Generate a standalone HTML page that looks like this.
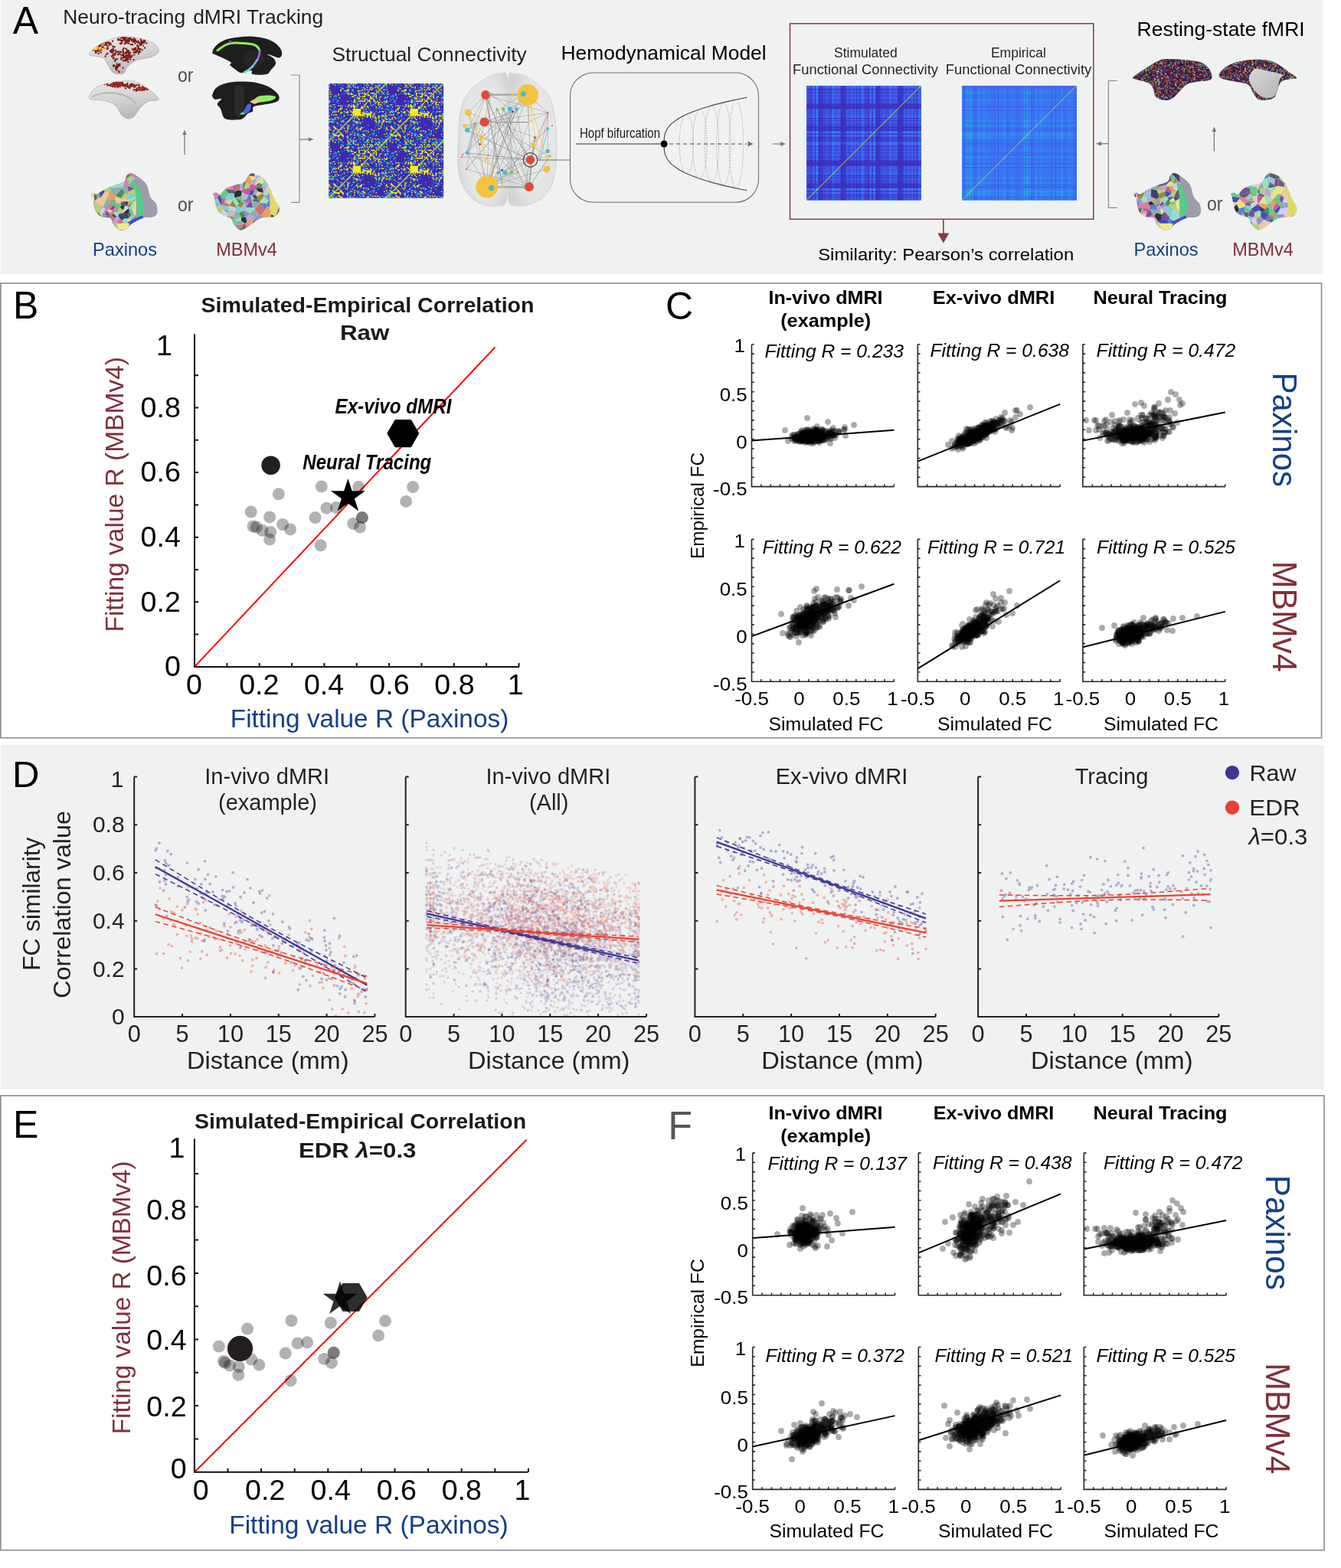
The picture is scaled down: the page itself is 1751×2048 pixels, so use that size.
<!DOCTYPE html><html><head><meta charset="utf-8"><title>Figure</title><style>html,body{margin:0;padding:0;background:#fff;width:1751px;height:2048px;overflow:hidden}svg{display:block}text{font-family:"Liberation Sans",Arial,Helvetica,sans-serif}</style></head><body>
<svg width="1751" height="2048" viewBox="0 0 1751 2048">
<rect x="0" y="0" width="1751" height="2048" fill="#ffffff"/>
<rect x="1" y="0" width="1726" height="358" fill="#f0f2f1"/>
<rect x="1" y="973" width="1728" height="450" fill="#f0f2f1"/>
<rect x="0.85" y="369.9" width="1724.7" height="593.8" fill="none" stroke="#919297" stroke-width="1.7"/>
<rect x="0.85" y="1431.1" width="1728.2" height="593.6" fill="none" stroke="#919297" stroke-width="1.7"/>
<defs><linearGradient id="gNT" x1="0" y1="0" x2="0.3" y2="1"><stop offset="0" stop-color="#e9e9e9"/><stop offset="0.6" stop-color="#d2d2d2"/><stop offset="1" stop-color="#b8b8b8"/></linearGradient><radialGradient id="gGlass" cx="0.55" cy="0.5" r="0.6"><stop offset="0" stop-color="#eceded"/><stop offset="0.75" stop-color="#e3e4e4"/><stop offset="1" stop-color="#d3d4d4"/></radialGradient><linearGradient id="gWall" x1="0" y1="0" x2="1" y2="1"><stop offset="0" stop-color="#d6d6d6"/><stop offset="1" stop-color="#b4b4b4"/></linearGradient></defs>
<text x="16.75" y="43.7" font-size="50" fill="#000">A</text>
<text x="82.2" y="31.3" font-size="25.8" fill="#231f20" textLength="160" lengthAdjust="spacingAndGlyphs">Neuro-tracing</text>
<text x="252.2" y="31.3" font-size="25.8" fill="#231f20" textLength="170" lengthAdjust="spacingAndGlyphs">dMRI Tracking</text>
<text x="232" y="106.7" font-size="25.4" fill="#4d4d4f" textLength="20.5" lengthAdjust="spacingAndGlyphs">or</text>
<text x="232" y="276" font-size="25.4" fill="#4d4d4f" textLength="20.5" lengthAdjust="spacingAndGlyphs">or</text>
<text x="1576" y="275" font-size="25.4" fill="#4d4d4f" textLength="20.5" lengthAdjust="spacingAndGlyphs">or</text>
<text x="121" y="333.5" font-size="24" fill="#153f87" textLength="84" lengthAdjust="spacingAndGlyphs">Paxinos</text>
<text x="282.3" y="333.5" font-size="24" fill="#80303a" textLength="79.5" lengthAdjust="spacingAndGlyphs">MBMv4</text>
<text x="1480.6" y="333.6" font-size="24" fill="#153f87" textLength="84" lengthAdjust="spacingAndGlyphs">Paxinos</text>
<text x="1609.3" y="333.6" font-size="24" fill="#80303a" textLength="79.5" lengthAdjust="spacingAndGlyphs">MBMv4</text>
<text x="433.4" y="79.5" font-size="26" fill="#231f20" textLength="254.3" lengthAdjust="spacingAndGlyphs">Structual Connectivity</text>
<text x="732.6" y="77.5" font-size="26" fill="#000" textLength="268" lengthAdjust="spacingAndGlyphs">Hemodynamical Model</text>
<text x="1130.3" y="74.7" font-size="17.5" fill="#231f20" text-anchor="middle">Stimulated</text>
<text x="1035" y="97.2" font-size="17.5" fill="#231f20" textLength="190" lengthAdjust="spacingAndGlyphs">Functional Connectivity</text>
<text x="1329.9" y="74.7" font-size="17.5" fill="#231f20" text-anchor="middle">Empirical</text>
<text x="1234.8" y="97.2" font-size="17.5" fill="#231f20" textLength="190.5" lengthAdjust="spacingAndGlyphs">Functional Connectivity</text>
<text x="1068.2" y="340.2" font-size="22.5" fill="#000" textLength="334" lengthAdjust="spacingAndGlyphs">Similarity: Pearson’s correlation</text>
<text x="1484.6" y="47.3" font-size="25.5" fill="#000" textLength="219" lengthAdjust="spacingAndGlyphs">Resting-state fMRI</text>
<text x="757" y="179.8" font-size="17.5" fill="#1a1a1a" textLength="105" lengthAdjust="spacingAndGlyphs">Hopf bifurcation</text>
<clipPath id="cNT1"><path d="M116.9 70.1C118.2 67.6 123.7 62.1 130 58.5C136.3 54.9 145.7 49.9 154.7 48.5C163.7 47.1 176 48.7 184 50.3C192 51.9 198.7 55.1 202.5 58C206.3 60.9 208.1 65 207.1 67.8C206.1 70.6 201.3 72.9 196.4 74.7C191.5 76.5 182.9 76.4 177.8 78.6C172.7 80.8 168.8 85 166 88C163.2 91 163.9 95.1 160.9 96.3C157.9 97.5 151.3 96.9 148 95C144.7 93.1 143 88 140.8 84.7C138.6 81.5 137.8 77.4 134.7 75.5C131.6 73.6 125.3 74.1 122.3 73.2C119.3 72.3 115.6 72.5 116.9 70.1Z"/></clipPath>
<path d="M116.9 70.1C118.2 67.6 123.7 62.1 130 58.5C136.3 54.9 145.7 49.9 154.7 48.5C163.7 47.1 176 48.7 184 50.3C192 51.9 198.7 55.1 202.5 58C206.3 60.9 208.1 65 207.1 67.8C206.1 70.6 201.3 72.9 196.4 74.7C191.5 76.5 182.9 76.4 177.8 78.6C172.7 80.8 168.8 85 166 88C163.2 91 163.9 95.1 160.9 96.3C157.9 97.5 151.3 96.9 148 95C144.7 93.1 143 88 140.8 84.7C138.6 81.5 137.8 77.4 134.7 75.5C131.6 73.6 125.3 74.1 122.3 73.2C119.3 72.3 115.6 72.5 116.9 70.1Z" fill="url(#gNT)" stroke="#9a9a9a" stroke-width="0.5"/>
<g clip-path="url(#cNT1)">
<path d="M183.9 57.8h0M167.5 54h0M187.1 59.6h0M148.3 86.6h0M177.1 68.7h0M168.3 74.1h0M124.9 60.9h0M161.7 73.9h0M161.8 50.1h0M170.7 72.3h0M166.3 77.3h0M154.1 51h0M156 94.1h0M162.8 50.6h0M188.3 52.6h0M171.1 52.1h0M165.8 78.8h0M162.5 74.9h0M177.7 67.3h0M159.8 49.8h0M124 60.4h0M150.4 71.2h0M168.9 72.3h0M168.5 52.1h0M122.5 62.3h0M155.3 52.4h0M144.8 58.2h0M162.7 50.5h0M165.8 73.7h0M151 86.4h0M163 69.7h0M155.6 84.4h0M166.9 52h0M126.6 63.2h0M138.6 58.9h0M179.3 59.8h0M159.9 53h0M170.5 74.7h0M155.7 85.8h0M145.7 68.4h0M167.5 55.2h0M128.3 66.7h0M144.5 57.4h0M168 50.5h0M126.9 67.3h0M127.4 58.1h0M157.4 57.3h0M153 76.9h0M125.9 61.7h0M165.8 65.3h0M157.6 49.4h0M180.6 55.5h0M166.2 52.4h0M167.9 70.1h0M176.6 53.8h0M175.3 71.6h0M127.1 59.8h0M165.5 71.9h0M165.8 77.1h0M175.1 49.2h0M167.8 68.5h0M168.9 72.8h0M183.1 59.2h0M165.8 68.1h0M172.7 64.7h0M124.4 64.3h0M146 73.5h0M179.8 55.4h0M174.4 54.2h0M134 60.2h0M167.3 54.3h0M172.7 72.9h0M160.7 88.7h0M166.6 56h0M163.9 56.7h0M183.1 57.2h0M166.4 53.1h0M131.1 57.3h0M128 63h0M131 58.3h0M150.8 66.5h0M164.9 48.5h0M168.4 52.4h0M154.8 47.7h0M176.7 56.8h0M155 93.3h0M138.9 70.9h0M127.2 61.3h0M181.9 56.2h0M187.1 54.5h0M131.9 68.6h0M166.6 50.1h0M136.1 58.3h0M157.5 71.4h0M175.7 55.3h0M188.5 55.9h0M173.2 63.7h0M149 72.1h0M143.8 56.5h0M168 56.8h0M127.8 60.5h0M162.8 53.4h0" stroke="#a8281a" stroke-width="2.4" stroke-linecap="round" stroke-opacity="1.0" fill="none"/>
<path d="M118.8 60.9h0M158.8 55.8h0M165.9 76.4h0M164.2 79.3h0M148.6 85.2h0M160.6 64.9h0M176.7 51.8h0M178.3 65.9h0M183.3 58.1h0M164 72.9h0M124.6 66.9h0M140.6 61.5h0M184.8 58h0M122.2 63.2h0M161.3 71.9h0M133.7 56.9h0M161.7 62.9h0M154.6 84.5h0M166.4 78h0M139.4 59h0M180.8 70.1h0M163.8 75.5h0M148.5 75h0M179 65.7h0M170.1 68.7h0M132.1 60.4h0M180.4 61.8h0M175.1 51.1h0M180.1 55.4h0M150.3 79.9h0M122.6 62.3h0M153.9 71.2h0M187.4 54.3h0M126 66.1h0M137.6 73.5h0M142.9 56.9h0M169.7 50h0M128.7 69.9h0M144 66.4h0M145.6 65.2h0M155.7 70.5h0M161.1 49.2h0M179.8 59.1h0M175.9 63.2h0M169.9 77.7h0M168.6 68.2h0M186.2 56.1h0M147.1 53.6h0M154.5 67.7h0M144.6 67.4h0M139.9 64h0M125.2 63.7h0M167.6 53.1h0M166.8 72.3h0M131.4 59h0M165.4 75.4h0M183.3 63.9h0M158.3 67.7h0M174.9 64.6h0M168.7 50.3h0M148 85.9h0M130.8 60.9h0M162.8 78.7h0M166.3 67h0M130.4 64.7h0M154.4 86.5h0M157.8 52.7h0M179.6 67.2h0M185.6 65.3h0M150 71.1h0M167.4 80.9h0M171.1 48.1h0M175.1 52.8h0M147.5 66.6h0M156.2 83.8h0M161.2 72.2h0M162.9 57h0M171.4 74.8h0M149.5 61.2h0M158.4 77.7h0M151.2 77.3h0M184.9 53.8h0M167.2 73.6h0M121.1 60.3h0M151 65.7h0M189 62.5h0M164.8 77.9h0M125.6 61.8h0M178.8 54.5h0M164.1 68.6h0M167.9 69.4h0M174.9 65.4h0M164.9 52.3h0M170.7 58.1h0M147.9 76.3h0M151.3 90.2h0M164 69.1h0M161.1 67.5h0M160.2 48.9h0M151.2 88.6h0M166.5 53.5h0M159.6 53.8h0M148.5 70h0M168.9 69.6h0M125.2 62.7h0M127.9 65.1h0M168.5 70.9h0M156.4 85.7h0M127.3 65.4h0M131.1 60.9h0M164.5 63.7h0M181.5 67.4h0M185.3 56.5h0M144.2 57h0M184 55.2h0M137.9 56h0M174.5 68.6h0M176.9 68.2h0M165.5 68h0M182.8 67.9h0M152.1 86.4h0M177.4 62.8h0M140.1 55.9h0M128.2 58.3h0M127.9 64.3h0M173.1 58.6h0M131.3 61.9h0M159.4 72.3h0M142.6 56.8h0M140.4 69.7h0M166.6 77.5h0M128.1 66.1h0M154.9 67.4h0M119.4 57.5h0M167.5 76.5h0M181.5 63.7h0M118.4 65h0M167.9 66.3h0M182.2 66.1h0M169.6 51h0M127.2 64.4h0M161.1 79.2h0M125 58.3h0M180.8 53.9h0M158.4 75.4h0M132.7 62h0M184.1 57h0M121.8 59.2h0M172.4 52.9h0M184.1 52.4h0M167.3 53.2h0M134.5 61.8h0M148.8 85.6h0M163.2 73.4h0M147.6 63.1h0M151 69.2h0M161.2 51.7h0M160.6 71.7h0M137.4 57.7h0M151.7 87.1h0M172.7 53.1h0M125.1 69h0M165.6 52.9h0M147.1 72.1h0M191.3 56.4h0M142.3 59.1h0M162.5 48.1h0M125.2 57.5h0M146.4 73.5h0M168.4 50.1h0M164 51.9h0M128.9 60.4h0M180.7 61.2h0M161.4 74.5h0M138.3 57.8h0M164.3 54.9h0M166.4 53.5h0M128 60.7h0M154.6 86.1h0M160.8 75.7h0M162.5 51.7h0M163.3 49.6h0M132.3 65.4h0M160.6 69.7h0M146.7 68.4h0M146.4 67h0M172.4 53.5h0M131 67h0M128.7 61.3h0M156.4 51.8h0M152.4 91.4h0M150.2 78.5h0M177.7 67.9h0M126.9 57.6h0M182.3 68.1h0M119 58h0M185 55.9h0M121 65h0M130.3 58.4h0M177.2 52.9h0M122.8 56.1h0M184.9 54.4h0M153.1 67.9h0M140.8 63.3h0M122.4 65h0M132 66h0M152.7 83.6h0M139 56.7h0M146.5 65.3h0M167.9 72h0M187.2 55.2h0M163.7 50.9h0M169.2 74.9h0M188 53.3h0M172.8 51.5h0M125.6 61.8h0M154.3 52.1h0M167.2 73h0M174.8 54.8h0M152.9 86.5h0M148.3 66.4h0M165.2 72.8h0M172.1 51.3h0M157 56.8h0M171 74.1h0M153.1 88.8h0M129.7 60h0M124.6 63.6h0M165.3 69.6h0M157 68.3h0M168.9 53.5h0M124.4 65.7h0M176.6 64.3h0M122.7 60h0M127.5 62.4h0M159.1 56.2h0M189.4 53.8h0M160.9 67h0M167.3 72.2h0M127.1 58.1h0M180.3 63.8h0M175.5 68.3h0M124.1 65.4h0M164.9 55.5h0M128.5 58.7h0M177 53.4h0M172.4 57.9h0M177.5 65.9h0M136.7 58.6h0M128.4 59.9h0M127.3 58.6h0M165.7 76.3h0M141.5 55.2h0M148.4 65.7h0M128.6 56.6h0M183.9 51.5h0M174.5 78.1h0M147.4 60.4h0" stroke="#7a1c14" stroke-width="2.4" stroke-linecap="round" stroke-opacity="1.0" fill="none"/>
<path d="M127.2 58.9h0M125.3 55.4h0M136.1 57.6h0M124.4 61.7h0M127.9 58.3h0M124.9 62.9h0M136.5 63.2h0M125.9 62.2h0M125 54.6h0M122.7 60.4h0M127.6 62.2h0M127.7 63.5h0M124.7 62.9h0M124.3 57.1h0M132 66.4h0M132.5 54.4h0M128.9 62.7h0M124.6 63.7h0M134 56.5h0M123.6 65h0M123 57h0M126 63.3h0M128 63.6h0M121.4 64.3h0M127.6 53.2h0M132.4 61.9h0M130.3 64.7h0M127.9 56.8h0M127.1 60.3h0M128.2 61.9h0M126.8 63.3h0M122.2 58h0M122.4 57.2h0M126.2 60h0M133 60h0M129 55.7h0M131.4 62.6h0M128.5 62.2h0M121.3 63.6h0M122.3 56.1h0" stroke="#e07818" stroke-width="2.4" stroke-linecap="round" stroke-opacity="1.0" fill="none"/>
<path d="M122.7 64.3h0M124.3 61.5h0M123.3 64.2h0M127.3 59.7h0M126.2 62h0M126.6 61.6h0M125.2 64.2h0M124.4 62.6h0M129.8 62.9h0M124 58.5h0M125.3 62.8h0M125.7 58.9h0M122.9 59.2h0M126.3 64.6h0M125.1 57.2h0M131.2 62.1h0M123.9 62.6h0M125 57.9h0" stroke="#f5e040" stroke-width="2.2" stroke-linecap="round" stroke-opacity="1.0" fill="none"/>
</g>
<clipPath id="cNT2"><path d="M116.9 124.8C118.4 121.8 121.2 115.7 128.5 112.5C135.8 109.3 151.9 106.4 160.9 105.8C169.9 105.2 174.8 105.1 182.5 108.9C190.2 112.7 205.3 124.8 207.1 128.7C208.9 132.6 197.2 130.6 193.3 132.5C189.5 134.4 187.1 136.9 184 140.2C180.9 143.4 177.7 149.5 175 152C172.3 154.5 170.6 155.2 168 155C165.4 154.8 162.3 154 159.3 151C156.3 148 154.5 140.4 150.1 137.1C145.7 133.8 138.2 132.2 133.1 131C128 129.8 122 131.2 119.3 130.2C116.6 129.2 115.4 127.8 116.9 124.8Z"/></clipPath>
<path d="M116.9 124.8C118.4 121.8 121.2 115.7 128.5 112.5C135.8 109.3 151.9 106.4 160.9 105.8C169.9 105.2 174.8 105.1 182.5 108.9C190.2 112.7 205.3 124.8 207.1 128.7C208.9 132.6 197.2 130.6 193.3 132.5C189.5 134.4 187.1 136.9 184 140.2C180.9 143.4 177.7 149.5 175 152C172.3 154.5 170.6 155.2 168 155C165.4 154.8 162.3 154 159.3 151C156.3 148 154.5 140.4 150.1 137.1C145.7 133.8 138.2 132.2 133.1 131C128 129.8 122 131.2 119.3 130.2C116.6 129.2 115.4 127.8 116.9 124.8Z" fill="url(#gNT)" stroke="#9a9a9a" stroke-width="0.5"/>
<g clip-path="url(#cNT2)">
<path d="M119.9 126.8C136.9 116.8 166.9 120.8 176.9 134.8" stroke="#a0a0a0" stroke-width="2" fill="none" opacity="0.6"/>
<path d="M153.3 109.1h0M169.1 115.1h0M166.5 108.8h0M191.6 116.5h0M179.4 115.5h0M166.3 113.2h0M158 110.4h0M171 109.9h0M165.5 110.3h0M151.5 144.9h0M160.2 108.1h0M148.5 147.3h0M184.4 117.7h0M171.9 112.5h0M159.3 111.8h0M156.7 108.9h0M149.4 112.1h0M156.6 108.6h0M149.5 110.8h0M164 115.4h0M139.9 109.7h0M147.7 112.4h0M150.8 146.1h0M157.2 109.3h0M140.5 111.5h0M149.9 143.7h0M172.7 109.8h0M184.9 117.5h0M188.8 117.3h0M174.8 117.1h0M149.8 138.3h0M153.3 108.1h0M172 111h0M164.9 112.1h0M185.8 117.5h0M155.4 111.2h0M154.8 111.8h0M174.9 110.7h0M162.5 110.6h0M162.5 112.7h0M188.2 117.5h0M163.4 112.1h0M186 116.6h0M166.3 110.5h0M165.7 111.3h0M159.7 109.9h0M178.4 110.9h0M189.5 115.3h0M171.4 110.5h0M143.6 111h0M151.3 107.1h0M185.4 114.6h0M144.6 112.2h0M170 111h0M149.1 108.7h0M176.7 112.4h0M153.6 114.1h0M155.9 111.1h0M163.3 111.3h0M153.7 111h0M177.7 116.6h0M150 110.1h0M167.6 113.8h0M148 109.7h0M159.4 108.3h0M154.8 111h0M147.9 110.2h0M161.7 110.7h0M179.7 117h0M148.2 111.1h0M185.9 114.2h0M182.8 114.4h0M156 108.7h0M152.3 110.3h0M150.6 139h0M162.9 110.4h0M154 112.2h0M149.7 108.4h0M148 109.4h0M193 116.5h0M174.6 111.4h0M162.7 110.7h0M145.6 110.1h0M150.9 141.2h0M160.3 111.4h0M175.5 111.9h0M181.4 113.9h0M173.3 110.7h0M174.3 112.2h0M155.8 108.8h0M148.6 139.4h0M157.2 109.5h0M162.5 112.2h0M179.1 116.9h0M166.6 112.6h0M150.8 112.3h0M153.3 110.5h0M164.6 111.8h0M149.7 111.9h0M146.6 110h0M146.8 109.8h0M149 138.5h0M181.1 111.4h0M175.4 111.3h0M150.4 113.5h0M188.1 116.2h0M177.9 118.8h0M170 113.5h0M147 113h0M156.6 110.4h0M157.5 108.6h0M162 112h0M163.5 112.2h0M181.4 117.2h0M155.9 112.5h0" stroke="#7a1c14" stroke-width="2.4" stroke-linecap="round" stroke-opacity="1.0" fill="none"/>
<path d="M151.4 109.8h0M190.9 115.8h0M175 113.7h0M147.4 109.3h0M169.4 113.6h0M182.8 113.9h0M157.9 110.5h0M152.1 108.7h0M186.9 114.2h0M182.4 115.6h0M155.9 108.4h0M157.6 108.8h0M172.8 110.6h0M165.7 111.1h0M158.2 110.8h0M151.9 111.9h0M150.2 139.6h0M175.4 117.5h0M188.8 115.1h0M156.6 108.9h0M169 112.1h0M184.7 116h0M182.2 117.5h0M182.5 114.9h0M185.2 117.7h0M181.5 110.8h0M185 116.3h0M177.1 113.3h0M162.4 112.4h0M156.7 108.1h0M155.8 109h0M150.1 113.3h0M143.3 111.2h0M141.4 111.1h0M156.9 113h0M157.9 108.6h0M156.2 108.8h0M151 140.4h0M155.4 107.7h0M152.3 107.8h0M156.9 108.9h0M180.2 117.4h0M157.3 110.8h0M148.3 138.6h0M157.9 108h0M174.8 111.2h0M186.3 112.9h0M149.8 110.2h0M136.7 110h0M153.8 111.9h0M147.7 107.5h0M188.5 114.9h0" stroke="#a8281a" stroke-width="2.4" stroke-linecap="round" stroke-opacity="1.0" fill="none"/>
</g>
<path d="M277.2 68.8C277.2 66.8 279.2 62.6 282 59.8C284.8 57 289 53.9 294 52C299 50.1 306 49.1 312 48.4C318 47.7 324 47.4 330 47.8C336 48.2 343 49.3 348 50.8C353 52.3 356.8 54.4 360 56.8C363.2 59.2 365.8 62.6 367.1 65.2C368.4 67.8 368.3 70.7 367.7 72.4C367.1 74.1 365.6 75.4 363.5 75.4C361.4 75.4 357.4 73.2 355 72.5C352.6 71.8 348.7 70.4 349 71C349.3 71.6 355.2 74 357 76C358.8 78 360.5 80.7 360 83.2C359.5 85.7 356 88.7 354 91C352 93.3 352 96 348 97C344 98 333.3 97.8 330 97C326.7 96.2 330.5 92.3 328 92C325.5 91.7 318.7 95.6 315 95.2C311.3 94.8 308.5 91.6 306 89.8C303.5 88 300.7 85.7 300 84.4C299.3 83.1 303 83.2 302 82C301 80.8 297.3 78.9 294 77.2C290.7 75.5 284.8 73.2 282 71.8C279.2 70.4 277.2 70.8 277.2 68.8Z" fill="#1e1e1e"/>
<path d="M327 67C333 64 340 66 345 72C347 80 340 88 330 89C320 88 316 80 318 74C320 70 323 68 327 67Z" fill="#262626"/>
<path d="M284 65.8C285.7 64.7 290.8 60.6 294 59C297.2 57.4 299 56.6 303 56.2C307 55.8 313.5 56.2 318 56.5C322.5 56.8 327 57.2 330 58C333 58.8 334.5 59.7 336 61C337.5 62.3 338.5 65.2 339 66" stroke="#8af05a" stroke-width="3.0" fill="none" stroke-linecap="round"/>
<path d="M339 66C338.9 67 339 70 338.5 72C338 74 336.4 77 336 78" stroke="#b060f0" stroke-width="2.6" fill="none" stroke-linecap="round"/>
<path d="M336 78C335.2 79.2 332.8 82.8 331 85C329.2 87.2 327 89.4 325 91C323 92.6 320 93.9 319 94.5" stroke="#60c0f0" stroke-width="2.6" fill="none" stroke-linecap="round"/>
<path d="M331 86C327 90 322 93 318 95" stroke="#70e0c0" stroke-width="2" fill="none"/>
<circle cx="300.5" cy="54.5" r="1.8" fill="#8a50b0"/>
<path d="M277.2 124C277.9 122 279.2 117.5 282 115C284.8 112.5 289 110.4 294 109C299 107.6 306 106.9 312 106.6C318 106.3 324 106.3 330 107.2C336 108.1 343 109.9 348 112C353 114.1 357.2 117.2 360 119.8C362.8 122.4 364.7 125.3 364.7 127.6C364.7 129.9 363.8 131.9 360 133.5C356.2 135.1 346.8 136.1 342 137.1C337.2 138.1 333 138.1 331 139.5C329 140.9 331.2 144.1 330 145.5C328.8 146.9 326 146.6 324 148C322 149.4 320 152.6 318 154C316 155.4 316 156.1 312 156.3C308 156.5 298 157.5 294 155.1C290 152.7 289.7 145.2 288 142C286.3 138.8 283.6 138.2 283.8 136C284 133.8 289.5 130 289 129C288.5 128 282.9 130.3 281 130C279.1 129.7 278.4 128 277.8 127C277.2 126 276.5 126 277.2 124Z" fill="#1e1e1e"/>
<path d="M309 112C313 110 318 112 319 120C320 135 318 150 312 154C306 152 305 135 306 122C306 116 307 113 309 112Z" fill="#2a2a2a"/>
<path d="M335 127C341 124 352 124 360 126C361 129 355 132 345 133C338 134 332 134 330 132Z" fill="#90f060"/>
<path d="M326 133C330 129 336 129 340 130C341 132 336 135 332 136Z" fill="#f0c090"/>
<path d="M322 138C324 135 327 134 328 137C328 142 326 146 322 148C318 149 315 149 314 148C317 146 320 143 322 138Z" fill="#4a60f0"/>
<path d="M316 147C319 147 321 148 320 149C317 150 314 150 313 149Z" fill="#70e070"/>
<clipPath id="cPX1"><path d="M118.5 253.2C119 252.4 121.1 251.5 122.3 251.6C123.5 251.7 123.1 254.5 125.4 253.9C127.7 253.3 132.1 249.9 136.2 247.8C140.3 245.8 145.7 243.4 150.1 241.6C154.5 239.8 159.8 239.1 162.4 237C165 234.9 163.9 231.1 165.5 229.3C167.1 227.5 168.9 225.7 171.7 226.2C174.5 226.7 179.2 229.7 182.5 232.3C185.8 234.9 189.4 237.5 191.7 241.6C194 245.7 194.3 252.9 196.4 257C198.5 261.1 202.6 262.9 204.1 266.3C205.6 269.7 206.1 274.3 205.6 277.1C205.1 279.9 204.1 281.9 201 283.2C197.9 284.5 192 283.2 187.1 284.8C182.2 286.4 175.3 290.2 171.7 292.5C168.1 294.8 168.1 297.2 165.5 298.6C162.9 300 159.1 301.4 156.3 300.6C153.5 299.8 150.6 296.6 148.5 294C146.4 291.4 146.5 286.6 143.9 284.8C141.3 283 136.2 284.5 133.1 283.2C130 281.9 127.2 279.9 125.4 277.1C123.6 274.3 122.9 269.1 122.3 266.3C121.7 263.5 122.1 261.8 121.6 260.1C121.1 258.4 119.8 257.4 119.3 256.2C118.8 255 118 254 118.5 253.2Z"/></clipPath>
<g clip-path="url(#cPX1)">
<path d="M118.5 253.2C119 252.4 121.1 251.5 122.3 251.6C123.5 251.7 123.1 254.5 125.4 253.9C127.7 253.3 132.1 249.9 136.2 247.8C140.3 245.8 145.7 243.4 150.1 241.6C154.5 239.8 159.8 239.1 162.4 237C165 234.9 163.9 231.1 165.5 229.3C167.1 227.5 168.9 225.7 171.7 226.2C174.5 226.7 179.2 229.7 182.5 232.3C185.8 234.9 189.4 237.5 191.7 241.6C194 245.7 194.3 252.9 196.4 257C198.5 261.1 202.6 262.9 204.1 266.3C205.6 269.7 206.1 274.3 205.6 277.1C205.1 279.9 204.1 281.9 201 283.2C197.9 284.5 192 283.2 187.1 284.8C182.2 286.4 175.3 290.2 171.7 292.5C168.1 294.8 168.1 297.2 165.5 298.6C162.9 300 159.1 301.4 156.3 300.6C153.5 299.8 150.6 296.6 148.5 294C146.4 291.4 146.5 286.6 143.9 284.8C141.3 283 136.2 284.5 133.1 283.2C130 281.9 127.2 279.9 125.4 277.1C123.6 274.3 122.9 269.1 122.3 266.3C121.7 263.5 122.1 261.8 121.6 260.1C121.1 258.4 119.8 257.4 119.3 256.2C118.8 255 118 254 118.5 253.2Z" fill="#9c9cab"/>
<path d="M163 251.5L157.7 259.1L158.9 260.3L165.6 258.9L166.3 254.7L165.4 253.1Z" fill="#b8d078"/>
<path d="M139.2 274.4L143.5 273.4L146.9 268.9L144 266.5L137.1 272.1L137.7 272.9Z" fill="#e07aa8"/>
<path d="M129.1 244.2L121.1 242.5L113.5 234.2L118.7 234.7L129.4 241.4L129.3 243.9Z" fill="#d0d0e8"/>
<path d="M144.7 277.7L142.5 278.5L139.4 274.9L139.2 274.4L143.5 273.4L147.3 274.4L147.4 274.8Z" fill="#f0c8a0"/>
<path d="M168.7 283.4L165.9 279.7L168.7 276.3L171.5 280.8Z" fill="#606060"/>
<path d="M145.6 280.7L150.1 284.4L152.2 282.6L148 279Z" fill="#3f3f6f"/>
<path d="M158.9 263L158.9 260.3L157.7 259.1L151.7 256.1L149.5 260L152 265.7L157.6 265.9Z" fill="#f0c8a0"/>
<path d="M144.6 294.2L137.2 302.6L136.8 299.1L141.4 294Z" fill="#5ad08a"/>
<path d="M126.9 287.2L122.7 290.6L122.3 292L124.4 293.6L132 291.4L132.9 287.2L132.6 287.1Z" fill="#c75a9e"/>
<path d="M157 271.1L154.1 273.3L150.3 270.2L150.1 269.7L152 265.7L157.6 265.9L158.6 268.4Z" fill="#5ad08a"/>
<path d="M148 277.9L144.7 277.7L147.4 274.8L148.6 276.6Z" fill="#d96b6b"/>
<path d="M145.1 246.3L144.8 249.9L143 250.9L136.7 250.6L135.1 248.1L134.8 247.2L135.9 246.1Z" fill="#b8d078"/>
<path d="M135 294.5L135.5 297.8L130 297.9L132.1 291.8Z" fill="#c0a0d8"/>
<path d="M155.5 279.2L154.3 276.6L154.1 273.3L157 271.1L160.7 274.2L161.8 277.3L161.6 277.9L160.9 278.4Z" fill="#b8d078"/>
<path d="M135.9 287.8L133.3 287L132.9 287.2L132 291.4L132.1 291.8L135 294.5L141 293.8Z" fill="#d96b6b"/>
<path d="M159.3 245.4L158.6 245L145.2 245.4L145.1 246.3L144.8 249.9L151.6 255.1L159.3 246.8Z" fill="#88b0b0"/>
<path d="M130 297.9L127.2 301L113.5 305.6L137.4 305.6L137.6 305.6L137.2 302.6L136.8 299.1L135.5 297.8Z" fill="#9a8fd0"/>
<path d="M166.3 235.3L166.3 234.7L160.7 232.8L158.3 233.6L158.2 233.9L162.9 238.4L165.7 236.2Z" fill="#9a8fd0"/>
<path d="M137.1 272.1L134.6 270.8L134.6 270.7L139.2 260.1L139.7 260L144 262.2L144 266.5Z" fill="#88b0b0"/>
<path d="M149.6 234.6L150.7 236.8L150.8 237.2L144.3 241.5L141 239.3L140 238.1L142.4 232.7Z" fill="#b8d078"/>
<path d="M171.5 236.9L172.6 236.7L176.5 246.7L175 246.5L169.4 243.8L169.4 242.3Z" fill="#6fbf73"/>
<path d="M155.5 279.2L160.9 278.4L163.1 285.3L159.9 287.4L156.9 285.9L154.3 281.8Z" fill="#3f3f6f"/>
<path d="M160.7 232.8L162.3 231L155.7 222L156 227.3L158.3 233.6Z" fill="#9a8fd0"/>
<path d="M139.7 260L139.2 260.1L131.9 257.2L136.7 250.6L143 250.9Z" fill="#f0c8a0"/>
<path d="M160.7 244.4L162.9 238.4L165.7 236.2L169.4 242.3L169.4 243.8L166.4 244.4Z" fill="#e07aa8"/>
<path d="M147 289.2L143.4 286.1L135.9 287.8L141 293.8L141.4 294L144.6 294.2L145.3 294.2L147.6 292.2Z" fill="#e07aa8"/>
<path d="M173.7 235.7L177.7 233L172 229.4Z" fill="#7ad0d8"/>
<path d="M165.4 253.1L166.3 254.7L177.7 253.5L176.5 246.7L175 246.5L168.1 250.1Z" fill="#b8d078"/>
<path d="M156.9 285.9L151 293.3L153.1 294.9L160.4 292.1L159.9 287.4Z" fill="#d96b6b"/>
<path d="M165.9 279.7L161.6 277.9L161.8 277.3L168 271.9L168.5 272.5L168.7 276.3Z" fill="#2f2f2f"/>
<path d="M148 277.9L148 279L152.2 282.6L154.3 281.8L155.5 279.2L154.3 276.6L148.6 276.6Z" fill="#98e0c0"/>
<path d="M164.6 295.8L166.9 300.4L177.7 305.6L137.4 305.6L137.6 305.6L138.2 305.6L155 300.5Z" fill="#4a4ab8"/>
<path d="M118.7 234.7L123.1 233.4L129.4 229.8L113.5 221.2L113.5 221.2L113.5 221.2L113.5 221.2L113.5 234.2Z" fill="#e07aa8"/>
<path d="M172.7 274.4L174.5 280L177.7 281.8L177.7 286.1L177.7 260.8L177.7 257.6Z" fill="#e8e57a"/>
<path d="M160.9 278.4L161.6 277.9L165.9 279.7L168.7 283.4L168.3 284.8L166.5 285.6L163.1 285.3Z" fill="#3f3f6f"/>
<path d="M124.1 283.3L120.5 280.8L124.2 277.3L127.5 277.7L128.4 282.5Z" fill="#a0c0e0"/>
<path d="M133.8 284L129 277.3L129.6 276.8L134 279.4Z" fill="#e8e57a"/>
<path d="M149.6 234.6L150.7 236.8L156 227.3L155.7 222L153.6 221.2L149.2 233.2Z" fill="#d0d0e8"/>
<path d="M166.7 232L166.3 234.7L160.7 232.8L162.3 231L166.4 231.8Z" fill="#d96b6b"/>
<path d="M124.1 283.3L128.4 282.5L132.6 287.1L126.9 287.2Z" fill="#98e0c0"/>
<path d="M168 271.9L168.5 272.5L172.7 274.4L177.7 257.6L177.7 257.3L168 271.5Z" fill="#98e0c0"/>
<path d="M144.3 241.5L145.2 245.4L145.1 246.3L135.9 246.1L141 239.3Z" fill="#5ad08a"/>
<path d="M152.8 221.2L151.2 221.2L177.7 221.2L177.7 221.2L177.7 234.1L177.7 233L172 229.4L171.7 229.2Z" fill="#e07aa8"/>
<path d="M158.6 268.4L157.6 265.9L158.9 263L160.2 263.5L166.7 267.7L166.7 268.9L162.6 269.3Z" fill="#606060"/>
<path d="M149.6 234.6L142.4 232.7L143.2 229.6L149.2 233.2Z" fill="#c75a9e"/>
<path d="M135.8 283.3L142.7 282.9L142.8 282.2L137.3 280.8Z" fill="#9a8fd0"/>
<path d="M126.6 259.9L125.4 247.7L124.8 247.7L122.5 248.7L123.3 262.8Z" fill="#7b4fa0"/>
<path d="M124.1 283.3L120.5 280.8L118.6 281.4L122.7 290.6L126.9 287.2Z" fill="#9a8fd0"/>
<path d="M150.8 237.2L153.6 238.2L158.2 233.9L158.3 233.6L156 227.3L150.7 236.8Z" fill="#c0a0d8"/>
<path d="M167.1 263.3L166.2 259.8L165.6 258.9L158.9 260.3L158.9 263L160.2 263.5Z" fill="#f0c8a0"/>
<path d="M166.3 235.3L166.3 234.7L166.7 232L171.7 229.2L172 229.4L173.7 235.7L172.6 236.7L171.5 236.9Z" fill="#b8d078"/>
<path d="M134.1 284.7L133.3 287L135.9 287.8L143.4 286.1L142.7 282.9L135.8 283.3Z" fill="#3f3f6f"/>
<path d="M168 271.5L166.8 269.1L177.7 260.2L177.7 256.5L177.7 257.3Z" fill="#4b8f5a"/>
<path d="M141 239.3L135.9 246.1L134.8 247.2L133.2 245.8L138.6 237.8L138.8 237.8L140 238.1Z" fill="#3f3f6f"/>
<path d="M175.3 293.2L177.7 305.6L177.7 305.6L177.7 305.6L166.9 300.4Z" fill="#e8e57a"/>
<path d="M171.5 280.8L174.5 280L172.7 274.4L168.5 272.5L168.7 276.3Z" fill="#88b0b0"/>
<path d="M126.6 259.9L130.7 257.4L129.9 250.6L127.4 246.8L125.4 247.7Z" fill="#6fbf73"/>
<path d="M165.2 294.2L172.3 291.2L171.2 287.6L168.3 284.8L166.5 285.6Z" fill="#e8e57a"/>
<path d="M159.3 246.8L151.6 255.1L151.7 256.1L157.7 259.1L163 251.5Z" fill="#4b8f5a"/>
<path d="M164.5 294.9L164.6 295.8L155 300.5L153.1 294.9L160.4 292.1Z" fill="#c0a0d8"/>
<path d="M160.7 244.4L159.3 245.4L159.3 246.8L163 251.5L165.4 253.1L168.1 250.1L166.4 244.4Z" fill="#88b0b0"/>
<path d="M147.6 292.2L151 293.3L153.1 294.9L155 300.5L138.2 305.6L145.3 294.2Z" fill="#b8d078"/>
<path d="M149.2 233.2L153.6 221.2L152.7 221.2L150.7 221.2L142.8 221.2L143.2 229.6Z" fill="#f0c8a0"/>
<path d="M142.5 278.5L139.4 274.9L137.3 280.8L142.8 282.2L143.2 280.7Z" fill="#7b4fa0"/>
<path d="M166.4 244.4L169.4 243.8L175 246.5L168.1 250.1Z" fill="#7b4fa0"/>
<path d="M177.7 253.5L177.7 256.4L166.2 259.8L165.6 258.9L166.3 254.7Z" fill="#7ad0d8"/>
<path d="M129.6 276.8L134.6 270.8L134.6 270.7L123.1 263L122.3 263.3L124.2 277.3L127.5 277.7L129 277.3Z" fill="#b8d078"/>
<path d="M152.7 221.2L153.6 221.2L155.7 222L162.3 231L166.4 231.8Z" fill="#3f3f6f"/>
<path d="M133.2 245.8L138.6 237.8L133.8 237.3L129.4 241.4L129.3 243.9Z" fill="#9a8fd0"/>
<path d="M131.6 231L129.4 229.8L123.1 233.4L133.3 236.6Z" fill="#88b0b0"/>
<path d="M134.1 284.7L133.3 287L132.9 287.2L132.6 287.1L128.4 282.5L127.5 277.7L129 277.3L133.8 284Z" fill="#8f8f3a"/>
<path d="M150.8 237.2L153.6 238.2L158.6 245L145.2 245.4L144.3 241.5Z" fill="#98e0c0"/>
<path d="M126.6 259.9L130.7 257.4L131.9 257.2L139.2 260.1L134.6 270.7L123.1 263L123.3 262.8Z" fill="#f0c8a0"/>
<path d="M135.1 248.1L136.7 250.6L131.9 257.2L130.7 257.4L129.9 250.6Z" fill="#4a4ab8"/>
<path d="M125.4 247.7L127.4 246.8L129.1 244.2L121.1 242.5L124.8 247.7Z" fill="#98e0c0"/>
<path d="M141 293.8L135 294.5L135.5 297.8L136.8 299.1L141.4 294Z" fill="#d96b6b"/>
<path d="M167.5 264.1L166.7 267.7L160.2 263.5L167.1 263.3Z" fill="#3f3f6f"/>
<path d="M124.2 277.3L122.3 263.3L113.5 249.1L113.5 237.8L113.5 258.9L118.6 281.4L120.5 280.8Z" fill="#9a8fd0"/>
<path d="M148 277.9L148 279L145.6 280.7L143.2 280.7L142.5 278.5L144.7 277.7Z" fill="#e07aa8"/>
<path d="M154.3 281.8L152.2 282.6L150.1 284.4L147 289.2L147.6 292.2L151 293.3L156.9 285.9Z" fill="#c0a0d8"/>
<path d="M122.5 248.7L113.5 249.1L113.5 237.8L113.5 221.2L113.5 234.2L121.1 242.5L124.8 247.7Z" fill="#606060"/>
<path d="M138.8 237.8L136.2 228.5L131.6 231L133.3 236.6L133.8 237.3L138.6 237.8Z" fill="#e8e57a"/>
<path d="M167.5 264.1L177.7 260.2L177.7 256.5L177.7 256.4L166.2 259.8L167.1 263.3Z" fill="#98e0c0"/>
<path d="M173.7 235.7L172.6 236.7L176.5 246.7L177.7 253.5L177.7 256.4L177.7 256.5L177.7 257.3L177.7 257.6L177.7 260.8L177.7 234.1L177.7 233Z" fill="#9a8fd0"/>
<path d="M152.7 221.2L166.4 231.8L166.7 232L171.7 229.2L152.8 221.2L150.7 221.2Z" fill="#4b8f5a"/>
<path d="M132 291.4L124.4 293.6L127.2 301L130 297.9L132.1 291.8Z" fill="#98e0c0"/>
<path d="M160.7 274.2L161.8 277.3L168 271.9L168 271.5L166.8 269.1L166.7 268.9L162.6 269.3Z" fill="#d0d0e8"/>
<path d="M151.7 256.1L149.5 260L144 262.2L139.7 260L143 250.9L144.8 249.9L151.6 255.1Z" fill="#e6a060"/>
<path d="M133.8 237.3L129.4 241.4L118.7 234.7L123.1 233.4L133.3 236.6Z" fill="#c0a0d8"/>
<path d="M143.2 280.7L142.8 282.2L142.7 282.9L143.4 286.1L147 289.2L150.1 284.4L145.6 280.7Z" fill="#d96b6b"/>
<path d="M167.5 264.1L177.7 260.2L166.8 269.1L166.7 268.9L166.7 267.7Z" fill="#e6a060"/>
<path d="M166.3 235.3L171.5 236.9L169.4 242.3L165.7 236.2Z" fill="#7ad0d8"/>
<path d="M145.3 294.2L138.2 305.6L137.6 305.6L137.2 302.6L144.6 294.2Z" fill="#e6a060"/>
<path d="M122.3 292L113.5 305.6L113.5 305.6L113.5 305.6L127.2 301L124.4 293.6Z" fill="#a0c0e0"/>
<path d="M164.5 294.9L164.6 295.8L166.9 300.4L175.3 293.2L172.3 291.2L165.2 294.2Z" fill="#d96b6b"/>
<path d="M171.2 287.6L172.3 291.2L175.3 293.2L177.7 305.6L177.7 305.6L177.7 286.1L177.7 281.8Z" fill="#8f8f3a"/>
<path d="M146.9 268.9L150.1 269.7L152 265.7L149.5 260L144 262.2L144 266.5Z" fill="#6fbf73"/>
<path d="M134.8 247.2L133.2 245.8L129.3 243.9L129.1 244.2L127.4 246.8L129.9 250.6L135.1 248.1Z" fill="#f0c8a0"/>
<path d="M148.6 276.6L154.3 276.6L154.1 273.3L150.3 270.2L147.3 274.4L147.4 274.8Z" fill="#e07aa8"/>
<path d="M160.7 244.4L162.9 238.4L158.2 233.9L153.6 238.2L158.6 245L159.3 245.4Z" fill="#98e0c0"/>
<path d="M147.3 274.4L143.5 273.4L146.9 268.9L150.1 269.7L150.3 270.2Z" fill="#7b4fa0"/>
<path d="M142.4 232.7L140 238.1L138.8 237.8L136.2 228.5L142.8 221.2L143.2 229.6Z" fill="#98e0c0"/>
<path d="M150.7 221.2L142.8 221.2L136.2 228.5L131.6 231L129.4 229.8L113.5 221.2L151.2 221.2L152.8 221.2Z" fill="#88b0b0"/>
<path d="M134.1 284.7L135.8 283.3L137.3 280.8L139.4 274.9L139.2 274.4L137.7 272.9L134 279.4L133.8 284Z" fill="#9a8fd0"/>
<path d="M123.3 262.8L123.1 263L122.3 263.3L113.5 249.1L122.5 248.7Z" fill="#e8e57a"/>
<path d="M134 279.4L129.6 276.8L134.6 270.8L137.1 272.1L137.7 272.9Z" fill="#d0d0e8"/>
<path d="M168.7 283.4L168.3 284.8L171.2 287.6L177.7 281.8L174.5 280L171.5 280.8Z" fill="#7ad0d8"/>
<path d="M122.7 290.6L118.6 281.4L113.5 258.9L113.5 305.6L113.5 305.6L122.3 292Z" fill="#b8d078"/>
<path d="M157 271.1L160.7 274.2L162.6 269.3L158.6 268.4Z" fill="#2f2f2f"/>
<path d="M163.1 285.3L166.5 285.6L165.2 294.2L164.5 294.9L160.4 292.1L159.9 287.4Z" fill="#98e0c0"/>
<path d="M172.5 233.6L183 248.5L188.2 270.8L184.7 285.7L179.5 282L177.7 256Z" fill="#4fcf85"/>
<path d="M166.4 290.2L185.6 281.3L188.2 287.2L170.8 296.9Z" fill="#4a4acb"/>
<path d="M151.6 291.7L169 291.7L167.3 300.6L155.1 300.6Z" fill="#eeeb8a"/>
</g>
<clipPath id="cMB1"><path d="M278.1 253.2C278.6 252.3 281.2 251.5 282.7 251.6C284.2 251.7 285.2 254.8 287.3 253.9C289.4 253 291.6 248.2 295 246.2C298.4 244.1 303.5 242.9 307.4 241.6C311.3 240.3 315.4 240.6 318.2 238.5C321 236.4 322.2 231.4 324.3 229.3C326.4 227.2 327.7 225.9 330.5 226.2C333.3 226.4 337.9 228.2 341.3 230.8C344.7 233.4 348 237.2 350.6 241.6C353.2 246 354.4 252.1 356.7 257C359 261.9 363.4 267.3 364.4 270.9C365.4 274.5 364.2 276.6 362.9 278.6C361.6 280.7 360.3 282.2 356.7 283.2C353.1 284.2 345.9 283.2 341.3 284.8C336.7 286.4 332.6 290.2 329 292.5C325.4 294.8 322.3 297.2 319.7 298.6C317.1 300 315.8 301.4 313.5 300.6C311.2 299.8 307.9 296.6 305.8 294C303.8 291.4 303.5 286.9 301.2 284.8C298.9 282.8 294.8 283.2 292 281.7C289.2 280.1 286 278.3 284.2 275.5C282.4 272.7 282 267.8 281.2 264.7C280.4 261.6 280.1 258.9 279.6 257C279.1 255.1 277.6 254.1 278.1 253.2Z"/></clipPath>
<g clip-path="url(#cMB1)">
<path d="M315 329.9L322.4 301.4L319.6 292L319.5 292L318.2 292.8L316.8 296.6Z" fill="#606060"/>
<path d="M291.4 291L297.5 296L299.8 293.8L298.5 288.7L295.2 286.8Z" fill="#e8e57a"/>
<path d="M329.4 255.2L327.2 255L329 263.4L329.9 263L331.9 259.1Z" fill="#b8d078"/>
<path d="M357.5 237.7L355.5 234.1L359.6 225.1L364.9 216.8L564.3 -66.1L766.4 133.3L764.2 200.6L386.4 245.7L379.4 245.2Z" fill="#6fbf73"/>
<path d="M353.4 295.6L353.7 298.4L348.7 310.6L347.7 306.4L348.5 294.5Z" fill="#c75a9e"/>
<path d="M357.8 242.1L355 246.5L353.8 246.5L351.5 242.4L357.1 241.2Z" fill="#7ad0d8"/>
<path d="M307.4 271.1L308.5 269L309.7 268.4L315 271.5L317.7 275.7L312.2 277.8L307 276.5L307 276.4Z" fill="#7ad0d8"/>
<path d="M303.3 242.8L304.9 247.2L292.8 245.8L290.7 244L292.1 242.6L293.4 242.2Z" fill="#e07aa8"/>
<path d="M358.2 287.9L353.1 282.6L345.8 284.6L348.1 289.1Z" fill="#b8d078"/>
<path d="M342.2 242.1L342.3 242.3L348.7 243.3L350.7 241.8L350.1 237.5L344.3 236.9L342.3 240.4Z" fill="#7ad0d8"/>
<path d="M344.9 255.2L350.6 253.9L355.4 254.4L356.2 254.8L358 257.1L356.8 262.3L350.8 262.4L344.9 256Z" fill="#9a8fd0"/>
<path d="M313.3 239.4L309.3 241.9L310.8 248.6L313.8 248.9Z" fill="#8f8f3a"/>
<path d="M299.8 293.8L307.5 295.2L308.1 294.2L308.1 288.8L307.6 287.5L305.5 285.1L298.5 288.7Z" fill="#5ad08a"/>
<path d="M299.1 269.7L296.4 273.5L298.1 274.4L300.7 274.1L299.2 269.6Z" fill="#b8d078"/>
<path d="M355.7 273.8L352.1 274.7L352.6 271.9Z" fill="#d96b6b"/>
<path d="M360.4 247.2L356.6 253.6L356.9 247Z" fill="#7b4fa0"/>
<path d="M315.3 235.8L306 233.2L305.4 234.8L305.5 239.7L309.3 241.9L313.3 239.4Z" fill="#3f3f6f"/>
<path d="M353.5 292L358.6 289.4L359.1 288.4L358.2 287.9L348.1 289.1L348.7 292.3Z" fill="#c75a9e"/>
<path d="M305.3 283.2L306.6 277.3L307 276.5L312.2 277.8L314.4 283.4L307.6 287.5L305.5 285.1Z" fill="#88b0b0"/>
<path d="M318.6 275.6L321 283.9L314.7 283.5L314.4 283.4L312.2 277.8L317.7 275.7Z" fill="#4b8f5a"/>
<path d="M315 329.9L322.4 301.4L328.1 296.1L328.6 296.2L330.6 297L333 304.9L331.5 700.5L295.8 700.3L300.3 464.3L308.9 361.9Z" fill="#d0d0e8"/>
<path d="M299.1 269.7L289.2 268L289.5 267.6L293.5 265.2L295.5 264.6L299.9 267.4L300.1 268.7L299.2 269.6Z" fill="#d96b6b"/>
<path d="M305.4 234.8L296.8 238.9L293.4 242.2L303.3 242.8L305.5 239.7Z" fill="#3f3f6f"/>
<path d="M299.2 269.6L300.1 268.7L307.4 271.1L307 276.4L300.7 274.1Z" fill="#d0d0e8"/>
<path d="M304.9 247.2L292.8 245.8L294.8 248.1L305.4 248.1Z" fill="#d96b6b"/>
<path d="M326.1 263.7L322.3 259.5L317.4 261.8L317.2 262.3L324.5 265.4Z" fill="#c75a9e"/>
<path d="M284 258.7L284.4 257.2L286.8 254.1L289.9 260.1L289.5 267.6L289.2 268L289 268.2L288.6 268.2Z" fill="#4a4ab8"/>
<path d="M340 265L345.7 274.2L348.9 269.9L348.4 265.7Z" fill="#5b7bd5"/>
<path d="M288.5 292.2L288.7 292.1L291.4 291L297.5 296L291.3 310.5L286.7 297.7Z" fill="#d0d0e8"/>
<path d="M322.7 289.6L321.3 284.2L321 283.9L314.7 283.5L314.8 288.2L319.5 292L319.6 292L322.6 289.9Z" fill="#2f2f2f"/>
<path d="M333.7 254.2L335.7 256.5L335.9 259.7L331.9 259.1L329.4 255.2L329.8 255Z" fill="#3f3f6f"/>
<path d="M289.2 280.9L294.4 284L295.2 286.8L291.4 291L288.7 292.1Z" fill="#9a8fd0"/>
<path d="M319.5 292L314.8 288.2L308.1 288.8L308.1 294.2L318.2 292.8Z" fill="#88b0b0"/>
<path d="M331.2 286.7L332.6 284.2L325.6 280.8L321.3 284.2L322.7 289.6Z" fill="#c0a0d8"/>
<path d="M330.4 271.2L321.8 271.2L321.3 269.6L324.5 265.4L326.1 263.7L328.3 264.1Z" fill="#7b4fa0"/>
<path d="M355.4 295.1L358.2 293L358.6 289.4L353.5 292Z" fill="#88b0b0"/>
<path d="M339.2 263.3L339.1 264.3L339.2 264.5L340 265L348.4 265.7L350.8 262.4L344.9 256Z" fill="#98e0c0"/>
<path d="M290.7 244L288 244.7L-21.6 35.3L37.4 -23.9L292.5 234.6L292.1 242.6Z" fill="#4a4ab8"/>
<path d="M346.6 248.3L351.4 248.4L353.5 247.3L353.8 246.5L351.5 242.4L350.7 241.8L348.7 243.3Z" fill="#d0d0e8"/>
<path d="M330.4 271.2L321.8 271.2L320.2 274.4L325.9 278.2L333 273.5L332.9 272.9Z" fill="#98e0c0"/>
<path d="M343.2 251.9L343.2 252.2L335.7 256.5L333.7 254.2L336.6 249.8Z" fill="#f0c8a0"/>
<path d="M295.8 257.1L287 253L286.8 254.1L289.9 260.1L294.2 258.6Z" fill="#6fbf73"/>
<path d="M315.7 250.7L314.7 256.3L317.4 261.8L322.3 259.5L324.4 255.2Z" fill="#a0c0e0"/>
<path d="M335.1 243.6L342.2 242.1L342.3 240.4L337.7 238.4L333.9 242.1Z" fill="#4b8f5a"/>
<path d="M342 230.3L342.1 231.4L343.1 234.9L344.3 236.9L350.1 237.5L350.4 237.2L348.6 232.7L344.6 230.9Z" fill="#b8d078"/>
<path d="M343.3 228.9L348.4 229.8L348.9 230.4L344.6 230.9L342 230.3L341.5 229.4L341.5 229Z" fill="#e8e57a"/>
<path d="M290.9 273.7L296.4 273.5L298.1 274.4L298.1 278.8L297.9 279Z" fill="#88b0b0"/>
<path d="M343.7 250.6L346.6 248.3L351.4 248.4L350.6 253.9L344.9 255.2L343.2 252.2L343.2 251.9Z" fill="#98e0c0"/>
<path d="M329 263.4L327.2 255L325.8 254.5L324.4 255.2L322.3 259.5L326.1 263.7L328.3 264.1Z" fill="#5b7bd5"/>
<path d="M339.8 295.8L339.7 296.5L338.5 297.4L331.8 296L334.2 292.4L338.3 292.5Z" fill="#e07aa8"/>
<path d="M345.7 274.2L345.5 275.2L350.8 275.8L352.1 274.7L352.6 271.9L351.9 270.1L348.9 269.9Z" fill="#e6a060"/>
<path d="M307.6 287.5L314.4 283.4L314.7 283.5L314.8 288.2L308.1 288.8Z" fill="#98e0c0"/>
<path d="M358.2 287.9L353.1 282.6L355.1 279.5L357.4 278.3L379.4 281.8L359.1 288.4Z" fill="#2f2f2f"/>
<path d="M355.2 295.4L355.7 296.6L353.7 298.4L353.4 295.6Z" fill="#606060"/>
<path d="M344.6 230.9L348.6 232.7L349.2 230.5L348.9 230.4Z" fill="#c75a9e"/>
<path d="M315.1 249.3L315.7 250.7L314.7 256.3L307.7 258.1L306.9 258L306.2 257.8L305.3 252.4L306.8 249.9L310.8 248.6L313.8 248.9Z" fill="#2f2f2f"/>
<path d="M322.6 289.9L319.6 292L322.4 301.4L328.1 296.1Z" fill="#e07aa8"/>
<path d="M293.5 265.2L289.5 267.6L289.9 260.1L294.2 258.6Z" fill="#c75a9e"/>
<path d="M348.5 294.5L347.7 306.4L339.7 296.5L339.8 295.8L344.3 294.3L348.4 294.1Z" fill="#b8d078"/>
<path d="M357.1 241.2L351.5 242.4L350.7 241.8L350.1 237.5L350.4 237.2L355.5 234.1L357.5 237.7Z" fill="#88b0b0"/>
<path d="M296.1 230.3L66.4 -53.5L37.4 -23.9L292.5 234.6Z" fill="#606060"/>
<path d="M344.3 294.3L340.3 289.1L338.3 292.5L339.8 295.8Z" fill="#a0c0e0"/>
<path d="M335.7 256.5L343.2 252.2L344.9 255.2L344.9 256L339.2 263.3L335.9 259.7Z" fill="#8f8f3a"/>
<path d="M281.1 261.4L279.4 261.6L281.7 269.9L287.2 268.3Z" fill="#88b0b0"/>
<path d="M355.2 295.4L355.7 296.6L364.2 304.6L358.2 293L355.4 295.1Z" fill="#e6a060"/>
<path d="M317.4 235.6L317.1 247.5L318.8 246.9L321.1 238.2Z" fill="#4b8f5a"/>
<path d="M297.5 296L291.3 310.5L300.3 464.3L308.9 361.9L308 299.4L307.5 295.2L299.8 293.8Z" fill="#f0c8a0"/>
<path d="M284.4 257.2L266.7 257.7L266 257.5L286.5 249.8L287 253L286.8 254.1Z" fill="#e07aa8"/>
<path d="M342.6 246L342.3 242.3L348.7 243.3L346.6 248.3L343.7 250.6Z" fill="#c0a0d8"/>
<path d="M309.3 241.9L310.8 248.6L306.8 249.9L305.4 248.1L304.9 247.2L303.3 242.8L305.5 239.7Z" fill="#c75a9e"/>
<path d="M321.3 269.6L318.2 266.4L316.4 263.8L317.2 262.3L324.5 265.4Z" fill="#88b0b0"/>
<path d="M293.5 265.2L294.2 258.6L295.8 257.1L296.5 257L299.2 260.5L295.5 264.6Z" fill="#7ad0d8"/>
<path d="M331.4 287.3L334.2 292.4L331.8 296L330.6 297L328.6 296.2Z" fill="#3f3f6f"/>
<path d="M321.4 225.9L316.9 177.5L304.5 229.4L306 233.2L315.3 235.8L317.3 235.4Z" fill="#c75a9e"/>
<path d="M343.3 228.9L346.9 228.5L348.1 229.2L348.4 229.8Z" fill="#8f8f3a"/>
<path d="M333.9 242.1L332.2 241.2L335.1 234.7L337.1 236.3L337.7 237.1L337.7 238.4Z" fill="#f0c8a0"/>
<path d="M340 265L339.2 264.5L332.9 272.9L333 273.5L337.9 280.1L341.4 281L345.5 275.2L345.7 274.2Z" fill="#d96b6b"/>
<path d="M296.6 282.1L305.3 283.2L305.5 285.1L298.5 288.7L295.2 286.8L294.4 284Z" fill="#c75a9e"/>
<path d="M281.1 261.4L287.2 268.3L288.6 268.2L284 258.7Z" fill="#7ad0d8"/>
<path d="M355.7 273.8L352.6 271.9L351.9 270.1L354.1 269L356.7 272.3L356 273.8Z" fill="#9a8fd0"/>
<path d="M356 273.8L357.4 278.3L379.4 281.8L397.6 279.7L365.1 268.5L356.7 272.3Z" fill="#3f3f6f"/>
<path d="M317.6 165.5L329.3 -173.1L334.7 -173.2L340.6 226.4L333 230.5Z" fill="#e8e57a"/>
<path d="M357.8 242.1L355 246.5L356.9 247L360.4 247.2L365.5 245.5Z" fill="#e8e57a"/>
<path d="M347.7 306.4L339.7 296.5L338.5 297.4L333 304.9L331.5 700.5L404.2 702.2L348.7 310.6Z" fill="#d96b6b"/>
<path d="M329.8 255L329.4 255.2L327.2 255L325.8 254.5L326.4 247.7L332.4 248.7Z" fill="#4a4ab8"/>
<path d="M316.8 296.6L318.2 292.8L308.1 294.2L307.5 295.2L308 299.4Z" fill="#d96b6b"/>
<path d="M306.9 258L312.2 266.1L309.7 268.4L308.5 269L303.5 261.7L303.4 261.3L306.2 257.8Z" fill="#98e0c0"/>
<path d="M321.1 238.2L318.8 246.9L325.4 245.5L326.7 241.4Z" fill="#b8d078"/>
<path d="M298.7 230.6L296.1 230.3L66.4 -53.5L185.8 -177.4L329.3 -173.1L317.6 165.5L316.9 177.5L304.5 229.4Z" fill="#5b7bd5"/>
<path d="M317.3 235.4L315.3 235.8L313.3 239.4L313.8 248.9L315.1 249.3L317.1 247.5L317.4 235.6Z" fill="#c0a0d8"/>
<path d="M317.1 247.5L318.8 246.9L325.4 245.5L326.4 247.7L325.8 254.5L324.4 255.2L315.7 250.7L315.1 249.3Z" fill="#c75a9e"/>
<path d="M281.1 261.4L279.4 261.6L266.7 257.7L284.4 257.2L284 258.7Z" fill="#9a8fd0"/>
<path d="M307.7 258.1L316.1 263.9L316.4 263.8L317.2 262.3L317.4 261.8L314.7 256.3Z" fill="#6fbf73"/>
<path d="M307.4 271.1L308.5 269L303.5 261.7L299.9 267.4L300.1 268.7Z" fill="#8f8f3a"/>
<path d="M335.9 259.7L331.9 259.1L329.9 263L339.1 264.3L339.2 263.3Z" fill="#606060"/>
<path d="M348.1 229.2L350.3 226.7L346.9 228.5Z" fill="#98e0c0"/>
<path d="M335.2 245L335.1 243.6L333.9 242.1L332.2 241.2L328.1 240.6L326.7 241.4L325.4 245.5L326.4 247.7L332.4 248.7L335.3 248.1Z" fill="#c75a9e"/>
<path d="M333 304.9L338.5 297.4L331.8 296L330.6 297Z" fill="#4b8f5a"/>
<path d="M325.7 229.8L332.8 230.7L333 230.5L317.6 165.5L316.9 177.5L321.4 225.9Z" fill="#7b4fa0"/>
<path d="M297.9 279L298.1 278.8L306.6 277.3L305.3 283.2L296.6 282.1Z" fill="#b8d078"/>
<path d="M306.9 258L312.2 266.1L316.1 263.9L307.7 258.1Z" fill="#4b8f5a"/>
<path d="M341.4 281L342.8 282.9L345.8 284.6L353.1 282.6L355.1 279.5L350.8 275.8L345.5 275.2Z" fill="#e6a060"/>
<path d="M365.5 245.5L360.4 247.2L356.6 253.6L356.2 254.8L358 257.1L386.4 245.7L379.4 245.2Z" fill="#9a8fd0"/>
<path d="M295.8 257.1L287 253L286.5 249.8L288 244.7L290.7 244L292.8 245.8L294.8 248.1L298.2 252.6L296.5 257Z" fill="#5ad08a"/>
<path d="M260 281.4L281.7 269.9L279.4 261.6L266.7 257.7L266 257.5L-121.5 275.9L-121.5 292L251.1 282.8Z" fill="#7ad0d8"/>
<path d="M359.1 288.4L379.4 281.8L397.6 279.7L763.8 306.7L767.1 393.9L568.2 591.5L364.2 304.6L358.2 293L358.6 289.4Z" fill="#9a8fd0"/>
<path d="M351.4 248.4L353.5 247.3L355.4 254.4L350.6 253.9Z" fill="#7b4fa0"/>
<path d="M325.7 229.8L332.8 230.7L333.4 233.4L328.6 236.1Z" fill="#e8e57a"/>
<path d="M348.4 229.8L348.1 229.2L350.3 226.7L364.9 216.8L359.6 225.1L349.2 230.5L348.9 230.4Z" fill="#6fbf73"/>
<path d="M331.2 286.7L322.7 289.6L322.6 289.9L328.1 296.1L328.6 296.2L331.4 287.3Z" fill="#e6a060"/>
<path d="M355 246.5L356.9 247L356.6 253.6L356.2 254.8L355.4 254.4L353.5 247.3L353.8 246.5Z" fill="#88b0b0"/>
<path d="M305.4 234.8L296.8 238.9L298.7 230.6L304.5 229.4L306 233.2Z" fill="#8f8f3a"/>
<path d="M321.8 271.2L320.2 274.4L318.6 275.6L317.7 275.7L315 271.5L318.2 266.4L321.3 269.6Z" fill="#a0c0e0"/>
<path d="M337.9 280.1L332.6 284.2L331.2 286.7L331.4 287.3L334.2 292.4L338.3 292.5L340.3 289.1L342.8 282.9L341.4 281Z" fill="#9a8fd0"/>
<path d="M290.9 273.7L296.4 273.5L299.1 269.7L289.2 268L289 268.2L290.9 273.6Z" fill="#7ad0d8"/>
<path d="M337.7 238.4L337.7 237.1L343.1 234.9L344.3 236.9L342.3 240.4Z" fill="#e8e57a"/>
<path d="M299.2 260.5L303.4 261.3L306.2 257.8L305.3 252.4L298.2 252.6L296.5 257Z" fill="#7ad0d8"/>
<path d="M342.6 246L335.2 245L335.3 248.1L336.6 249.8L343.2 251.9L343.7 250.6Z" fill="#2f2f2f"/>
<path d="M343.3 228.9L346.9 228.5L350.3 226.7L364.9 216.8L564.3 -66.1L456.6 -177.2L334.7 -173.2L340.6 226.4L341.5 229Z" fill="#d0d0e8"/>
<path d="M315 329.9L316.8 296.6L308 299.4L308.9 361.9Z" fill="#4b8f5a"/>
<path d="M358 257.1L386.4 245.7L764.2 200.6L763.8 306.7L397.6 279.7L365.1 268.5L357 262.7L356.8 262.3Z" fill="#d0d0e8"/>
<path d="M328.1 240.6L332.2 241.2L335.1 234.7L335 234.4L333.4 233.4L328.6 236.1Z" fill="#c0a0d8"/>
<path d="M348.7 292.3L348.1 289.1L345.8 284.6L342.8 282.9L340.3 289.1L344.3 294.3L348.4 294.1Z" fill="#4b8f5a"/>
<path d="M251.1 282.8L-121.5 292L-126.1 394.7L184.8 706L295.8 700.3L300.3 464.3L291.3 310.5L286.7 297.7Z" fill="#e8e57a"/>
<path d="M279.2 282.9L288.6 280.3L289.2 280.9L288.7 292.1L288.5 292.2Z" fill="#8f8f3a"/>
<path d="M342.6 246L342.3 242.3L342.2 242.1L335.1 243.6L335.2 245Z" fill="#4b8f5a"/>
<path d="M357.8 242.1L365.5 245.5L379.4 245.2L357.5 237.7L357.1 241.2Z" fill="#e6a060"/>
<path d="M329.9 263L339.1 264.3L339.2 264.5L332.9 272.9L330.4 271.2L328.3 264.1L329 263.4Z" fill="#88b0b0"/>
<path d="M356.7 272.3L365.1 268.5L357 262.7L354.1 269Z" fill="#f0c8a0"/>
<path d="M260 281.4L279.2 282.9L288.5 292.2L286.7 297.7L251.1 282.8Z" fill="#7ad0d8"/>
<path d="M353.7 298.4L348.7 310.6L404.2 702.2L456.8 704.4L568.2 591.5L364.2 304.6L355.7 296.6Z" fill="#5ad08a"/>
<path d="M355.2 295.4L353.4 295.6L348.5 294.5L348.4 294.1L348.7 292.3L353.5 292L355.4 295.1Z" fill="#5b7bd5"/>
<path d="M336.6 249.8L333.7 254.2L329.8 255L332.4 248.7L335.3 248.1Z" fill="#88b0b0"/>
<path d="M309.7 268.4L315 271.5L318.2 266.4L316.4 263.8L316.1 263.9L312.2 266.1Z" fill="#8f8f3a"/>
<path d="M337.7 237.1L343.1 234.9L342.1 231.4L337.1 236.3Z" fill="#d0d0e8"/>
<path d="M295.5 264.6L299.9 267.4L303.5 261.7L303.4 261.3L299.2 260.5Z" fill="#f0c8a0"/>
<path d="M341.5 229L340.6 226.4L333 230.5L332.8 230.7L333.4 233.4L335 234.4L341.5 229.4Z" fill="#a0c0e0"/>
<path d="M341.5 229.4L335 234.4L335.1 234.7L337.1 236.3L342.1 231.4L342 230.3Z" fill="#f0c8a0"/>
<path d="M325.7 229.8L328.6 236.1L328.1 240.6L326.7 241.4L321.1 238.2L317.4 235.6L317.3 235.4L321.4 225.9Z" fill="#e6a060"/>
<path d="M305.3 252.4L298.2 252.6L294.8 248.1L305.4 248.1L306.8 249.9Z" fill="#606060"/>
<path d="M266 257.5L-121.5 275.9L-124 133.2L-21.6 35.3L288 244.7L286.5 249.8Z" fill="#7b4fa0"/>
<path d="M289.2 280.9L294.4 284L296.6 282.1L297.9 279L290.9 273.7L290.9 273.6L288.6 280.3Z" fill="#d0d0e8"/>
<path d="M348.6 232.7L350.4 237.2L355.5 234.1L359.6 225.1L349.2 230.5Z" fill="#e6a060"/>
<path d="M298.7 230.6L296.1 230.3L292.5 234.6L292.1 242.6L293.4 242.2L296.8 238.9Z" fill="#98e0c0"/>
<path d="M260 281.4L281.7 269.9L287.2 268.3L288.6 268.2L289 268.2L290.9 273.6L288.6 280.3L279.2 282.9Z" fill="#b8d078"/>
<path d="M300.7 274.1L307 276.4L307 276.5L306.6 277.3L298.1 278.8L298.1 274.4Z" fill="#a0c0e0"/>
<path d="M325.9 278.2L325.6 280.8L321.3 284.2L321 283.9L318.6 275.6L320.2 274.4Z" fill="#9a8fd0"/>
<path d="M337.9 280.1L332.6 284.2L325.6 280.8L325.9 278.2L333 273.5Z" fill="#88b0b0"/>
<path d="M355.7 273.8L352.1 274.7L350.8 275.8L355.1 279.5L357.4 278.3L356 273.8Z" fill="#4b8f5a"/>
<path d="M348.4 265.7L350.8 262.4L356.8 262.3L357 262.7L354.1 269L351.9 270.1L348.9 269.9Z" fill="#5b7bd5"/>
<path d="M347.1 237.4L357.5 256L364.4 270.8L360.1 284.2L352.3 278.3L352.3 256Z" fill="#e2d86a"/>
</g>
<clipPath id="cPX2"><path d="M1481 253.2C1481.5 252.4 1483.6 251.5 1484.8 251.6C1486 251.7 1485.6 254.5 1487.9 253.9C1490.2 253.3 1494.6 249.9 1498.7 247.8C1502.8 245.8 1508.2 243.4 1512.6 241.6C1517 239.8 1522.3 239.1 1524.9 237C1527.5 234.9 1526.5 231.1 1528 229.3C1529.5 227.5 1531.4 225.7 1534.2 226.2C1537 226.7 1541.7 229.7 1545 232.3C1548.3 234.9 1551.9 237.5 1554.2 241.6C1556.5 245.7 1556.8 252.9 1558.9 257C1561 261.1 1565.1 262.9 1566.6 266.3C1568.1 269.7 1568.6 274.3 1568.1 277.1C1567.6 279.9 1566.6 281.9 1563.5 283.2C1560.4 284.5 1554.5 283.2 1549.6 284.8C1544.7 286.4 1537.8 290.2 1534.2 292.5C1530.6 294.8 1530.6 297.2 1528 298.6C1525.4 300 1521.6 301.4 1518.8 300.6C1516 299.8 1513.1 296.6 1511 294C1508.9 291.4 1509 286.6 1506.4 284.8C1503.8 283 1498.7 284.5 1495.6 283.2C1492.5 281.9 1489.7 279.9 1487.9 277.1C1486.1 274.3 1485.4 269.1 1484.8 266.3C1484.2 263.5 1484.6 261.8 1484.1 260.1C1483.6 258.4 1482.3 257.4 1481.8 256.2C1481.3 255 1480.5 254 1481 253.2Z"/></clipPath>
<g clip-path="url(#cPX2)">
<path d="M1481 253.2C1481.5 252.4 1483.6 251.5 1484.8 251.6C1486 251.7 1485.6 254.5 1487.9 253.9C1490.2 253.3 1494.6 249.9 1498.7 247.8C1502.8 245.8 1508.2 243.4 1512.6 241.6C1517 239.8 1522.3 239.1 1524.9 237C1527.5 234.9 1526.5 231.1 1528 229.3C1529.5 227.5 1531.4 225.7 1534.2 226.2C1537 226.7 1541.7 229.7 1545 232.3C1548.3 234.9 1551.9 237.5 1554.2 241.6C1556.5 245.7 1556.8 252.9 1558.9 257C1561 261.1 1565.1 262.9 1566.6 266.3C1568.1 269.7 1568.6 274.3 1568.1 277.1C1567.6 279.9 1566.6 281.9 1563.5 283.2C1560.4 284.5 1554.5 283.2 1549.6 284.8C1544.7 286.4 1537.8 290.2 1534.2 292.5C1530.6 294.8 1530.6 297.2 1528 298.6C1525.4 300 1521.6 301.4 1518.8 300.6C1516 299.8 1513.1 296.6 1511 294C1508.9 291.4 1509 286.6 1506.4 284.8C1503.8 283 1498.7 284.5 1495.6 283.2C1492.5 281.9 1489.7 279.9 1487.9 277.1C1486.1 274.3 1485.4 269.1 1484.8 266.3C1484.2 263.5 1484.6 261.8 1484.1 260.1C1483.6 258.4 1482.3 257.4 1481.8 256.2C1481.3 255 1480.5 254 1481 253.2Z" fill="#9c9cab"/>
<path d="M1501.6 290.5L1503.1 290.5L1510.8 291.4L1510.4 295.8L1503.1 296.8L1500.1 296.3Z" fill="#88b0b0"/>
<path d="M1525.9 243.8L1530.5 242.7L1534.7 249.2L1530 251.1Z" fill="#e6a060"/>
<path d="M1526.8 285.4L1538.8 292.2L1540.2 284.3L1540.2 278.1L1528 283.1L1527.1 284.2Z" fill="#98e0c0"/>
<path d="M1516.3 231.2L1510.3 234.6L1511.3 231.5L1516 229.5L1517.1 230Z" fill="#2f2f2f"/>
<path d="M1486 258.6L1482.4 263.4L1487.4 265.1L1491.1 265L1490.1 259.4L1488.4 258.3Z" fill="#9a8fd0"/>
<path d="M1521.9 265.8L1523 262.5L1525.4 260.5L1527.1 261.7L1527.9 263.9L1527.1 266.3L1525.5 269.5L1523.8 268.8Z" fill="#4b8f5a"/>
<path d="M1512.3 289.1L1516.7 286.8L1524.8 287.3L1525.1 299.4L1512.1 289.4Z" fill="#4a4ab8"/>
<path d="M1496.2 289.8L1499 284.4L1500.3 285.8L1501.5 290.5L1496.7 290.7Z" fill="#e8e57a"/>
<path d="M1536 271.9L1534.7 266.4L1527.1 266.3L1525.5 269.5L1526.5 270.9L1530.8 273.3Z" fill="#b8d078"/>
<path d="M1511.3 231.5L1509.8 223.8L1507.3 230.7L1506.7 233.4L1506.4 236.2L1509.9 235.7L1510.3 234.6Z" fill="#c0a0d8"/>
<path d="M1486 258.6L1482.4 263.4L1481 263.3L1483.3 256L1484.5 256.1Z" fill="#f0c8a0"/>
<path d="M1486.4 255.1L1485 251.9L1481.3 253.6L1483.3 256L1484.5 256.1Z" fill="#c0a0d8"/>
<path d="M1485.5 296.9L1476 305.6L1476 305.6L1476 305.6L1476 305.6L1515.2 305.6L1515.5 305.6L1515.4 305.6L1498.3 298.5L1492.8 296.3Z" fill="#606060"/>
<path d="M1516.6 280.2L1516.1 279.9L1514.2 273.3L1516.5 272.3L1520.2 277Z" fill="#e8e57a"/>
<path d="M1523.7 256.9L1528.8 253.6L1531.2 257L1524.5 258Z" fill="#7ad0d8"/>
<path d="M1487.6 255.2L1491.6 251.2L1489.4 247.3L1488.8 247.3L1485 251.9L1486.4 255.1Z" fill="#3f3f6f"/>
<path d="M1487.7 281.9L1476 305.6L1476 305.6L1476 305.6L1476 287.1L1476 271.8L1478.9 275.5L1486.9 280.2Z" fill="#606060"/>
<path d="M1516.3 231.2L1514.7 236.4L1519.1 236.9L1519.4 230L1517.1 230Z" fill="#f0c8a0"/>
<path d="M1512.3 289.1L1508.4 283.4L1504.8 284.9L1503.1 290.5L1510.8 291.4L1512.1 289.4Z" fill="#c0a0d8"/>
<path d="M1505 279.9L1508 281.2L1510.2 278.1L1510.8 274L1510.6 273.7L1501.3 273.3L1501 273.7L1501 274.4Z" fill="#88b0b0"/>
<path d="M1524.5 258L1525.4 260.5L1527.1 261.7L1532.1 258.1L1532.1 257.7L1531.2 257Z" fill="#7b4fa0"/>
<path d="M1540.2 278.1L1528 283.1L1530.8 273.3L1536 271.9Z" fill="#98e0c0"/>
<path d="M1536.3 249.9L1540.2 244.2L1540.2 259.1L1533.3 256.7Z" fill="#606060"/>
<path d="M1521.8 241.2L1522.3 241.7L1527.4 236.8L1524.4 234.4L1521 238.6Z" fill="#4a4ab8"/>
<path d="M1483.3 256L1481.3 253.6L1476 240.1L1476 221.2L1476 221.2L1476 287.1L1476 271.8L1481 263.3Z" fill="#2f2f2f"/>
<path d="M1495.1 230.3L1491.7 221.2L1486.6 229.1L1487.3 232.6L1488.9 235.7L1494.5 237Z" fill="#8f8f3a"/>
<path d="M1516.3 231.2L1514.7 236.4L1512.3 236.9L1509.9 235.7L1510.3 234.6Z" fill="#a0c0e0"/>
<path d="M1532.1 257.7L1532.1 258.1L1534.6 263L1540.2 259.1L1533.3 256.7Z" fill="#4a4ab8"/>
<path d="M1489.8 289.5L1489.8 289.6L1485.5 296.9L1476 305.6L1489.5 283.8L1489.8 284Z" fill="#c75a9e"/>
<path d="M1512.3 236.9L1509.9 235.7L1506.4 236.2L1506.3 236.3L1512.7 245.6L1514.1 243.2Z" fill="#8f8f3a"/>
<path d="M1506.8 266.1L1506.6 266.7L1501.9 268.4L1498.8 264.9L1503.2 262.7Z" fill="#2f2f2f"/>
<path d="M1503.1 296.8L1517.2 305.6L1518.6 305.6L1510.4 295.8Z" fill="#e07aa8"/>
<path d="M1495.1 289L1496.2 289.8L1499 284.4L1498.7 283.9L1496.6 282.7L1495.5 283.2Z" fill="#7ad0d8"/>
<path d="M1495.3 292L1496.5 291L1497.5 293.9L1494.7 293.6Z" fill="#d96b6b"/>
<path d="M1493.9 278L1496.8 280L1498.6 276.9L1493.8 275.2L1493.3 277.4Z" fill="#c0a0d8"/>
<path d="M1491.9 270.9L1491.7 265.4L1491.1 265L1487.4 265.1L1483.9 272.7L1490.7 272Z" fill="#e07aa8"/>
<path d="M1510.6 273.7L1510.8 274L1514.2 273.3L1516.5 272.3L1516.9 271.2L1516.2 269.1L1514.8 267.7L1513.6 267.6L1509.7 270.2Z" fill="#c0a0d8"/>
<path d="M1510.6 273.7L1501.3 273.3L1501.9 268.4L1506.6 266.7L1508.4 268.3L1509.7 270.2Z" fill="#5b7bd5"/>
<path d="M1516.3 258.8L1523 262.5L1525.4 260.5L1524.5 258L1523.7 256.9L1521.8 255.9Z" fill="#98e0c0"/>
<path d="M1512.3 253.2L1512.8 258.3L1513.6 258.6L1515.9 259L1516.3 258.8L1521.8 255.9L1522 250Z" fill="#8f8f3a"/>
<path d="M1530.5 242.7L1532.5 239.8L1532.8 239.6L1540.2 238.1L1540.2 242.2L1540.2 244.2L1536.3 249.9L1534.7 249.2Z" fill="#d0d0e8"/>
<path d="M1502.4 228.3L1495.1 230.3L1494.5 237L1496 239.1L1500.4 240.3L1504.8 236.8Z" fill="#c0a0d8"/>
<path d="M1528.9 252L1528.8 253.6L1531.2 257L1532.1 257.7L1533.3 256.7L1536.3 249.9L1534.7 249.2L1530 251.1Z" fill="#b8d078"/>
<path d="M1499 284.4L1498.7 283.9L1505 279.9L1508 281.2L1508.4 283.4L1504.8 284.9L1500.3 285.8Z" fill="#e07aa8"/>
<path d="M1516.9 271.2L1523.8 268.8L1521.9 265.8L1519.1 264.6L1516.2 269.1Z" fill="#9a8fd0"/>
<path d="M1523.8 243.8L1522.3 241.7L1527.4 236.8L1529.6 236.7L1532.5 239.8L1530.5 242.7L1525.9 243.8Z" fill="#e8e57a"/>
<path d="M1500.3 285.8L1504.8 284.9L1503.1 290.5L1501.6 290.5L1501.5 290.5Z" fill="#4b8f5a"/>
<path d="M1505.5 227.8L1504.4 223.9L1508 221.2L1509.7 221.2L1509.8 223.8L1507.3 230.7Z" fill="#5b7bd5"/>
<path d="M1512.1 289.4L1525.1 299.4L1525.2 300L1518.6 305.6L1510.4 295.8L1510.8 291.4Z" fill="#f0c8a0"/>
<path d="M1486.9 280.2L1478.9 275.5L1483.9 272.7L1490.7 272L1489.5 277Z" fill="#606060"/>
<path d="M1509.7 270.2L1513.6 267.6L1512.1 266.4L1508.4 268.3Z" fill="#5b7bd5"/>
<path d="M1486 258.6L1484.5 256.1L1486.4 255.1L1487.6 255.2L1488.4 258.3Z" fill="#d96b6b"/>
<path d="M1495.1 289L1495.5 283.2L1489.8 284L1489.8 289.5Z" fill="#606060"/>
<path d="M1517.1 230L1519.4 230L1526.9 224.6L1540.2 221.2L1505.6 221.2L1508 221.2L1509.7 221.2L1516 229.5Z" fill="#2f2f2f"/>
<path d="M1527.3 225.5L1527.8 226.1L1534 230.8L1540.2 238.1L1540.2 242.2L1540.2 229.5L1540.2 221.2L1540.2 221.2L1540.2 221.2L1526.9 224.6Z" fill="#3f3f6f"/>
<path d="M1540.2 278.1L1540.2 284.3L1540.2 295.5L1540.2 229.5L1540.2 242.2L1540.2 244.2L1540.2 259.1L1534.6 263L1534.3 263.6L1534.7 266.4L1536 271.9Z" fill="#e8e57a"/>
<path d="M1493.5 252.9L1503.1 248.1L1503.6 247.1L1500.4 240.3L1496 239.1L1489.4 247.3L1491.6 251.2Z" fill="#c0a0d8"/>
<path d="M1488.4 258.3L1490.1 259.4L1493.9 254.2L1493.5 252.9L1491.6 251.2L1487.6 255.2Z" fill="#8f8f3a"/>
<path d="M1506.8 266.1L1506.6 266.7L1508.4 268.3L1512.1 266.4L1510.6 259.5L1509.4 259.9Z" fill="#5ad08a"/>
<path d="M1505.5 227.8L1506.7 233.4L1507.3 230.7Z" fill="#d0d0e8"/>
<path d="M1500 296.3L1498.3 298.5L1515.4 305.6L1517.2 305.6L1503.1 296.8L1500.1 296.3Z" fill="#3f3f6f"/>
<path d="M1527.1 284.2L1528 283.1L1530.8 273.3L1526.5 270.9L1521.1 277.1Z" fill="#7ad0d8"/>
<path d="M1519.1 236.9L1519.4 230L1526.9 224.6L1527.3 225.5L1524.4 234.4L1521 238.6Z" fill="#e6a060"/>
<path d="M1512.3 289.1L1516.7 286.8L1516.6 280.2L1516.1 279.9L1510.2 278.1L1508 281.2L1508.4 283.4Z" fill="#2f2f2f"/>
<path d="M1514.8 267.7L1514.8 267.5L1518.1 263.2L1519.1 264.6L1516.2 269.1Z" fill="#3f3f6f"/>
<path d="M1514.2 273.3L1516.1 279.9L1510.2 278.1L1510.8 274Z" fill="#88b0b0"/>
<path d="M1526.8 285.4L1524.8 287.3L1516.7 286.8L1516.6 280.2L1520.2 277L1521.1 277.1L1527.1 284.2Z" fill="#7b4fa0"/>
<path d="M1515.4 305.6L1517.2 305.6L1518.6 305.6L1525.2 300L1536.5 294.2L1515.5 305.6Z" fill="#f0c8a0"/>
<path d="M1532.8 239.6L1540.2 238.1L1534 230.8Z" fill="#d96b6b"/>
<path d="M1515.5 305.6L1515.2 305.6L1540.2 305.6L1540.2 305.6L1540.2 295.5L1540.2 284.3L1538.8 292.2L1536.5 294.2Z" fill="#e6a060"/>
<path d="M1532.1 258.1L1534.6 263L1534.3 263.6L1527.9 263.9L1527.1 261.7Z" fill="#e8e57a"/>
<path d="M1494.5 237L1488.9 235.7L1476 241.3L1488.8 247.3L1489.4 247.3L1496 239.1Z" fill="#606060"/>
<path d="M1510.5 248.6L1503.6 247.1L1503.1 248.1L1502.7 256.7L1507.8 259.3L1509.4 259.9L1510.6 259.5L1512.8 258.3L1512.3 253.2Z" fill="#3f3f6f"/>
<path d="M1522 250L1521.8 255.9L1523.7 256.9L1528.8 253.6L1528.9 252L1522.2 249.3Z" fill="#4a4ab8"/>
<path d="M1496.5 291L1496.7 290.7L1501.5 290.5L1501.6 290.5L1500.1 296.3L1500 296.3L1497.5 293.9Z" fill="#5b7bd5"/>
<path d="M1515.9 259L1518.1 263.2L1514.8 267.5L1513.6 258.6Z" fill="#b8d078"/>
<path d="M1487.3 232.6L1476 228.5L1486.6 229.1Z" fill="#3f3f6f"/>
<path d="M1495.5 283.2L1496.6 282.7L1496.8 280L1493.9 278L1487.9 282.1L1489.5 283.8L1489.8 284Z" fill="#f0c8a0"/>
<path d="M1506.8 266.1L1503.2 262.7L1507.8 259.3L1509.4 259.9Z" fill="#e6a060"/>
<path d="M1487.9 282.1L1489.5 283.8L1476 305.6L1476 305.6L1487.7 281.9Z" fill="#e8e57a"/>
<path d="M1505.5 227.8L1504.4 223.9L1502.4 228.3L1504.8 236.8L1506.3 236.3L1506.4 236.2L1506.7 233.4Z" fill="#e07aa8"/>
<path d="M1495.1 289L1496.2 289.8L1496.7 290.7L1496.5 291L1495.3 292L1489.8 289.6L1489.8 289.5Z" fill="#7b4fa0"/>
<path d="M1526.8 285.4L1538.8 292.2L1536.5 294.2L1525.2 300L1525.1 299.4L1524.8 287.3Z" fill="#5b7bd5"/>
<path d="M1504.4 223.9L1502.4 228.3L1495.1 230.3L1491.7 221.2L1487.8 221.2L1505.6 221.2L1508 221.2Z" fill="#e8e57a"/>
<path d="M1503.2 262.7L1498.8 264.9L1497.2 263.7L1498.6 258.8L1502.7 256.7L1507.8 259.3Z" fill="#c0a0d8"/>
<path d="M1527.4 236.8L1529.6 236.7L1527.8 226.1L1527.3 225.5L1524.4 234.4Z" fill="#7b4fa0"/>
<path d="M1513.6 258.6L1514.8 267.5L1514.8 267.7L1513.6 267.6L1512.1 266.4L1510.6 259.5L1512.8 258.3Z" fill="#e07aa8"/>
<path d="M1476 221.2L1476 228.5L1487.3 232.6L1488.9 235.7L1476 241.3L1476 240.1Z" fill="#6fbf73"/>
<path d="M1495.3 292L1489.8 289.6L1485.5 296.9L1492.8 296.3L1494.7 293.6Z" fill="#8f8f3a"/>
<path d="M1512.3 236.9L1514.1 243.2L1521.8 241.2L1521 238.6L1519.1 236.9L1514.7 236.4Z" fill="#606060"/>
<path d="M1489.5 277L1490.7 272L1491.9 270.9L1492.2 271.2L1493.8 275.2L1493.3 277.4Z" fill="#88b0b0"/>
<path d="M1501 274.4L1501 273.7L1492.2 271.2L1493.8 275.2L1498.6 276.9Z" fill="#c75a9e"/>
<path d="M1512.2 247L1522.1 248.2L1522.2 249.3L1522 250L1512.3 253.2L1510.5 248.6Z" fill="#b8d078"/>
<path d="M1512.2 247L1512.7 245.6L1506.3 236.3L1504.8 236.8L1500.4 240.3L1503.6 247.1L1510.5 248.6Z" fill="#88b0b0"/>
<path d="M1494.7 293.6L1497.5 293.9L1500 296.3L1498.3 298.5L1492.8 296.3Z" fill="#c75a9e"/>
<path d="M1516 229.5L1509.7 221.2L1509.8 223.8L1511.3 231.5Z" fill="#c0a0d8"/>
<path d="M1512.2 247L1512.7 245.6L1514.1 243.2L1521.8 241.2L1522.3 241.7L1523.8 243.8L1522.1 248.2Z" fill="#c0a0d8"/>
<path d="M1481.3 253.6L1476 240.1L1476 241.3L1488.8 247.3L1485 251.9Z" fill="#e07aa8"/>
<path d="M1501.9 268.4L1498.8 264.9L1497.2 263.7L1491.7 265.4L1491.9 270.9L1492.2 271.2L1501 273.7L1501.3 273.3Z" fill="#e07aa8"/>
<path d="M1493.9 254.2L1498.6 258.8L1502.7 256.7L1503.1 248.1L1493.5 252.9Z" fill="#a0c0e0"/>
<path d="M1529.6 236.7L1527.8 226.1L1534 230.8L1532.8 239.6L1532.5 239.8Z" fill="#5ad08a"/>
<path d="M1482.4 263.4L1487.4 265.1L1483.9 272.7L1478.9 275.5L1476 271.8L1481 263.3Z" fill="#5b7bd5"/>
<path d="M1496.6 282.7L1498.7 283.9L1505 279.9L1501 274.4L1498.6 276.9L1496.8 280Z" fill="#7b4fa0"/>
<path d="M1487.9 282.1L1493.9 278L1493.3 277.4L1489.5 277L1486.9 280.2L1487.7 281.9Z" fill="#e6a060"/>
<path d="M1515.9 259L1518.1 263.2L1519.1 264.6L1521.9 265.8L1523 262.5L1516.3 258.8Z" fill="#98e0c0"/>
<path d="M1522.1 248.2L1523.8 243.8L1525.9 243.8L1530 251.1L1528.9 252L1522.2 249.3Z" fill="#c75a9e"/>
<path d="M1476 221.2L1476 228.5L1486.6 229.1L1491.7 221.2L1487.8 221.2L1476 221.2L1476 221.2L1476 221.2Z" fill="#7b4fa0"/>
<path d="M1527.1 266.3L1534.7 266.4L1534.3 263.6L1527.9 263.9Z" fill="#5ad08a"/>
<path d="M1520.2 277L1516.5 272.3L1516.9 271.2L1523.8 268.8L1525.5 269.5L1526.5 270.9L1521.1 277.1Z" fill="#a0c0e0"/>
<path d="M1491.1 265L1491.7 265.4L1497.2 263.7L1498.6 258.8L1493.9 254.2L1490.1 259.4Z" fill="#98e0c0"/>
<path d="M1535 233.6L1545.5 248.5L1550.7 270.8L1547.2 285.7L1542 282L1540.2 256Z" fill="#4fcf85"/>
<path d="M1528.9 290.2L1548.1 281.3L1550.7 287.2L1533.3 296.9Z" fill="#4a4acb"/>
<path d="M1514.1 291.7L1531.5 291.7L1529.8 300.6L1517.6 300.6Z" fill="#eeeb8a"/>
</g>
<clipPath id="cMB2"><path d="M1607.1 253.2C1607.6 252.3 1610.2 251.5 1611.7 251.6C1613.2 251.7 1614.2 254.8 1616.3 253.9C1618.3 253 1620.7 248.2 1624 246.2C1627.3 244.1 1632.5 242.9 1636.4 241.6C1640.3 240.3 1644.4 240.6 1647.2 238.5C1650 236.4 1651.2 231.4 1653.3 229.3C1655.3 227.2 1656.7 225.9 1659.5 226.2C1662.3 226.4 1667 228.2 1670.3 230.8C1673.6 233.4 1677 237.2 1679.6 241.6C1682.2 246 1683.4 252.1 1685.7 257C1688 261.9 1692.4 267.3 1693.4 270.9C1694.4 274.5 1693.2 276.6 1691.9 278.6C1690.6 280.7 1689.3 282.2 1685.7 283.2C1682.1 284.2 1674.9 283.2 1670.3 284.8C1665.7 286.4 1661.6 290.2 1658 292.5C1654.4 294.8 1651.3 297.2 1648.7 298.6C1646.1 300 1644.8 301.4 1642.5 300.6C1640.2 299.8 1636.8 296.6 1634.8 294C1632.8 291.4 1632.5 286.9 1630.2 284.8C1627.9 282.8 1623.8 283.2 1621 281.7C1618.2 280.1 1615 278.3 1613.2 275.5C1611.4 272.7 1611 267.8 1610.2 264.7C1609.4 261.6 1609.1 258.9 1608.6 257C1608.1 255.1 1606.6 254.1 1607.1 253.2Z"/></clipPath>
<g clip-path="url(#cMB2)">
<path d="M1642.9 247.5L1644.7 247.7L1650.7 245.1L1648.3 240.4L1646.4 240.2L1642.1 246.9L1642.2 247Z" fill="#88b0b0"/>
<path d="M1611.1 244.3L1606.5 237.7L1601 234.7L1579.7 234L1610.9 245.3Z" fill="#88b0b0"/>
<path d="M1632.4 295.7L1630.3 293L1628.3 292.8L1627.2 294.2L1628.1 296.3L1631.8 296.1Z" fill="#9a8fd0"/>
<path d="M1655 289.1L1654 289.1L1651.8 287L1656.2 280.5L1656.6 280.4L1660.6 285.6Z" fill="#5b7bd5"/>
<path d="M1686.2 291.1L1690.5 288.4L2094.7 374.3L2095.4 393.5L1784.7 702.4L1737.2 700.1L1696.2 428.3L1683.1 297.6Z" fill="#4a4ab8"/>
<path d="M1662.1 289.1L1659.6 290.2L1655 289.1L1660.6 285.6L1662 286.2Z" fill="#606060"/>
<path d="M1627.4 284.7L1627.2 285.2L1628.4 287.9L1629.2 288.8L1633.6 289.3L1635.4 284.1L1630.5 282Z" fill="#7ad0d8"/>
<path d="M1692.2 267.6L1738.6 271.3L1688.3 256.7Z" fill="#7ad0d8"/>
<path d="M1638.3 280.8L1646.2 282.1L1646.3 282.4L1640.2 286.3L1637.1 283.5Z" fill="#b8d078"/>
<path d="M1625.9 243.9L1626.8 237L1628.7 238L1627 244Z" fill="#d0d0e8"/>
<path d="M1657.1 280L1656.6 280.4L1656.2 280.5L1650.6 276L1651.8 273.3L1654.5 269.8L1656.9 272.2L1657.1 279.9Z" fill="#4b8f5a"/>
<path d="M1631.3 228.8L1626.2 217.7L1624.2 211.9L1628.3 170.5L1642.1 224.7L1637.4 232.1Z" fill="#2f2f2f"/>
<path d="M1621 298.8L1620.8 298.5L1612.4 295.9L1543.9 703.1L1608.7 700.4L1623.1 369.3L1623.6 312.2Z" fill="#d0d0e8"/>
<path d="M1672.4 288.1L1669.5 286.8L1665 290.9L1665.2 293.5L1670.5 298.7L1673.7 289.6Z" fill="#5b7bd5"/>
<path d="M1669.6 233.5L1664.5 233.8L1664 241.7L1665.1 244.3L1669.3 242.7Z" fill="#7b4fa0"/>
<path d="M1686.6 279.7L2076.8 302.3L2093 303.6L2094.7 374.3L1690.5 288.4L1686.2 283Z" fill="#2f2f2f"/>
<path d="M1616.4 286.4L1618.8 291.6L1621.3 290.6L1622.4 286.1L1620.5 284.6L1618.8 284.5Z" fill="#f0c8a0"/>
<path d="M1684 234.5L1689.6 234.5L1686.5 207.8L1680.6 229L1683.4 234.4Z" fill="#9a8fd0"/>
<path d="M1674.7 272.7L1678.4 271.2L1676.8 264.4L1675.1 263.2L1672.6 264.5L1669.6 266.8L1670.1 268.4L1672.2 271.4Z" fill="#88b0b0"/>
<path d="M1631.5 259.2L1630 260.9L1625.1 258.2L1628.3 256.5Z" fill="#b8d078"/>
<path d="M1646.6 277L1644.3 275L1643.8 268.4L1651.8 273.3L1650.6 276Z" fill="#3f3f6f"/>
<path d="M1662.1 289.1L1659.6 290.2L1660.3 295.4L1665.2 293.5L1665 290.9Z" fill="#6fbf73"/>
<path d="M1630.3 277.7L1630.5 282L1635.4 284.1L1637.1 283.5L1638.3 280.8L1638.1 277.2L1633.8 273.9L1633.2 274.1Z" fill="#7b4fa0"/>
<path d="M1622.6 243.7L1620.3 246.7L1613.6 242L1614.1 239.1L1618.6 235.6L1620.5 237.6Z" fill="#98e0c0"/>
<path d="M1682.6 271.6L1680.4 265L1676.8 264.4L1678.4 271.2Z" fill="#9a8fd0"/>
<path d="M1617.6 272.5L1614.8 267.1L1614.4 264.3L1618.2 260.1L1625.9 266.6L1625.9 267.9L1625.7 269.8L1625.3 270.2Z" fill="#e8e57a"/>
<path d="M1645.5 230.7L1651 233.5L1654.5 232.2L1657 231.1L1657.6 230.4L1658.1 225.5L1658.1 220.6L1644.9 229.6Z" fill="#5b7bd5"/>
<path d="M1646.4 240.2L1648.3 240.4L1651 233.5L1645.5 230.7L1640.9 235.5L1643.4 239.8Z" fill="#7ad0d8"/>
<path d="M1685.8 250.8L1681.7 249.8L1681.8 257L1683.7 257.2L1688.3 256.6L1689.4 254.7Z" fill="#b8d078"/>
<path d="M1655.3 245.7L1655.5 245.6L1658.4 238.3L1657 231.1L1654.5 232.2L1654.7 245.8Z" fill="#7ad0d8"/>
<path d="M1642.1 246.9L1646.4 240.2L1643.4 239.8L1639.2 243.7Z" fill="#f0c8a0"/>
<path d="M1684.9 276.8L1685.3 273L1691.2 267.9L1692.2 267.6L1738.6 271.3L2076.8 302.3L1686.6 279.7Z" fill="#f0c8a0"/>
<path d="M1636.2 292.9L1641.9 292.7L1643.6 293.6L1651.1 318.9L1651.2 323L1635.3 296.1L1635.2 294.4Z" fill="#b8d078"/>
<path d="M1661.7 261.3L1661.7 260.4L1664.9 257.6L1670.5 259.8L1672.6 264.5L1669.6 266.8L1666.1 265.3Z" fill="#6fbf73"/>
<path d="M1625.2 277.1L1630.3 277.7L1633.2 274.1L1625.7 269.8L1625.3 270.2Z" fill="#5ad08a"/>
<path d="M1672.4 288.1L1669.5 286.8L1667.3 282.8L1667.9 279.9L1675.9 279.3L1676.7 279.9Z" fill="#9a8fd0"/>
<path d="M1667.9 279.9L1675.9 279.3L1674.7 272.7L1672.2 271.4L1667.5 279Z" fill="#d0d0e8"/>
<path d="M1677 280L1684.9 276.8L1685.3 273L1682.6 271.6L1678.4 271.2L1674.7 272.7L1675.9 279.3L1676.7 279.9Z" fill="#d0d0e8"/>
<path d="M1644.9 229.6L1658.1 220.6L1664.1 89.1L1667.3 -173.7L1625.4 -173.8L1628.3 170.5L1642.1 224.7Z" fill="#b8d078"/>
<path d="M1628.3 292.8L1629.2 288.8L1628.4 287.9L1623.2 291.7L1624.6 293.5L1627.2 294.2Z" fill="#7b4fa0"/>
<path d="M1658.4 238.3L1664 241.7L1664.5 233.8L1657.6 230.4L1657 231.1Z" fill="#a0c0e0"/>
<path d="M1684.8 241.4L1687.3 243.5L1690.3 234.9L1689.6 234.5L1684 234.5Z" fill="#4a4ab8"/>
<path d="M1629.7 264.3L1630.1 263.1L1638 262.4L1639.1 263.2L1632.8 266.8Z" fill="#8f8f3a"/>
<path d="M1614.4 264.3L1571.5 259.8L1373.2 272.5L1589.2 282.3L1601.2 280L1614.8 267.1Z" fill="#f0c8a0"/>
<path d="M1622 278.3L1623 278.3L1623.7 279.5L1623 286L1622.4 286.1L1620.5 284.6L1621.4 280.4Z" fill="#88b0b0"/>
<path d="M1687.2 249.2L1685.5 245.1L1687.3 243.7L1695.5 248.1Z" fill="#c75a9e"/>
<path d="M1612.4 293.6L1610.9 292.1L1589.2 282.3L1373.2 272.5L1207.6 273.6L1202.6 394.9L1514.5 704.6L1543.9 703.1L1612.4 295.9Z" fill="#8f8f3a"/>
<path d="M1614.4 277.9L1606.4 279.9L1601.2 280L1614.8 267.1L1617.6 272.5L1617.2 275.5Z" fill="#2f2f2f"/>
<path d="M1616.4 286.4L1618.8 291.6L1618.1 292.4L1612.4 293.6L1610.9 292.1L1614.8 286.3L1615 286.3Z" fill="#f0c8a0"/>
<path d="M1681.8 259.7L1681.4 257.3L1681.8 257L1683.7 257.2L1686.2 264.8L1684.8 264.4Z" fill="#98e0c0"/>
<path d="M1637.4 232.1L1642.1 224.7L1644.9 229.6L1645.5 230.7L1640.9 235.5L1638.3 235.2Z" fill="#4a4ab8"/>
<path d="M1658.1 225.5L1671.6 229.5L1664.1 89.1L1658.1 220.6Z" fill="#5b7bd5"/>
<path d="M1667.5 279L1663.8 276.2L1663.8 276L1670.1 268.4L1672.2 271.4Z" fill="#4a4ab8"/>
<path d="M1643.3 265.7L1643.7 265.6L1649.7 257.1L1642.4 256.1L1641.6 256.6L1641.6 264.1Z" fill="#c75a9e"/>
<path d="M1664.9 257.6L1668.8 253.3L1672.4 253.2L1673.4 254.7L1670.5 259.8Z" fill="#88b0b0"/>
<path d="M1645.5 252.5L1651 254.9L1652.4 246.2L1650.7 245.1L1644.7 247.7Z" fill="#b8d078"/>
<path d="M1650.7 245.1L1652.4 246.2L1654.7 245.8L1654.5 232.2L1651 233.5L1648.3 240.4Z" fill="#98e0c0"/>
<path d="M1634 256.7L1634.2 256.8L1638 262.4L1630.1 263.1L1630 260.9L1631.5 259.2Z" fill="#88b0b0"/>
<path d="M1611.2 249.9L1610.9 245.3L1579.7 234L1206.2 209.1L1207.6 273.6L1373.2 272.5L1571.5 259.8L1592.8 255Z" fill="#98e0c0"/>
<path d="M1659.6 290.2L1660.3 295.4L1655.8 300.7L1654 289.1L1655 289.1Z" fill="#d0d0e8"/>
<path d="M1627 244L1632.2 246.2L1634.8 243.5L1634.6 237.9L1632.1 236.1L1628.7 238Z" fill="#5ad08a"/>
<path d="M1631.8 296.1L1632.6 302.9L1623.1 369.3L1623.6 312.2L1628.1 296.3Z" fill="#7ad0d8"/>
<path d="M1684.2 288.9L1686.2 291.1L1683.1 297.6L1678.1 289.8L1679.3 288.3Z" fill="#c0a0d8"/>
<path d="M1634 256.7L1634.2 256.8L1640.9 256.1L1639.5 252.5L1637 251.3L1632.8 251L1632.9 252.2Z" fill="#6fbf73"/>
<path d="M1617.2 282.2L1618.8 284.5L1616.4 286.4L1615 286.3L1615.3 279.8Z" fill="#b8d078"/>
<path d="M1661.7 261.3L1666.1 265.3L1662 272.8L1661.8 272.8L1658.4 264.3Z" fill="#e6a060"/>
<path d="M1661.7 261.3L1661.7 260.4L1659.3 257.7L1651.1 255.2L1650 256.8L1654.5 266.9L1658.4 264.3Z" fill="#98e0c0"/>
<path d="M1614.8 286.3L1606.4 279.9L1601.2 280L1589.2 282.3L1610.9 292.1Z" fill="#98e0c0"/>
<path d="M1635.2 291.8L1636.2 292.9L1641.9 292.7L1640.2 286.3L1637.1 283.5L1635.4 284.1L1633.6 289.3Z" fill="#d0d0e8"/>
<path d="M1655.5 245.6L1664.8 244.6L1665.1 244.3L1664 241.7L1658.4 238.3Z" fill="#606060"/>
<path d="M1632.4 295.7L1635.2 294.4L1636.2 292.9L1635.2 291.8L1630.3 293Z" fill="#6fbf73"/>
<path d="M1689.6 234.5L1686.5 207.8L1733.5 -175.9L1786.4 -178.6L2097.8 132L2093.5 230.1L1758.2 240.9L1690.3 234.9Z" fill="#3f3f6f"/>
<path d="M1674.9 230.6L1680.6 229L1686.5 207.8L1733.5 -175.9L1667.3 -173.7L1664.1 89.1L1671.6 229.5L1671.8 230.4Z" fill="#6fbf73"/>
<path d="M1654.5 266.9L1650 256.8L1649.7 257.1L1643.7 265.6L1654.3 267.1Z" fill="#e8e57a"/>
<path d="M1687.2 249.2L1685.5 245.1L1680.4 247.6L1681.7 249.8L1685.8 250.8Z" fill="#e6a060"/>
<path d="M1618.2 260.1L1618.8 257.7L1592.8 255L1571.5 259.8L1614.4 264.3Z" fill="#4a4ab8"/>
<path d="M1625.9 266.6L1618.2 260.1L1618.8 257.7L1619.1 256.8L1625.1 258.2L1630 260.9L1630.1 263.1L1629.7 264.3Z" fill="#e07aa8"/>
<path d="M1692.2 267.6L1691.2 267.9L1686.2 264.8L1683.7 257.2L1688.3 256.6L1688.3 256.7Z" fill="#b8d078"/>
<path d="M1654 289.1L1651.8 287L1650.3 287.1L1643.6 293.6L1651.1 318.9L1655.8 300.7Z" fill="#f0c8a0"/>
<path d="M1621.3 290.6L1618.8 291.6L1618.1 292.4L1620.8 298.5L1621 298.8L1624.6 293.5L1623.2 291.7Z" fill="#98e0c0"/>
<path d="M1655.3 245.7L1659.7 252.2L1659.3 257.7L1651.1 255.2L1651 254.9L1652.4 246.2L1654.7 245.8Z" fill="#c0a0d8"/>
<path d="M1669.3 242.7L1665.1 244.3L1664.8 244.6L1665.4 248.3L1668.8 253.3L1672.4 253.2L1677.1 246.1L1676.4 244.3Z" fill="#e8e57a"/>
<path d="M1663.8 276.2L1663.8 276L1662 272.8L1661.8 272.8L1656.9 272.2L1657.1 279.9Z" fill="#5ad08a"/>
<path d="M1611.1 244.3L1606.5 237.7L1614.1 239.1L1613.6 242Z" fill="#606060"/>
<path d="M1619.1 256.8L1618.8 257.7L1592.8 255L1611.2 249.9L1617.9 252.4L1619.1 255Z" fill="#5ad08a"/>
<path d="M1638.3 280.8L1638.1 277.2L1644.3 275L1646.6 277L1646.2 282.1Z" fill="#98e0c0"/>
<path d="M1624.2 211.9L1617.1 229L1601 234.7L1579.7 234L1206.2 209.1L1202.6 131.9L1513.5 -179.6L1625.4 -173.8L1628.3 170.5Z" fill="#5b7bd5"/>
<path d="M1615.3 279.8L1615 286.3L1614.8 286.3L1606.4 279.9L1614.4 277.9Z" fill="#e6a060"/>
<path d="M1667.3 282.8L1667.9 279.9L1667.5 279L1663.8 276.2L1657.1 279.9L1657.1 280L1665 283.6Z" fill="#6fbf73"/>
<path d="M1644 253.1L1642.4 256.1L1649.7 257.1L1650 256.8L1651.1 255.2L1651 254.9L1645.5 252.5Z" fill="#7b4fa0"/>
<path d="M1611.2 249.9L1610.9 245.3L1611.1 244.3L1613.6 242L1620.3 246.7L1617.9 252.4Z" fill="#5ad08a"/>
<path d="M1682.6 271.6L1680.4 265L1681.1 264.6L1684.8 264.4L1686.2 264.8L1691.2 267.9L1685.3 273Z" fill="#d96b6b"/>
<path d="M1642.2 247L1642.1 246.9L1639.2 243.7L1634.8 243.5L1632.2 246.2L1632.5 250.5L1632.8 251L1637 251.3Z" fill="#5ad08a"/>
<path d="M1685.2 283.8L1680.2 285.7L1679.3 288.3L1684.2 288.9Z" fill="#d0d0e8"/>
<path d="M1658.4 264.3L1654.5 266.9L1654.3 267.1L1654.5 269.8L1656.9 272.2L1661.8 272.8Z" fill="#88b0b0"/>
<path d="M1655.3 245.7L1659.7 252.2L1665.4 248.3L1664.8 244.6L1655.5 245.6Z" fill="#98e0c0"/>
<path d="M1646.3 282.4L1650.3 287.1L1643.6 293.6L1641.9 292.7L1640.2 286.3Z" fill="#9a8fd0"/>
<path d="M1666.1 265.3L1669.6 266.8L1670.1 268.4L1663.8 276L1662 272.8Z" fill="#c75a9e"/>
<path d="M1626.8 237L1625.4 236.1L1626.5 234.7L1631.5 234.7L1632.1 236.1L1628.7 238Z" fill="#88b0b0"/>
<path d="M1634 256.7L1632.9 252.2L1628.3 256.5L1631.5 259.2Z" fill="#a0c0e0"/>
<path d="M1681.1 264.6L1684.8 264.4L1681.8 259.7Z" fill="#d96b6b"/>
<path d="M1628.1 296.3L1623.6 312.2L1621 298.8L1624.6 293.5L1627.2 294.2Z" fill="#d0d0e8"/>
<path d="M1642.9 247.5L1641.6 251.5L1639.5 252.5L1637 251.3L1642.2 247Z" fill="#5ad08a"/>
<path d="M1670.5 259.8L1673.4 254.7L1676.6 258.2L1675.1 263.2L1672.6 264.5Z" fill="#7b4fa0"/>
<path d="M1635.3 296.1L1632.6 302.9L1623.1 369.3L1608.7 700.4L1677.2 699.1L1651.2 323Z" fill="#7b4fa0"/>
<path d="M1641.6 264.1L1641.6 256.6L1640.9 256.1L1634.2 256.8L1638 262.4L1639.1 263.2Z" fill="#f0c8a0"/>
<path d="M1685.2 283.8L1686.2 283L1690.5 288.4L1686.2 291.1L1684.2 288.9Z" fill="#e8e57a"/>
<path d="M1625.4 236.1L1626.5 234.7L1626.2 217.7L1624.2 211.9L1617.1 229L1618.6 235.6L1620.5 237.6Z" fill="#88b0b0"/>
<path d="M1632.9 252.2L1632.8 251L1632.5 250.5L1619.1 255L1619.1 256.8L1625.1 258.2L1628.3 256.5Z" fill="#606060"/>
<path d="M1677.7 240.1L1677.7 240.3L1684.8 241.4L1684 234.5L1683.4 234.4L1679.1 238.1Z" fill="#3f3f6f"/>
<path d="M1630.3 293L1635.2 291.8L1633.6 289.3L1629.2 288.8L1628.3 292.8Z" fill="#606060"/>
<path d="M1633.3 269.2L1634.3 272.6L1643.3 265.8L1643.3 265.7L1641.6 264.1L1639.1 263.2L1632.8 266.8Z" fill="#d0d0e8"/>
<path d="M1677.7 240.3L1676.4 244.3L1677.1 246.1L1680.4 247.6L1685.5 245.1L1687.3 243.7L1687.3 243.5L1684.8 241.4Z" fill="#98e0c0"/>
<path d="M1631.5 234.7L1632.1 236.1L1634.6 237.9L1638.3 235.2L1637.4 232.1L1631.3 228.8Z" fill="#5ad08a"/>
<path d="M1697.6 248.8L1758.2 240.9L2093.5 230.1L2093 303.6L2076.8 302.3L1738.6 271.3L1688.3 256.7L1688.3 256.6L1689.4 254.7Z" fill="#6fbf73"/>
<path d="M1674.9 230.6L1680.6 229L1683.4 234.4L1679.1 238.1Z" fill="#9a8fd0"/>
<path d="M1676.8 264.4L1675.1 263.2L1676.6 258.2L1681.4 257.3L1681.8 259.7L1681.1 264.6L1680.4 265Z" fill="#d0d0e8"/>
<path d="M1625.2 277.1L1630.3 277.7L1630.5 282L1627.4 284.7L1623.7 279.5L1623 278.3Z" fill="#606060"/>
<path d="M1625.9 243.9L1622.6 243.7L1620.3 246.7L1617.9 252.4L1619.1 255L1632.5 250.5L1632.2 246.2L1627 244Z" fill="#7b4fa0"/>
<path d="M1670 233.2L1669.6 233.5L1669.3 242.7L1676.4 244.3L1677.7 240.3L1677.7 240.1Z" fill="#7b4fa0"/>
<path d="M1681.7 249.8L1681.8 257L1681.4 257.3L1676.6 258.2L1673.4 254.7L1672.4 253.2L1677.1 246.1L1680.4 247.6Z" fill="#f0c8a0"/>
<path d="M1625.9 243.9L1622.6 243.7L1620.5 237.6L1625.4 236.1L1626.8 237Z" fill="#4b8f5a"/>
<path d="M1623 286L1627.2 285.2L1628.4 287.9L1623.2 291.7L1621.3 290.6L1622.4 286.1Z" fill="#9a8fd0"/>
<path d="M1631.5 234.7L1626.5 234.7L1626.2 217.7L1631.3 228.8Z" fill="#f0c8a0"/>
<path d="M1617.2 282.2L1621.4 280.4L1622 278.3L1617.2 275.5L1614.4 277.9L1615.3 279.8Z" fill="#5b7bd5"/>
<path d="M1642.9 247.5L1644.7 247.7L1645.5 252.5L1644 253.1L1641.6 251.5Z" fill="#4b8f5a"/>
<path d="M1646.2 282.1L1646.6 277L1650.6 276L1656.2 280.5L1651.8 287L1650.3 287.1L1646.3 282.4Z" fill="#4a4ab8"/>
<path d="M1665 283.6L1657.1 280L1656.6 280.4L1660.6 285.6L1662 286.2Z" fill="#d96b6b"/>
<path d="M1617.1 229L1601 234.7L1606.5 237.7L1614.1 239.1L1618.6 235.6Z" fill="#d96b6b"/>
<path d="M1623.7 279.5L1623 286L1627.2 285.2L1627.4 284.7Z" fill="#f0c8a0"/>
<path d="M1620.8 298.5L1612.4 295.9L1612.4 293.6L1618.1 292.4Z" fill="#c75a9e"/>
<path d="M1625.9 267.9L1633.3 269.2L1632.8 266.8L1629.7 264.3L1625.9 266.6Z" fill="#7b4fa0"/>
<path d="M1622 278.3L1623 278.3L1625.2 277.1L1625.3 270.2L1617.6 272.5L1617.2 275.5Z" fill="#5b7bd5"/>
<path d="M1687.2 249.2L1695.5 248.1L1697.6 248.8L1689.4 254.7L1685.8 250.8Z" fill="#5b7bd5"/>
<path d="M1634.6 237.9L1634.8 243.5L1639.2 243.7L1643.4 239.8L1640.9 235.5L1638.3 235.2Z" fill="#d0d0e8"/>
<path d="M1617.2 282.2L1618.8 284.5L1620.5 284.6L1621.4 280.4Z" fill="#a0c0e0"/>
<path d="M1662.1 289.1L1662 286.2L1665 283.6L1667.3 282.8L1669.5 286.8L1665 290.9Z" fill="#5ad08a"/>
<path d="M1695.5 248.1L1687.3 243.7L1687.3 243.5L1690.3 234.9L1758.2 240.9L1697.6 248.8Z" fill="#d96b6b"/>
<path d="M1674.9 230.6L1679.1 238.1L1677.7 240.1L1670 233.2L1671.8 230.4Z" fill="#b8d078"/>
<path d="M1661.7 260.4L1659.3 257.7L1659.7 252.2L1665.4 248.3L1668.8 253.3L1664.9 257.6Z" fill="#e8e57a"/>
<path d="M1643.3 265.8L1643.8 268.4L1644.3 275L1638.1 277.2L1633.8 273.9L1634.3 272.6Z" fill="#4a4ab8"/>
<path d="M1641.6 251.5L1644 253.1L1642.4 256.1L1641.6 256.6L1640.9 256.1L1639.5 252.5Z" fill="#a0c0e0"/>
<path d="M1632.4 295.7L1635.2 294.4L1635.3 296.1L1632.6 302.9L1631.8 296.1Z" fill="#6fbf73"/>
<path d="M1680.2 285.7L1677 280L1676.7 279.9L1672.4 288.1L1673.7 289.6L1678.1 289.8L1679.3 288.3Z" fill="#e6a060"/>
<path d="M1673.7 289.6L1670.5 298.7L1696.2 428.3L1683.1 297.6L1678.1 289.8Z" fill="#606060"/>
<path d="M1643.3 265.8L1643.8 268.4L1651.8 273.3L1654.5 269.8L1654.3 267.1L1643.7 265.6L1643.3 265.7Z" fill="#e6a060"/>
<path d="M1685.2 283.8L1686.2 283L1686.6 279.7L1684.9 276.8L1677 280L1680.2 285.7Z" fill="#f0c8a0"/>
<path d="M1660.3 295.4L1665.2 293.5L1670.5 298.7L1696.2 428.3L1737.2 700.1L1677.2 699.1L1651.2 323L1651.1 318.9L1655.8 300.7Z" fill="#6fbf73"/>
<path d="M1671.8 230.4L1671.6 229.5L1658.1 225.5L1657.6 230.4L1664.5 233.8L1669.6 233.5L1670 233.2Z" fill="#606060"/>
<path d="M1633.2 274.1L1633.8 273.9L1634.3 272.6L1633.3 269.2L1625.9 267.9L1625.7 269.8Z" fill="#7ad0d8"/>
<path d="M1676.1 237.4L1686.5 256L1693.4 270.8L1689.1 284.2L1681.3 278.3L1681.3 256Z" fill="#e2d86a"/>
</g>
<line x1="241" y1="202" x2="241" y2="175" stroke="#77787b" stroke-width="1.2" />
<path d="M241 169.6L238.2 176.1L243.8 176.1Z" fill="#77787b"/>
<path d="M380 98H391V264.3H380" stroke="#8a8b8e" stroke-width="1.2" fill="none"/>
<line x1="391" y1="182" x2="404" y2="182" stroke="#77787b" stroke-width="1.2" />
<path d="M409.7 182L402.7 179.2L402.7 184.8Z" fill="#77787b"/>
<defs><g id="sctile"><rect x="0" y="0" width="75.05" height="75.05" fill="#3d2ab0"/><path d="M11.96 0h1.55v1.55h-1.55zM64.29 0h1.55v1.55h-1.55zM26.91 1.5h1.55v1.55h-1.55zM40.37 1.5h1.55v1.55h-1.55zM70.27 1.5h1.55v1.55h-1.55zM23.92 2.99h1.55v1.55h-1.55zM26.91 2.99h1.55v1.55h-1.55zM32.89 2.99h1.55v1.55h-1.55zM49.34 2.99h1.55v1.55h-1.55zM14.95 4.49h3.04v1.55h-3.04zM22.43 4.49h3.04v1.55h-3.04zM32.89 4.49h1.55v1.55h-1.55zM41.86 4.49h1.55v1.55h-1.55zM44.85 5.98h1.55v1.55h-1.55zM40.37 7.48h1.55v1.55h-1.55zM56.81 7.48h1.55v1.55h-1.55zM61.3 7.48h1.55v1.55h-1.55zM44.85 8.97h1.55v1.55h-1.55zM23.92 10.46h1.55v1.55h-1.55zM26.91 11.96h1.55v1.55h-1.55zM65.78 11.96h1.55v1.55h-1.55zM16.45 13.46h1.55v1.55h-1.55zM23.92 13.46h1.55v1.55h-1.55zM35.88 13.46h1.55v1.55h-1.55zM56.81 13.46h1.55v1.55h-1.55zM5.98 16.45h3.04v1.55h-3.04zM37.38 16.45h1.55v1.55h-1.55zM59.8 16.45h1.55v1.55h-1.55zM65.78 16.45h1.55v1.55h-1.55zM26.91 17.94h1.55v1.55h-1.55zM32.89 17.94h1.55v1.55h-1.55zM44.85 17.94h1.55v1.55h-1.55zM8.97 19.44h1.55v1.55h-1.55zM41.86 19.44h1.55v1.55h-1.55zM49.34 19.44h1.55v1.55h-1.55zM61.3 19.44h1.55v1.55h-1.55zM64.29 19.44h1.55v1.55h-1.55zM71.76 19.44h1.55v1.55h-1.55zM5.98 20.93h1.55v1.55h-1.55zM11.96 20.93h1.55v1.55h-1.55zM37.38 22.43h1.55v1.55h-1.55zM8.97 23.92h1.55v1.55h-1.55zM37.38 23.92h1.55v1.55h-1.55zM70.27 23.92h1.55v1.55h-1.55zM11.96 25.42h1.55v1.55h-1.55zM28.41 25.42h1.55v1.55h-1.55zM35.88 25.42h1.55v1.55h-1.55zM44.85 25.42h1.55v1.55h-1.55zM53.82 25.42h1.55v1.55h-1.55zM4.49 26.91h1.55v1.55h-1.55zM7.48 26.91h1.55v1.55h-1.55zM28.41 26.91h1.55v1.55h-1.55zM53.82 26.91h1.55v1.55h-1.55zM13.46 28.41h1.55v1.55h-1.55zM17.94 28.41h1.55v1.55h-1.55zM59.8 28.41h1.55v1.55h-1.55zM64.29 28.41h1.55v1.55h-1.55zM67.28 28.41h1.55v1.55h-1.55zM4.49 29.9h1.55v1.55h-1.55zM16.45 29.9h1.55v1.55h-1.55zM34.39 29.9h1.55v1.55h-1.55zM20.93 32.89h1.55v1.55h-1.55zM65.78 32.89h1.55v1.55h-1.55zM68.77 32.89h1.55v1.55h-1.55zM71.76 32.89h1.55v1.55h-1.55zM46.35 35.88h3.04v1.55h-3.04zM56.81 35.88h1.55v1.55h-1.55zM73.26 35.88h1.55v1.55h-1.55zM47.84 37.38h1.55v1.55h-1.55zM59.8 37.38h1.55v1.55h-1.55zM8.97 38.87h1.55v1.55h-1.55zM43.36 38.87h1.55v1.55h-1.55zM7.48 40.37h1.55v1.55h-1.55zM13.46 40.37h1.55v1.55h-1.55zM55.32 40.37h1.55v1.55h-1.55zM70.27 40.37h1.55v1.55h-1.55zM32.89 41.86h1.55v1.55h-1.55zM7.48 46.35h3.04v1.55h-3.04zM55.32 46.35h1.55v1.55h-1.55zM61.3 46.35h1.55v1.55h-1.55zM70.27 46.35h3.04v1.55h-3.04zM8.97 49.34h1.55v1.55h-1.55zM64.29 49.34h1.55v1.55h-1.55zM68.77 49.34h1.55v1.55h-1.55zM73.26 49.34h1.55v1.55h-1.55zM40.37 52.33h1.55v1.55h-1.55zM16.45 53.82h1.55v1.55h-1.55zM68.77 53.82h1.55v1.55h-1.55zM2.99 55.32h1.55v1.55h-1.55zM10.46 55.32h1.55v1.55h-1.55zM64.29 55.32h1.55v1.55h-1.55zM19.44 56.81h1.55v1.55h-1.55zM43.36 56.81h1.55v1.55h-1.55zM59.8 56.81h1.55v1.55h-1.55zM68.77 56.81h1.55v1.55h-1.55zM5.98 59.8h1.55v1.55h-1.55zM32.89 59.8h1.55v1.55h-1.55zM41.86 61.3h1.55v1.55h-1.55zM49.34 61.3h1.55v1.55h-1.55zM17.94 62.79h1.55v1.55h-1.55zM44.85 62.79h1.55v1.55h-1.55zM23.92 64.29h1.55v1.55h-1.55zM26.91 64.29h1.55v1.55h-1.55zM34.39 64.29h1.55v1.55h-1.55zM49.34 64.29h1.55v1.55h-1.55zM0 65.78h1.55v1.55h-1.55zM26.91 65.78h1.55v1.55h-1.55zM32.89 65.78h1.55v1.55h-1.55zM46.35 65.78h1.55v1.55h-1.55zM56.81 65.78h1.55v1.55h-1.55zM1.5 67.28h1.55v1.55h-1.55zM52.33 67.28h1.55v1.55h-1.55zM56.81 67.28h1.55v1.55h-1.55zM1.5 68.77h1.55v1.55h-1.55zM10.46 68.77h1.55v1.55h-1.55zM38.87 68.77h1.55v1.55h-1.55zM43.36 68.77h3.04v1.55h-3.04zM17.94 70.27h1.55v1.55h-1.55zM0 71.76h1.55v1.55h-1.55zM5.98 71.76h1.55v1.55h-1.55zM7.48 73.26h1.55v1.55h-1.55z" fill="#2d7ff5"/><path d="M14.95 0h1.55v1.55h-1.55zM32.89 0h1.55v1.55h-1.55zM44.85 0h1.55v1.55h-1.55zM56.81 0h1.55v1.55h-1.55zM68.77 0h1.55v1.55h-1.55zM0 1.5h1.55v1.55h-1.55zM11.96 1.5h1.55v1.55h-1.55zM17.94 1.5h1.55v1.55h-1.55zM29.9 1.5h3.04v1.55h-3.04zM46.35 1.5h3.04v1.55h-3.04zM55.32 1.5h1.55v1.55h-1.55zM59.8 1.5h1.55v1.55h-1.55zM62.79 1.5h3.04v1.55h-3.04zM73.26 1.5h1.55v1.55h-1.55zM0 2.99h1.55v1.55h-1.55zM37.38 2.99h1.55v1.55h-1.55zM64.29 2.99h3.04v1.55h-3.04zM71.76 2.99h1.55v1.55h-1.55zM0 4.49h1.55v1.55h-1.55zM25.42 4.49h4.54v1.55h-4.54zM52.33 4.49h3.04v1.55h-3.04zM64.29 4.49h1.55v1.55h-1.55zM67.28 4.49h1.55v1.55h-1.55zM70.27 4.49h1.55v1.55h-1.55zM16.45 5.98h1.55v1.55h-1.55zM37.38 5.98h1.55v1.55h-1.55zM68.77 5.98h1.55v1.55h-1.55zM29.9 7.48h3.04v1.55h-3.04zM46.35 7.48h1.55v1.55h-1.55zM70.27 7.48h1.55v1.55h-1.55zM19.44 8.97h1.55v1.55h-1.55zM25.42 8.97h1.55v1.55h-1.55zM29.9 8.97h3.04v1.55h-3.04zM46.35 8.97h1.55v1.55h-1.55zM50.83 8.97h1.55v1.55h-1.55zM37.38 10.46h1.55v1.55h-1.55zM64.29 10.46h1.55v1.55h-1.55zM71.76 10.46h1.55v1.55h-1.55zM0 11.96h1.55v1.55h-1.55zM19.44 11.96h1.55v1.55h-1.55zM22.43 11.96h1.55v1.55h-1.55zM25.42 11.96h1.55v1.55h-1.55zM40.37 11.96h3.04v1.55h-3.04zM44.85 11.96h1.55v1.55h-1.55zM53.82 11.96h1.55v1.55h-1.55zM64.29 11.96h1.55v1.55h-1.55zM2.99 13.46h1.55v1.55h-1.55zM31.4 13.46h1.55v1.55h-1.55zM61.3 13.46h1.55v1.55h-1.55zM68.77 13.46h1.55v1.55h-1.55zM71.76 13.46h1.55v1.55h-1.55zM7.48 14.95h3.04v1.55h-3.04zM11.96 14.95h1.55v1.55h-1.55zM49.34 14.95h1.55v1.55h-1.55zM8.97 16.45h1.55v1.55h-1.55zM58.31 16.45h1.55v1.55h-1.55zM73.26 16.45h1.55v1.55h-1.55zM0 17.94h1.55v1.55h-1.55zM37.38 17.94h1.55v1.55h-1.55zM71.76 17.94h1.55v1.55h-1.55zM4.49 19.44h1.55v1.55h-1.55zM7.48 19.44h1.55v1.55h-1.55zM32.89 19.44h1.55v1.55h-1.55zM47.84 19.44h1.55v1.55h-1.55zM55.32 19.44h1.55v1.55h-1.55zM58.31 19.44h1.55v1.55h-1.55zM0 20.93h1.55v1.55h-1.55zM34.39 20.93h1.55v1.55h-1.55zM40.37 20.93h1.55v1.55h-1.55zM1.5 22.43h1.55v1.55h-1.55zM4.49 22.43h1.55v1.55h-1.55zM28.41 22.43h1.55v1.55h-1.55zM31.4 22.43h1.55v1.55h-1.55zM35.88 22.43h1.55v1.55h-1.55zM53.82 22.43h1.55v1.55h-1.55zM31.4 23.92h1.55v1.55h-1.55zM34.39 23.92h1.55v1.55h-1.55zM58.31 23.92h1.55v1.55h-1.55zM37.38 25.42h1.55v1.55h-1.55zM71.76 25.42h1.55v1.55h-1.55zM35.88 26.91h1.55v1.55h-1.55zM47.84 26.91h1.55v1.55h-1.55zM56.81 26.91h3.04v1.55h-3.04zM65.78 26.91h1.55v1.55h-1.55zM71.76 26.91h1.55v1.55h-1.55zM0 28.41h1.55v1.55h-1.55zM2.99 28.41h1.55v1.55h-1.55zM16.45 28.41h1.55v1.55h-1.55zM20.93 28.41h1.55v1.55h-1.55zM29.9 28.41h1.55v1.55h-1.55zM34.39 28.41h1.55v1.55h-1.55zM37.38 28.41h1.55v1.55h-1.55zM46.35 28.41h1.55v1.55h-1.55zM49.34 28.41h1.55v1.55h-1.55zM68.77 28.41h1.55v1.55h-1.55zM1.5 29.9h1.55v1.55h-1.55zM44.85 31.4h1.55v1.55h-1.55zM50.83 31.4h1.55v1.55h-1.55zM61.3 31.4h1.55v1.55h-1.55zM64.29 31.4h1.55v1.55h-1.55zM0 32.89h3.04v1.55h-3.04zM5.98 32.89h1.55v1.55h-1.55zM41.86 32.89h1.55v1.55h-1.55zM44.85 32.89h1.55v1.55h-1.55zM52.33 32.89h1.55v1.55h-1.55zM61.3 32.89h1.55v1.55h-1.55zM2.99 34.39h1.55v1.55h-1.55zM7.48 34.39h1.55v1.55h-1.55zM14.95 34.39h1.55v1.55h-1.55zM44.85 34.39h1.55v1.55h-1.55zM4.49 35.88h1.55v1.55h-1.55zM7.48 35.88h1.55v1.55h-1.55zM22.43 35.88h1.55v1.55h-1.55zM29.9 35.88h1.55v1.55h-1.55zM44.85 35.88h1.55v1.55h-1.55zM61.3 35.88h1.55v1.55h-1.55zM0 37.38h1.55v1.55h-1.55zM7.48 37.38h1.55v1.55h-1.55zM20.93 37.38h1.55v1.55h-1.55zM46.35 37.38h1.55v1.55h-1.55zM50.83 37.38h1.55v1.55h-1.55zM64.29 37.38h1.55v1.55h-1.55zM14.95 38.87h1.55v1.55h-1.55zM19.44 40.37h1.55v1.55h-1.55zM23.92 40.37h3.04v1.55h-3.04zM29.9 40.37h1.55v1.55h-1.55zM68.77 40.37h1.55v1.55h-1.55zM73.26 40.37h1.55v1.55h-1.55zM50.83 41.86h1.55v1.55h-1.55zM59.8 41.86h1.55v1.55h-1.55zM65.78 41.86h1.55v1.55h-1.55zM71.76 41.86h1.55v1.55h-1.55zM7.48 43.36h1.55v1.55h-1.55zM16.45 43.36h1.55v1.55h-1.55zM32.89 43.36h1.55v1.55h-1.55zM65.78 43.36h1.55v1.55h-1.55zM71.76 43.36h1.55v1.55h-1.55zM0 44.85h1.55v1.55h-1.55zM2.99 44.85h1.55v1.55h-1.55zM14.95 44.85h1.55v1.55h-1.55zM22.43 44.85h1.55v1.55h-1.55zM29.9 44.85h1.55v1.55h-1.55zM68.77 44.85h1.55v1.55h-1.55zM1.5 46.35h1.55v1.55h-1.55zM5.98 46.35h1.55v1.55h-1.55zM19.44 46.35h1.55v1.55h-1.55zM68.77 46.35h1.55v1.55h-1.55zM4.49 47.84h1.55v1.55h-1.55zM14.95 47.84h1.55v1.55h-1.55zM26.91 47.84h1.55v1.55h-1.55zM32.89 47.84h1.55v1.55h-1.55zM61.3 47.84h1.55v1.55h-1.55zM64.29 47.84h1.55v1.55h-1.55zM1.5 49.34h1.55v1.55h-1.55zM4.49 49.34h3.04v1.55h-3.04zM17.94 49.34h3.04v1.55h-3.04zM25.42 49.34h1.55v1.55h-1.55zM32.89 49.34h1.55v1.55h-1.55zM37.38 49.34h3.04v1.55h-3.04zM43.36 49.34h1.55v1.55h-1.55zM4.49 50.83h1.55v1.55h-1.55zM31.4 50.83h1.55v1.55h-1.55zM37.38 50.83h1.55v1.55h-1.55zM61.3 50.83h1.55v1.55h-1.55zM11.96 52.33h1.55v1.55h-1.55zM35.88 52.33h1.55v1.55h-1.55zM26.91 53.82h1.55v1.55h-1.55zM32.89 53.82h1.55v1.55h-1.55zM50.83 53.82h1.55v1.55h-1.55zM61.3 53.82h1.55v1.55h-1.55zM64.29 53.82h1.55v1.55h-1.55zM16.45 55.32h1.55v1.55h-1.55zM23.92 55.32h1.55v1.55h-1.55zM37.38 55.32h1.55v1.55h-1.55zM71.76 55.32h1.55v1.55h-1.55zM14.95 56.81h1.55v1.55h-1.55zM17.94 56.81h1.55v1.55h-1.55zM29.9 56.81h1.55v1.55h-1.55zM44.85 56.81h1.55v1.55h-1.55zM67.28 56.81h1.55v1.55h-1.55zM16.45 58.31h1.55v1.55h-1.55zM25.42 58.31h1.55v1.55h-1.55zM28.41 58.31h1.55v1.55h-1.55zM34.39 58.31h1.55v1.55h-1.55zM38.87 58.31h1.55v1.55h-1.55zM73.26 58.31h1.55v1.55h-1.55zM0 59.8h1.55v1.55h-1.55zM7.48 59.8h1.55v1.55h-1.55zM11.96 59.8h1.55v1.55h-1.55zM14.95 59.8h1.55v1.55h-1.55zM23.92 59.8h1.55v1.55h-1.55zM61.3 59.8h1.55v1.55h-1.55zM4.49 61.3h1.55v1.55h-1.55zM31.4 61.3h1.55v1.55h-1.55zM37.38 61.3h1.55v1.55h-1.55zM50.83 61.3h1.55v1.55h-1.55zM73.26 61.3h1.55v1.55h-1.55zM11.96 62.79h1.55v1.55h-1.55zM64.29 62.79h1.55v1.55h-1.55zM5.98 64.29h1.55v1.55h-1.55zM10.46 64.29h1.55v1.55h-1.55zM37.38 64.29h1.55v1.55h-1.55zM56.81 64.29h3.04v1.55h-3.04zM4.49 65.78h1.55v1.55h-1.55zM13.46 65.78h1.55v1.55h-1.55zM29.9 65.78h1.55v1.55h-1.55zM35.88 65.78h4.54v1.55h-4.54zM53.82 65.78h1.55v1.55h-1.55zM58.31 65.78h1.55v1.55h-1.55zM2.99 67.28h1.55v1.55h-1.55zM23.92 67.28h1.55v1.55h-1.55zM26.91 67.28h1.55v1.55h-1.55zM40.37 67.28h1.55v1.55h-1.55zM0 68.77h1.55v1.55h-1.55zM7.48 68.77h1.55v1.55h-1.55zM22.43 68.77h1.55v1.55h-1.55zM47.84 68.77h1.55v1.55h-1.55zM50.83 68.77h1.55v1.55h-1.55zM73.26 68.77h1.55v1.55h-1.55zM4.49 70.27h3.04v1.55h-3.04zM28.41 70.27h1.55v1.55h-1.55zM38.87 70.27h1.55v1.55h-1.55zM44.85 70.27h1.55v1.55h-1.55zM2.99 71.76h1.55v1.55h-1.55zM23.92 71.76h1.55v1.55h-1.55zM26.91 71.76h1.55v1.55h-1.55zM40.37 71.76h1.55v1.55h-1.55zM43.36 71.76h1.55v1.55h-1.55zM50.83 71.76h1.55v1.55h-1.55zM64.29 71.76h1.55v1.55h-1.55zM68.77 71.76h1.55v1.55h-1.55zM1.5 73.26h1.55v1.55h-1.55zM13.46 73.26h1.55v1.55h-1.55zM23.92 73.26h1.55v1.55h-1.55zM28.41 73.26h1.55v1.55h-1.55zM35.88 73.26h1.55v1.55h-1.55zM40.37 73.26h1.55v1.55h-1.55zM52.33 73.26h1.55v1.55h-1.55zM55.32 73.26h1.55v1.55h-1.55zM61.3 73.26h1.55v1.55h-1.55zM70.27 73.26h3.04v1.55h-3.04z" fill="#14b4d8"/><path d="M0 0h1.55v1.55h-1.55zM4.49 0h1.55v1.55h-1.55zM23.92 0h1.55v1.55h-1.55zM28.41 0h1.55v1.55h-1.55zM31.4 0h1.55v1.55h-1.55zM34.39 0h1.55v1.55h-1.55zM49.34 0h1.55v1.55h-1.55zM55.32 0h1.55v1.55h-1.55zM73.26 0h1.55v1.55h-1.55zM7.48 1.5h1.55v1.55h-1.55zM25.42 1.5h1.55v1.55h-1.55zM50.83 1.5h1.55v1.55h-1.55zM65.78 1.5h1.55v1.55h-1.55zM71.76 1.5h1.55v1.55h-1.55zM25.42 2.99h1.55v1.55h-1.55zM31.4 2.99h1.55v1.55h-1.55zM61.3 2.99h1.55v1.55h-1.55zM70.27 2.99h1.55v1.55h-1.55zM34.39 4.49h1.55v1.55h-1.55zM37.38 4.49h1.55v1.55h-1.55zM44.85 4.49h1.55v1.55h-1.55zM49.34 4.49h1.55v1.55h-1.55zM55.32 4.49h1.55v1.55h-1.55zM59.8 4.49h1.55v1.55h-1.55zM62.79 4.49h1.55v1.55h-1.55zM68.77 4.49h1.55v1.55h-1.55zM17.94 5.98h1.55v1.55h-1.55zM46.35 5.98h1.55v1.55h-1.55zM53.82 5.98h1.55v1.55h-1.55zM56.81 5.98h1.55v1.55h-1.55zM64.29 5.98h1.55v1.55h-1.55zM67.28 5.98h1.55v1.55h-1.55zM0 7.48h1.55v1.55h-1.55zM14.95 7.48h1.55v1.55h-1.55zM23.92 7.48h3.04v1.55h-3.04zM43.36 7.48h1.55v1.55h-1.55zM49.34 7.48h1.55v1.55h-1.55zM52.33 7.48h1.55v1.55h-1.55zM55.32 7.48h1.55v1.55h-1.55zM65.78 7.48h1.55v1.55h-1.55zM71.76 7.48h1.55v1.55h-1.55zM14.95 8.97h1.55v1.55h-1.55zM20.93 8.97h4.54v1.55h-4.54zM37.38 8.97h3.04v1.55h-3.04zM41.86 8.97h1.55v1.55h-1.55zM61.3 8.97h1.55v1.55h-1.55zM64.29 8.97h1.55v1.55h-1.55zM67.28 8.97h1.55v1.55h-1.55zM1.5 10.46h1.55v1.55h-1.55zM50.83 10.46h1.55v1.55h-1.55zM62.79 10.46h1.55v1.55h-1.55zM68.77 10.46h1.55v1.55h-1.55zM23.92 11.96h1.55v1.55h-1.55zM28.41 11.96h1.55v1.55h-1.55zM38.87 11.96h1.55v1.55h-1.55zM43.36 11.96h1.55v1.55h-1.55zM46.35 11.96h1.55v1.55h-1.55zM49.34 11.96h1.55v1.55h-1.55zM55.32 11.96h4.54v1.55h-4.54zM61.3 11.96h1.55v1.55h-1.55zM70.27 11.96h1.55v1.55h-1.55zM1.5 13.46h1.55v1.55h-1.55zM11.96 13.46h1.55v1.55h-1.55zM25.42 13.46h1.55v1.55h-1.55zM28.41 13.46h3.04v1.55h-3.04zM38.87 13.46h1.55v1.55h-1.55zM46.35 13.46h3.04v1.55h-3.04zM50.83 13.46h1.55v1.55h-1.55zM59.8 13.46h1.55v1.55h-1.55zM32.89 14.95h3.04v1.55h-3.04zM38.87 14.95h1.55v1.55h-1.55zM46.35 14.95h1.55v1.55h-1.55zM50.83 14.95h3.04v1.55h-3.04zM58.31 14.95h1.55v1.55h-1.55zM61.3 14.95h1.55v1.55h-1.55zM1.5 16.45h1.55v1.55h-1.55zM29.9 16.45h3.04v1.55h-3.04zM40.37 16.45h1.55v1.55h-1.55zM43.36 16.45h4.54v1.55h-4.54zM53.82 16.45h1.55v1.55h-1.55zM56.81 16.45h1.55v1.55h-1.55zM61.3 16.45h1.55v1.55h-1.55zM67.28 16.45h1.55v1.55h-1.55zM13.46 17.94h1.55v1.55h-1.55zM35.88 17.94h1.55v1.55h-1.55zM38.87 17.94h1.55v1.55h-1.55zM53.82 17.94h3.04v1.55h-3.04zM61.3 17.94h1.55v1.55h-1.55zM65.78 17.94h1.55v1.55h-1.55zM73.26 17.94h1.55v1.55h-1.55zM37.38 19.44h3.04v1.55h-3.04zM43.36 19.44h1.55v1.55h-1.55zM46.35 19.44h1.55v1.55h-1.55zM53.82 19.44h1.55v1.55h-1.55zM56.81 19.44h1.55v1.55h-1.55zM32.89 20.93h1.55v1.55h-1.55zM46.35 20.93h1.55v1.55h-1.55zM49.34 20.93h1.55v1.55h-1.55zM52.33 20.93h1.55v1.55h-1.55zM58.31 20.93h1.55v1.55h-1.55zM65.78 20.93h1.55v1.55h-1.55zM0 22.43h1.55v1.55h-1.55zM10.46 22.43h1.55v1.55h-1.55zM23.92 22.43h1.55v1.55h-1.55zM32.89 22.43h1.55v1.55h-1.55zM38.87 22.43h9.02v1.55h-9.02zM50.83 22.43h3.04v1.55h-3.04zM58.31 22.43h3.04v1.55h-3.04zM62.79 22.43h1.55v1.55h-1.55zM71.76 22.43h1.55v1.55h-1.55zM0 23.92h1.55v1.55h-1.55zM32.89 23.92h1.55v1.55h-1.55zM49.34 23.92h1.55v1.55h-1.55zM53.82 23.92h1.55v1.55h-1.55zM61.3 23.92h1.55v1.55h-1.55zM64.29 23.92h3.04v1.55h-3.04zM68.77 23.92h1.55v1.55h-1.55zM73.26 23.92h1.55v1.55h-1.55zM40.37 25.42h1.55v1.55h-1.55zM47.84 25.42h1.55v1.55h-1.55zM59.8 25.42h1.55v1.55h-1.55zM64.29 25.42h1.55v1.55h-1.55zM5.98 26.91h1.55v1.55h-1.55zM25.42 26.91h1.55v1.55h-1.55zM31.4 26.91h1.55v1.55h-1.55zM37.38 26.91h1.55v1.55h-1.55zM46.35 26.91h1.55v1.55h-1.55zM64.29 26.91h1.55v1.55h-1.55zM67.28 26.91h1.55v1.55h-1.55zM1.5 28.41h1.55v1.55h-1.55zM11.96 28.41h1.55v1.55h-1.55zM14.95 28.41h1.55v1.55h-1.55zM25.42 28.41h1.55v1.55h-1.55zM28.41 28.41h1.55v1.55h-1.55zM31.4 28.41h3.04v1.55h-3.04zM44.85 28.41h1.55v1.55h-1.55zM55.32 28.41h1.55v1.55h-1.55zM7.48 29.9h1.55v1.55h-1.55zM23.92 29.9h1.55v1.55h-1.55zM28.41 29.9h1.55v1.55h-1.55zM31.4 29.9h3.04v1.55h-3.04zM35.88 29.9h1.55v1.55h-1.55zM41.86 29.9h3.04v1.55h-3.04zM46.35 29.9h1.55v1.55h-1.55zM49.34 29.9h3.04v1.55h-3.04zM61.3 29.9h1.55v1.55h-1.55zM65.78 29.9h1.55v1.55h-1.55zM14.95 31.4h3.04v1.55h-3.04zM32.89 31.4h1.55v1.55h-1.55zM41.86 31.4h3.04v1.55h-3.04zM68.77 31.4h1.55v1.55h-1.55zM13.46 32.89h3.04v1.55h-3.04zM22.43 32.89h1.55v1.55h-1.55zM31.4 32.89h10.52v1.55h-10.52zM47.84 32.89h1.55v1.55h-1.55zM11.96 34.39h1.55v1.55h-1.55zM26.91 34.39h1.55v1.55h-1.55zM31.4 34.39h10.52v1.55h-10.52zM5.98 35.88h1.55v1.55h-1.55zM8.97 35.88h1.55v1.55h-1.55zM11.96 35.88h1.55v1.55h-1.55zM19.44 35.88h1.55v1.55h-1.55zM23.92 35.88h1.55v1.55h-1.55zM28.41 35.88h1.55v1.55h-1.55zM31.4 35.88h10.52v1.55h-10.52zM49.34 35.88h1.55v1.55h-1.55zM53.82 35.88h1.55v1.55h-1.55zM65.78 35.88h1.55v1.55h-1.55zM68.77 35.88h3.04v1.55h-3.04zM4.49 37.38h1.55v1.55h-1.55zM14.95 37.38h3.04v1.55h-3.04zM22.43 37.38h3.04v1.55h-3.04zM29.9 37.38h12.01v1.55h-12.01zM43.36 37.38h3.04v1.55h-3.04zM53.82 37.38h3.04v1.55h-3.04zM31.4 38.87h10.52v1.55h-10.52zM44.85 38.87h10.52v1.55h-10.52zM58.31 38.87h1.55v1.55h-1.55zM73.26 38.87h1.55v1.55h-1.55zM2.99 40.37h1.55v1.55h-1.55zM5.98 40.37h1.55v1.55h-1.55zM8.97 40.37h1.55v1.55h-1.55zM28.41 40.37h1.55v1.55h-1.55zM31.4 40.37h15v1.55h-15zM49.34 40.37h6.03v1.55h-6.03zM58.31 40.37h1.55v1.55h-1.55zM0 41.86h1.55v1.55h-1.55zM19.44 41.86h1.55v1.55h-1.55zM31.4 41.86h1.55v1.55h-1.55zM34.39 41.86h1.55v1.55h-1.55zM37.38 41.86h1.55v1.55h-1.55zM40.37 41.86h1.55v1.55h-1.55zM43.36 41.86h1.55v1.55h-1.55zM46.35 41.86h1.55v1.55h-1.55zM49.34 41.86h1.55v1.55h-1.55zM53.82 41.86h1.55v1.55h-1.55zM56.81 41.86h1.55v1.55h-1.55zM64.29 41.86h1.55v1.55h-1.55zM68.77 41.86h3.04v1.55h-3.04zM73.26 41.86h1.55v1.55h-1.55zM10.46 43.36h1.55v1.55h-1.55zM29.9 43.36h1.55v1.55h-1.55zM35.88 43.36h1.55v1.55h-1.55zM49.34 43.36h1.55v1.55h-1.55zM53.82 43.36h1.55v1.55h-1.55zM56.81 43.36h1.55v1.55h-1.55zM59.8 43.36h1.55v1.55h-1.55zM64.29 43.36h1.55v1.55h-1.55zM7.48 44.85h1.55v1.55h-1.55zM11.96 44.85h1.55v1.55h-1.55zM28.41 44.85h1.55v1.55h-1.55zM32.89 44.85h1.55v1.55h-1.55zM37.38 44.85h1.55v1.55h-1.55zM43.36 44.85h1.55v1.55h-1.55zM59.8 44.85h3.04v1.55h-3.04zM64.29 44.85h1.55v1.55h-1.55zM73.26 44.85h1.55v1.55h-1.55zM0 46.35h1.55v1.55h-1.55zM4.49 46.35h1.55v1.55h-1.55zM26.91 46.35h1.55v1.55h-1.55zM38.87 46.35h1.55v1.55h-1.55zM17.94 47.84h1.55v1.55h-1.55zM25.42 47.84h1.55v1.55h-1.55zM31.4 47.84h1.55v1.55h-1.55zM59.8 47.84h1.55v1.55h-1.55zM65.78 47.84h1.55v1.55h-1.55zM70.27 47.84h3.04v1.55h-3.04zM0 49.34h1.55v1.55h-1.55zM2.99 49.34h1.55v1.55h-1.55zM16.45 49.34h1.55v1.55h-1.55zM23.92 49.34h1.55v1.55h-1.55zM34.39 49.34h3.04v1.55h-3.04zM61.3 49.34h1.55v1.55h-1.55zM65.78 49.34h1.55v1.55h-1.55zM70.27 49.34h1.55v1.55h-1.55zM10.46 50.83h1.55v1.55h-1.55zM22.43 50.83h1.55v1.55h-1.55zM35.88 50.83h1.55v1.55h-1.55zM40.37 50.83h1.55v1.55h-1.55zM64.29 50.83h1.55v1.55h-1.55zM68.77 50.83h1.55v1.55h-1.55zM20.93 52.33h1.55v1.55h-1.55zM68.77 52.33h1.55v1.55h-1.55zM14.95 53.82h1.55v1.55h-1.55zM19.44 53.82h1.55v1.55h-1.55zM23.92 53.82h1.55v1.55h-1.55zM31.4 53.82h1.55v1.55h-1.55zM5.98 55.32h1.55v1.55h-1.55zM17.94 55.32h1.55v1.55h-1.55zM25.42 55.32h1.55v1.55h-1.55zM67.28 55.32h1.55v1.55h-1.55zM0 56.81h1.55v1.55h-1.55zM5.98 56.81h3.04v1.55h-3.04zM16.45 56.81h1.55v1.55h-1.55zM23.92 56.81h1.55v1.55h-1.55zM35.88 56.81h1.55v1.55h-1.55zM41.86 56.81h1.55v1.55h-1.55zM0 58.31h1.55v1.55h-1.55zM7.48 58.31h3.04v1.55h-3.04zM14.95 58.31h1.55v1.55h-1.55zM19.44 58.31h1.55v1.55h-1.55zM23.92 58.31h1.55v1.55h-1.55zM35.88 58.31h1.55v1.55h-1.55zM40.37 58.31h3.04v1.55h-3.04zM64.29 58.31h3.04v1.55h-3.04zM1.5 59.8h1.55v1.55h-1.55zM10.46 59.8h1.55v1.55h-1.55zM13.46 59.8h1.55v1.55h-1.55zM37.38 59.8h1.55v1.55h-1.55zM40.37 59.8h1.55v1.55h-1.55zM55.32 59.8h1.55v1.55h-1.55zM5.98 61.3h1.55v1.55h-1.55zM11.96 61.3h1.55v1.55h-1.55zM20.93 61.3h1.55v1.55h-1.55zM23.92 61.3h1.55v1.55h-1.55zM44.85 61.3h1.55v1.55h-1.55zM47.84 61.3h1.55v1.55h-1.55zM58.31 61.3h1.55v1.55h-1.55zM10.46 62.79h1.55v1.55h-1.55zM13.46 62.79h1.55v1.55h-1.55zM22.43 62.79h1.55v1.55h-1.55zM29.9 62.79h1.55v1.55h-1.55zM50.83 62.79h1.55v1.55h-1.55zM0 64.29h1.55v1.55h-1.55zM4.49 64.29h1.55v1.55h-1.55zM8.97 64.29h1.55v1.55h-1.55zM14.95 64.29h1.55v1.55h-1.55zM32.89 64.29h1.55v1.55h-1.55zM5.98 65.78h3.04v1.55h-3.04zM14.95 65.78h3.04v1.55h-3.04zM28.41 65.78h1.55v1.55h-1.55zM43.36 65.78h3.04v1.55h-3.04zM71.76 65.78h1.55v1.55h-1.55zM5.98 67.28h9.02v1.55h-9.02zM16.45 67.28h3.04v1.55h-3.04zM32.89 67.28h1.55v1.55h-1.55zM37.38 67.28h1.55v1.55h-1.55zM44.85 67.28h3.04v1.55h-3.04zM61.3 67.28h1.55v1.55h-1.55zM4.49 68.77h1.55v1.55h-1.55zM11.96 68.77h1.55v1.55h-1.55zM17.94 68.77h1.55v1.55h-1.55zM23.92 68.77h1.55v1.55h-1.55zM41.86 68.77h1.55v1.55h-1.55zM2.99 70.27h1.55v1.55h-1.55zM23.92 70.27h1.55v1.55h-1.55zM32.89 70.27h1.55v1.55h-1.55zM53.82 70.27h1.55v1.55h-1.55zM1.5 71.76h1.55v1.55h-1.55zM11.96 71.76h3.04v1.55h-3.04zM44.85 71.76h1.55v1.55h-1.55zM56.81 71.76h1.55v1.55h-1.55zM59.8 71.76h1.55v1.55h-1.55zM62.79 71.76h1.55v1.55h-1.55zM0 73.26h1.55v1.55h-1.55zM4.49 73.26h1.55v1.55h-1.55zM8.97 73.26h1.55v1.55h-1.55zM14.95 73.26h3.04v1.55h-3.04zM26.91 73.26h1.55v1.55h-1.55zM31.4 73.26h1.55v1.55h-1.55zM49.34 73.26h3.04v1.55h-3.04zM65.78 73.26h1.55v1.55h-1.55zM73.26 73.26h1.55v1.55h-1.55z" fill="#f7ee14"/></g></defs>
<use href="#sctile" x="429.3" y="109"/>
<use href="#sctile" x="429.3" y="183.6"/>
<use href="#sctile" x="504.05" y="109"/>
<use href="#sctile" x="504.05" y="183.6"/>
<path d="M662 100C660.4 91 656.7 96.5 653 96.3C649.3 96.1 645.5 96.4 640 99C634.5 101.6 625.7 106.8 620 112C614.3 117.2 609.3 123.2 606 130C602.7 136.8 601.2 144.7 600 153C598.8 161.3 598.9 171 598.5 180C598.1 189 597.3 197.8 597.7 207C598.1 216.2 598.6 227 601 235C603.4 243 607.2 249.7 612 255C616.8 260.3 624 264.7 630 267C636 269.3 643 269.3 648 269C653 268.7 657.6 269.8 660 265C662.4 260.2 662.1 259.2 662.5 240C662.9 220.8 662.6 173.3 662.5 150C662.4 126.7 663.6 109 662 100Z" fill="url(#gGlass)" stroke="#d6d7d7" stroke-width="1"/>
<path d="M664 100C665.2 91 667.5 96.5 671 96.3C674.5 96.1 679.3 96.4 685 99C690.7 101.6 699.3 106.8 705 112C710.7 117.2 715.6 122 719 130C722.4 138 724.2 150 725.5 160C726.8 170 726.9 181.7 727 190C727.1 198.3 727.2 202 726.4 210C725.6 218 724.7 230.2 722 238C719.3 245.8 715 252.2 710 257C705 261.8 697.7 265 692 267C686.3 269 680.5 269.3 676 269C671.5 268.7 667.1 269.8 665 265C662.9 260.2 663.8 259.2 663.5 240C663.2 220.8 663.4 173.3 663.5 150C663.6 126.7 662.8 109 664 100Z" fill="url(#gGlass)" stroke="#d6d7d7" stroke-width="1"/>
<path d="M632.5 159.6L639.7 122.5M635.9 244L619.8 160.9M635.9 244L667.9 225.5M692.5 208.8L698.4 179.4M688.9 124.1L639.7 122.5M635.9 244L685 245.4M691 244L717.8 204M635.9 244L611.3 147.1M632.5 159.6L669.3 145.7M688.9 124.1L668.9 124.1M634 124L656.4 244M692.5 208.8L715.1 197.5M634 124L685 245.4M691 244L698.4 179.4M635.9 244L669.3 145.7M632.5 159.6L715.5 147M632.5 159.6L626.6 188.5M635.9 244L657.3 142.4M691 244L674.5 142.4M692.5 208.8L609.9 199.8M692.5 208.8L688.9 124.1M688.9 124.1L715.5 147M692.5 208.8L609.9 199.8M688.9 124.1L634.3 208.8M688.9 124.1L604 202M691 244L698.4 179.4M635.9 244L713.6 221M635.9 244L659.4 225.5M634 124L683.3 122.5M635.9 244L674.5 142.4M691 244L641.7 245.4M635.9 244L639.7 122.5M691 244L657.3 142.4M691 244L609 221M692.5 208.8L609.9 170M691 244L648.7 142.4M635.9 244L609.9 199.8M634 124L650.5 225.5M635.9 244L669.3 145.7M691 244L619.8 160.9M634 124L676.4 225.5M692.5 208.8L657.3 142.4M688.9 124.1L665.9 142.4M635.9 244L676.4 225.5M692.5 208.8L685 245.4M692.5 208.8L650.5 225.5M635.9 244L692.5 208.8M634 124L668.9 124.1M691 244L655.7 222.3M691 244L656.4 244M692.5 208.8L717.8 204M634 124L611.3 147.1M635.9 244L674.5 142.4M632.5 159.6L609.9 199.8M691 244L692.5 208.8M688.9 124.1L626.6 188.5M691 244L696.6 188.9M634 124L656.4 244M688.9 124.1L690.3 159.6M692.5 208.8L609.9 170M632.5 159.6L606.9 164.5M688.9 124.1L650.5 225.5M635.9 244L650.5 225.5M635.9 244L696.6 188.9M692.5 208.8L603 205M634 124L609.9 170M635.9 244L655.7 222.3M691 244L606.9 164.5M692.5 208.8L715.5 147M692.5 208.8L648.7 142.4M715.5 147L690.3 159.6M715.1 197.5L715.5 147M690.3 159.6L667.9 225.5M635.9 244L667.9 225.5M715.5 147L634 124M715.1 168.1L641.7 245.4M634 124L639.7 122.5M626.6 188.5L609.9 170M669.3 145.7L609.9 170M648.7 142.4L692.5 208.8M717.8 204L632.5 159.6M634 124L609.9 199.8M691 244L717.8 204M609.9 199.8L655.7 222.3M696.6 188.9L715.5 147M609 221L674.5 142.4M683.3 122.5L609.9 170M650.5 225.5L715.1 168.1M609 221L674.5 142.4M676.4 225.5L634 124M609.9 199.8L665.9 142.4M648.7 142.4L641.7 245.4M611.3 147.1L698.4 179.4M639.7 122.5L665.9 142.4M667.9 225.5L665.9 142.4" stroke="#8a8a8a" stroke-width="0.6" stroke-opacity="0.75" fill="none"/>
<path d="M634 124H689M636 244H691M632.5 159.6H690" stroke="#9a9a9a" stroke-width="1.1" fill="none"/>
<path d="M611.3 147.1L628.8 179.4L634 215M611 148L650 236M689 124L703 200M689 124L718 221" stroke="#f5c242" stroke-width="0.7" fill="none"/>
<path d="M609.9 170L619.8 160.9M609.9 199.8L619.8 160.9M715.1 168L705 210" stroke="#45bcd6" stroke-width="0.7" fill="none"/>
<path d="M609 221L622 153M703 210L716 147" stroke="#e88080" stroke-width="0.6" fill="none"/>
<circle cx="688.9" cy="124.1" r="14" fill="#f5c242" />
<circle cx="683.3" cy="122.5" r="3.6" fill="#45bcd6" />
<circle cx="634" cy="124" r="5.9" fill="#e2473a" />
<circle cx="639.7" cy="122.5" r="1.8" fill="#7dc24b" />
<circle cx="668.9" cy="124.1" r="1.5" fill="#f5c242" />
<circle cx="632.5" cy="159.6" r="6" fill="#e2473a" />
<circle cx="611.3" cy="147.1" r="4.5" fill="#f5c242" />
<circle cx="606.9" cy="164.5" r="2.7" fill="#f5c242" />
<circle cx="609.9" cy="170" r="3" fill="#45bcd6" />
<circle cx="619.8" cy="160.9" r="1.5" fill="#45bcd6" />
<circle cx="628.8" cy="179.4" r="3" fill="#f5c242" />
<circle cx="626.6" cy="188.5" r="1.6" fill="#e2473a" />
<circle cx="609.9" cy="199.8" r="2.3" fill="#45bcd6" />
<circle cx="634.3" cy="208.8" r="1.5" fill="#f5c242" />
<circle cx="635.9" cy="244" r="14.4" fill="#f5c242" />
<circle cx="641.7" cy="245.4" r="3.6" fill="#45bcd6" />
<circle cx="656.4" cy="244" r="1.5" fill="#f5c242" />
<circle cx="691" cy="244" r="6" fill="#e2473a" />
<circle cx="685" cy="245.4" r="1.5" fill="#7dc24b" />
<circle cx="713.6" cy="221" r="4.5" fill="#f5c242" />
<circle cx="717.8" cy="204" r="2.3" fill="#f5c242" />
<circle cx="715.1" cy="197.5" r="2.7" fill="#45bcd6" />
<circle cx="715.1" cy="168.1" r="2" fill="#45bcd6" />
<circle cx="696.6" cy="188.9" r="3" fill="#f5c242" />
<circle cx="698.4" cy="179.4" r="1.5" fill="#e2473a" />
<circle cx="690.3" cy="159.6" r="1.5" fill="#f5c242" />
<circle cx="648.7" cy="142.4" r="1.5" fill="#7dc24b" />
<circle cx="657.3" cy="142.4" r="2.2" fill="#7dc24b" />
<circle cx="665.9" cy="142.4" r="3" fill="#45bcd6" />
<circle cx="674.5" cy="142.4" r="2.3" fill="#45bcd6" />
<circle cx="669.3" cy="145.7" r="1.3" fill="#2a3aa0" />
<circle cx="650.5" cy="225.5" r="2.2" fill="#45bcd6" />
<circle cx="659.4" cy="225.5" r="3" fill="#45bcd6" />
<circle cx="667.9" cy="225.5" r="2.2" fill="#7dc24b" />
<circle cx="676.4" cy="225.5" r="1.5" fill="#7dc24b" />
<circle cx="655.7" cy="222.3" r="1.2" fill="#2a3aa0" />
<circle cx="692.5" cy="208.8" r="5.7" fill="#e2473a" />
<circle cx="604" cy="202" r="0.9" fill="#e2473a" />
<circle cx="603" cy="205" r="0.9" fill="#e2473a" />
<circle cx="609" cy="221" r="0.9" fill="#e2473a" />
<circle cx="715.5" cy="147" r="0.9" fill="#e2473a" />
<circle cx="721" cy="164" r="0.9" fill="#e2473a" />
<circle cx="692.5" cy="208.8" r="9.3" fill="none" stroke="#3a3a3a" stroke-width="1.1"/>
<line x1="702" y1="209" x2="744.5" y2="209" stroke="#6f6f6f" stroke-width="1.2" />
<rect x="744.5" y="95" width="246" height="169.3" rx="30" ry="30" fill="none" stroke="#6d6e71" stroke-width="1.1"/>
<line x1="752" y1="188" x2="866" y2="188" stroke="#6d6e71" stroke-width="1.3" />
<path d="M975.5 127.2L966.5 129L957.6 130.9L948.6 132.9L939.7 135.1L930.7 137.4L921.8 140L912.8 142.9L903.9 146.2L894.9 150L886 154.8L877 161.4L874 164.5L871 168.7L869 172.8L868 176L867.3 180.1L867 188L867 188L867.3 195.9L868 200L869 203.2L871 207.3L874 211.5L877 214.6L886 221.2L894.9 226L903.9 229.8L912.8 233.1L921.8 236L930.7 238.6L939.7 240.9L948.6 243.1L957.6 245.1L966.5 247L975.5 248.8" stroke="#444" stroke-width="1.1" fill="none" stroke-linejoin="round"/>
<ellipse cx="896.4" cy="188" rx="9.3" ry="38.2" fill="none" stroke="#9a9a9a" stroke-width="0.8" stroke-dasharray="1.5 1.5"/>
<ellipse cx="913.8" cy="188" rx="9.3" ry="44.9" fill="none" stroke="#9a9a9a" stroke-width="0.8" stroke-dasharray="1.5 1.5"/>
<ellipse cx="929.3" cy="188" rx="9.3" ry="49.7" fill="none" stroke="#9a9a9a" stroke-width="0.8" stroke-dasharray="1.5 1.5"/>
<ellipse cx="944.9" cy="188" rx="9.3" ry="53.7" fill="none" stroke="#9a9a9a" stroke-width="0.8" stroke-dasharray="1.5 1.5"/>
<ellipse cx="961.3" cy="188" rx="9.3" ry="57.4" fill="none" stroke="#9a9a9a" stroke-width="0.8" stroke-dasharray="1.5 1.5"/>
<path d="M874 188H975" stroke="#7a7a7a" stroke-width="1.3" stroke-dasharray="5 4" fill="none"/>
<path d="M983.5 188L976.5 184.5L976.5 191.5Z" fill="#6d6e71"/>
<circle cx="867.1" cy="188" r="4.5" fill="#000" />
<line x1="1008.7" y1="188" x2="1020" y2="188" stroke="#77787b" stroke-width="1.2" />
<path d="M1026 188L1019 185L1019 191Z" fill="#77787b"/>
<rect x="1031.5" y="30.8" width="396.3" height="255.5" fill="none" stroke="#8b3a40" stroke-width="1.5"/>
<defs><filter id="mfcsim" x="0" y="0" width="1" height="1" color-interpolation-filters="sRGB"><feComponentTransfer><feFuncR type="table" tableValues="0.23 0.24 0.24 0.24 0.2 0.16"/><feFuncG type="table" tableValues="0.18 0.2 0.31 0.42 0.55 0.67"/><feFuncB type="table" tableValues="0.71 0.75 0.89 0.95 0.95 0.87"/></feComponentTransfer></filter><g id="fcsim"><g filter="url(#mfcsim)" style="isolation:isolate"><rect x="0" y="0" width="74.9" height="74.9" fill="#fff"/><g><rect x="0" y="0" width="74.9" height="1.54" fill="#cccccc"/><rect x="0" y="1.49" width="74.9" height="1.54" fill="#ededed"/><rect x="0" y="2.98" width="74.9" height="1.54" fill="#9d9d9d"/><rect x="0" y="4.48" width="74.9" height="1.54" fill="#595959"/><rect x="0" y="5.97" width="74.9" height="1.54" fill="#cfcfcf"/><rect x="0" y="7.46" width="74.9" height="1.54" fill="#848484"/><rect x="0" y="8.95" width="74.9" height="1.54" fill="#808080"/><rect x="0" y="10.44" width="74.9" height="1.54" fill="#cecece"/><rect x="0" y="11.94" width="74.9" height="1.54" fill="#909090"/><rect x="0" y="13.43" width="74.9" height="1.54" fill="#9a9a9a"/><rect x="0" y="14.92" width="74.9" height="1.54" fill="#bfbfbf"/><rect x="0" y="16.41" width="74.9" height="1.54" fill="#a9a9a9"/><rect x="0" y="17.9" width="74.9" height="1.54" fill="#7d7d7d"/><rect x="0" y="19.4" width="74.9" height="1.54" fill="#979797"/><rect x="0" y="20.89" width="74.9" height="1.54" fill="#acacac"/><rect x="0" y="22.38" width="74.9" height="1.54" fill="#6d6d6d"/><rect x="0" y="23.87" width="74.9" height="1.54" fill="#262626"/><rect x="0" y="25.36" width="74.9" height="1.54" fill="#4e4e4e"/><rect x="0" y="26.86" width="74.9" height="1.54" fill="#171717"/><rect x="0" y="28.35" width="74.9" height="1.54" fill="#2c2c2c"/><rect x="0" y="29.84" width="74.9" height="1.54" fill="#848484"/><rect x="0" y="31.33" width="74.9" height="1.54" fill="#bababa"/><rect x="0" y="32.82" width="74.9" height="1.54" fill="#a3a3a3"/><rect x="0" y="34.32" width="74.9" height="1.54" fill="#a9a9a9"/><rect x="0" y="35.81" width="74.9" height="1.54" fill="#989898"/><rect x="0" y="37.3" width="74.9" height="1.54" fill="#bababa"/><rect x="0" y="38.79" width="74.9" height="1.54" fill="#b7b7b7"/><rect x="0" y="40.28" width="74.9" height="1.54" fill="#e8e8e8"/><rect x="0" y="41.78" width="74.9" height="1.54" fill="#4e4e4e"/><rect x="0" y="43.27" width="74.9" height="1.54" fill="#a7a7a7"/><rect x="0" y="44.76" width="74.9" height="1.54" fill="#666666"/><rect x="0" y="46.25" width="74.9" height="1.54" fill="#aeaeae"/><rect x="0" y="47.74" width="74.9" height="1.54" fill="#999999"/><rect x="0" y="49.24" width="74.9" height="1.54" fill="#8c8c8c"/><rect x="0" y="50.73" width="74.9" height="1.54" fill="#7b7b7b"/><rect x="0" y="52.22" width="74.9" height="1.54" fill="#767676"/><rect x="0" y="53.71" width="74.9" height="1.54" fill="#1a1a1a"/><rect x="0" y="55.2" width="74.9" height="1.54" fill="#646464"/><rect x="0" y="56.7" width="74.9" height="1.54" fill="#2c2c2c"/><rect x="0" y="58.19" width="74.9" height="1.54" fill="#656565"/><rect x="0" y="59.68" width="74.9" height="1.54" fill="#ffffff"/><rect x="0" y="61.17" width="74.9" height="1.54" fill="#ebebeb"/><rect x="0" y="62.66" width="74.9" height="1.54" fill="#444444"/><rect x="0" y="64.16" width="74.9" height="1.54" fill="#dfdfdf"/><rect x="0" y="65.65" width="74.9" height="1.54" fill="#c3c3c3"/><rect x="0" y="67.14" width="74.9" height="1.54" fill="#555555"/><rect x="0" y="68.63" width="74.9" height="1.54" fill="#7a7a7a"/><rect x="0" y="70.12" width="74.9" height="1.54" fill="#7a7a7a"/><rect x="0" y="71.62" width="74.9" height="1.54" fill="#828282"/><rect x="0" y="73.11" width="74.9" height="1.54" fill="#9a9a9a"/></g><g style="mix-blend-mode:multiply"><rect x="0" y="0" width="1.54" height="74.9" fill="#9a9a9a"/><rect x="1.49" y="0" width="1.54" height="74.9" fill="#828282"/><rect x="2.98" y="0" width="1.54" height="74.9" fill="#7a7a7a"/><rect x="4.48" y="0" width="1.54" height="74.9" fill="#7a7a7a"/><rect x="5.97" y="0" width="1.54" height="74.9" fill="#555555"/><rect x="7.46" y="0" width="1.54" height="74.9" fill="#c3c3c3"/><rect x="8.95" y="0" width="1.54" height="74.9" fill="#dfdfdf"/><rect x="10.44" y="0" width="1.54" height="74.9" fill="#444444"/><rect x="11.94" y="0" width="1.54" height="74.9" fill="#ebebeb"/><rect x="13.43" y="0" width="1.54" height="74.9" fill="#ffffff"/><rect x="14.92" y="0" width="1.54" height="74.9" fill="#656565"/><rect x="16.41" y="0" width="1.54" height="74.9" fill="#2c2c2c"/><rect x="17.9" y="0" width="1.54" height="74.9" fill="#646464"/><rect x="19.4" y="0" width="1.54" height="74.9" fill="#1a1a1a"/><rect x="20.89" y="0" width="1.54" height="74.9" fill="#767676"/><rect x="22.38" y="0" width="1.54" height="74.9" fill="#7b7b7b"/><rect x="23.87" y="0" width="1.54" height="74.9" fill="#8c8c8c"/><rect x="25.36" y="0" width="1.54" height="74.9" fill="#999999"/><rect x="26.86" y="0" width="1.54" height="74.9" fill="#aeaeae"/><rect x="28.35" y="0" width="1.54" height="74.9" fill="#666666"/><rect x="29.84" y="0" width="1.54" height="74.9" fill="#a7a7a7"/><rect x="31.33" y="0" width="1.54" height="74.9" fill="#4e4e4e"/><rect x="32.82" y="0" width="1.54" height="74.9" fill="#e8e8e8"/><rect x="34.32" y="0" width="1.54" height="74.9" fill="#b7b7b7"/><rect x="35.81" y="0" width="1.54" height="74.9" fill="#bababa"/><rect x="37.3" y="0" width="1.54" height="74.9" fill="#989898"/><rect x="38.79" y="0" width="1.54" height="74.9" fill="#a9a9a9"/><rect x="40.28" y="0" width="1.54" height="74.9" fill="#a3a3a3"/><rect x="41.78" y="0" width="1.54" height="74.9" fill="#bababa"/><rect x="43.27" y="0" width="1.54" height="74.9" fill="#848484"/><rect x="44.76" y="0" width="1.54" height="74.9" fill="#2c2c2c"/><rect x="46.25" y="0" width="1.54" height="74.9" fill="#171717"/><rect x="47.74" y="0" width="1.54" height="74.9" fill="#4e4e4e"/><rect x="49.24" y="0" width="1.54" height="74.9" fill="#262626"/><rect x="50.73" y="0" width="1.54" height="74.9" fill="#6d6d6d"/><rect x="52.22" y="0" width="1.54" height="74.9" fill="#acacac"/><rect x="53.71" y="0" width="1.54" height="74.9" fill="#979797"/><rect x="55.2" y="0" width="1.54" height="74.9" fill="#7d7d7d"/><rect x="56.7" y="0" width="1.54" height="74.9" fill="#a9a9a9"/><rect x="58.19" y="0" width="1.54" height="74.9" fill="#bfbfbf"/><rect x="59.68" y="0" width="1.54" height="74.9" fill="#9a9a9a"/><rect x="61.17" y="0" width="1.54" height="74.9" fill="#909090"/><rect x="62.66" y="0" width="1.54" height="74.9" fill="#cecece"/><rect x="64.16" y="0" width="1.54" height="74.9" fill="#808080"/><rect x="65.65" y="0" width="1.54" height="74.9" fill="#848484"/><rect x="67.14" y="0" width="1.54" height="74.9" fill="#cfcfcf"/><rect x="68.63" y="0" width="1.54" height="74.9" fill="#595959"/><rect x="70.12" y="0" width="1.54" height="74.9" fill="#9d9d9d"/><rect x="71.62" y="0" width="1.54" height="74.9" fill="#ededed"/><rect x="73.11" y="0" width="1.54" height="74.9" fill="#cccccc"/></g></g></g></defs>
<defs><filter id="mfcemp" x="0" y="0" width="1" height="1" color-interpolation-filters="sRGB"><feComponentTransfer><feFuncR type="table" tableValues="0.27 0.26 0.24 0.21 0.17 0.14"/><feFuncG type="table" tableValues="0.27 0.34 0.42 0.5 0.63 0.71"/><feFuncB type="table" tableValues="0.85 0.92 0.95 0.95 0.89 0.8"/></feComponentTransfer></filter><g id="fcemp"><g filter="url(#mfcemp)" style="isolation:isolate"><rect x="0" y="0" width="74.9" height="74.9" fill="#fff"/><g><rect x="0" y="0" width="74.9" height="1.54" fill="#5c5c5c"/><rect x="0" y="1.49" width="74.9" height="1.54" fill="#8f8f8f"/><rect x="0" y="2.98" width="74.9" height="1.54" fill="#868686"/><rect x="0" y="4.48" width="74.9" height="1.54" fill="#b1b1b1"/><rect x="0" y="5.97" width="74.9" height="1.54" fill="#a3a3a3"/><rect x="0" y="7.46" width="74.9" height="1.54" fill="#cbcbcb"/><rect x="0" y="8.95" width="74.9" height="1.54" fill="#c1c1c1"/><rect x="0" y="10.44" width="74.9" height="1.54" fill="#c0c0c0"/><rect x="0" y="11.94" width="74.9" height="1.54" fill="#838383"/><rect x="0" y="13.43" width="74.9" height="1.54" fill="#aaaaaa"/><rect x="0" y="14.92" width="74.9" height="1.54" fill="#6e6e6e"/><rect x="0" y="16.41" width="74.9" height="1.54" fill="#b6b6b6"/><rect x="0" y="17.9" width="74.9" height="1.54" fill="#d7d7d7"/><rect x="0" y="19.4" width="74.9" height="1.54" fill="#cccccc"/><rect x="0" y="20.89" width="74.9" height="1.54" fill="#909090"/><rect x="0" y="22.38" width="74.9" height="1.54" fill="#bcbcbc"/><rect x="0" y="23.87" width="74.9" height="1.54" fill="#a0a0a0"/><rect x="0" y="25.36" width="74.9" height="1.54" fill="#bababa"/><rect x="0" y="26.86" width="74.9" height="1.54" fill="#5c5c5c"/><rect x="0" y="28.35" width="74.9" height="1.54" fill="#c5c5c5"/><rect x="0" y="29.84" width="74.9" height="1.54" fill="#d0d0d0"/><rect x="0" y="31.33" width="74.9" height="1.54" fill="#4e4e4e"/><rect x="0" y="32.82" width="74.9" height="1.54" fill="#b8b8b8"/><rect x="0" y="34.32" width="74.9" height="1.54" fill="#a7a7a7"/><rect x="0" y="35.81" width="74.9" height="1.54" fill="#b3b3b3"/><rect x="0" y="37.3" width="74.9" height="1.54" fill="#9f9f9f"/><rect x="0" y="38.79" width="74.9" height="1.54" fill="#c0c0c0"/><rect x="0" y="40.28" width="74.9" height="1.54" fill="#a8a8a8"/><rect x="0" y="41.78" width="74.9" height="1.54" fill="#b0b0b0"/><rect x="0" y="43.27" width="74.9" height="1.54" fill="#ababab"/><rect x="0" y="44.76" width="74.9" height="1.54" fill="#e0e0e0"/><rect x="0" y="46.25" width="74.9" height="1.54" fill="#d2d2d2"/><rect x="0" y="47.74" width="74.9" height="1.54" fill="#888888"/><rect x="0" y="49.24" width="74.9" height="1.54" fill="#b5b5b5"/><rect x="0" y="50.73" width="74.9" height="1.54" fill="#c1c1c1"/><rect x="0" y="52.22" width="74.9" height="1.54" fill="#eaeaea"/><rect x="0" y="53.71" width="74.9" height="1.54" fill="#a0a0a0"/><rect x="0" y="55.2" width="74.9" height="1.54" fill="#868686"/><rect x="0" y="56.7" width="74.9" height="1.54" fill="#8e8e8e"/><rect x="0" y="58.19" width="74.9" height="1.54" fill="#6a6a6a"/><rect x="0" y="59.68" width="74.9" height="1.54" fill="#e5e5e5"/><rect x="0" y="61.17" width="74.9" height="1.54" fill="#b5b5b5"/><rect x="0" y="62.66" width="74.9" height="1.54" fill="#fbfbfb"/><rect x="0" y="64.16" width="74.9" height="1.54" fill="#e9e9e9"/><rect x="0" y="65.65" width="74.9" height="1.54" fill="#b7b7b7"/><rect x="0" y="67.14" width="74.9" height="1.54" fill="#fefefe"/><rect x="0" y="68.63" width="74.9" height="1.54" fill="#afafaf"/><rect x="0" y="70.12" width="74.9" height="1.54" fill="#a5a5a5"/><rect x="0" y="71.62" width="74.9" height="1.54" fill="#848484"/><rect x="0" y="73.11" width="74.9" height="1.54" fill="#b4b4b4"/></g><g style="mix-blend-mode:multiply"><rect x="0" y="0" width="1.54" height="74.9" fill="#b4b4b4"/><rect x="1.49" y="0" width="1.54" height="74.9" fill="#848484"/><rect x="2.98" y="0" width="1.54" height="74.9" fill="#a5a5a5"/><rect x="4.48" y="0" width="1.54" height="74.9" fill="#afafaf"/><rect x="5.97" y="0" width="1.54" height="74.9" fill="#fefefe"/><rect x="7.46" y="0" width="1.54" height="74.9" fill="#b7b7b7"/><rect x="8.95" y="0" width="1.54" height="74.9" fill="#e9e9e9"/><rect x="10.44" y="0" width="1.54" height="74.9" fill="#fbfbfb"/><rect x="11.94" y="0" width="1.54" height="74.9" fill="#b5b5b5"/><rect x="13.43" y="0" width="1.54" height="74.9" fill="#e5e5e5"/><rect x="14.92" y="0" width="1.54" height="74.9" fill="#6a6a6a"/><rect x="16.41" y="0" width="1.54" height="74.9" fill="#8e8e8e"/><rect x="17.9" y="0" width="1.54" height="74.9" fill="#868686"/><rect x="19.4" y="0" width="1.54" height="74.9" fill="#a0a0a0"/><rect x="20.89" y="0" width="1.54" height="74.9" fill="#eaeaea"/><rect x="22.38" y="0" width="1.54" height="74.9" fill="#c1c1c1"/><rect x="23.87" y="0" width="1.54" height="74.9" fill="#b5b5b5"/><rect x="25.36" y="0" width="1.54" height="74.9" fill="#888888"/><rect x="26.86" y="0" width="1.54" height="74.9" fill="#d2d2d2"/><rect x="28.35" y="0" width="1.54" height="74.9" fill="#e0e0e0"/><rect x="29.84" y="0" width="1.54" height="74.9" fill="#ababab"/><rect x="31.33" y="0" width="1.54" height="74.9" fill="#b0b0b0"/><rect x="32.82" y="0" width="1.54" height="74.9" fill="#a8a8a8"/><rect x="34.32" y="0" width="1.54" height="74.9" fill="#c0c0c0"/><rect x="35.81" y="0" width="1.54" height="74.9" fill="#9f9f9f"/><rect x="37.3" y="0" width="1.54" height="74.9" fill="#b3b3b3"/><rect x="38.79" y="0" width="1.54" height="74.9" fill="#a7a7a7"/><rect x="40.28" y="0" width="1.54" height="74.9" fill="#b8b8b8"/><rect x="41.78" y="0" width="1.54" height="74.9" fill="#4e4e4e"/><rect x="43.27" y="0" width="1.54" height="74.9" fill="#d0d0d0"/><rect x="44.76" y="0" width="1.54" height="74.9" fill="#c5c5c5"/><rect x="46.25" y="0" width="1.54" height="74.9" fill="#5c5c5c"/><rect x="47.74" y="0" width="1.54" height="74.9" fill="#bababa"/><rect x="49.24" y="0" width="1.54" height="74.9" fill="#a0a0a0"/><rect x="50.73" y="0" width="1.54" height="74.9" fill="#bcbcbc"/><rect x="52.22" y="0" width="1.54" height="74.9" fill="#909090"/><rect x="53.71" y="0" width="1.54" height="74.9" fill="#cccccc"/><rect x="55.2" y="0" width="1.54" height="74.9" fill="#d7d7d7"/><rect x="56.7" y="0" width="1.54" height="74.9" fill="#b6b6b6"/><rect x="58.19" y="0" width="1.54" height="74.9" fill="#6e6e6e"/><rect x="59.68" y="0" width="1.54" height="74.9" fill="#aaaaaa"/><rect x="61.17" y="0" width="1.54" height="74.9" fill="#838383"/><rect x="62.66" y="0" width="1.54" height="74.9" fill="#c0c0c0"/><rect x="64.16" y="0" width="1.54" height="74.9" fill="#c1c1c1"/><rect x="65.65" y="0" width="1.54" height="74.9" fill="#cbcbcb"/><rect x="67.14" y="0" width="1.54" height="74.9" fill="#a3a3a3"/><rect x="68.63" y="0" width="1.54" height="74.9" fill="#b1b1b1"/><rect x="70.12" y="0" width="1.54" height="74.9" fill="#868686"/><rect x="71.62" y="0" width="1.54" height="74.9" fill="#8f8f8f"/><rect x="73.11" y="0" width="1.54" height="74.9" fill="#5c5c5c"/></g></g></g></defs>
<rect x="1053.3" y="112" width="149.2" height="149.2" fill="#3c45cf"/>
<rect x="1256.3" y="112" width="149.2" height="149.2" fill="#3d62ea"/>
<use href="#fcsim" x="1053.3" y="112"/>
<use href="#fcemp" x="1256.3" y="112"/>
<use href="#fcsim" x="1053.3" y="186.6"/>
<use href="#fcemp" x="1256.3" y="186.6"/>
<use href="#fcsim" x="1127.9" y="112"/>
<use href="#fcemp" x="1330.9" y="112"/>
<use href="#fcsim" x="1127.9" y="186.6"/>
<use href="#fcemp" x="1330.9" y="186.6"/>
<line x1="1053.3" y1="261.2" x2="1202.5" y2="112" stroke="#c8d840" stroke-width="1" />
<line x1="1256.3" y1="261.2" x2="1405.5" y2="112" stroke="#c8d840" stroke-width="1" />
<line x1="1231.8" y1="286.3" x2="1231.8" y2="306" stroke="#8b3a40" stroke-width="1.6" />
<path d="M1231.8 317.4L1224.3 304.4L1239.3 304.4Z" fill="#8b3a40"/>
<path d="M1458.8 105.5H1447.4V271.3H1458.8" stroke="#8a8b8e" stroke-width="1.2" fill="none"/>
<line x1="1447.4" y1="187.7" x2="1437" y2="187.7" stroke="#77787b" stroke-width="1.2" />
<path d="M1431 187.7L1438 184.9L1438 190.4Z" fill="#77787b"/>
<line x1="1585.4" y1="197.5" x2="1585.4" y2="171" stroke="#77787b" stroke-width="1.2" />
<path d="M1585.4 165.4L1582.7 171.9L1588.2 171.9Z" fill="#77787b"/>
<clipPath id="cRS1"><path d="M1479.2 101.5C1480.3 99.8 1484 97.3 1489.7 93.6C1495.4 89.9 1506.7 81.9 1513.3 79.2C1519.9 76.5 1521 77.1 1529.1 77.2C1537.2 77.3 1554.3 78.5 1562 79.9C1569.7 81.3 1571.8 83.1 1575.1 85.8C1578.4 88.5 1580.8 93.2 1581.7 96.3C1582.6 99.4 1583.6 102.5 1580.3 104.2C1577 106 1567.2 105.7 1562 106.8C1556.8 107.9 1552.3 108.7 1548.8 110.7C1545.3 112.7 1543.8 115.8 1540.9 118.6C1538.1 121.4 1535 125.7 1531.7 127.8C1528.4 129.9 1524.9 131.3 1521.2 131.1C1517.5 130.9 1512 129.2 1509.4 126.5C1506.8 123.8 1507.2 117.8 1505.5 114.7C1503.8 111.6 1502.6 110 1498.9 108.1C1495.2 106.2 1486.4 104.6 1483.1 103.5C1479.8 102.4 1478.1 103.2 1479.2 101.5Z"/></clipPath>
<path d="M1479.2 101.5C1480.3 99.8 1484 97.3 1489.7 93.6C1495.4 89.9 1506.7 81.9 1513.3 79.2C1519.9 76.5 1521 77.1 1529.1 77.2C1537.2 77.3 1554.3 78.5 1562 79.9C1569.7 81.3 1571.8 83.1 1575.1 85.8C1578.4 88.5 1580.8 93.2 1581.7 96.3C1582.6 99.4 1583.6 102.5 1580.3 104.2C1577 106 1567.2 105.7 1562 106.8C1556.8 107.9 1552.3 108.7 1548.8 110.7C1545.3 112.7 1543.8 115.8 1540.9 118.6C1538.1 121.4 1535 125.7 1531.7 127.8C1528.4 129.9 1524.9 131.3 1521.2 131.1C1517.5 130.9 1512 129.2 1509.4 126.5C1506.8 123.8 1507.2 117.8 1505.5 114.7C1503.8 111.6 1502.6 110 1498.9 108.1C1495.2 106.2 1486.4 104.6 1483.1 103.5C1479.8 102.4 1478.1 103.2 1479.2 101.5Z" fill="#3b2046"/>
<g clip-path="url(#cRS1)">
<path d="M1509 109h0M1574 121h0M1506 77h0M1509 117h0M1516 97h0M1573 115h0M1533 91h0M1516 92h0M1499 113h0M1481 87h0M1563 123h0M1509 87h0M1525 92h0M1495 85h0M1547 79h0M1545 77h0M1501 131h0M1511 112h0M1485 127h0M1550 82h0M1495 103h0M1514 95h0M1499 101h0M1517 129h0M1481 79h0M1498 79h0M1508 106h0M1504 130h0M1527 120h0M1550 90h0M1562 105h0M1525 91h0M1577 108h0M1567 118h0M1564 101h0M1480 108h0M1493 79h0M1494 93h0M1533 101h0M1486 104h0M1548 90h0M1526 81h0M1520 126h0M1522 78h0M1569 82h0M1510 116h0M1553 84h0M1548 92h0M1563 104h0M1523 122h0M1500 89h0M1568 77h0M1542 106h0M1576 122h0M1580 98h0M1579 118h0M1554 88h0M1564 115h0M1537 88h0M1575 110h0M1524 119h0M1531 89h0M1518 125h0M1545 109h0M1527 109h0M1516 119h0M1541 82h0M1489 100h0M1491 113h0M1505 90h0M1550 98h0M1535 127h0M1544 79h0M1556 104h0M1496 108h0M1489 108h0M1501 80h0M1489 94h0M1564 89h0M1579 96h0M1507 94h0M1519 90h0M1493 127h0M1528 127h0M1521 87h0M1578 128h0M1564 131h0M1568 125h0M1513 90h0M1493 78h0M1484 119h0M1545 94h0M1559 99h0M1570 99h0M1550 130h0M1488 93h0M1479 129h0M1577 93h0M1576 78h0M1534 127h0M1566 131h0M1497 87h0M1503 101h0M1534 96h0M1579 106h0M1556 118h0M1488 104h0M1532 109h0M1514 78h0M1506 102h0M1541 82h0M1488 95h0M1576 107h0M1572 95h0M1555 98h0M1489 111h0M1539 98h0M1521 123h0M1537 116h0M1538 126h0M1482 126h0M1499 127h0M1540 113h0M1516 105h0M1547 127h0M1490 118h0M1487 113h0M1549 112h0M1559 90h0M1555 113h0M1537 95h0M1506 121h0M1572 126h0M1480 96h0M1526 86h0M1497 113h0M1520 116h0M1564 128h0M1565 100h0M1558 129h0M1578 84h0M1498 104h0M1497 99h0M1535 96h0M1528 81h0M1556 116h0M1496 88h0M1560 130h0M1566 117h0M1558 113h0M1516 93h0M1507 98h0M1525 91h0M1498 89h0M1577 94h0M1558 86h0M1541 114h0M1480 105h0M1536 127h0M1580 130h0M1562 128h0M1491 122h0M1485 124h0M1531 99h0M1527 87h0M1512 114h0M1533 124h0M1481 123h0M1498 120h0M1518 82h0M1514 128h0M1552 120h0M1510 78h0M1551 110h0M1486 117h0M1495 108h0M1581 104h0M1480 117h0M1579 108h0M1561 81h0M1483 116h0M1520 106h0M1481 86h0M1526 81h0M1569 100h0M1506 119h0M1480 115h0M1566 87h0M1527 113h0M1532 114h0M1539 109h0M1490 108h0M1498 93h0M1577 120h0M1558 108h0M1571 115h0M1525 96h0M1511 81h0M1538 93h0M1498 108h0M1567 80h0M1488 102h0M1572 87h0M1512 122h0M1543 105h0M1521 122h0M1575 102h0M1482 98h0M1558 97h0M1562 108h0M1570 79h0M1523 126h0M1481 89h0M1505 90h0M1542 89h0M1501 98h0M1540 99h0M1554 122h0M1520 88h0M1501 118h0M1562 98h0M1526 125h0M1566 89h0M1510 108h0M1505 82h0M1517 80h0M1553 122h0M1552 104h0M1540 78h0M1486 127h0M1487 123h0M1552 87h0M1484 102h0M1574 112h0M1538 93h0M1511 110h0M1516 109h0M1515 129h0M1579 102h0M1550 104h0M1506 121h0M1539 85h0M1481 99h0M1579 105h0M1490 118h0M1497 125h0M1514 89h0M1526 85h0M1492 80h0M1539 112h0M1534 112h0M1535 90h0M1523 98h0M1499 113h0M1580 128h0M1577 100h0M1538 129h0M1504 118h0M1566 117h0M1530 112h0M1510 113h0M1515 115h0M1507 115h0M1582 79h0M1558 131h0M1550 103h0M1516 95h0M1481 106h0M1507 106h0M1533 118h0M1544 110h0M1560 118h0M1484 110h0M1489 119h0M1531 119h0M1556 87h0M1504 89h0M1574 88h0M1520 86h0M1545 113h0M1565 103h0M1513 122h0M1552 131h0M1514 115h0M1522 126h0M1545 82h0M1505 127h0M1491 102h0M1538 121h0M1569 125h0M1538 117h0M1561 121h0M1535 110h0M1563 115h0M1514 111h0M1520 109h0M1531 125h0M1551 78h0M1514 116h0M1580 99h0M1519 118h0M1558 122h0M1556 91h0M1488 120h0M1569 115h0M1539 119h0M1556 121h0M1565 92h0M1571 102h0M1545 92h0M1540 115h0M1503 115h0M1572 112h0M1510 110h0M1578 119h0M1528 125h0M1507 78h0M1521 110h0M1517 89h0M1569 79h0M1497 100h0M1572 88h0M1579 109h0M1530 88h0M1521 120h0M1555 121h0M1539 97h0M1500 115h0M1564 99h0M1565 122h0M1568 111h0M1528 130h0M1575 90h0M1503 128h0M1577 81h0M1563 121h0M1485 95h0M1531 106h0M1496 79h0M1562 113h0M1536 88h0M1517 80h0M1514 84h0M1550 79h0M1487 82h0M1574 125h0M1492 102h0M1574 81h0M1486 100h0M1499 126h0M1506 130h0M1490 112h0M1521 79h0M1541 85h0M1482 78h0M1495 119h0M1548 105h0M1513 103h0M1560 88h0M1532 121h0M1484 108h0M1502 97h0M1568 115h0M1483 93h0M1513 98h0M1494 78h0M1542 99h0M1573 120h0M1569 111h0M1568 123h0M1530 94h0M1515 121h0M1530 113h0M1540 115h0M1570 107h0M1534 129h0M1568 106h0M1534 83h0M1575 120h0M1564 91h0M1526 118h0M1533 105h0M1522 126h0M1498 95h0M1504 126h0M1493 93h0M1550 94h0M1555 124h0M1502 119h0M1530 125h0M1539 82h0M1576 116h0M1515 129h0M1568 127h0M1580 90h0M1485 90h0M1503 112h0M1508 111h0M1509 121h0M1482 112h0M1492 117h0M1515 105h0M1506 110h0M1494 108h0M1488 95h0M1503 104h0M1512 130h0M1533 88h0M1494 94h0M1522 130h0M1514 89h0M1541 94h0M1486 99h0M1510 103h0M1542 129h0M1482 93h0M1495 78h0M1568 80h0M1542 92h0M1498 116h0M1483 127h0M1580 98h0M1523 131h0M1514 90h0M1548 117h0M1484 98h0M1518 102h0M1515 103h0M1550 123h0M1527 128h0M1491 119h0M1521 105h0M1506 101h0M1485 97h0M1571 96h0M1517 83h0M1548 84h0M1508 109h0M1552 104h0M1559 80h0M1508 83h0M1521 78h0M1486 118h0M1542 106h0M1511 89h0M1541 108h0M1559 119h0M1537 130h0M1534 118h0M1521 113h0M1560 96h0M1544 125h0M1538 89h0M1515 105h0M1562 110h0M1546 84h0M1509 113h0M1560 84h0M1480 102h0M1543 127h0M1548 123h0M1499 82h0M1565 101h0M1526 98h0M1522 83h0M1565 105h0M1504 124h0M1543 114h0M1507 85h0" stroke="#2a1f6a" stroke-width="1.7" stroke-linecap="round" stroke-opacity="1.0" fill="none"/>
<path d="M1533 129h0M1510 94h0M1562 87h0M1522 107h0M1563 92h0M1573 92h0M1543 104h0M1504 82h0M1507 88h0M1569 127h0M1528 94h0M1491 81h0M1494 116h0M1505 114h0M1554 126h0M1502 130h0M1510 115h0M1571 108h0M1567 112h0M1494 92h0M1555 125h0M1557 84h0M1543 82h0M1538 119h0M1513 110h0M1529 99h0M1499 105h0M1566 121h0M1539 109h0M1500 99h0M1562 103h0M1525 99h0M1546 93h0M1529 125h0M1548 88h0M1543 98h0M1509 90h0M1543 92h0M1517 83h0M1550 116h0M1543 94h0M1509 119h0M1543 109h0M1480 120h0M1516 108h0M1571 106h0M1547 96h0M1488 112h0M1488 114h0M1576 92h0M1496 130h0M1484 107h0M1501 89h0M1576 81h0M1508 94h0M1529 98h0M1538 84h0M1554 127h0M1567 115h0M1484 80h0M1528 94h0M1487 111h0M1560 95h0M1548 117h0M1549 89h0M1543 96h0M1506 94h0M1487 108h0M1551 85h0M1535 130h0M1526 90h0M1565 118h0M1503 80h0M1494 112h0M1481 102h0M1506 103h0M1508 80h0M1494 105h0M1554 106h0M1520 85h0M1484 82h0M1510 101h0M1551 98h0M1492 107h0M1559 113h0M1526 107h0M1537 101h0M1515 115h0M1506 112h0M1500 92h0M1513 85h0M1533 95h0M1504 118h0M1516 109h0M1559 124h0M1566 102h0M1495 116h0M1536 86h0M1499 121h0M1511 103h0M1547 116h0M1482 115h0M1510 81h0M1508 81h0M1530 78h0M1535 112h0M1575 131h0M1544 81h0M1538 94h0M1559 79h0M1482 105h0M1552 122h0M1509 78h0M1511 105h0M1580 91h0M1552 79h0M1523 80h0M1521 123h0M1492 102h0M1516 86h0M1535 97h0M1504 123h0M1571 101h0M1509 111h0M1496 94h0M1545 126h0M1570 129h0M1581 103h0M1566 103h0M1580 94h0M1496 95h0M1553 77h0M1542 121h0M1508 130h0M1509 78h0M1563 105h0M1492 115h0M1549 79h0M1566 100h0M1493 107h0M1512 89h0M1549 130h0M1515 92h0M1555 118h0M1556 82h0M1499 93h0M1551 90h0M1506 103h0M1492 106h0M1508 128h0M1508 87h0M1500 94h0M1524 80h0M1502 130h0M1496 116h0M1497 96h0M1549 107h0M1504 128h0M1509 123h0M1548 126h0M1508 94h0M1482 106h0M1548 101h0M1491 115h0M1518 82h0M1479 123h0M1509 114h0M1490 93h0M1542 128h0M1567 113h0M1493 102h0M1549 101h0M1533 130h0M1556 89h0M1523 92h0M1518 104h0M1493 93h0M1569 87h0M1493 118h0M1501 130h0M1571 108h0M1510 92h0M1521 118h0M1554 126h0M1557 120h0M1490 128h0M1506 92h0M1503 130h0M1523 121h0M1512 90h0M1575 129h0M1567 114h0M1517 105h0M1532 92h0M1572 84h0M1577 113h0M1569 123h0M1485 122h0M1545 119h0M1494 83h0M1541 118h0M1505 107h0M1546 108h0M1489 127h0M1487 128h0M1575 89h0M1482 95h0M1532 83h0M1482 115h0M1491 109h0M1564 83h0M1500 99h0M1559 96h0M1572 87h0M1553 84h0M1484 97h0M1481 114h0M1503 124h0M1509 111h0M1487 114h0M1567 100h0M1486 80h0M1517 120h0M1566 80h0M1521 86h0M1504 129h0M1487 91h0M1532 82h0M1524 111h0M1514 96h0M1525 124h0M1572 130h0M1528 113h0M1541 93h0M1501 82h0M1542 119h0M1563 118h0M1556 81h0M1496 131h0M1576 105h0M1511 112h0M1494 118h0M1533 127h0M1568 86h0M1496 94h0M1548 130h0M1514 119h0M1550 110h0M1514 106h0M1511 87h0M1482 89h0M1521 130h0M1500 105h0M1512 87h0M1511 124h0M1498 96h0M1484 89h0M1523 82h0M1550 99h0M1519 80h0M1563 103h0M1539 81h0M1518 81h0M1480 119h0M1561 83h0M1507 111h0M1547 86h0M1490 96h0M1509 108h0M1503 115h0M1512 119h0M1537 87h0M1495 88h0M1496 118h0M1536 93h0M1518 87h0M1522 119h0M1538 87h0M1556 121h0M1538 89h0M1567 110h0M1507 105h0M1547 125h0M1511 103h0M1486 123h0M1503 114h0M1515 118h0M1496 112h0M1516 125h0M1576 89h0M1572 95h0M1571 105h0M1497 122h0M1581 130h0M1546 116h0M1575 117h0M1487 85h0M1580 78h0M1560 101h0M1487 86h0M1573 108h0M1493 119h0M1536 120h0M1548 112h0M1508 115h0M1497 78h0M1498 105h0M1576 88h0M1575 81h0M1527 96h0M1515 121h0M1555 79h0M1494 112h0M1514 81h0M1548 88h0M1571 113h0M1521 122h0M1491 129h0M1576 95h0M1580 117h0M1546 112h0M1482 110h0M1486 80h0M1576 83h0M1572 94h0M1508 107h0M1545 119h0M1553 130h0M1572 119h0M1562 77h0M1497 109h0M1508 112h0M1519 102h0M1497 94h0M1564 80h0M1540 123h0M1541 97h0M1581 108h0M1551 116h0M1491 98h0M1564 94h0M1481 85h0M1548 109h0M1540 103h0M1569 104h0M1488 129h0M1489 85h0M1542 117h0M1499 98h0M1509 118h0M1524 121h0M1524 123h0M1537 88h0M1564 88h0M1510 109h0M1573 111h0M1517 122h0M1521 128h0M1493 79h0M1491 105h0M1513 82h0M1488 125h0M1485 123h0M1581 97h0M1506 107h0M1578 102h0M1558 84h0M1579 106h0M1520 83h0M1526 94h0M1481 130h0M1497 92h0M1576 127h0M1564 92h0M1529 111h0M1509 91h0M1531 91h0M1486 103h0M1505 123h0M1514 82h0M1527 117h0M1542 114h0M1551 79h0M1550 86h0M1566 115h0M1493 127h0M1491 93h0M1548 98h0M1562 97h0M1558 87h0M1504 111h0M1491 115h0M1493 129h0M1556 107h0M1490 128h0M1485 80h0M1510 108h0M1492 105h0M1569 115h0M1511 122h0M1522 112h0M1540 129h0M1509 96h0M1513 119h0M1515 83h0M1528 92h0M1513 109h0M1549 118h0M1495 130h0M1505 84h0M1569 86h0M1529 106h0M1553 116h0M1527 92h0M1495 83h0M1568 99h0M1503 113h0M1525 98h0M1581 120h0M1571 101h0M1544 114h0M1503 128h0M1550 96h0M1510 107h0M1496 95h0M1567 101h0M1544 126h0M1486 108h0M1535 112h0M1521 82h0M1557 112h0M1521 81h0M1554 95h0M1491 95h0M1510 100h0M1556 87h0M1529 120h0M1495 128h0M1490 102h0M1517 81h0M1558 110h0M1572 108h0M1546 97h0M1559 128h0M1505 85h0M1531 121h0M1481 113h0M1548 84h0M1534 110h0M1540 125h0M1482 122h0M1541 113h0" stroke="#7a1f25" stroke-width="1.7" stroke-linecap="round" stroke-opacity="1.0" fill="none"/>
<path d="M1543 80h0M1575 95h0M1534 100h0M1575 78h0M1507 95h0M1496 113h0M1486 109h0M1541 107h0M1509 79h0M1574 96h0M1564 80h0M1510 94h0M1521 100h0M1481 96h0M1557 78h0M1524 118h0M1510 104h0M1508 128h0M1506 129h0M1573 80h0M1529 97h0M1533 97h0M1530 115h0M1509 104h0M1530 121h0M1566 123h0M1535 119h0M1496 130h0M1560 83h0M1495 88h0M1504 105h0M1582 123h0M1574 87h0M1502 94h0M1494 127h0M1496 118h0M1485 124h0M1566 90h0M1496 79h0M1565 108h0M1557 125h0M1499 128h0M1520 94h0M1571 107h0M1566 93h0M1544 111h0M1507 127h0M1533 104h0M1558 85h0M1538 122h0M1497 94h0M1570 118h0M1486 103h0M1490 96h0M1487 96h0M1571 94h0M1576 123h0M1492 129h0M1512 84h0M1511 96h0M1496 83h0M1548 88h0M1556 86h0M1578 115h0M1509 88h0M1519 114h0M1543 87h0M1486 96h0M1529 101h0M1569 105h0M1581 106h0M1576 79h0M1572 125h0M1575 104h0M1504 89h0M1516 95h0M1512 130h0M1515 95h0M1531 110h0M1580 98h0M1500 130h0M1487 108h0M1484 106h0M1493 79h0M1548 81h0M1504 112h0M1507 85h0M1572 130h0M1480 78h0M1506 111h0M1496 114h0M1563 126h0M1542 110h0M1511 120h0M1570 106h0M1513 89h0M1527 91h0M1504 119h0M1578 128h0M1564 115h0M1486 89h0M1491 125h0M1537 117h0M1541 118h0M1486 114h0M1573 99h0M1570 107h0M1525 115h0M1566 128h0M1554 102h0M1553 79h0M1558 109h0M1513 93h0M1504 113h0M1495 109h0M1525 122h0M1566 100h0M1558 114h0M1555 114h0M1528 84h0M1579 86h0M1523 84h0M1545 78h0M1526 101h0M1555 81h0M1502 83h0M1487 107h0M1562 130h0M1577 104h0M1552 91h0M1560 115h0M1552 86h0M1516 82h0M1564 88h0M1532 105h0M1483 100h0M1566 83h0M1565 92h0M1484 107h0M1518 102h0M1494 122h0M1550 104h0M1514 117h0M1569 111h0M1503 80h0M1502 79h0M1534 119h0M1579 129h0M1533 99h0M1500 111h0M1484 90h0M1483 95h0M1505 84h0M1569 85h0M1534 121h0M1563 79h0M1539 83h0M1524 114h0M1573 130h0M1552 112h0M1561 78h0M1536 86h0M1480 90h0M1566 120h0M1516 108h0M1574 89h0M1559 102h0M1576 109h0M1524 101h0M1547 112h0M1515 79h0M1530 126h0M1563 130h0M1534 97h0M1484 130h0M1487 95h0M1572 123h0M1540 97h0M1551 92h0M1528 113h0M1509 111h0M1513 127h0M1575 127h0M1577 94h0M1500 83h0M1569 110h0M1517 103h0M1504 130h0M1505 126h0M1579 79h0M1543 104h0M1527 112h0M1512 94h0M1554 89h0M1496 111h0M1537 112h0M1531 102h0M1580 87h0M1497 117h0M1566 123h0M1511 94h0M1543 117h0M1567 89h0M1581 124h0M1551 95h0M1546 82h0M1486 106h0M1540 116h0M1485 129h0M1502 101h0M1488 116h0M1480 129h0M1519 126h0M1481 119h0M1514 109h0M1517 105h0M1560 129h0M1538 96h0M1555 86h0M1556 106h0M1562 117h0M1556 120h0M1555 79h0M1504 113h0M1581 80h0M1510 100h0M1523 112h0M1535 83h0M1509 112h0M1550 117h0M1506 125h0M1490 106h0M1559 127h0M1489 106h0M1565 121h0M1514 84h0M1523 79h0M1504 126h0M1496 93h0M1563 100h0M1521 97h0M1496 96h0M1547 122h0M1559 97h0M1567 112h0M1480 98h0M1537 105h0M1502 88h0M1492 91h0M1562 126h0M1492 106h0M1509 107h0M1486 126h0M1559 118h0M1501 124h0M1482 96h0M1524 110h0M1526 100h0M1498 114h0M1521 105h0M1522 115h0M1486 108h0M1538 107h0M1522 87h0M1505 109h0M1495 82h0M1533 122h0M1526 86h0M1536 111h0M1511 81h0M1538 83h0M1502 83h0M1521 113h0M1494 83h0M1565 88h0M1577 119h0M1508 109h0M1581 115h0M1481 87h0M1488 114h0M1534 82h0M1530 96h0M1523 98h0M1552 98h0M1529 128h0M1549 98h0M1578 84h0M1534 84h0M1510 89h0M1511 128h0M1542 91h0M1480 128h0M1538 120h0M1568 109h0M1574 100h0M1512 126h0M1548 110h0M1522 103h0M1522 119h0M1546 115h0M1559 92h0M1549 119h0M1581 115h0M1548 79h0M1538 100h0M1500 103h0M1508 102h0M1494 101h0M1554 92h0M1570 123h0M1575 102h0M1575 117h0M1488 131h0M1549 126h0M1515 119h0M1519 109h0M1510 99h0M1544 79h0M1488 131h0M1536 90h0M1541 103h0M1572 80h0M1506 123h0M1543 124h0M1529 105h0M1573 77h0M1527 84h0M1544 100h0M1527 109h0M1546 78h0M1561 84h0M1495 87h0M1579 112h0M1539 130h0M1500 91h0M1520 107h0M1543 99h0M1484 84h0M1484 121h0M1504 130h0M1546 116h0M1534 116h0M1505 126h0M1562 98h0M1523 92h0M1487 83h0M1480 113h0M1485 131h0M1560 126h0M1550 110h0M1534 106h0M1505 96h0M1540 119h0M1535 79h0M1522 92h0M1497 98h0M1502 121h0M1560 122h0" stroke="#c8352a" stroke-width="1.7" stroke-linecap="round" stroke-opacity="1.0" fill="none"/>
<path d="M1523 117h0M1493 120h0M1516 122h0M1514 87h0M1576 88h0M1544 130h0M1580 103h0M1544 116h0M1573 92h0M1507 117h0M1528 119h0M1563 123h0M1516 93h0M1489 123h0M1567 84h0M1570 131h0M1479 105h0M1578 112h0M1555 78h0M1569 112h0M1508 125h0M1536 120h0M1495 87h0M1566 127h0M1505 85h0M1497 124h0M1505 86h0M1482 90h0M1566 91h0M1524 128h0M1507 130h0M1542 100h0M1562 84h0M1527 78h0M1523 121h0M1508 117h0M1498 108h0M1558 123h0M1566 130h0M1479 101h0M1519 116h0M1505 92h0M1576 79h0M1555 120h0M1497 96h0M1514 107h0M1540 97h0M1555 78h0M1529 81h0M1572 99h0M1501 124h0M1569 105h0M1571 128h0M1580 103h0M1513 105h0M1507 116h0M1511 100h0M1535 108h0M1559 81h0M1573 103h0M1564 121h0M1551 91h0M1513 111h0M1513 103h0M1568 97h0M1485 83h0M1488 124h0M1548 82h0M1550 89h0M1520 99h0M1557 79h0M1500 88h0M1480 79h0M1492 105h0M1529 95h0M1541 105h0M1560 104h0M1529 125h0M1568 79h0M1520 80h0M1543 121h0M1542 110h0M1486 130h0M1533 104h0M1506 110h0M1505 88h0M1486 112h0M1531 129h0M1513 117h0M1516 91h0M1508 86h0M1493 103h0M1493 94h0M1497 92h0M1560 103h0M1494 127h0M1574 93h0M1531 122h0M1529 125h0M1512 104h0M1549 127h0M1518 85h0M1524 100h0M1481 86h0M1548 122h0M1541 115h0M1488 129h0M1558 96h0M1481 106h0M1562 110h0M1484 103h0M1484 116h0M1485 89h0M1481 81h0M1487 94h0M1503 87h0M1540 82h0M1563 126h0M1493 111h0M1543 128h0M1502 107h0M1561 114h0M1522 97h0M1576 87h0M1510 107h0M1524 105h0M1555 88h0M1486 123h0M1578 106h0M1487 84h0M1493 113h0M1524 109h0M1491 103h0M1541 111h0M1567 97h0M1515 120h0M1518 115h0M1558 91h0M1521 127h0M1498 98h0M1556 105h0M1503 78h0M1579 111h0M1522 77h0M1514 120h0M1543 118h0M1493 100h0M1558 93h0M1568 114h0M1501 113h0M1487 100h0M1580 108h0M1533 93h0M1576 128h0M1500 101h0M1533 85h0M1522 101h0M1497 119h0M1494 121h0M1480 122h0M1513 124h0M1491 91h0M1571 92h0M1505 113h0M1518 102h0M1503 119h0M1491 80h0M1569 125h0M1512 99h0M1543 130h0M1580 94h0M1569 123h0M1566 122h0M1512 93h0M1576 79h0M1566 131h0M1513 115h0M1508 123h0M1573 99h0M1512 120h0M1531 90h0M1551 87h0M1480 84h0M1507 102h0M1492 78h0M1578 83h0M1482 121h0M1506 127h0M1554 88h0M1579 118h0M1493 109h0M1547 114h0M1514 114h0M1557 102h0M1500 117h0M1573 114h0M1567 108h0M1491 104h0M1490 109h0M1503 121h0M1517 102h0M1484 119h0M1522 82h0M1552 101h0" stroke="#f08a30" stroke-width="1.7" stroke-linecap="round" stroke-opacity="1.0" fill="none"/>
<path d="M1568 92h0M1513 79h0M1486 110h0M1574 118h0M1502 113h0M1517 102h0M1485 83h0M1565 80h0M1515 83h0M1520 80h0M1560 78h0M1505 119h0M1517 83h0M1511 115h0M1539 88h0M1517 97h0M1562 130h0M1508 104h0M1560 98h0M1565 123h0M1513 90h0M1483 129h0M1528 108h0M1574 122h0M1491 81h0M1521 87h0M1564 78h0M1544 107h0M1559 104h0M1485 96h0M1509 108h0M1578 105h0M1545 101h0M1535 110h0M1517 126h0M1553 109h0M1535 111h0M1518 126h0M1529 124h0M1558 88h0M1502 78h0M1570 108h0M1548 107h0M1512 93h0M1503 112h0M1481 98h0M1484 123h0M1522 96h0M1493 83h0M1516 116h0M1576 108h0M1579 126h0M1579 124h0M1479 129h0M1521 128h0M1559 98h0M1552 117h0M1548 79h0M1535 82h0M1492 90h0M1555 128h0M1525 101h0M1512 94h0M1497 91h0M1560 94h0M1565 113h0M1486 114h0M1552 86h0M1535 128h0M1528 115h0M1504 111h0M1556 112h0M1511 128h0M1564 85h0M1481 96h0M1566 116h0M1531 86h0M1522 112h0M1537 100h0M1519 124h0M1550 120h0M1547 90h0M1501 112h0M1569 107h0M1536 98h0M1543 127h0M1490 124h0M1567 84h0M1490 80h0M1546 119h0M1492 82h0M1503 110h0M1526 105h0M1569 77h0M1488 126h0M1483 81h0M1488 81h0M1504 116h0M1513 109h0M1536 112h0M1511 101h0M1545 109h0M1490 87h0M1542 116h0M1578 88h0M1485 91h0M1495 102h0M1571 120h0M1539 92h0M1544 82h0M1510 122h0M1544 90h0M1480 124h0M1483 111h0M1573 101h0M1522 127h0M1546 92h0M1551 112h0" stroke="#f2e04a" stroke-width="1.7" stroke-linecap="round" stroke-opacity="1.0" fill="none"/>
<path d="M1538 115h0M1481 103h0M1499 120h0M1524 127h0M1558 82h0M1554 94h0M1521 119h0M1496 81h0M1550 98h0M1578 89h0M1513 110h0M1494 114h0M1486 82h0M1528 127h0M1535 88h0M1507 106h0M1574 129h0M1537 90h0M1500 92h0M1568 130h0M1497 90h0M1559 109h0M1523 106h0M1564 115h0M1571 85h0M1507 92h0M1535 127h0M1554 128h0M1547 115h0M1527 85h0M1536 97h0M1573 109h0M1551 81h0M1495 99h0M1566 85h0M1513 90h0M1570 126h0M1511 82h0M1512 127h0M1546 117h0M1552 91h0M1489 115h0M1531 95h0M1526 85h0M1514 109h0M1507 98h0M1575 96h0M1515 129h0M1554 113h0M1500 121h0M1505 120h0M1515 95h0M1566 78h0M1481 78h0M1512 105h0M1487 96h0M1489 106h0M1548 122h0M1543 79h0M1552 120h0M1512 106h0M1482 92h0M1524 114h0M1486 97h0M1495 82h0M1509 91h0M1497 97h0M1553 129h0M1480 92h0M1562 89h0M1546 94h0M1507 120h0M1511 128h0M1574 86h0M1561 130h0M1531 116h0M1495 119h0M1557 86h0M1567 107h0M1484 83h0M1581 118h0M1503 90h0M1496 92h0M1554 88h0M1535 84h0M1513 93h0M1551 106h0M1501 108h0M1487 114h0M1500 90h0M1547 130h0M1543 80h0M1497 105h0M1493 107h0M1500 114h0M1528 88h0M1484 85h0M1532 115h0M1499 114h0M1582 89h0M1526 103h0M1570 83h0M1513 128h0M1490 95h0M1572 130h0M1565 108h0M1499 118h0M1578 101h0M1492 93h0M1534 118h0M1568 87h0M1510 83h0M1538 89h0M1491 84h0M1572 89h0M1508 103h0M1565 91h0M1539 113h0M1513 107h0M1501 83h0M1493 107h0M1520 130h0M1517 97h0M1564 118h0M1535 104h0M1515 117h0M1518 81h0M1564 109h0M1546 101h0M1518 83h0M1551 111h0M1546 111h0M1537 106h0M1514 109h0M1548 115h0M1545 88h0M1517 92h0M1582 127h0M1569 105h0M1567 124h0M1545 116h0M1511 96h0M1551 103h0M1534 82h0M1576 98h0M1486 111h0M1528 119h0M1501 95h0M1510 93h0M1560 101h0M1554 110h0M1524 113h0M1572 86h0M1514 115h0M1513 77h0M1548 85h0M1499 122h0M1495 119h0M1502 121h0M1551 113h0M1548 79h0M1542 125h0M1577 114h0M1558 77h0M1481 116h0M1487 105h0M1570 127h0M1516 81h0M1557 118h0M1524 92h0M1489 120h0M1541 127h0M1505 98h0M1564 122h0M1484 98h0M1523 124h0M1531 88h0M1491 102h0M1561 127h0M1558 81h0M1567 128h0M1550 78h0M1539 115h0M1580 113h0M1483 96h0M1548 114h0M1546 107h0M1483 125h0M1570 108h0M1557 88h0M1539 126h0M1488 124h0M1508 117h0M1529 83h0M1567 116h0M1499 100h0M1503 88h0M1486 118h0M1579 80h0M1570 93h0M1485 98h0" stroke="#4fd08a" stroke-width="1.7" stroke-linecap="round" stroke-opacity="1.0" fill="none"/>
<path d="M1513 122h0M1508 124h0M1501 86h0M1570 109h0M1538 114h0M1575 124h0M1516 98h0M1577 102h0M1515 107h0M1511 118h0M1536 80h0M1502 117h0M1567 87h0M1480 109h0M1580 120h0M1521 114h0M1553 116h0M1504 125h0M1500 108h0M1498 80h0M1494 87h0M1519 78h0M1516 88h0M1576 128h0M1505 108h0M1545 114h0M1576 90h0M1536 108h0M1564 100h0M1564 83h0M1518 130h0M1581 99h0M1577 89h0M1581 121h0M1574 89h0M1552 93h0M1523 118h0M1564 116h0M1573 128h0M1551 78h0M1560 122h0M1493 106h0M1571 107h0M1577 106h0M1498 84h0M1558 128h0M1509 104h0M1549 109h0M1486 121h0M1529 103h0M1494 114h0M1538 82h0M1504 106h0M1539 80h0M1567 113h0M1541 119h0M1580 128h0M1492 127h0M1533 118h0M1522 86h0M1526 125h0M1507 127h0M1520 90h0M1495 121h0M1565 121h0M1579 105h0M1546 98h0M1525 107h0M1510 112h0M1487 113h0M1533 128h0M1488 94h0M1506 129h0M1550 79h0M1582 91h0M1565 110h0M1552 110h0M1548 86h0M1581 116h0M1571 104h0M1578 129h0M1496 92h0M1498 121h0M1525 86h0M1569 84h0M1509 86h0" stroke="#35b0c8" stroke-width="1.7" stroke-linecap="round" stroke-opacity="1.0" fill="none"/>
<path d="M1500 105h0M1557 119h0M1517 86h0M1556 110h0M1530 83h0M1570 83h0M1537 127h0M1576 106h0M1577 109h0M1567 122h0M1519 85h0M1517 108h0M1573 103h0M1511 110h0M1578 108h0M1488 89h0M1501 82h0M1541 126h0M1521 79h0M1509 112h0M1517 77h0M1577 110h0M1498 83h0M1510 91h0M1486 115h0M1565 126h0M1484 95h0M1571 117h0M1519 110h0M1532 84h0M1529 128h0M1557 112h0M1564 99h0M1537 95h0M1523 103h0M1580 85h0M1579 94h0M1493 103h0M1524 92h0M1512 83h0M1529 110h0M1528 105h0M1535 79h0M1524 112h0M1520 93h0M1503 84h0M1519 86h0M1561 93h0M1501 110h0M1517 125h0M1566 79h0M1561 115h0M1552 110h0M1560 119h0M1581 94h0M1567 117h0M1493 129h0M1565 88h0M1521 123h0M1546 107h0M1505 105h0M1577 125h0M1483 87h0M1480 106h0M1545 119h0M1496 107h0M1502 126h0M1539 92h0M1513 88h0M1570 98h0M1534 116h0M1555 130h0M1543 127h0M1521 80h0M1565 111h0M1492 97h0M1529 102h0M1574 115h0M1518 94h0M1481 93h0M1510 100h0M1521 113h0M1488 86h0M1564 108h0M1566 106h0M1567 81h0M1499 87h0M1578 106h0M1535 101h0M1536 94h0M1550 98h0M1482 105h0M1519 92h0M1580 119h0M1519 84h0M1574 91h0M1553 87h0M1536 112h0M1499 127h0M1564 128h0M1560 78h0M1544 110h0M1486 92h0M1514 113h0M1537 108h0M1484 126h0M1500 86h0M1546 86h0M1567 118h0M1551 112h0M1508 98h0M1576 86h0M1556 109h0M1488 113h0M1523 90h0M1566 106h0M1507 87h0M1486 115h0M1530 89h0M1572 93h0M1516 89h0M1531 91h0M1514 88h0M1570 97h0M1525 104h0M1493 83h0M1516 102h0M1546 100h0M1514 127h0M1515 115h0M1488 108h0M1488 101h0M1491 129h0M1573 87h0M1575 118h0M1580 98h0M1487 100h0M1542 109h0M1489 98h0M1540 89h0M1525 111h0M1488 124h0M1549 115h0M1522 129h0M1486 89h0M1514 90h0M1499 101h0M1578 88h0M1512 109h0M1519 82h0M1500 119h0M1579 82h0M1481 116h0M1567 88h0M1484 87h0M1529 97h0M1507 112h0M1524 85h0M1547 109h0M1545 96h0M1579 102h0M1570 92h0M1579 113h0M1527 130h0M1537 94h0M1528 123h0M1483 94h0M1558 78h0M1550 125h0M1530 97h0M1562 98h0M1539 82h0M1536 88h0M1555 114h0M1567 108h0M1569 98h0M1570 119h0M1483 126h0M1520 126h0M1504 113h0M1544 81h0M1560 121h0M1512 129h0M1581 85h0M1509 91h0M1489 82h0M1483 103h0M1569 107h0M1493 112h0M1572 131h0M1508 102h0M1515 104h0M1563 84h0M1505 78h0M1540 114h0M1512 95h0M1520 94h0M1496 110h0M1562 106h0M1538 99h0M1534 129h0M1557 101h0M1507 116h0M1550 114h0M1500 126h0M1565 110h0M1521 95h0M1535 100h0M1572 117h0M1566 93h0M1501 108h0M1545 111h0M1505 127h0M1486 108h0M1549 81h0M1578 82h0M1527 129h0M1567 117h0M1508 116h0M1564 78h0M1521 128h0M1542 121h0M1536 92h0M1530 124h0M1522 124h0M1505 79h0M1515 90h0M1525 121h0M1515 100h0M1513 100h0M1528 124h0M1537 94h0M1563 109h0M1486 114h0M1532 114h0M1533 96h0M1565 130h0M1501 129h0M1502 115h0M1530 110h0M1547 114h0M1505 123h0M1491 106h0M1483 93h0M1561 104h0M1545 118h0M1507 125h0M1535 87h0M1534 130h0M1485 108h0M1573 86h0M1561 114h0M1489 103h0M1539 98h0M1546 128h0M1493 85h0M1525 105h0M1525 113h0M1506 95h0M1551 85h0M1560 99h0M1505 128h0M1552 82h0M1521 119h0M1552 93h0M1554 92h0M1572 115h0M1550 127h0M1518 80h0M1542 87h0M1569 125h0M1488 108h0M1574 120h0M1573 106h0M1548 98h0M1551 83h0M1549 100h0M1518 111h0M1490 85h0M1551 99h0M1508 121h0M1572 97h0M1498 121h0M1485 124h0M1579 99h0M1573 101h0M1488 91h0M1499 107h0M1480 112h0M1561 87h0M1547 100h0M1517 130h0M1484 89h0M1556 103h0M1535 82h0M1510 124h0M1505 93h0M1515 112h0M1528 107h0M1577 125h0M1563 104h0M1524 120h0M1491 85h0M1481 123h0M1491 85h0M1540 110h0M1576 113h0M1493 121h0M1572 110h0M1526 102h0M1514 94h0M1534 125h0M1502 101h0M1504 82h0M1509 113h0M1547 130h0M1524 126h0M1562 107h0M1527 119h0M1566 116h0M1484 112h0M1519 98h0M1544 99h0M1487 130h0M1568 92h0" stroke="#4a3aa8" stroke-width="1.7" stroke-linecap="round" stroke-opacity="1.0" fill="none"/>
<path d="M1579 113h0M1492 128h0M1540 101h0M1577 131h0M1496 129h0M1547 113h0M1575 101h0M1508 85h0M1539 118h0M1481 115h0M1499 94h0M1487 129h0M1538 112h0M1532 91h0M1544 129h0M1547 87h0M1506 127h0M1534 117h0M1488 131h0M1483 91h0M1507 116h0M1532 96h0M1494 101h0M1497 95h0M1481 114h0M1563 119h0M1509 117h0M1486 114h0M1508 96h0M1576 91h0M1551 96h0M1551 88h0M1540 99h0M1574 88h0M1503 128h0M1516 110h0M1504 97h0M1490 79h0M1504 111h0M1556 118h0M1551 91h0M1580 100h0M1543 85h0M1578 110h0M1536 128h0M1526 120h0M1520 80h0M1496 127h0M1580 102h0M1515 86h0M1504 97h0M1572 101h0M1580 88h0M1486 86h0M1481 113h0M1486 97h0M1488 113h0M1576 119h0M1529 112h0M1529 123h0M1530 90h0M1523 124h0M1492 91h0M1492 86h0M1500 117h0M1572 126h0M1519 113h0M1573 88h0M1523 114h0M1577 91h0M1515 118h0M1556 99h0M1555 126h0M1503 104h0M1487 104h0M1550 84h0M1537 78h0M1488 104h0M1578 130h0M1562 90h0M1502 114h0M1505 82h0M1542 130h0M1542 83h0M1500 130h0M1499 96h0M1568 114h0" stroke="#1a1020" stroke-width="1.7" stroke-linecap="round" stroke-opacity="1.0" fill="none"/>
</g>
<clipPath id="cRS2"><path d="M1592.2 96.3C1593.5 93.9 1597.7 89.6 1601.4 87.1C1605.1 84.6 1609 82.7 1614.5 81.2C1620 79.7 1627.6 78.4 1634.2 77.9C1640.8 77.5 1648.4 77.6 1653.9 78.5C1659.4 79.4 1662.6 80.8 1667 83.1C1671.4 85.4 1675.8 89.2 1680.2 92.3C1684.6 95.4 1692.2 99.8 1693.3 101.5C1694.4 103.2 1689.8 102.1 1686.7 102.8C1683.6 103.5 1677.7 104 1674.9 105.5C1672.1 107 1671.5 108.5 1669.7 112C1668 115.5 1667 123.4 1664.4 126.5C1661.8 129.6 1657.4 129.8 1653.9 130.4C1650.4 131 1646.2 131.1 1643.4 129.8C1640.6 128.5 1639 125.7 1636.8 122.5C1634.6 119.3 1634 113.3 1630.3 110.7C1626.6 108.1 1619.3 107.9 1614.5 106.8C1609.7 105.7 1604.9 105.1 1601.4 104.2C1597.9 103.3 1595 102.8 1593.5 101.5C1592 100.2 1590.9 98.7 1592.2 96.3Z"/></clipPath>
<path d="M1592.2 96.3C1593.5 93.9 1597.7 89.6 1601.4 87.1C1605.1 84.6 1609 82.7 1614.5 81.2C1620 79.7 1627.6 78.4 1634.2 77.9C1640.8 77.5 1648.4 77.6 1653.9 78.5C1659.4 79.4 1662.6 80.8 1667 83.1C1671.4 85.4 1675.8 89.2 1680.2 92.3C1684.6 95.4 1692.2 99.8 1693.3 101.5C1694.4 103.2 1689.8 102.1 1686.7 102.8C1683.6 103.5 1677.7 104 1674.9 105.5C1672.1 107 1671.5 108.5 1669.7 112C1668 115.5 1667 123.4 1664.4 126.5C1661.8 129.6 1657.4 129.8 1653.9 130.4C1650.4 131 1646.2 131.1 1643.4 129.8C1640.6 128.5 1639 125.7 1636.8 122.5C1634.6 119.3 1634 113.3 1630.3 110.7C1626.6 108.1 1619.3 107.9 1614.5 106.8C1609.7 105.7 1604.9 105.1 1601.4 104.2C1597.9 103.3 1595 102.8 1593.5 101.5C1592 100.2 1590.9 98.7 1592.2 96.3Z" fill="#3b2046"/>
<g clip-path="url(#cRS2)">
<path d="M1661 78h0M1628 96h0M1691 108h0M1595 85h0M1653 118h0M1632 122h0M1607 102h0M1677 105h0M1611 87h0M1634 100h0M1622 99h0M1610 99h0M1661 79h0M1595 88h0M1603 89h0M1643 87h0M1596 110h0M1640 100h0M1653 130h0M1656 80h0M1601 86h0M1676 96h0M1643 116h0M1662 87h0M1630 104h0M1619 96h0M1666 112h0M1655 105h0M1595 96h0M1661 84h0M1643 95h0M1667 119h0M1668 102h0M1681 83h0M1613 96h0M1631 89h0M1629 80h0M1600 117h0M1652 111h0M1665 126h0M1614 81h0M1672 91h0M1632 114h0M1667 95h0M1647 112h0M1675 118h0M1597 106h0M1602 108h0M1689 101h0M1640 108h0M1634 87h0M1595 106h0M1669 79h0M1653 128h0M1657 108h0M1600 79h0M1677 94h0M1693 130h0M1622 99h0M1679 114h0M1648 120h0M1643 122h0M1649 102h0M1683 109h0M1603 108h0M1598 100h0M1594 83h0M1658 102h0M1641 86h0M1673 96h0M1617 100h0M1655 119h0M1691 85h0M1643 98h0M1656 86h0M1690 89h0M1608 120h0M1640 78h0M1674 78h0M1636 82h0M1671 96h0M1640 104h0M1610 106h0M1598 122h0M1686 112h0M1637 120h0M1647 111h0M1613 103h0M1659 129h0M1650 107h0M1622 115h0M1633 117h0M1668 123h0M1614 79h0M1677 117h0M1640 101h0M1684 86h0M1619 125h0M1639 108h0M1668 79h0M1597 87h0M1663 104h0M1649 113h0M1658 112h0M1597 96h0M1596 82h0M1630 118h0M1691 104h0M1675 117h0M1606 119h0M1668 82h0M1617 116h0M1671 107h0M1684 109h0M1659 102h0M1606 94h0M1684 86h0M1631 80h0M1617 113h0M1643 97h0M1647 92h0M1658 115h0M1605 88h0M1630 105h0M1611 81h0M1692 124h0M1604 105h0M1682 111h0M1693 127h0M1622 122h0M1618 93h0M1613 117h0M1610 105h0M1654 115h0M1621 96h0M1655 82h0M1670 121h0M1617 98h0M1653 124h0M1691 98h0M1681 104h0M1594 98h0M1668 99h0M1662 111h0M1655 106h0M1683 99h0M1639 126h0M1684 89h0M1691 102h0M1681 115h0M1681 109h0M1620 119h0M1633 126h0M1600 126h0M1684 97h0M1687 122h0M1617 90h0M1594 117h0M1635 120h0M1608 80h0M1618 87h0M1664 110h0M1593 92h0M1625 83h0M1606 89h0M1626 89h0M1655 88h0M1615 110h0M1661 91h0M1596 79h0M1607 127h0M1611 130h0M1666 114h0M1660 81h0M1659 96h0M1603 87h0M1629 124h0M1685 100h0M1593 117h0M1637 127h0M1687 81h0M1655 105h0M1620 114h0M1668 129h0M1620 103h0M1598 115h0M1621 105h0M1638 86h0M1622 108h0M1656 92h0M1595 130h0M1634 107h0M1682 124h0M1624 94h0M1602 97h0M1605 86h0M1604 87h0M1622 84h0M1621 127h0M1596 118h0M1637 87h0M1660 129h0M1624 113h0M1599 98h0M1651 124h0M1668 118h0M1675 106h0M1676 109h0M1655 111h0M1605 128h0M1676 100h0M1646 108h0M1619 124h0M1635 119h0M1668 127h0M1613 117h0M1675 89h0M1646 110h0M1632 92h0M1614 86h0M1676 90h0M1656 83h0M1600 121h0M1686 89h0M1622 129h0M1620 103h0M1609 88h0M1642 79h0M1623 97h0M1682 121h0M1679 98h0M1683 126h0M1683 102h0M1676 117h0M1681 128h0M1611 99h0M1654 110h0M1629 99h0M1605 115h0M1598 108h0M1608 88h0M1631 92h0M1593 81h0M1606 91h0M1624 79h0M1615 116h0M1652 95h0M1632 114h0M1620 78h0M1610 109h0M1683 127h0M1682 100h0M1603 94h0M1688 121h0M1630 87h0M1647 93h0M1677 130h0M1649 92h0M1656 111h0M1645 83h0M1683 106h0M1596 104h0M1616 106h0M1671 90h0M1632 122h0M1678 88h0M1647 101h0M1667 105h0M1607 107h0M1645 122h0M1681 82h0M1674 129h0M1652 105h0M1677 91h0M1673 119h0M1661 81h0M1680 98h0M1673 108h0M1613 96h0M1687 130h0M1631 79h0M1642 115h0M1605 78h0M1639 101h0M1604 83h0M1672 123h0M1687 102h0M1617 102h0M1645 92h0M1626 113h0M1673 129h0M1642 116h0M1674 124h0M1653 86h0M1668 106h0M1643 101h0M1639 111h0M1656 85h0M1672 122h0M1642 89h0M1643 97h0M1633 97h0M1627 89h0M1643 84h0M1633 100h0M1618 109h0M1630 98h0M1649 109h0M1662 128h0M1629 118h0M1638 95h0M1631 82h0M1689 122h0M1627 112h0M1608 96h0M1629 122h0M1690 122h0M1661 89h0M1679 130h0M1619 120h0M1685 115h0M1672 115h0M1656 108h0M1684 115h0M1632 126h0M1691 99h0M1682 114h0M1608 78h0M1688 99h0M1655 107h0M1641 130h0M1651 108h0M1686 129h0M1684 98h0M1644 122h0M1671 86h0M1610 118h0M1631 120h0M1663 110h0M1665 113h0M1614 100h0M1636 103h0M1601 116h0M1605 108h0M1691 104h0M1607 109h0M1611 89h0M1649 129h0M1651 117h0M1645 129h0M1663 104h0M1624 104h0M1635 86h0M1605 130h0M1603 94h0M1666 114h0M1604 129h0M1646 88h0M1672 112h0M1677 94h0M1670 129h0M1651 80h0M1671 93h0M1601 116h0M1684 106h0M1625 98h0M1651 103h0M1686 115h0M1676 91h0M1666 87h0M1678 100h0M1617 123h0M1620 105h0M1638 105h0M1599 94h0M1608 100h0M1622 121h0M1595 105h0M1664 81h0M1604 125h0M1606 129h0M1669 108h0M1666 86h0M1661 113h0M1630 111h0M1693 94h0M1630 94h0M1628 113h0M1631 97h0M1630 113h0M1684 128h0M1626 118h0M1604 120h0M1664 101h0M1602 128h0M1594 81h0M1601 79h0M1684 109h0M1671 103h0M1609 127h0M1596 92h0M1607 92h0M1677 112h0M1681 113h0M1672 114h0M1691 106h0M1679 127h0M1657 115h0M1618 130h0M1632 124h0M1615 121h0M1642 102h0M1607 83h0M1657 92h0M1683 103h0M1596 116h0M1661 104h0M1656 119h0M1640 95h0M1624 79h0M1653 114h0M1592 94h0M1628 96h0M1614 86h0M1620 79h0M1680 128h0M1607 120h0M1619 115h0M1647 111h0M1688 105h0M1613 96h0M1652 128h0M1603 109h0M1600 96h0M1652 117h0M1662 87h0M1599 118h0M1664 85h0M1607 94h0M1624 114h0M1621 82h0M1667 121h0M1638 100h0M1632 130h0M1648 96h0M1640 80h0M1650 110h0M1691 79h0M1614 110h0M1670 100h0M1640 120h0M1684 97h0M1687 99h0M1627 125h0M1622 110h0M1673 96h0M1689 128h0M1676 102h0M1672 119h0M1620 126h0M1608 82h0" stroke="#2a1f6a" stroke-width="1.7" stroke-linecap="round" stroke-opacity="1.0" fill="none"/>
<path d="M1621 103h0M1629 123h0M1654 83h0M1633 100h0M1632 97h0M1680 95h0M1674 109h0M1681 89h0M1668 94h0M1664 90h0M1672 110h0M1665 95h0M1603 94h0M1667 128h0M1684 128h0M1655 95h0M1669 109h0M1634 117h0M1674 105h0M1646 126h0M1651 118h0M1633 122h0M1604 91h0M1628 102h0M1629 120h0M1597 109h0M1631 118h0M1657 103h0M1659 129h0M1681 99h0M1666 128h0M1634 97h0M1666 109h0M1665 105h0M1595 93h0M1629 93h0M1641 108h0M1626 78h0M1649 85h0M1620 126h0M1676 81h0M1596 86h0M1620 90h0M1671 108h0M1604 79h0M1630 82h0M1671 92h0M1633 120h0M1618 81h0M1692 82h0M1604 81h0M1618 106h0M1645 93h0M1642 116h0M1658 115h0M1594 92h0M1677 115h0M1599 106h0M1660 128h0M1605 82h0M1629 82h0M1641 118h0M1613 117h0M1660 103h0M1655 98h0M1671 103h0M1643 112h0M1681 104h0M1693 83h0M1619 125h0M1609 89h0M1645 90h0M1606 86h0M1641 114h0M1670 126h0M1611 118h0M1623 116h0M1604 116h0M1642 123h0M1614 83h0M1620 98h0M1636 129h0M1621 130h0M1683 114h0M1686 124h0M1594 91h0M1630 88h0M1644 119h0M1606 120h0M1624 122h0M1642 105h0M1655 116h0M1639 81h0M1679 84h0M1666 112h0M1598 84h0M1621 119h0M1661 130h0M1630 80h0M1641 81h0M1611 98h0M1676 87h0M1632 106h0M1611 96h0M1693 130h0M1655 87h0M1598 127h0M1689 102h0M1677 120h0M1622 97h0M1685 112h0M1671 93h0M1678 118h0M1595 109h0M1654 111h0M1686 105h0M1624 121h0M1676 82h0M1621 121h0M1613 106h0M1623 95h0M1619 97h0M1632 85h0M1608 129h0M1613 127h0M1607 97h0M1612 86h0M1645 128h0M1675 79h0M1682 120h0M1647 118h0M1604 96h0M1686 110h0M1625 110h0M1693 99h0M1660 94h0M1677 118h0M1620 106h0M1658 117h0M1634 127h0M1684 105h0M1612 107h0M1685 99h0M1660 83h0M1620 82h0M1603 113h0M1598 103h0M1596 96h0M1649 83h0M1631 120h0M1667 124h0M1635 98h0M1600 122h0M1661 128h0M1608 121h0M1644 93h0M1662 91h0M1666 106h0M1621 78h0M1693 85h0M1628 94h0M1671 89h0M1627 101h0M1640 95h0M1613 121h0M1664 126h0M1644 102h0M1599 88h0M1672 113h0M1658 94h0M1669 116h0M1688 107h0M1623 100h0M1607 129h0M1677 93h0M1624 120h0M1644 86h0M1631 99h0M1677 87h0M1668 95h0M1672 113h0M1661 91h0M1605 108h0M1640 108h0M1645 118h0M1664 124h0M1668 104h0M1641 90h0M1676 89h0M1646 112h0M1673 113h0M1667 89h0M1669 80h0M1634 96h0M1650 78h0M1649 129h0M1671 81h0M1630 93h0M1606 94h0M1675 115h0M1674 93h0M1667 93h0M1650 104h0M1628 114h0M1674 125h0M1622 119h0M1682 81h0M1641 113h0M1633 121h0M1600 91h0M1592 118h0M1683 126h0M1688 119h0M1642 122h0M1670 87h0M1640 91h0M1671 83h0M1646 117h0M1628 105h0M1631 86h0M1607 86h0M1691 82h0M1675 108h0M1652 120h0M1635 89h0M1639 107h0M1665 87h0M1600 115h0M1632 102h0M1610 90h0M1685 124h0M1614 125h0M1662 95h0M1628 81h0M1623 105h0M1684 99h0M1650 115h0M1651 109h0M1656 84h0M1682 104h0M1680 116h0M1606 100h0M1683 108h0M1628 129h0M1617 84h0M1626 92h0M1633 125h0M1646 100h0M1610 115h0M1644 79h0M1647 81h0M1645 93h0M1667 128h0M1661 103h0M1594 88h0M1632 96h0M1631 94h0M1691 119h0M1644 98h0M1688 106h0M1664 111h0M1627 93h0M1639 119h0M1623 102h0M1635 117h0M1643 117h0M1682 106h0M1671 120h0M1666 93h0M1618 127h0M1662 79h0M1640 85h0M1649 94h0M1599 95h0M1685 86h0M1607 122h0M1593 83h0M1675 123h0M1619 122h0M1683 108h0M1690 103h0M1623 117h0M1667 95h0M1674 88h0M1624 111h0M1675 106h0M1618 96h0M1676 92h0M1605 95h0M1673 119h0M1624 111h0M1682 123h0M1621 87h0M1678 107h0M1633 116h0M1637 92h0M1676 124h0M1657 123h0M1620 119h0M1681 116h0M1655 113h0M1597 97h0M1611 87h0M1672 127h0M1647 99h0M1595 113h0M1637 104h0M1611 97h0M1681 85h0M1691 106h0M1681 87h0M1633 126h0M1628 78h0M1654 110h0M1619 125h0M1625 101h0M1677 118h0M1618 99h0M1615 101h0M1669 121h0M1629 85h0M1648 111h0M1631 80h0M1664 83h0M1688 96h0M1604 126h0M1621 84h0M1610 85h0M1645 121h0M1616 125h0M1611 97h0M1626 100h0M1631 120h0M1675 97h0M1613 103h0M1595 123h0M1684 109h0M1611 124h0M1598 84h0M1594 80h0M1669 127h0M1677 81h0M1643 122h0M1618 101h0M1620 103h0M1687 97h0M1685 119h0M1683 96h0M1645 110h0M1610 109h0M1608 109h0M1608 127h0M1664 100h0M1691 124h0M1612 79h0M1602 124h0M1656 87h0M1627 88h0M1688 110h0M1646 118h0M1683 116h0M1603 111h0M1625 85h0M1684 95h0M1681 80h0M1627 130h0M1652 129h0M1661 112h0M1620 96h0M1611 121h0M1607 98h0M1638 112h0M1622 85h0M1615 83h0M1653 116h0M1660 114h0M1670 103h0M1635 101h0M1631 81h0M1688 81h0M1633 112h0M1660 127h0M1660 89h0M1653 89h0M1675 96h0M1650 94h0M1592 116h0M1607 102h0M1693 120h0M1671 124h0M1603 94h0M1683 87h0M1673 116h0M1601 88h0M1685 122h0M1648 100h0M1641 116h0M1687 94h0M1627 104h0M1627 109h0M1664 126h0M1685 98h0M1597 108h0M1684 129h0M1652 123h0M1652 107h0M1643 118h0M1617 126h0M1644 111h0M1660 130h0M1601 118h0M1604 116h0M1626 85h0M1653 108h0M1634 87h0M1691 106h0M1683 101h0M1644 123h0M1667 91h0M1623 111h0M1622 96h0M1633 123h0M1595 106h0M1659 118h0M1655 100h0M1680 93h0M1690 113h0M1636 126h0M1679 87h0M1689 117h0M1677 127h0M1689 125h0M1684 97h0M1642 79h0M1642 103h0M1634 102h0M1607 99h0M1609 121h0M1669 128h0M1618 89h0M1616 129h0M1664 107h0M1625 103h0M1654 115h0M1637 118h0M1673 121h0M1620 114h0M1595 115h0M1644 112h0M1606 118h0M1630 86h0M1596 118h0M1601 105h0M1599 126h0M1618 114h0M1667 125h0M1598 105h0" stroke="#7a1f25" stroke-width="1.7" stroke-linecap="round" stroke-opacity="1.0" fill="none"/>
<path d="M1671 108h0M1622 121h0M1627 83h0M1655 109h0M1593 86h0M1653 99h0M1651 110h0M1634 121h0M1626 127h0M1657 125h0M1635 123h0M1661 85h0M1639 96h0M1689 79h0M1607 111h0M1647 87h0M1600 85h0M1657 120h0M1668 83h0M1690 96h0M1634 108h0M1659 121h0M1633 91h0M1672 105h0M1644 92h0M1646 109h0M1658 97h0M1630 122h0M1668 129h0M1644 97h0M1606 80h0M1637 82h0M1633 88h0M1637 121h0M1688 87h0M1597 96h0M1657 81h0M1662 103h0M1605 93h0M1610 130h0M1670 113h0M1673 127h0M1688 122h0M1615 93h0M1654 106h0M1630 78h0M1636 97h0M1644 92h0M1667 91h0M1621 109h0M1608 119h0M1610 87h0M1593 127h0M1658 87h0M1668 116h0M1666 80h0M1595 129h0M1689 116h0M1656 95h0M1626 122h0M1631 130h0M1662 109h0M1664 100h0M1639 120h0M1627 111h0M1652 125h0M1653 113h0M1689 78h0M1685 79h0M1666 112h0M1611 118h0M1606 113h0M1622 82h0M1691 93h0M1626 114h0M1600 125h0M1643 100h0M1656 112h0M1605 119h0M1693 108h0M1643 110h0M1673 95h0M1618 99h0M1664 86h0M1602 117h0M1653 93h0M1627 118h0M1603 85h0M1692 109h0M1619 130h0M1645 123h0M1597 92h0M1595 130h0M1652 101h0M1621 84h0M1679 109h0M1662 81h0M1671 108h0M1663 85h0M1674 102h0M1660 117h0M1615 99h0M1636 110h0M1681 91h0M1611 119h0M1656 103h0M1624 110h0M1667 127h0M1670 101h0M1664 91h0M1608 120h0M1607 108h0M1678 126h0M1691 106h0M1597 98h0M1595 119h0M1608 101h0M1675 115h0M1663 82h0M1636 130h0M1600 113h0M1673 95h0M1616 83h0M1595 81h0M1678 121h0M1616 127h0M1604 106h0M1691 129h0M1645 106h0M1659 111h0M1672 119h0M1606 89h0M1597 129h0M1650 114h0M1644 129h0M1654 96h0M1628 128h0M1676 84h0M1618 100h0M1618 105h0M1654 123h0M1689 129h0M1593 99h0M1671 129h0M1649 107h0M1602 114h0M1665 128h0M1657 99h0M1672 117h0M1643 125h0M1672 96h0M1630 129h0M1666 98h0M1661 88h0M1647 114h0M1623 95h0M1658 106h0M1601 98h0M1637 88h0M1662 107h0M1620 93h0M1661 80h0M1598 104h0M1664 113h0M1649 104h0M1608 115h0M1604 86h0M1617 118h0M1626 82h0M1595 122h0M1620 109h0M1665 103h0M1656 87h0M1658 96h0M1690 127h0M1679 108h0M1621 124h0M1691 123h0M1688 126h0M1646 80h0M1623 82h0M1636 128h0M1678 112h0M1652 80h0M1641 81h0M1593 104h0M1626 123h0M1671 128h0M1600 103h0M1609 122h0M1636 116h0M1680 83h0M1602 118h0M1677 94h0M1607 94h0M1685 124h0M1687 93h0M1613 95h0M1660 95h0M1646 81h0M1669 110h0M1604 102h0M1679 91h0M1684 130h0M1635 107h0M1624 108h0M1663 85h0M1629 79h0M1616 123h0M1680 93h0M1611 114h0M1643 94h0M1600 98h0M1674 108h0M1672 119h0M1613 86h0M1616 122h0M1655 122h0M1645 97h0M1690 124h0M1679 119h0M1640 103h0M1634 89h0M1668 91h0M1631 129h0M1664 102h0M1655 121h0M1657 104h0M1637 120h0M1640 123h0M1693 81h0M1628 129h0M1656 94h0M1688 100h0M1608 107h0M1597 111h0M1650 94h0M1617 116h0M1644 93h0M1608 93h0M1608 121h0M1650 127h0M1670 104h0M1665 79h0M1614 97h0M1623 116h0M1652 114h0M1627 125h0M1669 100h0M1692 88h0M1615 87h0M1691 84h0M1692 98h0M1623 80h0M1621 117h0M1675 94h0M1618 93h0M1674 124h0M1648 123h0M1676 92h0M1662 93h0M1634 107h0M1616 112h0M1630 122h0M1638 99h0M1633 78h0M1687 97h0M1667 85h0M1643 114h0M1688 113h0M1645 106h0M1640 128h0M1659 106h0M1603 91h0M1669 103h0M1643 128h0M1679 109h0M1647 99h0M1684 99h0M1662 96h0M1621 99h0M1669 110h0M1602 83h0M1616 107h0M1657 89h0M1642 87h0M1663 107h0M1603 110h0M1670 104h0M1683 85h0M1643 104h0M1606 82h0M1655 111h0M1688 101h0M1629 85h0M1646 120h0M1636 117h0M1645 119h0M1642 97h0M1673 115h0M1688 111h0M1678 124h0M1613 99h0M1595 90h0M1625 95h0M1661 103h0M1659 112h0M1662 91h0M1677 126h0M1632 124h0M1629 111h0M1651 87h0M1679 91h0M1656 120h0M1684 116h0M1674 112h0M1624 92h0M1637 87h0M1641 108h0M1676 110h0M1685 127h0M1663 95h0M1692 111h0M1684 100h0M1681 127h0M1619 121h0M1688 125h0M1684 110h0M1592 109h0M1631 80h0M1627 116h0M1664 123h0M1634 120h0M1614 80h0M1667 86h0M1629 90h0M1622 130h0M1629 119h0M1684 89h0M1649 125h0M1594 79h0M1594 104h0M1613 117h0M1620 86h0M1602 91h0M1647 117h0M1665 98h0M1681 121h0M1661 95h0M1613 113h0M1634 96h0M1639 102h0M1617 94h0M1686 111h0M1621 105h0M1602 100h0M1611 106h0M1667 104h0M1671 91h0M1680 117h0M1607 108h0M1647 119h0M1625 83h0M1604 88h0M1652 118h0M1594 129h0M1644 84h0M1609 109h0M1647 124h0M1692 89h0M1651 79h0M1635 110h0M1627 98h0M1670 103h0M1641 87h0M1675 83h0M1647 92h0M1680 122h0M1620 126h0M1651 118h0M1675 110h0M1679 129h0M1630 85h0M1663 104h0M1688 84h0M1599 89h0M1627 87h0M1687 96h0" stroke="#c8352a" stroke-width="1.7" stroke-linecap="round" stroke-opacity="1.0" fill="none"/>
<path d="M1599 101h0M1675 117h0M1660 107h0M1656 116h0M1597 94h0M1608 92h0M1682 128h0M1669 126h0M1618 110h0M1594 96h0M1666 124h0M1649 82h0M1593 116h0M1603 101h0M1609 128h0M1595 115h0M1683 95h0M1646 106h0M1673 94h0M1652 102h0M1601 87h0M1613 83h0M1644 87h0M1642 91h0M1602 79h0M1624 117h0M1638 115h0M1632 109h0M1672 92h0M1687 86h0M1637 93h0M1628 101h0M1663 91h0M1631 116h0M1646 86h0M1643 116h0M1614 111h0M1638 120h0M1656 109h0M1685 110h0M1608 83h0M1635 79h0M1646 96h0M1661 109h0M1602 105h0M1673 107h0M1645 105h0M1679 117h0M1640 98h0M1663 128h0M1602 115h0M1682 86h0M1615 101h0M1648 121h0M1632 90h0M1631 105h0M1645 86h0M1635 84h0M1627 125h0M1622 98h0M1651 83h0M1652 90h0M1634 130h0M1672 99h0M1658 112h0M1689 81h0M1634 79h0M1635 81h0M1631 113h0M1690 128h0M1598 120h0M1595 126h0M1664 83h0M1656 126h0M1598 122h0M1604 100h0M1634 95h0M1663 129h0M1672 116h0M1657 104h0M1626 93h0M1656 78h0M1630 86h0M1677 96h0M1665 83h0M1606 91h0M1627 112h0M1650 104h0M1604 81h0M1614 96h0M1606 119h0M1689 117h0M1649 127h0M1650 129h0M1632 118h0M1676 126h0M1622 118h0M1693 124h0M1663 111h0M1690 86h0M1604 85h0M1688 100h0M1644 100h0M1655 119h0M1653 80h0M1633 106h0M1611 116h0M1617 109h0M1600 87h0M1631 112h0M1679 101h0M1604 114h0M1658 88h0M1614 92h0M1613 118h0M1647 121h0M1668 105h0M1679 128h0M1639 96h0M1616 98h0M1638 90h0M1677 99h0M1610 117h0M1641 89h0M1676 94h0M1632 93h0M1595 108h0M1620 87h0M1598 130h0M1604 96h0M1605 83h0M1679 113h0M1638 95h0M1641 105h0M1654 115h0M1673 127h0M1645 129h0M1672 90h0M1633 103h0M1604 89h0M1650 113h0M1595 120h0M1599 115h0M1638 117h0M1607 122h0M1647 98h0M1598 98h0M1617 111h0M1680 88h0M1621 80h0M1597 117h0M1599 80h0M1668 121h0M1649 79h0M1604 85h0M1641 91h0M1618 108h0M1629 95h0M1692 97h0M1594 106h0M1600 89h0M1635 126h0M1627 125h0M1664 129h0M1687 86h0M1658 121h0M1606 81h0M1673 101h0M1610 96h0M1661 112h0M1610 81h0M1670 126h0M1665 80h0M1679 80h0M1620 90h0M1650 79h0M1654 91h0M1691 79h0M1616 83h0M1693 98h0M1625 80h0M1609 129h0M1604 119h0M1666 126h0M1596 100h0M1691 92h0M1673 92h0M1663 125h0M1637 121h0M1639 82h0M1596 129h0M1598 123h0M1646 126h0M1668 121h0M1626 92h0M1662 88h0M1613 82h0M1597 100h0M1693 123h0M1595 127h0M1670 84h0" stroke="#f08a30" stroke-width="1.7" stroke-linecap="round" stroke-opacity="1.0" fill="none"/>
<path d="M1652 86h0M1626 89h0M1594 121h0M1689 102h0M1618 121h0M1596 124h0M1679 88h0M1638 117h0M1610 115h0M1635 99h0M1675 116h0M1606 120h0M1632 102h0M1614 83h0M1683 84h0M1670 127h0M1658 81h0M1648 101h0M1651 112h0M1687 84h0M1595 84h0M1632 101h0M1672 108h0M1598 114h0M1636 84h0M1639 99h0M1626 92h0M1607 102h0M1643 127h0M1654 117h0M1623 106h0M1605 111h0M1626 82h0M1624 121h0M1652 97h0M1631 92h0M1595 107h0M1637 89h0M1611 82h0M1688 112h0M1659 130h0M1682 95h0M1646 125h0M1667 93h0M1664 123h0M1644 118h0M1651 85h0M1596 107h0M1661 113h0M1632 106h0M1663 129h0M1653 96h0M1595 121h0M1624 95h0M1678 118h0M1626 90h0M1633 120h0M1593 106h0M1635 84h0M1630 128h0M1611 85h0M1646 89h0M1651 85h0M1693 94h0M1671 92h0M1685 96h0M1596 129h0M1657 101h0M1647 90h0M1677 125h0M1688 118h0M1639 93h0M1623 114h0M1620 97h0M1636 124h0M1692 119h0M1663 84h0M1655 109h0M1602 127h0M1643 111h0M1675 103h0M1633 127h0M1613 86h0M1690 99h0M1638 127h0M1672 98h0M1666 85h0M1684 102h0M1605 80h0M1651 103h0M1599 112h0M1594 101h0M1597 84h0M1665 87h0M1629 107h0M1640 79h0M1648 117h0M1649 89h0M1652 110h0M1664 122h0M1615 125h0M1610 104h0M1614 86h0M1648 97h0M1642 88h0M1614 124h0M1594 81h0M1622 80h0M1654 79h0M1622 130h0M1693 86h0M1689 122h0M1679 114h0M1618 103h0M1654 130h0" stroke="#f2e04a" stroke-width="1.7" stroke-linecap="round" stroke-opacity="1.0" fill="none"/>
<path d="M1592 120h0M1604 122h0M1592 121h0M1612 113h0M1692 120h0M1689 80h0M1685 99h0M1616 102h0M1644 101h0M1681 115h0M1672 80h0M1593 114h0M1693 116h0M1618 118h0M1648 79h0M1610 84h0M1650 108h0M1649 93h0M1654 111h0M1609 112h0M1646 114h0M1674 105h0M1674 98h0M1618 103h0M1639 127h0M1631 87h0M1618 110h0M1634 89h0M1656 89h0M1682 93h0M1600 117h0M1655 90h0M1618 81h0M1665 103h0M1595 106h0M1674 112h0M1595 91h0M1607 96h0M1612 98h0M1646 108h0M1638 118h0M1675 130h0M1663 98h0M1600 85h0M1632 128h0M1625 106h0M1635 81h0M1597 120h0M1608 99h0M1626 118h0M1658 95h0M1633 120h0M1660 125h0M1677 90h0M1682 103h0M1635 86h0M1613 86h0M1617 82h0M1655 111h0M1613 129h0M1616 103h0M1610 116h0M1595 92h0M1684 122h0M1676 111h0M1626 122h0M1642 117h0M1650 116h0M1688 110h0M1686 130h0M1642 94h0M1678 83h0M1690 83h0M1676 91h0M1681 117h0M1651 120h0M1663 129h0M1614 112h0M1658 126h0M1667 126h0M1653 125h0M1679 116h0M1624 85h0M1619 93h0M1686 104h0M1657 103h0M1595 113h0M1680 125h0M1686 103h0M1689 85h0M1622 119h0M1689 124h0M1653 129h0M1641 130h0M1627 124h0M1648 123h0M1636 109h0M1676 121h0M1594 78h0M1649 113h0M1662 116h0M1665 97h0M1667 95h0M1667 119h0M1597 114h0M1646 107h0M1633 121h0M1595 78h0M1639 125h0M1595 116h0M1658 130h0M1640 84h0M1595 128h0M1683 130h0M1600 81h0M1612 108h0M1595 79h0M1626 97h0M1692 118h0M1693 102h0M1661 113h0M1596 106h0M1617 88h0M1653 95h0M1626 121h0M1602 84h0M1674 93h0M1659 85h0M1692 106h0M1627 93h0M1598 100h0M1632 127h0M1688 101h0M1661 128h0M1633 91h0M1646 130h0M1612 99h0M1679 93h0M1636 94h0M1673 120h0M1664 99h0M1666 95h0M1683 85h0M1642 119h0M1667 91h0M1616 87h0M1688 126h0M1665 106h0M1600 90h0M1690 97h0M1675 109h0M1680 83h0M1668 125h0M1666 105h0M1659 105h0M1655 117h0M1667 91h0M1622 109h0M1677 81h0M1666 123h0M1686 102h0M1661 90h0M1595 92h0M1666 86h0M1672 119h0M1607 88h0M1672 96h0M1633 89h0M1656 80h0M1624 119h0M1637 114h0M1681 99h0M1663 89h0M1620 83h0M1687 87h0M1657 97h0M1690 118h0M1629 90h0M1677 87h0M1605 106h0M1683 87h0M1638 123h0M1677 97h0M1635 114h0M1627 125h0M1615 108h0M1687 107h0M1619 109h0M1682 121h0M1609 80h0M1689 82h0M1633 110h0M1686 101h0M1617 124h0M1635 103h0M1632 87h0M1653 99h0M1629 117h0M1646 89h0M1604 115h0M1666 83h0M1636 83h0M1649 116h0" stroke="#4fd08a" stroke-width="1.7" stroke-linecap="round" stroke-opacity="1.0" fill="none"/>
<path d="M1649 119h0M1594 106h0M1654 92h0M1685 88h0M1624 94h0M1668 124h0M1664 78h0M1626 108h0M1614 78h0M1614 128h0M1606 121h0M1630 99h0M1689 85h0M1662 126h0M1639 98h0M1609 106h0M1643 94h0M1618 127h0M1609 112h0M1618 117h0M1692 105h0M1602 88h0M1684 125h0M1656 115h0M1661 91h0M1683 90h0M1660 99h0M1614 129h0M1609 82h0M1614 115h0M1639 107h0M1653 123h0M1688 102h0M1616 98h0M1667 127h0M1600 82h0M1636 100h0M1685 125h0M1668 111h0M1642 118h0M1649 81h0M1633 113h0M1630 102h0M1685 105h0M1604 101h0M1688 115h0M1635 102h0M1654 128h0M1657 81h0M1691 111h0M1657 114h0M1659 92h0M1630 88h0M1677 116h0M1675 127h0M1618 130h0M1686 100h0M1668 92h0M1668 117h0M1668 123h0M1625 84h0M1661 82h0M1654 86h0M1598 86h0M1687 80h0M1621 128h0M1612 116h0M1635 84h0M1646 96h0M1669 121h0M1638 122h0M1643 79h0M1628 99h0M1602 102h0M1602 100h0M1650 112h0M1635 107h0M1664 117h0M1645 102h0M1692 95h0M1618 82h0M1693 93h0M1614 110h0M1645 123h0M1596 101h0M1606 120h0M1613 79h0M1596 112h0M1643 102h0M1681 105h0M1620 109h0M1596 81h0M1636 118h0M1660 81h0M1653 86h0M1599 91h0M1618 80h0M1606 113h0M1615 86h0M1687 92h0M1622 100h0M1641 82h0M1685 105h0M1602 89h0M1618 100h0M1664 112h0M1602 120h0M1669 88h0" stroke="#35b0c8" stroke-width="1.7" stroke-linecap="round" stroke-opacity="1.0" fill="none"/>
<path d="M1610 121h0M1638 127h0M1660 99h0M1611 113h0M1604 122h0M1634 101h0M1643 130h0M1668 122h0M1595 120h0M1673 128h0M1641 112h0M1674 113h0M1609 119h0M1596 106h0M1624 114h0M1661 116h0M1626 79h0M1653 94h0M1658 130h0M1674 117h0M1644 98h0M1624 96h0M1615 104h0M1646 92h0M1679 111h0M1605 101h0M1595 117h0M1659 124h0M1675 116h0M1612 85h0M1686 107h0M1656 125h0M1633 101h0M1622 106h0M1658 99h0M1655 97h0M1600 126h0M1661 118h0M1606 123h0M1614 87h0M1607 129h0M1668 125h0M1616 110h0M1641 81h0M1611 97h0M1595 91h0M1594 102h0M1625 117h0M1688 120h0M1649 79h0M1687 85h0M1647 99h0M1593 122h0M1617 94h0M1685 87h0M1661 130h0M1629 127h0M1627 126h0M1622 126h0M1661 113h0M1625 81h0M1691 98h0M1661 125h0M1648 88h0M1617 98h0M1682 83h0M1605 103h0M1649 81h0M1662 104h0M1621 92h0M1653 85h0M1603 81h0M1627 120h0M1669 118h0M1659 120h0M1674 111h0M1630 85h0M1642 96h0M1629 118h0M1669 83h0M1647 124h0M1596 85h0M1616 116h0M1621 87h0M1624 100h0M1625 109h0M1677 120h0M1661 101h0M1600 93h0M1631 115h0M1606 120h0M1689 114h0M1615 117h0M1603 101h0M1671 117h0M1672 92h0M1684 112h0M1647 96h0M1648 99h0M1672 86h0M1681 89h0M1665 79h0M1657 119h0M1596 86h0M1678 91h0M1618 102h0M1616 83h0M1603 80h0M1612 111h0M1600 120h0M1646 120h0M1685 95h0M1677 78h0M1659 114h0M1673 109h0M1683 88h0M1616 93h0M1617 126h0M1692 126h0M1679 120h0M1611 100h0M1635 112h0M1675 96h0M1613 118h0M1597 97h0M1675 82h0M1665 102h0M1644 94h0M1631 91h0M1672 114h0M1649 83h0M1653 97h0M1677 87h0M1644 83h0M1594 90h0M1683 129h0M1635 99h0M1632 86h0M1684 123h0M1682 104h0M1690 97h0M1607 79h0M1603 79h0M1668 111h0M1614 97h0M1664 104h0M1644 89h0M1689 90h0M1629 90h0M1646 127h0M1607 78h0M1626 83h0M1687 81h0M1604 79h0M1650 100h0M1639 93h0M1655 94h0M1649 129h0M1599 125h0M1651 117h0M1629 90h0M1636 130h0M1651 92h0M1592 129h0M1659 110h0M1672 94h0M1670 86h0M1625 104h0M1638 124h0M1689 104h0M1648 129h0M1646 90h0M1679 87h0M1593 81h0M1679 80h0M1644 103h0M1614 110h0M1678 99h0M1691 116h0M1612 121h0M1599 124h0M1607 109h0M1667 109h0M1676 115h0M1655 125h0M1685 126h0M1672 81h0M1668 116h0M1612 116h0M1612 83h0M1657 89h0M1596 91h0M1692 107h0M1594 93h0M1606 100h0M1650 99h0M1644 130h0M1611 83h0M1629 96h0M1670 110h0M1619 85h0M1692 117h0M1674 85h0M1640 84h0M1664 127h0M1685 86h0M1667 102h0M1608 105h0M1681 92h0M1642 108h0M1627 109h0M1599 119h0M1629 123h0M1642 115h0M1661 102h0M1671 82h0M1620 115h0M1648 102h0M1668 120h0M1666 106h0M1622 86h0M1622 87h0M1631 84h0M1668 126h0M1684 87h0M1658 125h0M1638 80h0M1655 86h0M1675 111h0M1615 102h0M1614 121h0M1683 84h0M1656 85h0M1672 107h0M1672 104h0M1613 127h0M1680 89h0M1603 106h0M1631 83h0M1637 104h0M1684 106h0M1683 120h0M1675 87h0M1660 129h0M1598 90h0M1686 111h0M1593 99h0M1690 101h0M1630 100h0M1612 102h0M1638 124h0M1636 98h0M1690 120h0M1622 106h0M1648 119h0M1651 87h0M1675 110h0M1687 103h0M1665 83h0M1677 123h0M1654 117h0M1685 127h0M1632 125h0M1689 80h0M1649 90h0M1630 129h0M1648 91h0M1671 106h0M1660 126h0M1622 94h0M1596 79h0M1684 112h0M1644 116h0M1620 90h0M1618 117h0M1675 86h0M1667 83h0M1684 82h0M1668 114h0M1610 107h0M1656 102h0M1661 130h0M1636 125h0M1643 128h0M1670 93h0M1688 123h0" stroke="#4a3aa8" stroke-width="1.7" stroke-linecap="round" stroke-opacity="1.0" fill="none"/>
<path d="M1657 121h0M1678 111h0M1639 88h0M1641 112h0M1630 100h0M1678 129h0M1680 123h0M1633 79h0M1690 93h0M1667 110h0M1644 114h0M1618 112h0M1687 80h0M1638 101h0M1685 120h0M1650 82h0M1604 79h0M1688 79h0M1611 116h0M1653 80h0M1623 89h0M1681 122h0M1632 111h0M1678 99h0M1608 93h0M1625 102h0M1613 110h0M1691 81h0M1640 115h0M1629 113h0M1649 97h0M1666 92h0M1679 106h0M1660 94h0M1687 80h0M1625 109h0M1650 120h0M1678 110h0M1633 90h0M1657 91h0M1664 121h0M1677 126h0M1635 126h0M1692 88h0M1600 88h0M1633 111h0M1638 79h0M1628 124h0M1667 107h0M1646 109h0M1648 80h0M1662 96h0M1627 117h0M1687 87h0M1645 86h0M1600 80h0M1672 105h0M1596 113h0M1610 88h0M1624 81h0M1594 120h0M1623 104h0M1647 123h0M1643 113h0M1640 112h0M1610 127h0M1657 114h0M1621 78h0M1693 80h0M1621 86h0M1605 85h0M1665 122h0M1598 99h0M1655 123h0M1612 93h0M1671 113h0M1611 113h0M1671 101h0M1669 118h0M1672 103h0M1674 95h0" stroke="#1a1020" stroke-width="1.7" stroke-linecap="round" stroke-opacity="1.0" fill="none"/>
<path d="M1632.9 96.3C1634.3 94.3 1635.9 90.4 1639.4 89.7C1642.9 89 1648 91 1653.9 92.3C1659.8 93.6 1671.8 96.1 1674.9 97.6C1678 99.1 1673.2 99.8 1672.3 101.5C1671.4 103.2 1670.4 105 1669.7 108.1C1669 111.2 1669.6 116.8 1668.3 119.9C1667 123 1664.6 125.2 1661.8 126.5C1659 127.8 1654.8 128.7 1651.3 127.8C1647.8 126.9 1643.9 124.3 1640.8 121.2C1637.7 118.1 1634.6 112.7 1632.9 109.4C1631.2 106.1 1630.9 103.7 1630.9 101.5C1630.9 99.3 1631.5 98.3 1632.9 96.3Z" fill="url(#gWall)"/>
</g>
<text x="17" y="416.3" font-size="50" fill="#000">B</text>
<text x="262.5" y="407.8" font-size="27" fill="#1a1a1a" font-weight="bold" textLength="435" lengthAdjust="spacingAndGlyphs">Simulated-Empirical Correlation</text>
<text x="476.2" y="444" font-size="27" fill="#1a1a1a" text-anchor="middle" font-weight="bold" textLength="64.5" lengthAdjust="spacingAndGlyphs">Raw</text>
<line x1="254" y1="870.9" x2="646.4" y2="453.5" stroke="#ff0000" stroke-width="2" />
<circle cx="327.7" cy="668.6" r="8" fill="#000" fill-opacity="0.3"/>
<circle cx="352.1" cy="675.4" r="8" fill="#000" fill-opacity="0.3"/>
<circle cx="363.8" cy="645.3" r="8" fill="#000" fill-opacity="0.3"/>
<circle cx="334.8" cy="688.5" r="8" fill="#000" fill-opacity="0.3"/>
<circle cx="342.6" cy="692.8" r="8" fill="#000" fill-opacity="0.3"/>
<circle cx="353.2" cy="694.9" r="8" fill="#000" fill-opacity="0.3"/>
<circle cx="352.1" cy="704.5" r="8" fill="#000" fill-opacity="0.3"/>
<circle cx="369.1" cy="685" r="8" fill="#000" fill-opacity="0.3"/>
<circle cx="379" cy="691.4" r="8" fill="#000" fill-opacity="0.3"/>
<circle cx="419.8" cy="635.4" r="8" fill="#000" fill-opacity="0.3"/>
<circle cx="411.6" cy="676.1" r="8" fill="#000" fill-opacity="0.3"/>
<circle cx="426.5" cy="663.7" r="8" fill="#000" fill-opacity="0.3"/>
<circle cx="439.2" cy="663" r="8" fill="#000" fill-opacity="0.3"/>
<circle cx="418.7" cy="712.3" r="8" fill="#000" fill-opacity="0.3"/>
<circle cx="468.3" cy="636.1" r="8" fill="#000" fill-opacity="0.3"/>
<circle cx="461.2" cy="683.9" r="8" fill="#000" fill-opacity="0.3"/>
<circle cx="472.9" cy="676.1" r="8" fill="#000" fill-opacity="0.3"/>
<circle cx="470" cy="688.5" r="8" fill="#000" fill-opacity="0.3"/>
<circle cx="539.1" cy="636.1" r="8" fill="#000" fill-opacity="0.3"/>
<circle cx="530.2" cy="654.9" r="8" fill="#000" fill-opacity="0.3"/>
<circle cx="330.5" cy="687.5" r="8" fill="#000" fill-opacity="0.3"/>
<circle cx="472.9" cy="676.1" r="8" fill="#000" fill-opacity="0.3"/>
<circle cx="353.6" cy="607.7" r="12.3" fill="#231f20" />
<path d="M547.3 566.1L536.8 584.29L515.8 584.29L505.3 566.1L515.8 547.91L536.8 547.91Z" fill="#000" fill-opacity="1.0"/>
<path d="M454.4 625L459.68 641.24L476.75 641.24L462.94 651.27L468.21 667.51L454.4 657.48L440.59 667.51L445.86 651.27L432.05 641.24L449.12 641.24Z" fill="#000" fill-opacity="1.0"/>
<path d="M254 436.3V870.9H678M254 828.6h5M296.35 870.9v-5M254 786.3h5M338.7 870.9v-5M254 744h5M381.05 870.9v-5M254 701.7h5M423.4 870.9v-5M254 659.4h5M465.75 870.9v-5M254 617.1h5M508.1 870.9v-5M254 574.8h5M550.45 870.9v-5M254 532.5h5M592.8 870.9v-5M254 490.2h5M635.15 870.9v-5M677.5 870.9v-5" stroke="#111" stroke-width="2" fill="none"/>
<text x="235.8" y="882.6" font-size="36.5" fill="#000" text-anchor="end" textLength="20.9" lengthAdjust="spacingAndGlyphs">0</text>
<text x="235.8" y="798.5" font-size="36.5" fill="#000" text-anchor="end" textLength="52.26" lengthAdjust="spacingAndGlyphs">0.2</text>
<text x="235.8" y="713.9" font-size="36.5" fill="#000" text-anchor="end" textLength="52.26" lengthAdjust="spacingAndGlyphs">0.4</text>
<text x="235.8" y="629.2" font-size="36.5" fill="#000" text-anchor="end" textLength="52.26" lengthAdjust="spacingAndGlyphs">0.6</text>
<text x="235.8" y="544.9" font-size="36.5" fill="#000" text-anchor="end" textLength="52.26" lengthAdjust="spacingAndGlyphs">0.8</text>
<text x="224.8" y="464" font-size="36.5" fill="#000" text-anchor="end" textLength="20.9" lengthAdjust="spacingAndGlyphs">1</text>
<text x="253.5" y="907.2" font-size="36.5" fill="#000" text-anchor="middle" textLength="20.9" lengthAdjust="spacingAndGlyphs">0</text>
<text x="338.3" y="907.2" font-size="36.5" fill="#000" text-anchor="middle" textLength="52.26" lengthAdjust="spacingAndGlyphs">0.2</text>
<text x="423.1" y="907.2" font-size="36.5" fill="#000" text-anchor="middle" textLength="52.26" lengthAdjust="spacingAndGlyphs">0.4</text>
<text x="508.5" y="907.2" font-size="36.5" fill="#000" text-anchor="middle" textLength="52.26" lengthAdjust="spacingAndGlyphs">0.6</text>
<text x="593.5" y="907.2" font-size="36.5" fill="#000" text-anchor="middle" textLength="52.26" lengthAdjust="spacingAndGlyphs">0.8</text>
<text x="673.3" y="907.2" font-size="36.5" fill="#000" text-anchor="middle" textLength="20.9" lengthAdjust="spacingAndGlyphs">1</text>
<text transform="translate(161,645.8) rotate(-90)" x="0" y="0" font-size="33" fill="#80303a" text-anchor="middle" textLength="359.5" lengthAdjust="spacingAndGlyphs">Fitting value R (MBMv4)</text>
<text x="482.5" y="949.8" font-size="32.5" fill="#153f87" text-anchor="middle" textLength="363.5" lengthAdjust="spacingAndGlyphs">Fitting value R (Paxinos)</text>
<text x="437.5" y="540.2" font-size="27.5" fill="#000" font-weight="bold" font-style="italic" textLength="152" lengthAdjust="spacingAndGlyphs">Ex-vivo dMRI</text>
<text x="395.3" y="613.4" font-size="27.5" fill="#000" font-weight="bold" font-style="italic" textLength="168" lengthAdjust="spacingAndGlyphs">Neural Tracing</text>
<text x="869" y="417.2" font-size="50" fill="#000">C</text>
<text x="1078" y="396.8" font-size="24" fill="#000" text-anchor="middle" font-weight="bold" textLength="149" lengthAdjust="spacingAndGlyphs">In-vivo dMRI</text>
<text x="1297.5" y="396.8" font-size="24" fill="#000" text-anchor="middle" font-weight="bold" textLength="159.5" lengthAdjust="spacingAndGlyphs">Ex-vivo dMRI</text>
<text x="1515" y="396.8" font-size="24" fill="#000" text-anchor="middle" font-weight="bold" textLength="175" lengthAdjust="spacingAndGlyphs">Neural Tracing</text>
<text x="1078.2" y="426.5" font-size="24" fill="#000" text-anchor="middle" font-weight="bold" textLength="118" lengthAdjust="spacingAndGlyphs">(example)</text>
<path d="M1066 561h0M1065 564h0M1060 572h0M1058 576h0M1050 567h0M1050 566h0M1096 564h0M1055 570h0M1089 569h0M1056 566h0M1054 546h0M1046 574h0M1048 576h0M1043 569h0M1059 565h0M1088 559h0M1042 569h0M1051 574h0M1062 568h0M1049 574h0M1057 567h0M1067 573h0M1045 567h0M1062 571h0M1025 562h0M1063 566h0M1055 575h0M1069 571h0M1059 571h0M1068 563h0M1056 572h0M1070 567h0M1053 572h0M1056 569h0M1069 570h0M1054 561h0M1053 575h0" stroke="#000" stroke-width="7.8" stroke-linecap="round" stroke-opacity="0.33" fill="none"/>
<path d="M1052 570h0M1050 570h0M1073 573h0M1063 568h0M1057 566h0M1061 568h0M1048 569h0M1084 566h0M1048 575h0M1057 569h0M1047 572h0M1056 575h0M1042 567h0M1072 571h0M1066 566h0M1058 568h0M1078 573h0M1045 570h0M1054 573h0M1061 574h0M1065 572h0M1039 573h0M1082 567h0M1065 568h0M1060 565h0M1057 567h0M1067 564h0M1051 568h0M1049 567h0M1064 571h0M1054 567h0M1077 572h0M1061 574h0M1071 567h0M1075 568h0M1065 568h0M1078 570h0" stroke="#000" stroke-width="7.8" stroke-linecap="round" stroke-opacity="0.33" fill="none"/>
<path d="M1056 569h0M1048 570h0M1060 569h0M1029 576h0M1067 570h0M1069 572h0M1062 577h0M1068 570h0M1055 571h0M1059 571h0M1051 572h0M1053 569h0M1057 569h0M1057 566h0M1077 570h0M1062 570h0M1074 569h0M1055 573h0M1065 563h0M1069 576h0M1064 575h0M1063 571h0M1067 569h0M1058 569h0M1062 564h0M1047 572h0M1040 570h0M1080 567h0M1062 569h0M1064 566h0M1069 570h0M1045 577h0M1060 574h0M1087 563h0M1068 573h0M1048 572h0M1073 567h0" stroke="#000" stroke-width="7.8" stroke-linecap="round" stroke-opacity="0.33" fill="none"/>
<path d="M1049 569h0M1051 567h0M1083 563h0M1057 572h0M1087 568h0M1045 573h0M1062 573h0M1074 575h0M1054 572h0M1048 569h0M1046 575h0M1055 565h0M1037 571h0M1056 571h0M1050 571h0M1069 575h0M1074 574h0M1062 569h0M1043 572h0M1068 576h0M1042 576h0M1054 570h0M1065 575h0M1067 572h0M1049 573h0M1057 576h0M1070 564h0M1051 574h0M1047 571h0M1065 566h0M1049 572h0M1073 562h0M1051 568h0M1065 573h0M1070 572h0M1052 568h0" stroke="#000" stroke-width="7.8" stroke-linecap="round" stroke-opacity="0.33" fill="none"/>
<path d="M1057 573h0M1056 571h0M1050 571h0M1046 564h0M1037 571h0M1061 570h0M1051 565h0M1068 567h0M1059 576h0M1103 561h0M1081 551h0M1057 573h0M1056 573h0M1042 567h0M1048 576h0M1065 567h0M1066 563h0M1067 569h0M1065 572h0M1084 565h0M1047 571h0M1037 572h0M1071 573h0M1088 568h0M1067 563h0M1043 574h0M1063 567h0M1050 573h0M1083 568h0M1054 571h0M1070 572h0M1046 569h0M1049 569h0M1064 566h0M1058 568h0M1075 571h0" stroke="#000" stroke-width="7.8" stroke-linecap="round" stroke-opacity="0.33" fill="none"/>
<path d="M1048 569h0M1054 575h0M1041 573h0M1043 576h0M1059 566h0M1072 572h0M1054 575h0M1051 571h0M1047 576h0M1103 558h0M1086 565h0M1086 562h0M1047 568h0M1065 562h0M1052 569h0M1064 567h0M1037 576h0M1049 569h0M1092 568h0M1074 572h0M1062 579h0M1034 570h0M1051 570h0M1055 567h0M1067 566h0M1057 570h0M1055 573h0M1083 566h0M1079 564h0M1063 570h0M1077 567h0M1034 573h0M1059 570h0M1039 573h0M1061 568h0M1064 572h0" stroke="#000" stroke-width="7.8" stroke-linecap="round" stroke-opacity="0.33" fill="none"/>
<path d="M1082 569h0M1056 576h0M1059 568h0M1049 572h0M1050 570h0M1067 557h0M1060 568h0M1051 578h0M1049 564h0M1057 562h0M1062 568h0M1095 564h0M1061 574h0M1074 561h0M1059 568h0M1051 569h0M1060 567h0M1063 571h0M1059 570h0M1072 569h0M1064 568h0M1052 562h0M1053 573h0M1058 569h0M1054 570h0M1085 566h0M1061 564h0M1058 569h0M1072 575h0M1082 570h0M1055 574h0M1047 573h0M1070 566h0M1064 568h0M1064 563h0M1056 573h0" stroke="#000" stroke-width="7.8" stroke-linecap="round" stroke-opacity="0.33" fill="none"/>
<path d="M1066 566h0M1061 573h0M1089 568h0M1045 571h0M1055 570h0M1052 563h0M1084 579h0M1059 572h0M1058 569h0M1070 574h0M1068 571h0M1050 572h0M1058 579h0M1061 571h0M1038 573h0M1042 571h0M1073 567h0M1058 566h0M1063 572h0M1066 562h0M1055 567h0M1073 569h0M1052 576h0M1063 566h0M1059 569h0M1057 567h0M1074 571h0M1057 572h0M1065 564h0M1065 571h0M1054 565h0M1065 569h0M1066 571h0M1068 568h0M1045 574h0M1040 572h0" stroke="#000" stroke-width="7.8" stroke-linecap="round" stroke-opacity="0.33" fill="none"/>
<path d="M1064 568h0M1053 567h0M1049 568h0M1052 568h0M1064 567h0M1063 561h0M1082 570h0M1059 568h0M1068 576h0M1062 571h0M1054 569h0M1071 575h0M1055 562h0M1082 566h0M1060 576h0M1057 568h0M1069 573h0M1065 564h0M1058 570h0M1077 570h0M1057 563h0M1053 574h0M1055 572h0M1057 564h0M1037 572h0M1058 570h0M1061 566h0M1058 568h0M1038 572h0M1075 566h0M1067 566h0M1045 576h0M1044 575h0M1063 569h0M1050 573h0M1047 562h0" stroke="#000" stroke-width="7.8" stroke-linecap="round" stroke-opacity="0.33" fill="none"/>
<path d="M1062 565h0M1069 567h0M1054 571h0M1062 566h0M1058 568h0M1058 569h0M1041 574h0M1053 571h0M1045 569h0M1039 575h0M1074 565h0M1053 577h0M1050 572h0M1058 563h0M1045 573h0M1065 568h0M1047 567h0M1060 571h0M1072 565h0M1063 575h0M1075 569h0M1073 568h0M1057 571h0M1066 562h0M1060 572h0M1078 563h0M1051 565h0M1056 576h0M1068 567h0M1057 569h0M1057 565h0M1054 566h0M1047 572h0M1057 568h0M1050 572h0M1055 565h0" stroke="#000" stroke-width="7.8" stroke-linecap="round" stroke-opacity="0.33" fill="none"/>
<path d="M1059 568h0M1050 571h0M1071 568h0M1061 564h0M1061 572h0M1077 574h0M1062 572h0M1067 573h0M1053 573h0M1062 570h0M1082 568h0M1067 567h0M1068 572h0M1073 563h0M1057 569h0M1052 567h0M1037 568h0M1070 575h0M1057 570h0M1059 569h0M1063 566h0M1070 575h0M1067 571h0M1062 560h0M1055 566h0M1081 573h0M1115 555h0M1075 563h0M1104 569h0M1060 566h0M1049 566h0M1060 567h0M1059 574h0M1061 565h0M1083 568h0M1050 575h0" stroke="#000" stroke-width="7.8" stroke-linecap="round" stroke-opacity="0.33" fill="none"/>
<path d="M1037 568h0M1091 563h0M1057 564h0M1057 570h0M1066 562h0M1047 567h0M1060 569h0M1048 573h0M1071 570h0M1048 575h0M1051 572h0M1060 571h0M1065 569h0M1071 565h0M1049 572h0M1054 577h0M1039 570h0M1035 568h0M1045 566h0M1070 578h0M1095 563h0M1071 567h0M1065 565h0M1041 574h0M1090 565h0M1086 569h0M1070 575h0M1075 570h0M1052 573h0M1074 568h0M1061 566h0M1041 574h0M1058 573h0M1073 564h0M1092 566h0M1035 573h0" stroke="#000" stroke-width="7.8" stroke-linecap="round" stroke-opacity="0.33" fill="none"/>
<path d="M1052 573h0M1070 571h0M1052 570h0M1054 574h0M1058 568h0M1048 570h0M1052 566h0M1072 571h0M1052 571h0M1039 575h0M1066 568h0M1055 573h0M1054 575h0M1050 575h0M1062 573h0M1064 570h0M1054 572h0M1051 573h0M1040 572h0M1077 569h0M1077 575h0M1056 577h0M1070 564h0M1058 566h0M1044 570h0M1063 577h0M1057 568h0M1102 561h0M1062 572h0M1048 573h0M1065 568h0M1073 567h0M1058 568h0M1085 573h0M1054 570h0M1070 566h0" stroke="#000" stroke-width="7.8" stroke-linecap="round" stroke-opacity="0.33" fill="none"/>
<path d="M1080 567h0M1069 571h0M1087 572h0M1055 571h0M1068 561h0M1074 575h0M1054 576h0M1068 573h0M1056 567h0M1087 568h0M1041 573h0M1049 570h0M1059 566h0M1073 569h0M1056 575h0M1058 571h0M1050 574h0M1066 576h0M1046 572h0M1057 575h0M1090 572h0M1084 565h0M1047 571h0M1041 572h0M1051 569h0M1053 568h0M1054 571h0M1058 571h0M1065 565h0M1057 567h0M1048 566h0M1060 573h0M1073 561h0M1057 568h0M1079 572h0M1090 564h0" stroke="#000" stroke-width="7.8" stroke-linecap="round" stroke-opacity="0.33" fill="none"/>
<line x1="981.5" y1="575.51" x2="1167.35" y2="561.63" stroke="#000" stroke-width="2" />
<path d="M981.5 449.75V635.6H1167.35M981.5 623.21h3.2M993.89 635.6v-3.2M981.5 610.82h3.2M1006.28 635.6v-3.2M981.5 598.43h3.2M1018.67 635.6v-3.2M981.5 586.04h3.2M1031.06 635.6v-3.2M981.5 573.65h3.2M1043.45 635.6v-3.2M981.5 561.26h3.2M1055.84 635.6v-3.2M981.5 548.87h3.2M1068.23 635.6v-3.2M981.5 536.48h3.2M1080.62 635.6v-3.2M981.5 524.09h3.2M1093.01 635.6v-3.2M981.5 511.7h3.2M1105.4 635.6v-3.2M981.5 499.31h3.2M1117.79 635.6v-3.2M981.5 486.92h3.2M1130.18 635.6v-3.2M981.5 474.53h3.2M1142.57 635.6v-3.2M981.5 462.14h3.2M1154.96 635.6v-3.2M981.5 449.75h3.2M1167.35 635.6v-3.2" stroke="#262626" stroke-width="1.6" fill="none"/>
<text x="998.5" y="466.7" font-size="23.5" fill="#000" font-style="italic" textLength="181.5" lengthAdjust="spacingAndGlyphs">Fitting R = 0.233</text>
<text x="972.95" y="460.05" font-size="24" fill="#000" text-anchor="end" textLength="14.41" lengthAdjust="spacingAndGlyphs">1</text>
<text x="975.7" y="523.8" font-size="24" fill="#000" text-anchor="end" textLength="36.03" lengthAdjust="spacingAndGlyphs">0.5</text>
<text x="975.7" y="585.75" font-size="24" fill="#000" text-anchor="end" textLength="14.41" lengthAdjust="spacingAndGlyphs">0</text>
<text x="975.7" y="647" font-size="24" fill="#000" text-anchor="end" textLength="44.66" lengthAdjust="spacingAndGlyphs">-0.5</text>
<path d="M1047 814h0M1079 788h0M1064 814h0M1085 783h0M1036 807h0M1052 814h0M1056 805h0M1066 796h0M1080 796h0M1058 812h0M1042 810h0M1062 805h0M1054 809h0M1042 810h0M1059 823h0M1060 801h0M1059 813h0M1052 801h0M1034 822h0M1051 799h0M1060 811h0M1056 807h0M1111 781h0M1091 794h0M1046 814h0M1040 831h0M1052 808h0M1054 824h0M1048 817h0M1059 805h0M1064 782h0M1060 808h0M1060 812h0M1048 814h0M1060 806h0M1062 795h0M1048 820h0M1056 804h0" stroke="#000" stroke-width="7.8" stroke-linecap="round" stroke-opacity="0.33" fill="none"/>
<path d="M1056 802h0M1049 819h0M1089 790h0M1043 813h0M1069 801h0M1043 822h0M1068 808h0M1062 799h0M1050 808h0M1036 818h0M1058 799h0M1045 824h0M1075 795h0M1065 811h0M1037 820h0M1059 797h0M1043 817h0M1054 802h0M1060 809h0M1058 801h0M1046 819h0M1086 797h0M1061 803h0M1034 813h0M1053 807h0M1086 794h0M1072 801h0M1052 808h0M1055 809h0M1055 807h0M1053 819h0M1074 785h0M1057 805h0M1060 807h0M1045 826h0M1061 808h0M1069 803h0M1078 800h0" stroke="#000" stroke-width="7.8" stroke-linecap="round" stroke-opacity="0.33" fill="none"/>
<path d="M1059 812h0M1057 819h0M1066 803h0M1073 798h0M1067 812h0M1068 795h0M1085 782h0M1053 822h0M1075 812h0M1046 813h0M1056 806h0M1045 806h0M1057 813h0M1042 806h0M1056 813h0M1044 810h0M1047 815h0M1078 789h0M1084 782h0M1084 794h0M1062 806h0M1038 820h0M1054 825h0M1040 822h0M1096 792h0M1050 805h0M1065 800h0M1049 813h0M1069 802h0M1032 832h0M1049 816h0M1052 827h0M1053 812h0M1073 806h0M1058 801h0M1081 804h0M1080 788h0M1059 804h0" stroke="#000" stroke-width="7.8" stroke-linecap="round" stroke-opacity="0.33" fill="none"/>
<path d="M1071 799h0M1037 805h0M1057 804h0M1076 789h0M1058 800h0M1040 804h0M1041 816h0M1074 810h0M1056 803h0M1041 806h0M1062 794h0M1046 814h0M1053 806h0M1081 798h0M1053 821h0M1031 820h0M1040 816h0M1053 792h0M1063 801h0M1062 802h0M1046 803h0M1050 815h0M1046 815h0M1045 826h0M1081 805h0M1049 814h0M1052 805h0M1051 829h0M1047 804h0M1051 803h0M1050 808h0M1055 819h0M1078 806h0M1052 807h0M1065 810h0M1052 824h0M1061 820h0M1062 814h0" stroke="#000" stroke-width="7.8" stroke-linecap="round" stroke-opacity="0.33" fill="none"/>
<path d="M1054 812h0M1054 810h0M1058 808h0M1051 808h0M1061 803h0M1057 808h0M1048 801h0M1056 803h0M1055 795h0M1064 794h0M1075 808h0M1022 827h0M1056 804h0M1089 798h0M1076 790h0M1044 819h0M1108 771h0M1083 792h0M1041 806h0M1047 816h0M1075 794h0M1040 826h0M1076 805h0M1041 827h0M1053 801h0M1086 793h0M1050 814h0M1045 793h0M1070 796h0M1050 815h0M1062 792h0M1056 808h0M1093 770h0M1066 796h0M1043 806h0M1063 772h0M1044 804h0M1060 812h0" stroke="#000" stroke-width="7.8" stroke-linecap="round" stroke-opacity="0.33" fill="none"/>
<path d="M1083 805h0M1069 790h0M1045 807h0M1060 800h0M1056 807h0M1049 817h0M1075 800h0M1070 797h0M1072 785h0M1048 828h0M1049 811h0M1079 807h0M1038 825h0M1054 801h0M1067 807h0M1043 816h0M1072 785h0M1060 803h0M1048 830h0M1090 801h0M1060 823h0M1097 785h0M1053 805h0M1052 829h0M1040 826h0M1056 812h0M1051 805h0M1063 804h0M1058 793h0M1096 787h0M1080 793h0M1047 807h0M1052 816h0M1053 810h0M1066 820h0M1037 826h0M1075 789h0M1047 817h0" stroke="#000" stroke-width="7.8" stroke-linecap="round" stroke-opacity="0.33" fill="none"/>
<path d="M1045 817h0M1058 808h0M1049 805h0M1054 816h0M1048 814h0M1050 820h0M1060 818h0M1039 819h0M1054 804h0M1066 769h0M1043 808h0M1040 798h0M1054 814h0M1081 798h0M1062 788h0M1046 818h0M1045 814h0M1080 796h0M1032 819h0M1078 792h0M1075 800h0M1076 792h0M1078 790h0M1056 807h0M1073 800h0M1048 804h0M1051 815h0M1040 811h0M1053 797h0M1088 786h0M1066 805h0M1047 812h0M1073 791h0M1060 810h0M1053 827h0M1084 791h0M1038 821h0M1045 814h0" stroke="#000" stroke-width="7.8" stroke-linecap="round" stroke-opacity="0.33" fill="none"/>
<path d="M1076 800h0M1031 831h0M1059 808h0M1032 827h0M1057 812h0M1056 800h0M1048 815h0M1081 791h0M1047 806h0M1047 811h0M1054 818h0M1047 807h0M1053 795h0M1046 804h0M1048 803h0M1065 801h0M1065 802h0M1063 808h0M1050 801h0M1041 807h0M1094 793h0M1044 822h0M1054 819h0M1062 814h0M1056 808h0M1059 800h0M1054 802h0M1098 784h0M1062 800h0M1048 818h0M1062 811h0M1109 771h0M1046 803h0M1051 813h0M1058 826h0M1072 792h0M1080 798h0M1062 823h0" stroke="#000" stroke-width="7.8" stroke-linecap="round" stroke-opacity="0.33" fill="none"/>
<path d="M1068 796h0M1061 817h0M1065 801h0M1052 825h0M1064 822h0M1045 818h0M1068 799h0M1061 799h0M1066 791h0M1060 799h0M1084 790h0M1070 817h0M1050 804h0M1050 816h0M1051 815h0M1068 805h0M1040 806h0M1037 820h0M1094 794h0M1066 804h0M1057 809h0M1047 819h0M1070 803h0M1060 815h0M1086 792h0M1043 839h0M1060 797h0M1047 807h0M1063 824h0M1085 792h0M1056 803h0M1043 817h0M1075 812h0M1044 817h0M1058 817h0M1059 810h0M1054 820h0M1036 810h0" stroke="#000" stroke-width="7.8" stroke-linecap="round" stroke-opacity="0.33" fill="none"/>
<path d="M1085 796h0M1042 820h0M1047 810h0M1045 808h0M1096 785h0M1044 809h0M1065 808h0M1052 821h0M1052 817h0M1060 794h0M1058 801h0M1093 781h0M1064 810h0M1060 807h0M1035 829h0M1053 816h0M1052 818h0M1053 810h0M1060 815h0M1065 791h0M1061 813h0M1038 810h0M1020 802h0M1074 802h0M1084 787h0M1041 818h0M1060 809h0M1067 807h0M1074 787h0M1058 806h0M1043 820h0M1054 803h0M1084 788h0M1053 826h0M1066 807h0M1064 810h0M1059 819h0" stroke="#000" stroke-width="7.8" stroke-linecap="round" stroke-opacity="0.33" fill="none"/>
<path d="M1049 796h0M1061 805h0M1056 808h0M1053 796h0M1056 817h0M1060 799h0M1088 795h0M1098 782h0M1052 808h0M1050 809h0M1080 797h0M1053 809h0M1048 804h0M1053 807h0M1063 809h0M1125 766h0M1053 795h0M1076 796h0M1084 797h0M1058 813h0M1063 805h0M1061 810h0M1053 809h0M1048 811h0M1065 786h0M1048 817h0M1059 817h0M1054 812h0M1051 815h0M1045 818h0M1078 809h0M1060 799h0M1052 810h0M1047 809h0M1039 804h0M1061 800h0M1044 808h0" stroke="#000" stroke-width="7.8" stroke-linecap="round" stroke-opacity="0.33" fill="none"/>
<path d="M1047 822h0M1041 826h0M1051 810h0M1087 789h0M1054 791h0M1068 805h0M1057 803h0M1070 802h0M1045 810h0M1058 807h0M1059 808h0M1056 810h0M1060 801h0M1077 796h0M1058 815h0M1067 819h0M1075 797h0M1054 817h0M1053 815h0M1059 813h0M1108 791h0M1054 810h0M1069 798h0M1062 793h0M1077 801h0M1042 821h0M1071 793h0M1045 821h0M1075 803h0M1044 809h0M1081 782h0M1059 807h0M1062 804h0M1066 801h0M1056 805h0M1039 822h0M1088 788h0" stroke="#000" stroke-width="7.8" stroke-linecap="round" stroke-opacity="0.33" fill="none"/>
<path d="M1045 824h0M1078 780h0M1064 810h0M1036 814h0M1043 806h0M1035 822h0M1046 815h0M1053 818h0M1052 811h0M1069 802h0M1042 809h0M1067 804h0M1035 818h0M1081 784h0M1054 813h0M1060 794h0M1091 806h0M1115 784h0M1065 792h0M1055 797h0M1058 808h0M1091 780h0M1043 810h0M1035 806h0M1046 819h0M1070 811h0M1093 780h0M1029 830h0M1052 817h0M1078 790h0M1070 819h0M1054 802h0M1085 786h0M1074 790h0M1049 809h0M1043 813h0M1057 798h0" stroke="#000" stroke-width="7.8" stroke-linecap="round" stroke-opacity="0.33" fill="none"/>
<path d="M1076 781h0M1045 803h0M1036 814h0M1055 807h0M1048 804h0M1082 808h0M1039 815h0M1067 814h0M1040 815h0M1055 812h0M1043 817h0M1064 798h0M1063 800h0M1058 808h0M1055 827h0M1055 809h0M1055 809h0M1038 826h0M1054 813h0M1073 798h0M1067 795h0M1058 796h0M1059 830h0M1061 798h0M1068 803h0M1064 808h0M1076 795h0M1080 797h0M1075 801h0M1067 792h0M1068 780h0M1060 802h0M1029 827h0M1065 816h0M1067 798h0M1088 797h0M1073 806h0" stroke="#000" stroke-width="7.8" stroke-linecap="round" stroke-opacity="0.33" fill="none"/>
<line x1="981.5" y1="831.1" x2="1167.35" y2="762.71" stroke="#000" stroke-width="2" />
<path d="M981.5 704.35V890.2H1167.35M981.5 877.81h3.2M993.89 890.2v-3.2M981.5 865.42h3.2M1006.28 890.2v-3.2M981.5 853.03h3.2M1018.67 890.2v-3.2M981.5 840.64h3.2M1031.06 890.2v-3.2M981.5 828.25h3.2M1043.45 890.2v-3.2M981.5 815.86h3.2M1055.84 890.2v-3.2M981.5 803.47h3.2M1068.23 890.2v-3.2M981.5 791.08h3.2M1080.62 890.2v-3.2M981.5 778.69h3.2M1093.01 890.2v-3.2M981.5 766.3h3.2M1105.4 890.2v-3.2M981.5 753.91h3.2M1117.79 890.2v-3.2M981.5 741.52h3.2M1130.18 890.2v-3.2M981.5 729.13h3.2M1142.57 890.2v-3.2M981.5 716.74h3.2M1154.96 890.2v-3.2M981.5 704.35h3.2M1167.35 890.2v-3.2" stroke="#262626" stroke-width="1.6" fill="none"/>
<text x="995.5" y="722.8" font-size="23.5" fill="#000" font-style="italic" textLength="181.5" lengthAdjust="spacingAndGlyphs">Fitting R = 0.622</text>
<text x="972.95" y="714.65" font-size="24" fill="#000" text-anchor="end" textLength="14.41" lengthAdjust="spacingAndGlyphs">1</text>
<text x="975.7" y="778.4" font-size="24" fill="#000" text-anchor="end" textLength="36.03" lengthAdjust="spacingAndGlyphs">0.5</text>
<text x="975.7" y="840.35" font-size="24" fill="#000" text-anchor="end" textLength="14.41" lengthAdjust="spacingAndGlyphs">0</text>
<text x="975.7" y="901.6" font-size="24" fill="#000" text-anchor="end" textLength="44.66" lengthAdjust="spacingAndGlyphs">-0.5</text>
<text x="981.5" y="921" font-size="24" fill="#000" text-anchor="middle" textLength="44.66" lengthAdjust="spacingAndGlyphs">-0.5</text>
<text x="1043.45" y="921" font-size="24" fill="#000" text-anchor="middle" textLength="14.41" lengthAdjust="spacingAndGlyphs">0</text>
<text x="1105.4" y="921" font-size="24" fill="#000" text-anchor="middle" textLength="36.03" lengthAdjust="spacingAndGlyphs">0.5</text>
<text x="1165.45" y="921" font-size="24" fill="#000" text-anchor="middle" textLength="14.41" lengthAdjust="spacingAndGlyphs">1</text>
<path d="M1276 565h0M1291 560h0M1283 564h0M1276 565h0M1268 577h0M1286 567h0M1255 573h0M1264 578h0M1311 550h0M1253 577h0M1295 554h0M1299 561h0M1273 569h0M1318 556h0M1278 566h0M1303 553h0M1296 555h0M1253 577h0M1267 570h0M1250 573h0M1272 570h0M1264 572h0M1283 563h0M1270 570h0M1260 579h0M1261 574h0M1282 561h0M1263 568h0M1284 557h0M1270 568h0M1264 573h0M1274 566h0M1277 563h0M1321 551h0M1264 575h0M1266 566h0M1272 566h0" stroke="#000" stroke-width="7.8" stroke-linecap="round" stroke-opacity="0.33" fill="none"/>
<path d="M1260 576h0M1267 572h0M1285 564h0M1272 570h0M1264 575h0M1290 562h0M1269 571h0M1271 572h0M1264 579h0M1265 564h0M1309 546h0M1259 582h0M1272 567h0M1288 558h0M1262 573h0M1254 578h0M1281 565h0M1283 566h0M1290 558h0M1278 558h0M1252 569h0M1293 563h0M1282 559h0M1300 554h0M1272 563h0M1278 561h0M1260 580h0M1270 560h0M1294 557h0M1283 555h0M1268 577h0M1277 564h0M1295 552h0M1266 567h0M1267 572h0M1294 557h0M1258 584h0" stroke="#000" stroke-width="7.8" stroke-linecap="round" stroke-opacity="0.33" fill="none"/>
<path d="M1296 557h0M1297 550h0M1288 561h0M1272 574h0M1267 572h0M1282 564h0M1284 563h0M1251 587h0M1271 570h0M1294 557h0M1276 566h0M1284 568h0M1256 575h0M1281 567h0M1287 562h0M1269 571h0M1294 557h0M1271 565h0M1276 569h0M1262 575h0M1264 573h0M1271 569h0M1283 564h0M1272 579h0M1274 574h0M1281 567h0M1270 566h0M1289 557h0M1284 556h0M1272 567h0M1270 570h0M1278 565h0M1275 571h0M1274 567h0M1301 560h0M1264 571h0M1271 569h0" stroke="#000" stroke-width="7.8" stroke-linecap="round" stroke-opacity="0.33" fill="none"/>
<path d="M1291 558h0M1267 565h0M1262 575h0M1268 567h0M1260 576h0M1267 573h0M1290 558h0M1269 571h0M1319 549h0M1282 560h0M1272 569h0M1281 571h0M1303 557h0M1282 566h0M1270 569h0M1247 581h0M1279 569h0M1279 568h0M1289 558h0M1322 559h0M1278 564h0M1293 550h0M1273 574h0M1297 561h0M1305 549h0M1290 556h0M1256 572h0M1273 569h0M1282 566h0M1283 564h0M1289 564h0M1253 574h0M1284 559h0M1277 568h0M1286 563h0M1282 570h0M1293 559h0" stroke="#000" stroke-width="7.8" stroke-linecap="round" stroke-opacity="0.33" fill="none"/>
<path d="M1272 564h0M1263 573h0M1288 558h0M1270 570h0M1286 558h0M1259 570h0M1280 564h0M1289 554h0M1269 566h0M1278 573h0M1276 570h0M1312 550h0M1269 573h0M1284 563h0M1277 565h0M1273 573h0M1269 570h0M1283 566h0M1264 570h0M1278 562h0M1274 565h0M1262 560h0M1271 574h0M1272 574h0M1266 574h0M1295 559h0M1292 561h0M1263 572h0M1282 567h0M1252 574h0M1270 572h0M1279 558h0M1290 555h0M1258 578h0M1278 561h0M1282 565h0M1263 579h0" stroke="#000" stroke-width="7.8" stroke-linecap="round" stroke-opacity="0.33" fill="none"/>
<path d="M1280 571h0M1266 561h0M1301 552h0M1286 557h0M1281 562h0M1265 561h0M1283 565h0M1288 555h0M1262 573h0M1278 566h0M1274 570h0M1307 545h0M1275 563h0M1266 567h0M1289 559h0M1289 558h0M1275 571h0M1282 566h0M1285 560h0M1263 573h0M1265 577h0M1285 558h0M1268 567h0M1257 581h0M1271 575h0M1270 570h0M1259 574h0M1238 581h0M1278 567h0M1288 568h0M1269 573h0M1272 562h0M1254 583h0M1266 572h0M1266 572h0M1262 564h0M1268 568h0" stroke="#000" stroke-width="7.8" stroke-linecap="round" stroke-opacity="0.33" fill="none"/>
<path d="M1328 536h0M1281 563h0M1260 567h0M1277 570h0M1277 562h0M1266 567h0M1264 571h0M1275 559h0M1262 573h0M1272 573h0M1288 567h0M1290 563h0M1250 576h0M1285 561h0M1304 552h0M1260 566h0M1260 568h0M1299 554h0M1282 555h0M1277 571h0M1254 571h0M1256 574h0M1260 573h0M1278 565h0M1299 552h0M1271 566h0M1286 565h0M1287 565h0M1293 554h0M1255 575h0M1268 567h0M1280 565h0M1294 558h0M1268 573h0M1265 578h0M1271 574h0M1285 566h0" stroke="#000" stroke-width="7.8" stroke-linecap="round" stroke-opacity="0.33" fill="none"/>
<path d="M1275 564h0M1269 566h0M1264 574h0M1258 573h0M1289 565h0M1277 565h0M1277 572h0M1288 572h0M1268 573h0M1274 566h0M1266 573h0M1261 577h0M1277 572h0M1252 574h0M1278 566h0M1292 564h0M1282 568h0M1264 569h0M1285 558h0M1299 564h0M1257 572h0M1270 571h0M1256 582h0M1289 556h0M1268 573h0M1282 559h0M1286 556h0M1292 556h0M1291 560h0M1248 583h0M1270 565h0M1326 536h0M1274 561h0M1281 567h0M1286 558h0M1267 572h0M1275 569h0" stroke="#000" stroke-width="7.8" stroke-linecap="round" stroke-opacity="0.33" fill="none"/>
<path d="M1309 548h0M1243 576h0M1260 571h0M1252 580h0M1290 559h0M1254 574h0M1282 567h0M1255 581h0M1265 570h0M1287 565h0M1267 567h0M1269 569h0M1278 563h0M1271 571h0M1281 563h0M1258 575h0M1251 578h0M1277 565h0M1267 565h0M1260 572h0M1276 573h0M1261 580h0M1286 557h0M1249 580h0M1257 586h0M1279 575h0M1313 558h0M1277 572h0M1277 564h0M1286 557h0M1301 547h0M1278 559h0M1281 562h0M1268 575h0M1266 578h0M1291 556h0M1261 574h0" stroke="#000" stroke-width="7.8" stroke-linecap="round" stroke-opacity="0.33" fill="none"/>
<path d="M1265 571h0M1267 575h0M1345 532h0M1268 569h0M1273 567h0M1270 568h0M1266 579h0M1267 572h0M1275 573h0M1283 558h0M1271 566h0M1278 565h0M1255 574h0M1295 559h0M1267 574h0M1253 577h0M1269 577h0M1307 556h0M1275 566h0M1305 553h0M1272 564h0M1289 560h0M1264 569h0M1277 568h0M1275 563h0M1296 554h0M1266 573h0M1293 562h0M1280 570h0M1243 586h0M1263 580h0M1251 579h0M1268 570h0M1264 576h0M1267 576h0M1284 566h0M1288 564h0" stroke="#000" stroke-width="7.8" stroke-linecap="round" stroke-opacity="0.33" fill="none"/>
<path d="M1332 541h0M1265 570h0M1266 575h0M1282 568h0M1284 565h0M1266 571h0M1264 580h0M1279 560h0M1290 559h0M1248 579h0M1284 569h0M1277 569h0M1285 563h0M1258 569h0M1283 562h0M1279 575h0M1247 581h0M1289 565h0M1251 578h0M1260 575h0M1260 567h0M1268 579h0M1256 576h0M1297 553h0M1278 568h0M1289 559h0M1264 561h0M1281 570h0M1282 565h0M1285 560h0M1297 559h0M1271 573h0M1305 549h0M1270 574h0M1267 573h0M1265 575h0M1261 568h0" stroke="#000" stroke-width="7.8" stroke-linecap="round" stroke-opacity="0.33" fill="none"/>
<path d="M1308 550h0M1292 561h0M1298 560h0M1283 559h0M1273 576h0M1266 569h0M1283 561h0M1254 581h0M1307 552h0M1277 568h0M1277 573h0M1296 550h0M1263 572h0M1276 569h0M1264 577h0M1266 577h0M1281 563h0M1261 579h0M1268 573h0M1268 570h0M1286 552h0M1265 573h0M1292 563h0M1288 560h0M1276 571h0M1280 569h0M1276 569h0M1258 571h0M1256 571h0M1274 572h0M1268 569h0M1282 567h0M1275 577h0M1261 575h0M1268 571h0M1267 572h0M1251 580h0" stroke="#000" stroke-width="7.8" stroke-linecap="round" stroke-opacity="0.33" fill="none"/>
<path d="M1290 560h0M1268 563h0M1312 539h0M1268 567h0M1269 571h0M1268 573h0M1268 572h0M1274 566h0M1286 568h0M1302 555h0M1293 559h0M1265 579h0M1288 552h0M1287 559h0M1291 560h0M1276 566h0M1266 572h0M1260 576h0M1275 565h0M1267 575h0M1273 576h0M1309 555h0M1288 554h0M1250 583h0M1269 573h0M1288 554h0M1296 557h0M1270 574h0M1252 579h0M1278 571h0M1273 564h0M1276 569h0M1261 572h0M1263 574h0M1284 571h0M1267 574h0M1304 552h0" stroke="#000" stroke-width="7.8" stroke-linecap="round" stroke-opacity="0.33" fill="none"/>
<path d="M1259 576h0M1295 561h0M1280 567h0M1254 581h0M1255 575h0M1315 559h0M1272 575h0M1326 545h0M1298 552h0M1248 584h0M1263 580h0M1288 564h0M1245 584h0M1257 576h0M1283 567h0M1321 562h0M1281 568h0M1270 571h0M1282 563h0M1272 566h0M1268 562h0M1287 557h0M1271 569h0M1281 573h0M1270 568h0M1264 574h0M1266 571h0M1280 566h0M1269 573h0M1273 566h0M1266 571h0M1285 563h0M1269 566h0M1296 562h0M1279 563h0M1279 573h0" stroke="#000" stroke-width="7.8" stroke-linecap="round" stroke-opacity="0.33" fill="none"/>
<line x1="1198.3" y1="602.64" x2="1384.15" y2="527.81" stroke="#000" stroke-width="2" />
<path d="M1198.3 449.75V635.6H1384.15M1198.3 623.21h3.2M1210.69 635.6v-3.2M1198.3 610.82h3.2M1223.08 635.6v-3.2M1198.3 598.43h3.2M1235.47 635.6v-3.2M1198.3 586.04h3.2M1247.86 635.6v-3.2M1198.3 573.65h3.2M1260.25 635.6v-3.2M1198.3 561.26h3.2M1272.64 635.6v-3.2M1198.3 548.87h3.2M1285.03 635.6v-3.2M1198.3 536.48h3.2M1297.42 635.6v-3.2M1198.3 524.09h3.2M1309.81 635.6v-3.2M1198.3 511.7h3.2M1322.2 635.6v-3.2M1198.3 499.31h3.2M1334.59 635.6v-3.2M1198.3 486.92h3.2M1346.98 635.6v-3.2M1198.3 474.53h3.2M1359.37 635.6v-3.2M1198.3 462.14h3.2M1371.76 635.6v-3.2M1198.3 449.75h3.2M1384.15 635.6v-3.2" stroke="#262626" stroke-width="1.6" fill="none"/>
<text x="1214.5" y="466.2" font-size="23.5" fill="#000" font-style="italic" textLength="181.5" lengthAdjust="spacingAndGlyphs">Fitting R = 0.638</text>
<path d="M1270 829h0M1281 818h0M1274 830h0M1294 799h0M1254 827h0M1274 817h0M1247 831h0M1277 819h0M1271 825h0M1265 822h0M1264 828h0M1248 837h0M1258 822h0M1250 826h0M1268 829h0M1263 834h0M1269 826h0M1259 838h0M1265 816h0M1258 835h0M1266 829h0M1269 821h0M1272 816h0M1284 815h0M1251 831h0M1254 830h0M1293 788h0M1285 805h0M1288 807h0M1288 808h0M1259 825h0M1267 834h0M1253 829h0M1279 810h0M1271 827h0M1267 839h0" stroke="#000" stroke-width="7.8" stroke-linecap="round" stroke-opacity="0.33" fill="none"/>
<path d="M1261 824h0M1270 819h0M1277 819h0M1257 828h0M1272 829h0M1250 833h0M1272 820h0M1265 829h0M1266 830h0M1257 825h0M1260 830h0M1262 837h0M1328 791h0M1275 812h0M1257 828h0M1270 813h0M1264 834h0M1265 829h0M1271 824h0M1280 805h0M1297 790h0M1279 813h0M1266 831h0M1251 832h0M1278 820h0M1268 823h0M1262 827h0M1260 834h0M1270 825h0M1304 812h0M1277 823h0M1280 823h0M1265 826h0M1265 825h0M1279 824h0M1275 824h0" stroke="#000" stroke-width="7.8" stroke-linecap="round" stroke-opacity="0.33" fill="none"/>
<path d="M1277 825h0M1263 826h0M1281 825h0M1269 822h0M1258 828h0M1274 806h0M1277 813h0M1280 821h0M1273 826h0M1288 808h0M1261 822h0M1272 817h0M1265 817h0M1258 833h0M1252 832h0M1256 830h0M1287 811h0M1258 836h0M1253 833h0M1278 820h0M1262 830h0M1283 822h0M1280 817h0M1280 813h0M1252 837h0M1278 820h0M1271 819h0M1247 838h0M1255 832h0M1264 834h0M1271 830h0M1274 806h0M1263 828h0M1260 835h0M1290 807h0M1256 838h0" stroke="#000" stroke-width="7.8" stroke-linecap="round" stroke-opacity="0.33" fill="none"/>
<path d="M1272 822h0M1284 808h0M1273 825h0M1251 828h0M1257 826h0M1272 818h0M1265 826h0M1282 795h0M1279 816h0M1252 836h0M1274 797h0M1279 808h0M1243 843h0M1267 822h0M1274 819h0M1260 830h0M1275 817h0M1277 817h0M1259 825h0M1250 836h0M1258 829h0M1271 829h0M1277 824h0M1263 826h0M1285 825h0M1266 825h0M1277 823h0M1265 829h0M1266 830h0M1263 828h0M1288 808h0M1273 820h0M1267 825h0M1271 821h0M1279 819h0M1279 818h0" stroke="#000" stroke-width="7.8" stroke-linecap="round" stroke-opacity="0.33" fill="none"/>
<path d="M1279 817h0M1266 825h0M1279 820h0M1246 835h0M1263 820h0M1267 826h0M1271 827h0M1260 829h0M1268 832h0M1269 819h0M1271 811h0M1255 831h0M1260 834h0M1307 787h0M1274 817h0M1268 829h0M1276 796h0M1278 820h0M1274 816h0M1260 827h0M1266 828h0M1267 821h0M1270 818h0M1258 833h0M1297 800h0M1268 834h0M1282 824h0M1263 829h0M1273 825h0M1278 807h0M1264 828h0M1273 813h0M1264 826h0M1262 831h0M1284 813h0M1266 831h0" stroke="#000" stroke-width="7.8" stroke-linecap="round" stroke-opacity="0.33" fill="none"/>
<path d="M1295 799h0M1257 827h0M1251 834h0M1303 798h0M1267 821h0M1272 814h0M1283 812h0M1271 815h0M1269 824h0M1287 818h0M1276 815h0M1266 823h0M1277 818h0M1266 817h0M1256 824h0M1276 820h0M1292 807h0M1262 831h0M1285 827h0M1269 823h0M1271 821h0M1271 826h0M1293 798h0M1265 819h0M1266 818h0M1260 826h0M1287 817h0M1262 823h0M1285 810h0M1275 824h0M1307 796h0M1277 829h0M1281 820h0M1263 838h0M1270 819h0M1268 824h0" stroke="#000" stroke-width="7.8" stroke-linecap="round" stroke-opacity="0.33" fill="none"/>
<path d="M1247 845h0M1279 817h0M1266 824h0M1284 810h0M1257 827h0M1267 827h0M1267 824h0M1263 831h0M1279 819h0M1264 839h0M1269 820h0M1322 801h0M1285 811h0M1279 816h0M1258 833h0M1263 832h0M1285 801h0M1268 828h0M1278 816h0M1261 824h0M1269 822h0M1270 827h0M1276 817h0M1262 823h0M1309 795h0M1247 826h0M1270 829h0M1285 797h0M1274 818h0M1266 831h0M1261 820h0M1275 813h0M1271 823h0M1278 819h0M1276 830h0M1278 817h0" stroke="#000" stroke-width="7.8" stroke-linecap="round" stroke-opacity="0.33" fill="none"/>
<path d="M1281 813h0M1257 830h0M1274 830h0M1266 823h0M1270 810h0M1278 814h0M1259 828h0M1267 824h0M1275 825h0M1265 821h0M1300 798h0M1275 821h0M1254 828h0M1259 839h0M1283 815h0M1263 818h0M1287 809h0M1288 818h0M1260 832h0M1282 797h0M1266 809h0M1272 822h0M1266 822h0M1260 821h0M1290 806h0M1268 827h0M1288 787h0M1256 845h0M1250 841h0M1266 839h0M1286 800h0M1252 839h0M1268 829h0M1268 812h0M1266 821h0" stroke="#000" stroke-width="7.8" stroke-linecap="round" stroke-opacity="0.33" fill="none"/>
<path d="M1273 814h0M1263 827h0M1261 825h0M1301 799h0M1256 817h0M1263 828h0M1262 828h0M1259 823h0M1289 806h0M1264 830h0M1276 818h0M1253 836h0M1280 815h0M1256 835h0M1276 824h0M1265 824h0M1276 829h0M1263 824h0M1264 829h0M1274 828h0M1272 820h0M1268 830h0M1265 825h0M1275 820h0M1270 817h0M1264 829h0M1264 824h0M1275 824h0M1266 822h0M1271 827h0M1266 818h0M1262 828h0M1257 815h0M1288 817h0M1268 818h0" stroke="#000" stroke-width="7.8" stroke-linecap="round" stroke-opacity="0.33" fill="none"/>
<path d="M1272 825h0M1281 816h0M1262 831h0M1261 844h0M1259 830h0M1263 830h0M1267 828h0M1268 834h0M1255 831h0M1256 827h0M1280 804h0M1266 835h0M1296 802h0M1267 830h0M1277 816h0M1274 826h0M1268 821h0M1300 796h0M1257 831h0M1264 829h0M1272 824h0M1287 814h0M1314 803h0M1287 814h0M1286 802h0M1272 820h0M1270 824h0M1286 804h0M1251 839h0M1265 830h0M1274 820h0M1272 818h0M1267 820h0M1273 826h0M1268 826h0" stroke="#000" stroke-width="7.8" stroke-linecap="round" stroke-opacity="0.33" fill="none"/>
<path d="M1289 796h0M1273 825h0M1257 834h0M1284 802h0M1267 822h0M1289 809h0M1268 822h0M1262 831h0M1268 819h0M1307 781h0M1262 820h0M1301 793h0M1250 831h0M1284 802h0M1270 827h0M1287 790h0M1269 820h0M1274 820h0M1278 814h0M1270 822h0M1267 817h0M1272 819h0M1283 824h0M1256 835h0M1278 818h0M1265 828h0M1269 821h0M1265 823h0M1262 834h0M1267 821h0M1270 817h0M1269 827h0M1275 822h0M1251 831h0M1266 828h0" stroke="#000" stroke-width="7.8" stroke-linecap="round" stroke-opacity="0.33" fill="none"/>
<path d="M1260 825h0M1267 828h0M1277 820h0M1272 819h0M1297 776h0M1266 829h0M1273 818h0M1278 823h0M1286 825h0M1291 790h0M1257 836h0M1287 809h0M1267 832h0M1262 823h0M1271 822h0M1264 821h0M1260 836h0M1291 814h0M1254 831h0M1261 829h0M1268 823h0M1258 825h0M1259 829h0M1265 833h0M1255 830h0M1282 805h0M1270 820h0M1273 819h0M1274 824h0M1262 831h0M1303 791h0M1318 772h0M1267 819h0M1283 820h0M1273 813h0" stroke="#000" stroke-width="7.8" stroke-linecap="round" stroke-opacity="0.33" fill="none"/>
<path d="M1255 831h0M1296 818h0M1255 835h0M1267 822h0M1266 829h0M1300 782h0M1258 822h0M1275 816h0M1261 827h0M1269 824h0M1264 821h0M1290 796h0M1260 821h0M1261 826h0M1278 817h0M1286 819h0M1311 795h0M1259 824h0M1288 817h0M1290 809h0M1270 817h0M1261 830h0M1276 821h0M1284 808h0M1259 826h0M1272 825h0M1265 822h0M1282 803h0M1278 828h0M1276 820h0M1293 802h0M1264 825h0M1270 821h0M1266 828h0M1298 811h0" stroke="#000" stroke-width="7.8" stroke-linecap="round" stroke-opacity="0.33" fill="none"/>
<path d="M1268 821h0M1275 825h0M1272 813h0M1273 819h0M1278 809h0M1273 815h0M1269 821h0M1284 815h0M1266 831h0M1271 820h0M1283 809h0M1284 805h0M1267 825h0M1265 819h0M1273 822h0M1273 817h0M1276 818h0M1271 821h0M1275 820h0M1263 822h0M1279 818h0M1277 819h0M1250 833h0M1268 826h0M1244 844h0M1253 832h0M1295 810h0M1256 832h0M1262 834h0M1275 822h0M1264 822h0M1270 819h0M1267 828h0M1284 810h0M1312 787h0" stroke="#000" stroke-width="7.8" stroke-linecap="round" stroke-opacity="0.33" fill="none"/>
<line x1="1198.3" y1="873.35" x2="1384.15" y2="758.25" stroke="#000" stroke-width="2" />
<path d="M1198.3 704.35V890.2H1384.15M1198.3 877.81h3.2M1210.69 890.2v-3.2M1198.3 865.42h3.2M1223.08 890.2v-3.2M1198.3 853.03h3.2M1235.47 890.2v-3.2M1198.3 840.64h3.2M1247.86 890.2v-3.2M1198.3 828.25h3.2M1260.25 890.2v-3.2M1198.3 815.86h3.2M1272.64 890.2v-3.2M1198.3 803.47h3.2M1285.03 890.2v-3.2M1198.3 791.08h3.2M1297.42 890.2v-3.2M1198.3 778.69h3.2M1309.81 890.2v-3.2M1198.3 766.3h3.2M1322.2 890.2v-3.2M1198.3 753.91h3.2M1334.59 890.2v-3.2M1198.3 741.52h3.2M1346.98 890.2v-3.2M1198.3 729.13h3.2M1359.37 890.2v-3.2M1198.3 716.74h3.2M1371.76 890.2v-3.2M1198.3 704.35h3.2M1384.15 890.2v-3.2" stroke="#262626" stroke-width="1.6" fill="none"/>
<text x="1211" y="722.5" font-size="23.5" fill="#000" font-style="italic" textLength="180" lengthAdjust="spacingAndGlyphs">Fitting R = 0.721</text>
<text x="1198.3" y="921" font-size="24" fill="#000" text-anchor="middle" textLength="44.66" lengthAdjust="spacingAndGlyphs">-0.5</text>
<text x="1260.25" y="921" font-size="24" fill="#000" text-anchor="middle" textLength="14.41" lengthAdjust="spacingAndGlyphs">0</text>
<text x="1322.2" y="921" font-size="24" fill="#000" text-anchor="middle" textLength="36.03" lengthAdjust="spacingAndGlyphs">0.5</text>
<text x="1382.25" y="921" font-size="24" fill="#000" text-anchor="middle" textLength="14.41" lengthAdjust="spacingAndGlyphs">1</text>
<path d="M1476 570h0M1455 573h0M1464 571h0M1450 551h0M1493 566h0M1521 565h0M1483 567h0M1486 566h0M1508 560h0M1487 560h0M1452 573h0M1519 545h0M1491 573h0M1460 570h0M1474 568h0M1492 573h0M1491 567h0M1528 536h0M1507 543h0M1464 567h0M1429 549h0M1449 567h0M1498 562h0M1518 572h0M1513 544h0M1459 565h0M1497 556h0M1492 572h0M1431 562h0M1469 570h0M1491 556h0M1501 565h0M1472 567h0M1464 568h0M1461 567h0M1505 556h0M1540 522h0M1492 568h0M1484 559h0M1509 569h0M1480 560h0M1501 566h0M1486 568h0" stroke="#000" stroke-width="7.8" stroke-linecap="round" stroke-opacity="0.33" fill="none"/>
<path d="M1462 569h0M1490 560h0M1488 573h0M1498 566h0M1489 566h0M1504 561h0M1525 522h0M1478 574h0M1472 567h0M1507 534h0M1471 574h0M1500 556h0M1450 568h0M1472 575h0M1479 567h0M1459 572h0M1465 565h0M1492 559h0M1483 569h0M1480 577h0M1490 526h0M1486 564h0M1492 562h0M1471 565h0M1493 573h0M1527 554h0M1465 568h0M1487 565h0M1475 566h0M1475 576h0M1508 555h0M1493 565h0M1440 567h0M1518 560h0M1467 565h0M1522 545h0M1504 554h0M1503 561h0M1476 551h0M1490 566h0M1475 563h0M1453 559h0M1478 564h0" stroke="#000" stroke-width="7.8" stroke-linecap="round" stroke-opacity="0.33" fill="none"/>
<path d="M1484 570h0M1481 572h0M1467 563h0M1480 570h0M1501 566h0M1514 551h0M1464 558h0M1488 570h0M1487 572h0M1471 569h0M1467 565h0M1483 573h0M1496 574h0M1478 568h0M1507 559h0M1481 567h0M1494 566h0M1474 573h0M1508 556h0M1476 567h0M1497 563h0M1492 569h0M1541 529h0M1471 572h0M1509 571h0M1480 572h0M1496 568h0M1506 568h0M1484 564h0M1476 568h0M1521 550h0M1468 564h0M1519 569h0M1482 565h0M1480 572h0M1435 561h0M1486 562h0M1462 556h0M1526 551h0M1465 572h0M1490 568h0M1480 576h0" stroke="#000" stroke-width="7.8" stroke-linecap="round" stroke-opacity="0.33" fill="none"/>
<path d="M1502 562h0M1446 567h0M1508 570h0M1475 558h0M1467 571h0M1544 527h0M1472 568h0M1482 563h0M1525 564h0M1474 576h0M1491 565h0M1483 572h0M1465 572h0M1488 566h0M1482 569h0M1463 572h0M1508 575h0M1468 564h0M1477 568h0M1461 570h0M1475 561h0M1468 567h0M1491 571h0M1507 543h0M1488 562h0M1474 570h0M1482 528h0M1476 567h0M1476 572h0M1476 566h0M1511 558h0M1474 575h0M1491 561h0M1509 544h0M1496 568h0M1465 579h0M1497 569h0M1475 563h0M1479 568h0M1474 569h0M1497 567h0M1478 576h0" stroke="#000" stroke-width="7.8" stroke-linecap="round" stroke-opacity="0.33" fill="none"/>
<path d="M1482 571h0M1467 562h0M1495 567h0M1476 570h0M1479 561h0M1482 572h0M1462 564h0M1508 572h0M1482 566h0M1482 569h0M1482 573h0M1470 564h0M1479 568h0M1485 566h0M1473 563h0M1520 545h0M1445 561h0M1465 564h0M1476 569h0M1496 566h0M1510 570h0M1467 569h0M1509 549h0M1476 572h0M1466 566h0M1472 567h0M1513 527h0M1462 549h0M1445 555h0M1520 569h0M1469 562h0M1491 575h0M1489 571h0M1455 574h0M1489 568h0M1499 547h0M1456 571h0M1475 564h0M1446 576h0M1490 559h0M1471 573h0M1501 551h0" stroke="#000" stroke-width="7.8" stroke-linecap="round" stroke-opacity="0.33" fill="none"/>
<path d="M1501 577h0M1483 568h0M1462 566h0M1483 563h0M1468 575h0M1488 575h0M1494 564h0M1477 564h0M1478 571h0M1514 545h0M1491 567h0M1508 532h0M1487 565h0M1477 564h0M1492 563h0M1484 578h0M1469 576h0M1475 566h0M1479 559h0M1418 549h0M1490 571h0M1485 561h0M1509 565h0M1479 568h0M1476 572h0M1504 553h0M1478 568h0M1482 575h0M1435 556h0M1457 575h0M1491 569h0M1469 564h0M1509 554h0M1456 562h0M1444 565h0M1482 557h0M1442 556h0M1476 565h0M1483 570h0M1486 568h0M1501 565h0M1494 552h0" stroke="#000" stroke-width="7.8" stroke-linecap="round" stroke-opacity="0.33" fill="none"/>
<path d="M1505 561h0M1497 551h0M1488 560h0M1485 567h0M1483 560h0M1480 565h0M1465 571h0M1489 573h0M1472 571h0M1422 562h0M1473 569h0M1487 565h0M1516 560h0M1470 572h0M1474 566h0M1493 564h0M1484 572h0M1472 539h0M1483 569h0M1501 542h0M1468 565h0M1505 564h0M1493 565h0M1471 571h0M1490 573h0M1475 566h0M1454 565h0M1490 560h0M1486 568h0M1489 564h0M1469 562h0M1482 564h0M1466 576h0M1508 543h0M1477 566h0M1473 574h0M1474 569h0M1472 571h0M1496 546h0M1466 564h0M1529 512h0M1531 558h0" stroke="#000" stroke-width="7.8" stroke-linecap="round" stroke-opacity="0.33" fill="none"/>
<path d="M1507 541h0M1464 568h0M1487 567h0M1503 564h0M1506 568h0M1491 566h0M1469 565h0M1485 561h0M1473 569h0M1474 566h0M1482 570h0M1525 548h0M1521 565h0M1509 570h0M1493 571h0M1472 572h0M1520 544h0M1492 573h0M1509 566h0M1452 564h0M1475 553h0M1450 573h0M1491 565h0M1462 557h0M1483 569h0M1488 576h0M1471 558h0M1489 564h0M1494 557h0M1467 566h0M1513 538h0M1470 562h0M1510 556h0M1466 574h0M1509 569h0M1499 567h0M1496 570h0M1517 541h0M1486 558h0M1503 554h0M1459 561h0M1495 558h0" stroke="#000" stroke-width="7.8" stroke-linecap="round" stroke-opacity="0.33" fill="none"/>
<path d="M1492 561h0M1517 542h0M1482 563h0M1491 552h0M1515 539h0M1446 569h0M1489 564h0M1495 552h0M1496 569h0M1479 559h0M1492 542h0M1532 558h0M1475 569h0M1474 570h0M1522 536h0M1467 548h0M1504 574h0M1461 562h0M1473 575h0M1470 573h0M1494 568h0M1475 548h0M1492 568h0M1511 545h0M1527 545h0M1456 550h0M1466 563h0M1497 554h0M1492 570h0M1494 568h0M1472 559h0M1492 559h0M1483 570h0M1465 565h0M1520 549h0M1469 560h0M1461 551h0M1513 548h0M1465 571h0M1484 561h0M1499 574h0M1499 565h0" stroke="#000" stroke-width="7.8" stroke-linecap="round" stroke-opacity="0.33" fill="none"/>
<path d="M1468 579h0M1461 558h0M1477 564h0M1485 577h0M1444 567h0M1479 578h0M1491 563h0M1469 563h0M1490 542h0M1459 567h0M1514 565h0M1504 539h0M1474 567h0M1486 568h0M1482 572h0M1505 550h0M1515 569h0M1462 563h0M1442 550h0M1502 556h0M1480 576h0M1497 565h0M1481 556h0M1476 570h0M1464 557h0M1475 563h0M1527 564h0M1471 565h0M1487 567h0M1502 568h0M1438 557h0M1491 542h0M1509 560h0M1464 569h0M1481 570h0M1466 568h0M1456 569h0M1470 569h0M1487 565h0M1496 565h0M1461 568h0M1433 556h0" stroke="#000" stroke-width="7.8" stroke-linecap="round" stroke-opacity="0.33" fill="none"/>
<path d="M1470 572h0M1508 546h0M1466 569h0M1503 565h0M1470 566h0M1452 569h0M1494 568h0M1431 549h0M1481 567h0M1514 564h0M1489 567h0M1471 569h0M1503 567h0M1448 575h0M1458 569h0M1491 560h0M1499 562h0M1467 567h0M1497 547h0M1452 542h0M1461 576h0M1515 558h0M1507 532h0M1478 570h0M1481 571h0M1504 565h0M1537 552h0M1491 568h0M1492 564h0M1456 564h0M1471 569h0M1462 573h0M1478 571h0M1494 573h0M1479 568h0M1520 559h0M1464 569h0M1467 574h0M1481 569h0M1461 559h0M1490 563h0M1441 565h0" stroke="#000" stroke-width="7.8" stroke-linecap="round" stroke-opacity="0.33" fill="none"/>
<path d="M1454 568h0M1530 553h0M1494 530h0M1480 566h0M1491 570h0M1448 571h0M1496 559h0M1487 548h0M1492 576h0M1495 564h0M1465 567h0M1507 573h0M1509 567h0M1494 565h0M1472 570h0M1489 569h0M1497 569h0M1466 572h0M1476 561h0M1499 551h0M1485 567h0M1444 548h0M1534 540h0M1468 575h0M1474 570h0M1485 571h0M1486 546h0M1507 557h0M1493 568h0M1453 574h0M1481 570h0M1499 557h0M1535 515h0M1457 568h0M1483 570h0M1488 559h0M1481 563h0M1482 568h0M1470 561h0M1481 565h0M1477 572h0M1482 572h0" stroke="#000" stroke-width="7.8" stroke-linecap="round" stroke-opacity="0.33" fill="none"/>
<path d="M1472 561h0M1463 567h0M1494 578h0M1522 561h0M1500 563h0M1470 565h0M1490 568h0M1510 572h0M1460 557h0M1514 539h0M1527 550h0M1480 559h0M1471 575h0M1480 557h0M1480 565h0M1468 568h0M1486 571h0M1501 554h0M1498 574h0M1477 558h0M1453 566h0M1477 573h0M1479 549h0M1473 560h0M1487 560h0M1475 571h0M1480 563h0M1475 566h0M1486 568h0M1472 562h0M1489 575h0M1462 574h0M1491 575h0M1476 566h0M1474 573h0M1491 546h0M1501 567h0M1478 558h0M1508 562h0M1463 569h0M1487 562h0M1519 539h0" stroke="#000" stroke-width="7.8" stroke-linecap="round" stroke-opacity="0.33" fill="none"/>
<path d="M1477 565h0M1456 555h0M1476 560h0M1500 571h0M1486 558h0M1479 567h0M1504 542h0M1467 564h0M1495 567h0M1486 576h0M1477 561h0M1502 556h0M1478 576h0M1476 567h0M1472 565h0M1476 560h0M1502 554h0M1487 568h0M1489 572h0M1458 561h0M1497 572h0M1467 576h0M1508 540h0M1488 571h0M1467 570h0M1484 561h0M1492 558h0M1487 565h0M1476 556h0M1472 566h0M1467 569h0M1447 566h0M1494 561h0M1507 550h0M1485 562h0M1436 572h0M1516 558h0M1483 566h0M1479 568h0M1503 565h0M1472 563h0M1481 569h0" stroke="#000" stroke-width="7.8" stroke-linecap="round" stroke-opacity="0.33" fill="none"/>
<line x1="1413.9" y1="575.63" x2="1599.75" y2="538.46" stroke="#000" stroke-width="2" />
<path d="M1413.9 449.75V635.6H1599.75M1413.9 623.21h3.2M1426.29 635.6v-3.2M1413.9 610.82h3.2M1438.68 635.6v-3.2M1413.9 598.43h3.2M1451.07 635.6v-3.2M1413.9 586.04h3.2M1463.46 635.6v-3.2M1413.9 573.65h3.2M1475.85 635.6v-3.2M1413.9 561.26h3.2M1488.24 635.6v-3.2M1413.9 548.87h3.2M1500.63 635.6v-3.2M1413.9 536.48h3.2M1513.02 635.6v-3.2M1413.9 524.09h3.2M1525.41 635.6v-3.2M1413.9 511.7h3.2M1537.8 635.6v-3.2M1413.9 499.31h3.2M1550.19 635.6v-3.2M1413.9 486.92h3.2M1562.58 635.6v-3.2M1413.9 474.53h3.2M1574.97 635.6v-3.2M1413.9 462.14h3.2M1587.36 635.6v-3.2M1413.9 449.75h3.2M1599.75 635.6v-3.2" stroke="#262626" stroke-width="1.6" fill="none"/>
<text x="1431.6" y="466.2" font-size="23.5" fill="#000" font-style="italic" textLength="181.5" lengthAdjust="spacingAndGlyphs">Fitting R = 0.472</text>
<path d="M1475 826h0M1477 824h0M1458 834h0M1487 817h0M1470 834h0M1465 824h0M1474 827h0M1471 832h0M1474 828h0M1484 839h0M1472 817h0M1522 812h0M1477 833h0M1474 828h0M1494 816h0M1471 831h0M1486 821h0M1463 832h0M1489 830h0M1488 821h0M1473 829h0M1485 820h0M1478 832h0M1470 824h0M1479 833h0M1458 834h0M1481 826h0M1484 820h0M1481 833h0M1478 834h0M1479 831h0M1467 829h0M1468 836h0M1485 826h0M1467 819h0M1493 807h0M1470 835h0M1483 827h0M1478 829h0M1464 834h0M1468 826h0M1466 829h0M1505 821h0M1475 823h0M1483 827h0M1514 820h0M1465 828h0" stroke="#000" stroke-width="7.8" stroke-linecap="round" stroke-opacity="0.33" fill="none"/>
<path d="M1478 828h0M1483 822h0M1476 829h0M1477 828h0M1478 826h0M1472 830h0M1483 828h0M1473 823h0M1462 823h0M1478 824h0M1460 832h0M1487 838h0M1484 831h0M1481 823h0M1477 825h0M1481 825h0M1477 832h0M1478 817h0M1475 825h0M1513 824h0M1485 821h0M1473 831h0M1471 830h0M1479 826h0M1484 826h0M1482 828h0M1479 827h0M1476 829h0M1464 826h0M1472 826h0M1473 830h0M1481 826h0M1474 832h0M1486 827h0M1476 823h0M1500 822h0M1509 807h0M1509 820h0M1484 828h0M1474 828h0M1497 821h0M1464 825h0M1475 829h0M1468 825h0M1485 823h0M1475 829h0M1461 829h0" stroke="#000" stroke-width="7.8" stroke-linecap="round" stroke-opacity="0.33" fill="none"/>
<path d="M1480 821h0M1469 841h0M1480 822h0M1480 832h0M1471 827h0M1478 832h0M1490 821h0M1463 830h0M1472 827h0M1486 827h0M1513 816h0M1483 824h0M1472 827h0M1481 813h0M1468 825h0M1465 838h0M1524 823h0M1464 831h0M1483 829h0M1480 830h0M1481 824h0M1466 831h0M1488 827h0M1471 821h0M1471 823h0M1486 820h0M1475 828h0M1462 829h0M1485 829h0M1489 825h0M1517 814h0M1471 822h0M1457 835h0M1471 831h0M1477 823h0M1467 822h0M1476 828h0M1493 823h0M1468 828h0M1498 815h0M1477 826h0M1505 818h0M1478 828h0M1471 831h0M1476 830h0M1484 820h0M1487 824h0" stroke="#000" stroke-width="7.8" stroke-linecap="round" stroke-opacity="0.33" fill="none"/>
<path d="M1482 825h0M1478 841h0M1481 824h0M1467 830h0M1464 828h0M1484 830h0M1475 833h0M1484 822h0M1467 826h0M1477 836h0M1467 826h0M1474 824h0M1483 825h0M1476 828h0M1483 824h0M1474 826h0M1467 829h0M1471 828h0M1478 836h0M1480 832h0M1522 814h0M1470 824h0M1479 828h0M1484 828h0M1544 807h0M1458 830h0M1474 837h0M1478 834h0M1496 826h0M1486 823h0M1475 828h0M1480 830h0M1473 826h0M1479 823h0M1469 843h0M1481 818h0M1478 826h0M1479 831h0M1462 835h0M1478 815h0M1493 832h0M1497 825h0M1489 825h0M1467 839h0M1474 817h0M1474 822h0" stroke="#000" stroke-width="7.8" stroke-linecap="round" stroke-opacity="0.33" fill="none"/>
<path d="M1483 826h0M1474 827h0M1489 821h0M1473 830h0M1490 831h0M1470 831h0M1472 835h0M1481 825h0M1458 832h0M1464 826h0M1475 837h0M1475 822h0M1459 831h0M1479 820h0M1469 826h0M1484 822h0M1471 825h0M1464 835h0M1478 829h0M1483 829h0M1476 828h0M1485 834h0M1463 837h0M1475 829h0M1478 827h0M1502 816h0M1469 834h0M1479 830h0M1462 828h0M1483 827h0M1471 835h0M1484 826h0M1516 819h0M1473 836h0M1472 824h0M1486 837h0M1480 827h0M1470 826h0M1484 832h0M1479 824h0M1464 826h0M1477 833h0M1455 817h0M1476 830h0M1471 820h0M1491 826h0" stroke="#000" stroke-width="7.8" stroke-linecap="round" stroke-opacity="0.33" fill="none"/>
<path d="M1497 819h0M1503 822h0M1476 837h0M1508 819h0M1480 821h0M1468 826h0M1474 818h0M1496 822h0M1479 817h0M1481 828h0M1515 821h0M1485 817h0M1482 829h0M1481 823h0M1479 829h0M1465 835h0M1502 815h0M1465 831h0M1475 834h0M1473 819h0M1501 828h0M1468 824h0M1483 824h0M1464 833h0M1482 829h0M1476 820h0M1481 818h0M1482 826h0M1488 824h0M1473 824h0M1487 830h0M1470 825h0M1473 831h0M1480 818h0M1466 836h0M1470 822h0M1486 821h0M1480 823h0M1488 824h0M1468 826h0M1466 840h0M1474 829h0M1471 828h0M1472 828h0M1488 823h0M1480 824h0" stroke="#000" stroke-width="7.8" stroke-linecap="round" stroke-opacity="0.33" fill="none"/>
<path d="M1471 832h0M1474 828h0M1478 837h0M1473 824h0M1480 822h0M1504 811h0M1498 827h0M1502 818h0M1503 811h0M1502 826h0M1485 829h0M1472 826h0M1482 830h0M1481 833h0M1460 826h0M1476 835h0M1479 833h0M1491 829h0M1464 823h0M1519 809h0M1531 824h0M1479 831h0M1497 820h0M1491 826h0M1483 832h0M1472 831h0M1479 826h0M1474 831h0M1475 827h0M1476 835h0M1466 831h0M1477 824h0M1489 822h0M1472 830h0M1486 836h0M1466 838h0M1473 833h0M1486 825h0M1502 823h0M1475 831h0M1468 831h0M1472 834h0M1480 831h0M1470 834h0M1481 829h0M1461 828h0" stroke="#000" stroke-width="7.8" stroke-linecap="round" stroke-opacity="0.33" fill="none"/>
<path d="M1479 829h0M1505 809h0M1487 833h0M1473 827h0M1462 835h0M1482 823h0M1479 834h0M1475 832h0M1478 823h0M1469 831h0M1474 822h0M1532 808h0M1497 817h0M1467 828h0M1470 832h0M1471 822h0M1465 837h0M1504 816h0M1467 830h0M1466 839h0M1476 825h0M1473 831h0M1482 826h0M1480 836h0M1478 827h0M1476 821h0M1462 837h0M1474 830h0M1481 824h0M1467 825h0M1503 817h0M1468 835h0M1484 830h0M1474 830h0M1484 825h0M1471 822h0M1473 822h0M1467 818h0M1474 827h0M1461 828h0M1509 808h0M1480 827h0M1466 834h0M1468 832h0M1506 823h0M1492 820h0" stroke="#000" stroke-width="7.8" stroke-linecap="round" stroke-opacity="0.33" fill="none"/>
<path d="M1471 837h0M1478 829h0M1480 823h0M1481 826h0M1468 833h0M1475 826h0M1484 835h0M1469 830h0M1477 837h0M1486 827h0M1475 829h0M1472 836h0M1474 820h0M1470 838h0M1469 827h0M1520 809h0M1471 835h0M1491 831h0M1492 825h0M1482 834h0M1470 825h0M1468 830h0M1473 835h0M1466 828h0M1469 830h0M1517 814h0M1474 830h0M1487 826h0M1472 840h0M1483 830h0M1474 820h0M1476 834h0M1473 823h0M1482 820h0M1460 826h0M1468 838h0M1487 823h0M1474 831h0M1473 829h0M1465 828h0M1463 834h0M1488 822h0M1469 830h0M1469 826h0M1479 833h0M1480 827h0" stroke="#000" stroke-width="7.8" stroke-linecap="round" stroke-opacity="0.33" fill="none"/>
<path d="M1471 833h0M1464 832h0M1468 832h0M1472 827h0M1482 829h0M1467 841h0M1488 816h0M1487 825h0M1483 828h0M1468 828h0M1482 831h0M1509 822h0M1478 816h0M1475 828h0M1474 836h0M1473 820h0M1526 814h0M1487 828h0M1478 830h0M1508 810h0M1481 838h0M1479 825h0M1481 832h0M1488 829h0M1482 823h0M1499 822h0M1487 824h0M1501 827h0M1467 825h0M1498 814h0M1486 830h0M1478 830h0M1485 819h0M1468 834h0M1488 825h0M1473 840h0M1473 829h0M1488 829h0M1472 825h0M1481 821h0M1469 827h0M1460 824h0M1481 828h0M1479 829h0M1464 832h0M1468 824h0" stroke="#000" stroke-width="7.8" stroke-linecap="round" stroke-opacity="0.33" fill="none"/>
<path d="M1479 832h0M1477 826h0M1476 831h0M1473 835h0M1511 812h0M1496 818h0M1476 827h0M1467 826h0M1477 835h0M1490 826h0M1518 818h0M1466 828h0M1476 833h0M1477 827h0M1469 822h0M1476 831h0M1477 828h0M1481 819h0M1476 830h0M1473 831h0M1486 824h0M1482 823h0M1480 826h0M1476 838h0M1476 823h0M1487 837h0M1465 831h0M1489 827h0M1478 830h0M1475 824h0M1489 813h0M1487 827h0M1477 833h0M1471 828h0M1489 817h0M1472 821h0M1508 816h0M1487 826h0M1475 826h0M1479 823h0M1483 830h0M1474 827h0M1477 827h0M1563 805h0M1523 813h0M1476 836h0" stroke="#000" stroke-width="7.8" stroke-linecap="round" stroke-opacity="0.33" fill="none"/>
<path d="M1480 834h0M1482 820h0M1473 836h0M1462 825h0M1478 827h0M1486 827h0M1465 840h0M1478 834h0M1477 828h0M1472 832h0M1494 828h0M1482 822h0M1479 827h0M1507 818h0M1464 828h0M1510 815h0M1477 820h0M1479 833h0M1491 826h0M1466 826h0M1478 826h0M1495 822h0M1482 827h0M1486 826h0M1474 835h0M1479 826h0M1473 829h0M1483 824h0M1482 829h0M1461 823h0M1492 816h0M1480 830h0M1471 832h0M1497 819h0M1511 819h0M1491 824h0M1481 833h0M1459 827h0M1475 830h0M1469 839h0M1485 828h0M1483 831h0M1485 831h0M1481 823h0M1507 821h0M1478 827h0" stroke="#000" stroke-width="7.8" stroke-linecap="round" stroke-opacity="0.33" fill="none"/>
<path d="M1485 830h0M1481 827h0M1477 825h0M1471 823h0M1478 832h0M1482 824h0M1485 831h0M1488 821h0M1483 821h0M1476 822h0M1476 829h0M1472 831h0M1465 822h0M1476 821h0M1480 834h0M1481 831h0M1513 817h0M1478 834h0M1499 818h0M1487 818h0M1490 815h0M1476 829h0M1478 826h0M1479 830h0M1472 827h0M1515 815h0M1473 827h0M1457 837h0M1486 831h0M1489 826h0M1495 821h0M1486 834h0M1484 825h0M1478 828h0M1474 830h0M1483 820h0M1474 824h0M1465 837h0M1476 827h0M1489 830h0M1471 831h0M1465 832h0M1491 827h0M1498 828h0M1464 836h0M1486 828h0" stroke="#000" stroke-width="7.8" stroke-linecap="round" stroke-opacity="0.33" fill="none"/>
<path d="M1470 829h0M1488 828h0M1472 831h0M1470 837h0M1484 822h0M1473 829h0M1503 818h0M1486 822h0M1461 841h0M1469 828h0M1481 831h0M1481 823h0M1464 832h0M1466 829h0M1484 823h0M1472 831h0M1481 822h0M1484 828h0M1490 819h0M1474 827h0M1439 820h0M1480 829h0M1498 816h0M1469 826h0M1481 825h0M1481 832h0M1486 831h0M1458 829h0M1476 825h0M1475 839h0M1476 828h0M1481 829h0M1486 832h0M1496 817h0M1519 813h0M1466 830h0M1477 816h0M1469 832h0M1507 818h0M1475 834h0M1474 823h0M1479 824h0M1482 828h0M1465 826h0M1480 827h0M1475 830h0" stroke="#000" stroke-width="7.8" stroke-linecap="round" stroke-opacity="0.33" fill="none"/>
<line x1="1413.9" y1="845.22" x2="1599.75" y2="798.89" stroke="#000" stroke-width="2" />
<path d="M1413.9 704.35V890.2H1599.75M1413.9 877.81h3.2M1426.29 890.2v-3.2M1413.9 865.42h3.2M1438.68 890.2v-3.2M1413.9 853.03h3.2M1451.07 890.2v-3.2M1413.9 840.64h3.2M1463.46 890.2v-3.2M1413.9 828.25h3.2M1475.85 890.2v-3.2M1413.9 815.86h3.2M1488.24 890.2v-3.2M1413.9 803.47h3.2M1500.63 890.2v-3.2M1413.9 791.08h3.2M1513.02 890.2v-3.2M1413.9 778.69h3.2M1525.41 890.2v-3.2M1413.9 766.3h3.2M1537.8 890.2v-3.2M1413.9 753.91h3.2M1550.19 890.2v-3.2M1413.9 741.52h3.2M1562.58 890.2v-3.2M1413.9 729.13h3.2M1574.97 890.2v-3.2M1413.9 716.74h3.2M1587.36 890.2v-3.2M1413.9 704.35h3.2M1599.75 890.2v-3.2" stroke="#262626" stroke-width="1.6" fill="none"/>
<text x="1432" y="722.5" font-size="23.5" fill="#000" font-style="italic" textLength="181" lengthAdjust="spacingAndGlyphs">Fitting R = 0.525</text>
<text x="1413.9" y="921" font-size="24" fill="#000" text-anchor="middle" textLength="44.66" lengthAdjust="spacingAndGlyphs">-0.5</text>
<text x="1475.85" y="921" font-size="24" fill="#000" text-anchor="middle" textLength="14.41" lengthAdjust="spacingAndGlyphs">0</text>
<text x="1537.8" y="921" font-size="24" fill="#000" text-anchor="middle" textLength="36.03" lengthAdjust="spacingAndGlyphs">0.5</text>
<text x="1597.85" y="921" font-size="24" fill="#000" text-anchor="middle" textLength="14.41" lengthAdjust="spacingAndGlyphs">1</text>
<text x="1078.5" y="954" font-size="23.5" fill="#000" text-anchor="middle" textLength="150" lengthAdjust="spacingAndGlyphs">Simulated FC</text>
<text x="1299" y="954" font-size="23.5" fill="#000" text-anchor="middle" textLength="150" lengthAdjust="spacingAndGlyphs">Simulated FC</text>
<text x="1516" y="954" font-size="23.5" fill="#000" text-anchor="middle" textLength="150" lengthAdjust="spacingAndGlyphs">Simulated FC</text>
<text transform="translate(919,660.5) rotate(-90)" x="0" y="0" font-size="24" fill="#000" text-anchor="middle" textLength="139" lengthAdjust="spacingAndGlyphs">Empirical FC</text>
<text transform="translate(1661.5,561.3) rotate(90)" x="0" y="0" font-size="44" fill="#153f87" text-anchor="middle" textLength="149.5" lengthAdjust="spacingAndGlyphs">Paxinos</text>
<text transform="translate(1661.5,805.3) rotate(90)" x="0" y="0" font-size="44" fill="#80303a" text-anchor="middle" textLength="145" lengthAdjust="spacingAndGlyphs">MBMv4</text>
<text x="16" y="1027.8" font-size="49" fill="#000">D</text>
<path d="M325.3 1226.6h0M463.6 1261.3h0M421.8 1290.3h0M246.1 1158.5h0M335.8 1226.9h0M262.4 1219.5h0M268.8 1215.3h0M351.7 1169.7h0M449.8 1236.4h0M213.2 1199.6h0M469 1298.6h0M300.6 1234.8h0M362.3 1248.8h0M249.6 1222.4h0M267.4 1226.9h0M462.7 1305.9h0M261.6 1252.3h0M468.4 1321.5h0M231.3 1184.1h0M299.4 1193.7h0M245.4 1254.6h0M331.9 1208.3h0M270.2 1247.2h0M231.4 1220.4h0M289.3 1240.9h0M314.9 1218.1h0M434.9 1267h0M256.3 1188.2h0M324.8 1228.3h0M456 1277.5h0M328.1 1269.1h0M356.8 1270.3h0M478.1 1310.6h0M388.2 1236.1h0M347.2 1236.4h0M391.5 1285.9h0M301.5 1245.1h0M301 1210.8h0M334.9 1251.7h0M347 1263.5h0M204.6 1183h0M418.1 1269.3h0M459.7 1279.7h0M454.8 1323h0M450.8 1248.3h0M382.6 1267.4h0M227.9 1208.8h0M459.1 1291.2h0M265.8 1178.4h0M406.7 1225.8h0M476.4 1278h0M204.6 1245.7h0M429.8 1278.1h0M443.4 1268.7h0M467.6 1298.3h0M351.1 1219.5h0M337.3 1240h0M237.9 1188.5h0M250.7 1225.9h0M223.8 1190.6h0M316.7 1254.7h0M308 1197h0M442.5 1225.4h0M224.3 1235.6h0M363.9 1240h0M221.2 1173.8h0M405 1287.7h0M255.2 1187h0M248.4 1243.2h0M280.5 1226.5h0M273.7 1211.3h0M353 1207.7h0M408.4 1274.4h0M467.3 1301.2h0M391.4 1238.6h0M313.6 1238.2h0M282.8 1216.3h0M261.3 1205.3h0M269.4 1214.6h0M414.1 1260.5h0M450.2 1272.3h0M311.2 1218.8h0M318.7 1230.5h0M283.9 1182.9h0M357.9 1267h0M383.6 1249.1h0M250.3 1229.4h0M244.9 1180.5h0M243.1 1208.7h0M346.3 1212.3h0M263.6 1242.8h0M332.6 1229.8h0M328.5 1206.5h0M431.7 1266.7h0M258.1 1194.1h0M227.3 1207.7h0M364.6 1270.8h0M287.6 1236.9h0M404.5 1202.5h0M404.5 1260.9h0M307.1 1245.8h0M296.6 1251.1h0M220.1 1233.7h0M213.7 1245.4h0M208.7 1187.4h0M476 1322.3h0M257.6 1225.7h0M308.6 1231.4h0M430.3 1238.3h0M215.6 1150.4h0M406.8 1213.4h0M394.4 1262.7h0M359.1 1223.9h0M417.1 1283.3h0M423.4 1248.5h0M314.5 1189.3h0M320.1 1239.8h0M438.3 1326.8h0M319.5 1214.6h0M345.5 1243.3h0M420.4 1283.1h0M205.8 1177.2h0M349.9 1257h0M436.5 1287h0M463.7 1263.5h0M346.4 1234.9h0M360.2 1241.4h0M329.5 1229.7h0M447.4 1317.8h0M362.6 1224.7h0M319.8 1193.8h0M209.2 1160.1h0M350.5 1219.9h0M347.9 1216.5h0M398.9 1217.9h0M369.1 1228h0M214.3 1150.2h0M364.1 1236.2h0M430.4 1306h0M377 1221.2h0M232.2 1203.4h0M399.6 1254.1h0M464.4 1277.5h0M235.4 1251.5h0M285.1 1226.3h0M297.3 1220.3h0M264.2 1228.7h0M273.4 1223.2h0M222.7 1202.1h0M433.7 1318.1h0M372.7 1258h0M313 1248.3h0M285.7 1174.8h0M454.6 1275.4h0M392.1 1241h0M329.9 1253.7h0M269 1175.7h0M292.9 1209.4h0M255.3 1224.9h0M436.1 1271.9h0M227.3 1192.4h0M355.2 1242.8h0M329.5 1261.3h0M237.4 1264.2h0M385.4 1260.8h0M243.9 1222.3h0M433.7 1255.3h0M287.3 1241.9h0M346.7 1277.4h0" stroke="#ea4132" stroke-width="3.8" stroke-linecap="round" stroke-opacity="0.36" fill="none"/>
<path d="M392.1 1265.2h0M479.2 1292h0M420 1278.3h0M430.5 1232.3h0M268 1148.4h0M319.1 1165.8h0M304.6 1159.1h0M306.8 1205.3h0M426.3 1279.9h0M331.1 1179h0M335.7 1214.2h0M244.1 1171.6h0M460.9 1278.3h0M297.3 1182.8h0M356.7 1269.3h0M446.1 1288.6h0M256.5 1177.8h0M296.1 1164.5h0M339.5 1166.9h0M274.2 1154.7h0M472.3 1295.1h0M355.8 1225.9h0M313.3 1198.3h0M440.1 1264.4h0M334.8 1207.6h0M343.1 1213.8h0M358.6 1223.2h0M335.5 1214h0M467.9 1273.6h0M315.8 1204.4h0M261.9 1166.5h0M220.6 1130.2h0M271.5 1142.3h0M266.6 1229.2h0M383.3 1234.4h0M290.4 1162.4h0M245.1 1177h0M373 1226.3h0M339.2 1221.8h0M216.3 1142.6h0M403 1228.7h0M277.9 1164.9h0M342.5 1162.8h0M241.5 1185.1h0M310.8 1193.8h0M313.8 1202.2h0M380.1 1257h0M390.7 1231.3h0M338.5 1209h0M368.2 1232.3h0M311.4 1215.8h0M338.8 1211.1h0M430.7 1247.1h0M406.8 1242.4h0M308.9 1204.3h0M390 1235.9h0M292.7 1206.2h0M447.9 1273.8h0M208.4 1151.9h0M396 1244.5h0M279.9 1181.8h0M326.5 1227.6h0M290.3 1170.3h0M476.3 1292.3h0M256.8 1160.6h0M422.3 1271.2h0M323.6 1199.7h0M203.1 1110.5h0M291.3 1173.8h0M204.4 1108.1h0M355.8 1225.9h0M297.3 1216.1h0M215.4 1123.9h0M404.6 1224.4h0M444.1 1291.5h0M423.7 1262.2h0M378.6 1213.3h0M318.1 1201.5h0M477.1 1302.1h0M437.3 1260.6h0M203.6 1133.5h0M394.3 1251.9h0M293.4 1171.1h0M443.7 1297.8h0M342.1 1223.6h0M218.7 1111.3h0M290.6 1174.3h0M308.1 1182.8h0M458.3 1276.2h0M254.8 1148.3h0M367.1 1244.2h0M433.2 1278.2h0M441.9 1269.7h0M299.5 1163.9h0M313.2 1215.1h0M463.1 1310.3h0M450.5 1302h0M217.8 1196.7h0M461.8 1249.4h0M223.2 1115.5h0M203.2 1181.8h0M262.9 1154.9h0M436.3 1199.3h0M443.5 1222.5h0M461.4 1284.6h0M281.9 1144.8h0M328.6 1209.2h0M264.2 1172.5h0M393.9 1252.9h0M377.5 1210.8h0M436.5 1267.3h0M426.5 1254.7h0M341.5 1192.1h0M369 1204.1h0M398.5 1254.2h0M432 1243.6h0M244.1 1127.1h0M345.4 1190.5h0M208 1100.9h0M348.6 1172.9h0M246.3 1175.3h0M451.1 1292.7h0M338.9 1164.4h0M425.5 1235h0M216.8 1127.4h0M213.7 1163.2h0M314.9 1236.4h0M356.9 1235h0M267.7 1124.8h0M395.7 1275.4h0M463.1 1308h0M259.1 1180h0M307 1179.7h0M448.9 1257.3h0M425.8 1241.1h0M206.9 1134.3h0M400 1280.4h0M219.7 1130.2h0M403.4 1219.9h0M424.1 1229h0M214.7 1137h0M232.5 1157.5h0M350.8 1202.6h0M259.1 1135.6h0M216.4 1154.8h0M356.5 1193.8h0M323.1 1148.6h0M391 1264.3h0M465.8 1248.1h0M269.3 1167h0M398.3 1258.4h0M372.2 1230.4h0M423.8 1215.2h0M348 1244.4h0M265.7 1167.6h0M389.3 1292.8h0M268.2 1188.9h0M304.2 1139.7h0M314 1171.7h0M440.3 1287.8h0M326.9 1159.9h0M349.4 1243h0M232.2 1145.9h0M423.5 1224.3h0M400.1 1227.4h0M342.9 1212.7h0M387.3 1233.6h0M407.9 1226.6h0" stroke="#3f3597" stroke-width="3.8" stroke-linecap="round" stroke-opacity="0.36" fill="none"/>
<path d="M202.9 1122.8L228 1138.2L253.1 1153.6L278.3 1168.9L303.4 1183.9L328.6 1198.6L353.7 1212.6L378.8 1226.1L404 1239.1L429.1 1252L454.3 1264.7L479.4 1277.3" stroke="#3f3597" stroke-width="1.5" fill="none" stroke-dasharray="6.5 4.5"/>
<path d="M202.9 1141.6L228 1154.2L253.1 1166.9L278.3 1179.7L303.4 1192.8L328.6 1206.3L353.7 1220.3L378.8 1235L404 1250L429.1 1265.3L454.3 1280.7L479.4 1296.1" stroke="#3f3597" stroke-width="1.5" fill="none" stroke-dasharray="6.5 4.5"/>
<line x1="202.85" y1="1132.16" x2="479.39" y2="1286.72" stroke="#3f3597" stroke-width="2.3" />
<path d="M202.9 1184.8L228 1194.5L253.1 1204L278.3 1213.4L303.4 1222.6L328.6 1231.4L353.7 1239.6L378.8 1247.3L404 1254.5L429.1 1261.5L454.3 1268.3L479.4 1275.1" stroke="#ea4132" stroke-width="1.5" fill="none" stroke-dasharray="6.5 4.5"/>
<path d="M202.9 1203.6L228 1210.4L253.1 1217.3L278.3 1224.3L303.4 1231.5L328.6 1239.1L353.7 1247.3L378.8 1256.1L404 1265.3L429.1 1274.8L454.3 1284.3L479.4 1293.9" stroke="#ea4132" stroke-width="1.5" fill="none" stroke-dasharray="6.5 4.5"/>
<line x1="202.85" y1="1194.24" x2="479.39" y2="1284.52" stroke="#ea4132" stroke-width="2.3" />
<path d="M175.2 1014.6V1328.1H489.45M175.2 1265.4h4M238.05 1328.1v-4M175.2 1202.7h4M300.9 1328.1v-4M175.2 1140h4M363.75 1328.1v-4M175.2 1077.3h4M426.6 1328.1v-4M175.2 1014.6h4M489.45 1328.1v-4" stroke="#231f20" stroke-width="2" fill="none"/>
<text x="175.2" y="1361.4" font-size="31" fill="#231f20" text-anchor="middle" textLength="17.06" lengthAdjust="spacingAndGlyphs">0</text>
<text x="238.05" y="1361.4" font-size="31" fill="#231f20" text-anchor="middle" textLength="17.06" lengthAdjust="spacingAndGlyphs">5</text>
<text x="300.9" y="1361.4" font-size="31" fill="#231f20" text-anchor="middle" textLength="34.13" lengthAdjust="spacingAndGlyphs">10</text>
<text x="363.75" y="1361.4" font-size="31" fill="#231f20" text-anchor="middle" textLength="34.13" lengthAdjust="spacingAndGlyphs">15</text>
<text x="426.6" y="1361.4" font-size="31" fill="#231f20" text-anchor="middle" textLength="34.13" lengthAdjust="spacingAndGlyphs">20</text>
<text x="489.45" y="1361.4" font-size="31" fill="#231f20" text-anchor="middle" textLength="34.13" lengthAdjust="spacingAndGlyphs">25</text>
<text x="162.6" y="1338.2" font-size="30" fill="#231f20" text-anchor="end">0</text>
<text x="162.6" y="1275.5" font-size="30" fill="#231f20" text-anchor="end">0.2</text>
<text x="162.6" y="1212.8" font-size="30" fill="#231f20" text-anchor="end">0.4</text>
<text x="162.6" y="1150.1" font-size="30" fill="#231f20" text-anchor="end">0.6</text>
<text x="162.6" y="1087.4" font-size="30" fill="#231f20" text-anchor="end">0.8</text>
<text x="161.4" y="1027.9" font-size="30" fill="#231f20" text-anchor="end">1</text>
<text x="348.7" y="1024" font-size="29" fill="#231f20" text-anchor="middle">In-vivo dMRI</text>
<text x="349.5" y="1057.5" font-size="29" fill="#231f20" text-anchor="middle">(example)</text>
<text x="349.8" y="1396" font-size="31" fill="#231f20" text-anchor="middle" textLength="211.5" lengthAdjust="spacingAndGlyphs">Distance (mm)</text>
<path d="M586 1173h0M783 1215h0M656 1169h0M607 1200h0M799 1174h0M634 1164h0M730 1223h0M731 1227h0M566 1250h0M655 1216h0M712 1181h0M754 1195h0M657 1166h0M693 1245h0M566 1284h0M557 1138h0M690 1189h0M820 1181h0M739 1218h0M732 1157h0M562 1276h0M655 1198h0M624 1221h0M763 1156h0M743 1279h0M700 1179h0M785 1228h0M566 1204h0M751 1202h0M562 1153h0M804 1178h0M761 1222h0M719 1196h0M825 1233h0M808 1178h0M665 1236h0M782 1252h0M665 1211h0M787 1185h0M785 1203h0M701 1262h0M693 1213h0M630 1234h0M637 1134h0M725 1205h0M671 1243h0M708 1232h0M831 1192h0M562 1275h0M719 1262h0M699 1243h0M584 1175h0M640 1158h0M737 1236h0M749 1236h0M770 1229h0M672 1244h0M746 1219h0M566 1191h0M769 1210h0M684 1167h0M795 1235h0M637 1174h0M719 1164h0M657 1224h0M745 1144h0M656 1204h0M676 1195h0M689 1229h0M755 1194h0M620 1121h0M820 1230h0M662 1141h0M737 1303h0M681 1203h0M707 1187h0M577 1172h0M669 1187h0M756 1167h0M773 1182h0M824 1196h0M723 1128h0M811 1235h0M776 1173h0M724 1228h0M667 1201h0M778 1175h0M781 1177h0M758 1168h0M692 1164h0M611 1142h0M684 1209h0M811 1246h0M722 1185h0M726 1264h0M800 1202h0M761 1169h0M716 1260h0M640 1153h0M650 1170h0M763 1217h0M775 1195h0M760 1170h0M646 1182h0M808 1231h0M746 1207h0M566 1156h0M562 1225h0M688 1302h0M675 1153h0M829 1230h0M702 1294h0M697 1247h0M830 1219h0M580 1177h0M785 1207h0M666 1182h0M830 1155h0M822 1241h0M609 1241h0M782 1141h0M723 1197h0M728 1199h0M753 1225h0M748 1176h0M753 1137h0M578 1212h0M766 1196h0M834 1211h0M611 1174h0M623 1192h0M819 1160h0M707 1164h0M650 1177h0M618 1237h0M760 1207h0M566 1191h0M722 1229h0M716 1227h0M688 1200h0M629 1209h0M717 1268h0M617 1196h0M725 1174h0M659 1186h0M697 1185h0M610 1191h0M674 1223h0M678 1214h0M709 1187h0M597 1159h0M714 1281h0M625 1181h0M661 1293h0M709 1214h0M642 1210h0M789 1194h0M652 1232h0M734 1274h0M588 1205h0M651 1174h0M676 1156h0M748 1155h0M820 1225h0M627 1166h0M760 1145h0M610 1220h0M657 1198h0M632 1231h0M778 1164h0M624 1175h0M665 1190h0M712 1304h0M728 1145h0M788 1253h0M805 1201h0M757 1236h0M708 1170h0M638 1212h0M624 1157h0M660 1270h0M767 1200h0M620 1219h0M765 1302h0M634 1208h0M770 1217h0M690 1222h0M672 1301h0M747 1236h0M594 1257h0M678 1184h0M798 1214h0M797 1227h0M615 1222h0M801 1196h0M731 1209h0M647 1151h0M803 1180h0M698 1232h0M574 1216h0M578 1206h0M670 1136h0M631 1156h0M565 1226h0M729 1202h0M687 1131h0M648 1179h0M608 1149h0M692 1199h0M560 1163h0M565 1208h0M710 1211h0M562 1174h0M805 1216h0M798 1209h0M628 1193h0M737 1193h0M715 1255h0M756 1201h0M727 1274h0M772 1256h0M674 1267h0M712 1229h0M655 1252h0M694 1173h0M790 1214h0M705 1199h0M743 1317h0M694 1247h0M744 1160h0M736 1217h0M733 1263h0M607 1245h0" stroke="#ea4132" stroke-width="3.6" stroke-linecap="round" stroke-opacity="0.17" fill="none"/>
<path d="M738 1210h0M734 1169h0M679 1213h0M731 1141h0M765 1204h0M831 1268h0M679 1202h0M670 1222h0M660 1234h0M670 1204h0M682 1189h0M654 1173h0M773 1302h0M700 1125h0M711 1186h0M740 1150h0M695 1209h0M827 1267h0M701 1262h0M639 1241h0M717 1186h0M780 1218h0M662 1187h0M728 1305h0M607 1241h0M608 1221h0M557 1269h0M732 1273h0M766 1250h0M819 1226h0M641 1200h0M758 1173h0M714 1296h0M710 1174h0M724 1210h0M653 1131h0M584 1150h0M691 1213h0M723 1315h0M743 1284h0M720 1165h0M830 1185h0M566 1165h0M764 1177h0M613 1228h0M689 1158h0M559 1154h0M657 1141h0M736 1189h0M625 1233h0M563 1135h0M765 1240h0M786 1192h0M666 1172h0M746 1201h0M587 1212h0M598 1207h0M794 1275h0M659 1233h0M596 1192h0M693 1169h0M724 1208h0M752 1137h0M625 1262h0M834 1206h0M823 1311h0M645 1180h0M624 1196h0M803 1257h0M830 1190h0M693 1165h0M568 1211h0M737 1146h0M627 1257h0M662 1199h0M711 1215h0M761 1205h0M614 1205h0M815 1223h0M565 1168h0M759 1182h0M715 1171h0M646 1205h0M650 1278h0M709 1226h0M761 1195h0M731 1187h0M821 1203h0M611 1186h0M834 1153h0M650 1216h0M665 1218h0M603 1211h0M716 1231h0M787 1245h0M668 1189h0M764 1234h0M715 1217h0M743 1229h0M695 1209h0M747 1158h0M834 1245h0M724 1189h0M822 1252h0M755 1228h0M780 1203h0M749 1197h0M833 1175h0M665 1225h0M685 1173h0M593 1197h0M677 1153h0M689 1270h0M714 1248h0M804 1252h0M691 1174h0M795 1210h0M695 1228h0M584 1200h0M612 1241h0M760 1210h0M648 1298h0M725 1173h0M716 1252h0M725 1130h0M789 1296h0M784 1231h0M576 1192h0M648 1198h0M671 1200h0M759 1176h0M579 1167h0M668 1196h0M562 1214h0M680 1216h0M815 1191h0M753 1212h0M623 1220h0M652 1261h0M778 1241h0M783 1216h0M776 1245h0M719 1241h0M737 1190h0M750 1193h0M613 1216h0M642 1198h0M726 1188h0M776 1271h0M633 1215h0M749 1216h0M577 1211h0M834 1199h0M816 1199h0M681 1208h0M833 1193h0M638 1197h0M721 1233h0M781 1255h0M740 1199h0M701 1254h0M817 1186h0M707 1237h0M688 1216h0M641 1208h0M742 1206h0M743 1246h0M775 1153h0M655 1227h0M597 1243h0M698 1273h0M632 1212h0M700 1287h0M640 1179h0M751 1196h0M768 1283h0M586 1174h0M703 1204h0M712 1153h0M828 1297h0M578 1175h0M718 1186h0M693 1187h0M700 1189h0M730 1187h0M674 1199h0M806 1215h0M731 1238h0M736 1218h0M605 1127h0M647 1208h0M831 1268h0M680 1203h0M809 1170h0M724 1267h0M695 1176h0M640 1182h0M754 1239h0M665 1224h0M778 1207h0M738 1178h0M806 1236h0M726 1173h0M567 1211h0M709 1199h0M658 1209h0M737 1194h0M771 1177h0M782 1175h0M719 1222h0M650 1222h0M772 1245h0M759 1197h0M631 1195h0M752 1138h0M676 1226h0M583 1148h0M669 1219h0M703 1161h0M733 1276h0M749 1298h0M830 1239h0M728 1235h0M721 1234h0M764 1198h0M710 1243h0M793 1208h0M830 1198h0M782 1228h0M726 1263h0M710 1246h0M566 1203h0M723 1204h0" stroke="#ea4132" stroke-width="3.6" stroke-linecap="round" stroke-opacity="0.17" fill="none"/>
<path d="M673 1255h0M615 1205h0M787 1200h0M648 1232h0M734 1221h0M793 1216h0M557 1266h0M748 1185h0M566 1145h0M623 1174h0M633 1189h0M740 1174h0M701 1278h0M786 1219h0M722 1240h0M761 1203h0M834 1270h0M606 1176h0M827 1164h0M784 1237h0M686 1222h0M815 1281h0M617 1138h0M676 1217h0M703 1257h0M755 1185h0M724 1243h0M780 1185h0M818 1177h0M812 1269h0M684 1169h0M683 1183h0M805 1267h0M698 1243h0M569 1223h0M715 1204h0M737 1188h0M569 1221h0M826 1194h0M569 1187h0M791 1139h0M708 1188h0M582 1184h0M566 1222h0M804 1185h0M768 1297h0M818 1273h0M665 1206h0M619 1147h0M778 1246h0M669 1189h0M731 1205h0M752 1216h0M694 1179h0M729 1165h0M605 1272h0M713 1261h0M686 1151h0M623 1182h0M830 1208h0M705 1198h0M800 1210h0M559 1173h0M774 1151h0M764 1187h0M706 1171h0M654 1149h0M690 1211h0M733 1189h0M571 1197h0M713 1239h0M773 1255h0M742 1260h0M710 1184h0M605 1168h0M603 1238h0M648 1236h0M732 1319h0M688 1203h0M785 1197h0M564 1184h0M765 1224h0M712 1188h0M751 1140h0M705 1203h0M738 1226h0M624 1241h0M729 1271h0M629 1143h0M563 1277h0M788 1152h0M739 1225h0M827 1185h0M655 1234h0M793 1153h0M690 1164h0M733 1209h0M730 1226h0M667 1216h0M782 1231h0M618 1172h0M735 1206h0M566 1227h0M807 1187h0M834 1185h0M753 1167h0M733 1280h0M733 1230h0M753 1215h0M725 1204h0M814 1200h0M718 1196h0M739 1189h0M632 1211h0M641 1218h0M571 1145h0M683 1179h0M772 1252h0M659 1202h0M603 1219h0M796 1153h0M669 1244h0M761 1152h0M667 1145h0M778 1143h0M816 1206h0M674 1189h0M721 1202h0M776 1199h0M572 1204h0M761 1252h0M662 1216h0M683 1230h0M688 1236h0M646 1135h0M780 1201h0M665 1205h0M724 1231h0M604 1202h0M694 1161h0M674 1129h0M557 1223h0M760 1141h0M773 1143h0M823 1208h0M749 1226h0M760 1288h0M579 1218h0M562 1222h0M725 1209h0M569 1218h0M736 1242h0M674 1159h0M736 1189h0M622 1209h0M589 1162h0M789 1221h0M834 1208h0M711 1234h0M714 1147h0M717 1212h0M607 1243h0M624 1218h0M575 1184h0M782 1226h0M566 1179h0M688 1127h0M813 1193h0M623 1200h0M727 1170h0M696 1222h0M805 1226h0M684 1277h0M791 1185h0M743 1209h0M762 1168h0M674 1199h0M698 1191h0M606 1196h0M762 1136h0M722 1254h0M803 1199h0M652 1181h0M566 1189h0M703 1151h0M799 1179h0M628 1200h0M737 1244h0M791 1203h0M781 1274h0M802 1290h0M598 1127h0M720 1313h0M705 1207h0M798 1218h0M811 1196h0M559 1199h0M792 1268h0M761 1197h0M732 1178h0M711 1186h0M765 1165h0M704 1228h0M757 1226h0M790 1189h0M689 1228h0M684 1172h0M752 1266h0M625 1242h0M725 1169h0M599 1270h0M647 1225h0M568 1172h0M728 1171h0M768 1227h0M680 1204h0M757 1202h0M800 1192h0M830 1159h0M596 1194h0M688 1200h0M721 1170h0M675 1242h0M654 1205h0M662 1288h0M616 1180h0M667 1183h0M808 1202h0M756 1189h0M706 1184h0M738 1150h0M772 1211h0M710 1225h0" stroke="#ea4132" stroke-width="3.6" stroke-linecap="round" stroke-opacity="0.17" fill="none"/>
<path d="M691 1200h0M703 1151h0M771 1199h0M779 1187h0M805 1212h0M753 1171h0M829 1243h0M557 1106h0M656 1322h0M681 1186h0M668 1209h0M770 1263h0M684 1203h0M702 1185h0M661 1208h0M689 1170h0M657 1189h0M703 1222h0M757 1215h0M625 1195h0M825 1197h0M685 1175h0M673 1230h0M712 1190h0M734 1179h0M789 1209h0M782 1241h0M745 1283h0M830 1209h0M738 1241h0M754 1146h0M715 1182h0M701 1181h0M667 1192h0M734 1185h0M677 1210h0M682 1207h0M665 1227h0M626 1236h0M792 1201h0M830 1197h0M828 1180h0M667 1170h0M770 1211h0M801 1215h0M692 1226h0M746 1154h0M583 1210h0M805 1211h0M562 1187h0M613 1176h0M691 1173h0M687 1245h0M669 1199h0M670 1185h0M731 1240h0M635 1258h0M746 1227h0M694 1217h0M688 1204h0M654 1147h0M692 1177h0M724 1243h0M834 1186h0M797 1192h0M784 1218h0M684 1188h0M832 1232h0M786 1277h0M566 1298h0M686 1203h0M562 1233h0M681 1176h0M753 1167h0M639 1240h0M827 1281h0M690 1179h0M570 1272h0M745 1153h0M812 1241h0M627 1236h0M646 1219h0M786 1179h0M809 1255h0M600 1180h0M813 1191h0M683 1242h0M742 1297h0M674 1149h0M730 1207h0M739 1167h0M724 1168h0M775 1147h0M759 1203h0M661 1180h0M754 1219h0M744 1228h0M765 1225h0M769 1147h0M715 1239h0M817 1204h0M830 1161h0M777 1149h0M784 1163h0M685 1234h0M643 1232h0M694 1320h0M584 1143h0M673 1234h0M788 1196h0M793 1171h0M676 1178h0M697 1190h0M782 1276h0M704 1204h0M604 1205h0M636 1128h0M776 1205h0M647 1289h0M757 1145h0M632 1199h0M705 1210h0M706 1154h0M661 1272h0M783 1187h0M711 1205h0M685 1175h0M791 1212h0M616 1187h0M658 1159h0M557 1201h0M757 1226h0M628 1238h0M581 1209h0M624 1120h0M718 1157h0M823 1190h0M707 1183h0M813 1240h0M772 1160h0M774 1151h0M768 1230h0M640 1141h0M815 1244h0M722 1213h0M602 1156h0M753 1222h0M666 1224h0M724 1232h0M749 1166h0M699 1224h0M684 1285h0M772 1161h0M609 1193h0M712 1232h0M638 1245h0M564 1193h0M739 1176h0M676 1156h0M791 1220h0M810 1208h0M748 1254h0M682 1224h0M796 1250h0M815 1205h0M799 1164h0M730 1232h0M732 1208h0M639 1256h0M793 1160h0M668 1164h0M630 1207h0M723 1253h0M699 1205h0M562 1167h0M675 1158h0M626 1143h0M728 1183h0M745 1220h0M755 1283h0M773 1224h0M769 1220h0M767 1230h0M748 1239h0M762 1261h0M667 1186h0M803 1188h0M580 1162h0M713 1167h0M775 1205h0M712 1182h0M688 1158h0M702 1141h0M668 1220h0M587 1242h0M602 1174h0M619 1246h0M601 1214h0M774 1243h0M566 1167h0M690 1192h0M594 1177h0M834 1181h0M789 1178h0M792 1198h0M834 1243h0M832 1220h0M649 1272h0M767 1213h0M813 1278h0M795 1180h0M561 1178h0M760 1209h0M815 1226h0M667 1197h0M650 1264h0M648 1160h0M779 1232h0M615 1196h0M737 1220h0M777 1268h0M814 1230h0M745 1191h0M562 1169h0M707 1165h0M759 1180h0M723 1264h0M659 1129h0M830 1160h0M785 1287h0M566 1180h0M702 1127h0M723 1247h0" stroke="#ea4132" stroke-width="3.6" stroke-linecap="round" stroke-opacity="0.17" fill="none"/>
<path d="M761 1152h0M561 1187h0M808 1177h0M562 1198h0M792 1221h0M640 1207h0M693 1193h0M834 1205h0M658 1173h0M729 1198h0M750 1174h0M736 1220h0M684 1267h0M641 1232h0M688 1188h0M562 1173h0M565 1229h0M704 1159h0M823 1165h0M830 1249h0M597 1188h0M617 1255h0M640 1166h0M717 1221h0M587 1117h0M745 1155h0M747 1231h0M557 1173h0M809 1220h0M770 1190h0M750 1226h0M679 1218h0M735 1236h0M688 1156h0M671 1169h0M782 1244h0M756 1187h0M679 1244h0M616 1221h0M560 1292h0M780 1197h0M631 1208h0M708 1214h0M645 1168h0M683 1193h0M675 1227h0M688 1254h0M611 1184h0M649 1141h0M834 1256h0M755 1199h0M729 1235h0M719 1184h0M752 1184h0M746 1173h0M562 1203h0M681 1219h0M683 1190h0M680 1163h0M696 1233h0M802 1153h0M598 1230h0M577 1228h0M712 1226h0M669 1212h0M768 1206h0M657 1145h0M599 1327h0M828 1192h0M793 1205h0M718 1200h0M678 1218h0M590 1167h0M639 1217h0M676 1222h0M681 1238h0M714 1209h0M769 1181h0M729 1190h0M683 1177h0M703 1148h0M659 1158h0M822 1211h0M564 1250h0M786 1219h0M673 1196h0M735 1137h0M790 1158h0M756 1198h0M632 1216h0M665 1180h0M764 1149h0M667 1141h0M638 1241h0M676 1224h0M702 1204h0M771 1203h0M691 1175h0M566 1184h0M697 1149h0M689 1241h0M681 1244h0M679 1198h0M818 1170h0M566 1262h0M793 1253h0M805 1155h0M699 1275h0M690 1210h0M704 1205h0M680 1215h0M695 1153h0M646 1171h0M620 1190h0M722 1178h0M731 1174h0M817 1293h0M753 1198h0M666 1223h0M727 1166h0M690 1191h0M674 1182h0M604 1154h0M621 1148h0M765 1220h0M566 1166h0M562 1178h0M787 1221h0M788 1204h0M695 1209h0M612 1251h0M562 1205h0M714 1266h0M628 1238h0M817 1187h0M770 1200h0M705 1243h0M715 1146h0M627 1173h0M737 1282h0M701 1228h0M722 1129h0M774 1179h0M669 1144h0M622 1235h0M582 1247h0M823 1161h0M725 1174h0M623 1205h0M663 1169h0M722 1229h0M731 1221h0M750 1217h0M784 1181h0M724 1174h0M830 1206h0M740 1213h0M749 1234h0M818 1194h0M686 1164h0M676 1177h0M719 1313h0M643 1182h0M726 1213h0M580 1217h0M569 1221h0M733 1275h0M786 1246h0M742 1177h0M826 1256h0M740 1203h0M802 1163h0M566 1117h0M660 1172h0M595 1170h0M656 1253h0M562 1160h0M708 1197h0M769 1283h0M631 1180h0M646 1194h0M588 1161h0M763 1222h0M615 1167h0M714 1156h0M778 1179h0M753 1196h0M661 1197h0M690 1259h0M721 1151h0M784 1168h0M734 1226h0M655 1164h0M679 1174h0M752 1238h0M834 1185h0M718 1147h0M754 1227h0M566 1221h0M675 1169h0M697 1220h0M700 1182h0M759 1251h0M735 1249h0M606 1249h0M693 1256h0M656 1146h0M721 1171h0M684 1262h0M575 1133h0M698 1247h0M820 1257h0M648 1236h0M734 1306h0M670 1158h0M807 1196h0M827 1163h0M656 1219h0M785 1193h0M801 1234h0M693 1240h0M699 1252h0M650 1175h0M696 1249h0M757 1221h0M678 1267h0M690 1319h0M566 1196h0M741 1143h0M591 1179h0M766 1225h0M676 1217h0M557 1183h0" stroke="#ea4132" stroke-width="3.6" stroke-linecap="round" stroke-opacity="0.17" fill="none"/>
<path d="M617 1194h0M619 1267h0M798 1237h0M598 1190h0M557 1143h0M712 1245h0M591 1266h0M793 1233h0M786 1216h0M668 1208h0M729 1177h0M830 1237h0M771 1158h0M711 1251h0M797 1225h0M746 1248h0M612 1161h0M734 1188h0M816 1173h0M716 1169h0M756 1152h0M810 1242h0M606 1174h0M654 1249h0M687 1174h0M761 1197h0M708 1301h0M664 1264h0M619 1183h0M688 1217h0M720 1165h0M746 1243h0M776 1159h0M768 1237h0M728 1261h0M823 1185h0M659 1161h0M728 1216h0M815 1196h0M825 1288h0M668 1216h0M565 1211h0M614 1169h0M728 1178h0M567 1224h0M611 1203h0M717 1190h0M610 1210h0M580 1193h0M557 1183h0M571 1203h0M807 1187h0M743 1271h0M564 1193h0M745 1176h0M625 1267h0M679 1171h0M706 1170h0M750 1227h0M566 1160h0M696 1186h0M738 1149h0M766 1230h0M796 1216h0M730 1174h0M797 1207h0M609 1187h0M769 1230h0M662 1197h0M713 1217h0M704 1146h0M813 1241h0M765 1275h0M755 1228h0M562 1223h0M782 1209h0M562 1202h0M834 1220h0M801 1169h0M785 1181h0M795 1252h0M791 1202h0M703 1266h0M677 1199h0M731 1149h0M760 1253h0M733 1268h0M652 1171h0M675 1233h0M714 1270h0M833 1197h0M811 1170h0M733 1253h0M557 1136h0M774 1210h0M611 1144h0M752 1213h0M831 1182h0M658 1224h0M765 1245h0M834 1155h0M731 1221h0M696 1238h0M692 1176h0M680 1191h0M739 1193h0M744 1240h0M745 1268h0M795 1195h0M628 1171h0M644 1228h0M748 1178h0M723 1181h0M685 1248h0M626 1132h0M643 1157h0M560 1212h0M777 1190h0M562 1143h0M621 1163h0M715 1279h0M722 1196h0M754 1215h0M784 1205h0M634 1204h0M830 1176h0M630 1148h0M815 1222h0M683 1257h0M774 1203h0M566 1285h0M680 1192h0M824 1195h0M699 1211h0M597 1243h0M652 1241h0M724 1206h0M621 1271h0M679 1246h0M804 1262h0M622 1155h0M742 1147h0M830 1179h0M683 1199h0M622 1251h0M800 1181h0M666 1207h0M665 1206h0M830 1209h0M779 1293h0M757 1218h0M810 1225h0M759 1149h0M703 1238h0M803 1192h0M655 1142h0M800 1204h0M593 1216h0M580 1152h0M716 1264h0M760 1282h0M790 1155h0M823 1228h0M730 1209h0M765 1214h0M684 1202h0M830 1242h0M801 1245h0M701 1211h0M722 1176h0M704 1128h0M784 1203h0M698 1163h0M719 1222h0M685 1131h0M637 1175h0M568 1188h0M678 1200h0M710 1278h0M754 1188h0M740 1187h0M597 1181h0M754 1286h0M709 1225h0M653 1245h0M790 1234h0M789 1197h0M562 1174h0M766 1139h0M809 1220h0M764 1201h0M833 1247h0M791 1162h0M767 1153h0M787 1244h0M736 1182h0M735 1280h0M706 1205h0M705 1198h0M712 1218h0M808 1231h0M608 1249h0M755 1191h0M678 1252h0M702 1218h0M781 1235h0M566 1200h0M775 1147h0M823 1230h0M714 1231h0M699 1226h0M817 1244h0M728 1203h0M671 1167h0M708 1165h0M806 1202h0M676 1244h0M722 1253h0M562 1217h0M834 1208h0M759 1172h0M743 1247h0M809 1171h0M693 1269h0M703 1183h0M706 1182h0M586 1149h0M562 1168h0M599 1214h0M638 1159h0M562 1187h0M787 1197h0M749 1169h0" stroke="#ea4132" stroke-width="3.6" stroke-linecap="round" stroke-opacity="0.17" fill="none"/>
<path d="M802 1186h0M616 1183h0M827 1227h0M585 1205h0M754 1189h0M648 1241h0M693 1203h0M628 1237h0M582 1237h0M733 1155h0M704 1200h0M755 1164h0M725 1145h0M732 1185h0M785 1202h0M719 1202h0M799 1255h0M725 1209h0M752 1190h0M724 1195h0M595 1197h0M683 1235h0M610 1236h0M633 1247h0M694 1170h0M700 1160h0M830 1254h0M680 1157h0M566 1140h0M588 1170h0M612 1140h0M606 1195h0M666 1168h0M655 1139h0M631 1236h0M718 1201h0M699 1167h0M753 1227h0M691 1145h0M697 1205h0M817 1211h0M702 1199h0M606 1230h0M722 1207h0M711 1174h0M688 1211h0M758 1186h0M716 1206h0M652 1180h0M784 1221h0M695 1192h0M780 1239h0M692 1149h0M794 1269h0M627 1209h0M713 1233h0M754 1230h0M568 1217h0M741 1243h0M591 1198h0M688 1215h0M714 1226h0M725 1244h0M792 1216h0M695 1224h0M728 1145h0M722 1195h0M686 1180h0M679 1191h0M610 1175h0M830 1271h0M638 1209h0M708 1234h0M682 1190h0M762 1248h0M727 1171h0M698 1287h0M736 1165h0M769 1228h0M651 1240h0M718 1223h0M707 1223h0M816 1233h0M729 1253h0M588 1218h0M721 1227h0M723 1189h0M596 1224h0M747 1310h0M695 1222h0M630 1188h0M789 1237h0M834 1217h0M696 1192h0M652 1262h0M618 1195h0M795 1227h0M628 1199h0M830 1181h0M823 1205h0M685 1150h0M712 1225h0M758 1243h0M747 1191h0M806 1207h0M791 1164h0M742 1197h0M716 1208h0M829 1156h0M559 1154h0M562 1229h0M743 1234h0M570 1252h0M799 1200h0M805 1144h0M767 1182h0M664 1173h0M690 1232h0M781 1223h0M712 1161h0M740 1191h0M619 1248h0M757 1219h0M577 1220h0M739 1248h0M684 1194h0M703 1230h0M754 1226h0M834 1229h0M677 1174h0M679 1246h0M611 1122h0M829 1274h0M570 1194h0M781 1262h0M830 1215h0M761 1220h0M736 1140h0M748 1207h0M730 1171h0M722 1176h0M741 1214h0M607 1251h0M602 1126h0M820 1198h0M636 1188h0M611 1126h0M691 1238h0M788 1160h0M729 1163h0M637 1211h0M775 1162h0M668 1218h0M723 1280h0M730 1199h0M557 1139h0M772 1209h0M666 1199h0M724 1145h0M682 1220h0M818 1201h0M834 1200h0M647 1173h0M725 1181h0M718 1181h0M586 1204h0M696 1188h0M591 1176h0M726 1207h0M799 1247h0M800 1303h0M771 1262h0M715 1241h0M560 1235h0M733 1245h0M817 1143h0M824 1205h0M778 1263h0M817 1250h0M739 1236h0M724 1296h0M718 1166h0M590 1191h0M742 1134h0M745 1268h0M793 1204h0M775 1182h0M828 1184h0M671 1190h0M758 1219h0M572 1213h0M769 1201h0M644 1174h0M714 1192h0M713 1262h0M726 1229h0M830 1277h0M779 1164h0M782 1233h0M765 1239h0M807 1203h0M763 1307h0M701 1212h0M618 1207h0M703 1163h0M694 1213h0M564 1174h0M796 1260h0M666 1177h0M757 1268h0M680 1210h0M590 1249h0M690 1196h0M752 1246h0M723 1183h0M720 1174h0M610 1230h0M644 1262h0M764 1253h0M705 1240h0M562 1217h0M795 1229h0M788 1243h0M768 1176h0M808 1211h0M762 1219h0M659 1275h0M744 1228h0M620 1154h0M786 1237h0M763 1139h0M834 1198h0M574 1212h0" stroke="#ea4132" stroke-width="3.6" stroke-linecap="round" stroke-opacity="0.17" fill="none"/>
<path d="M734 1174h0M719 1170h0M693 1149h0M675 1245h0M741 1281h0M757 1216h0M640 1128h0M743 1240h0M684 1212h0M814 1259h0M706 1186h0M766 1166h0M740 1205h0M673 1198h0M703 1257h0M622 1172h0M822 1159h0M713 1187h0M824 1248h0M746 1192h0M697 1255h0M672 1132h0M614 1220h0M834 1198h0M780 1252h0M834 1212h0M568 1206h0M579 1223h0M674 1227h0M585 1124h0M834 1231h0M694 1138h0M624 1144h0M715 1194h0M674 1188h0M747 1131h0M712 1205h0M763 1192h0M708 1275h0M619 1206h0M705 1185h0M804 1197h0M623 1205h0M793 1157h0M793 1164h0M816 1236h0M648 1268h0M566 1160h0M787 1254h0M761 1181h0M833 1244h0M581 1194h0M797 1233h0M664 1202h0M670 1238h0M712 1174h0M618 1253h0M805 1158h0M634 1195h0M700 1220h0M672 1224h0M738 1169h0M687 1207h0M761 1187h0M707 1221h0M767 1206h0M714 1127h0M755 1289h0M778 1165h0M600 1318h0M824 1203h0M762 1254h0M677 1148h0M718 1175h0M746 1139h0M562 1273h0M790 1247h0M816 1232h0M834 1200h0M774 1186h0M669 1196h0M762 1205h0M695 1227h0M664 1208h0M738 1263h0M744 1232h0M659 1219h0M702 1145h0M833 1169h0M703 1187h0M687 1211h0M761 1145h0M678 1162h0M610 1216h0M702 1215h0M741 1233h0M785 1175h0M658 1177h0M760 1229h0M582 1166h0M743 1227h0M719 1230h0M762 1242h0M614 1264h0M770 1269h0M580 1218h0M604 1231h0M763 1213h0M709 1222h0M771 1215h0M691 1216h0M699 1241h0M822 1193h0M713 1169h0M746 1300h0M751 1235h0M751 1234h0M695 1164h0M732 1239h0M803 1181h0M772 1227h0M787 1139h0M681 1270h0M735 1236h0M620 1173h0M612 1198h0M708 1185h0M713 1151h0M762 1255h0M611 1135h0M658 1243h0M813 1192h0M834 1153h0M714 1281h0M645 1166h0M627 1268h0M721 1142h0M717 1233h0M757 1196h0M631 1142h0M566 1200h0M668 1282h0M636 1194h0M699 1208h0M675 1176h0M599 1181h0M707 1205h0M729 1201h0M707 1227h0M765 1223h0M809 1244h0M742 1203h0M727 1216h0M737 1221h0M742 1165h0M644 1143h0M630 1161h0M661 1298h0M767 1243h0M646 1251h0M770 1254h0M755 1205h0M635 1196h0M583 1269h0M781 1239h0M569 1152h0M755 1214h0M694 1211h0M631 1228h0M679 1242h0M751 1209h0M638 1184h0M695 1164h0M832 1274h0M675 1235h0M557 1159h0M771 1203h0M749 1148h0M782 1153h0M579 1210h0M700 1195h0M742 1190h0M757 1225h0M672 1178h0M712 1214h0M776 1141h0M830 1236h0M702 1197h0M781 1184h0M595 1285h0M705 1224h0M708 1188h0M778 1239h0M693 1222h0M763 1185h0M761 1264h0M814 1237h0M740 1283h0M681 1141h0M783 1181h0M770 1211h0M730 1172h0M569 1224h0M557 1110h0M598 1199h0M742 1230h0M662 1168h0M748 1202h0M665 1191h0M710 1240h0M654 1168h0M749 1209h0M721 1203h0M819 1212h0M738 1227h0M629 1220h0M647 1270h0M628 1206h0M705 1243h0M721 1179h0M602 1240h0M821 1189h0M720 1237h0M731 1176h0M773 1211h0M751 1215h0M711 1162h0M626 1149h0M654 1150h0M707 1223h0M698 1227h0M656 1210h0M666 1202h0" stroke="#ea4132" stroke-width="3.6" stroke-linecap="round" stroke-opacity="0.17" fill="none"/>
<path d="M704 1214h0M573 1158h0M740 1164h0M745 1185h0M731 1229h0M708 1247h0M795 1190h0M637 1199h0M674 1215h0M720 1190h0M582 1211h0M576 1160h0M752 1228h0M734 1195h0M672 1234h0M774 1158h0M790 1160h0M679 1129h0M714 1182h0M723 1227h0M557 1168h0M733 1213h0M575 1181h0M770 1210h0M675 1202h0M729 1179h0M669 1155h0M701 1208h0M557 1181h0M726 1222h0M778 1183h0M560 1124h0M784 1194h0M795 1183h0M783 1206h0M808 1223h0M679 1211h0M715 1163h0M728 1128h0M575 1205h0M678 1201h0M819 1187h0M732 1224h0M652 1254h0M792 1174h0M566 1175h0M833 1198h0M624 1277h0M729 1187h0M712 1204h0M626 1176h0M752 1205h0M562 1233h0M748 1195h0M640 1205h0M763 1232h0M752 1139h0M756 1185h0M745 1177h0M733 1213h0M675 1237h0M828 1155h0M763 1213h0M691 1236h0M705 1208h0M791 1161h0M734 1194h0M684 1259h0M714 1254h0M680 1216h0M794 1200h0M683 1188h0M596 1134h0M777 1223h0M667 1142h0M740 1180h0M830 1189h0M750 1179h0M829 1171h0M586 1255h0M774 1235h0M764 1209h0M698 1218h0M694 1150h0M756 1226h0M810 1276h0M782 1225h0M610 1174h0M631 1210h0M699 1191h0M789 1211h0M618 1231h0M763 1179h0M770 1144h0M696 1249h0M669 1268h0M611 1220h0M668 1205h0M606 1193h0M768 1251h0M779 1227h0M776 1220h0M754 1176h0M582 1176h0M725 1156h0M722 1263h0M755 1151h0M661 1193h0M656 1271h0M649 1185h0M698 1163h0M768 1187h0M728 1189h0M741 1168h0M826 1154h0M829 1247h0M812 1232h0M785 1197h0M799 1177h0M770 1164h0M790 1247h0M641 1138h0M762 1211h0M725 1229h0M750 1188h0M669 1212h0M772 1236h0M706 1276h0M718 1165h0M649 1284h0M737 1225h0M769 1208h0M756 1192h0M797 1236h0M562 1191h0M779 1226h0M730 1186h0M677 1211h0M715 1288h0M685 1250h0M683 1173h0M656 1176h0M726 1196h0M736 1177h0M796 1229h0M594 1239h0M557 1174h0M789 1215h0M659 1306h0M667 1285h0M774 1205h0M736 1188h0M696 1206h0M583 1186h0M659 1179h0M744 1232h0M737 1234h0M624 1189h0M557 1226h0M713 1223h0M696 1213h0M680 1145h0M730 1199h0M787 1174h0M767 1271h0M731 1172h0M706 1196h0M701 1200h0M623 1160h0M814 1258h0M692 1219h0M750 1198h0M744 1240h0M760 1188h0M732 1222h0M723 1173h0M686 1217h0M687 1192h0M667 1171h0M709 1224h0M570 1144h0M592 1200h0M661 1225h0M771 1217h0M784 1216h0M637 1203h0M587 1262h0M713 1238h0M717 1197h0M741 1229h0M832 1227h0M813 1194h0M616 1209h0M588 1175h0M724 1195h0M715 1281h0M735 1268h0M777 1177h0M735 1171h0M591 1295h0M707 1204h0M567 1211h0M705 1131h0M830 1209h0M559 1196h0M746 1147h0M750 1238h0M763 1209h0M690 1159h0M694 1274h0M778 1176h0M561 1303h0M727 1271h0M665 1119h0M693 1177h0M834 1280h0M724 1230h0M713 1139h0M675 1288h0M711 1237h0M652 1215h0M817 1228h0M752 1245h0M599 1187h0M759 1224h0M778 1231h0M764 1196h0M677 1198h0M639 1191h0M793 1181h0M748 1256h0M758 1210h0M689 1174h0" stroke="#ea4132" stroke-width="3.6" stroke-linecap="round" stroke-opacity="0.17" fill="none"/>
<path d="M641 1190h0M684 1206h0M696 1218h0M586 1162h0M812 1255h0M726 1183h0M617 1165h0M620 1177h0M772 1150h0M775 1184h0M669 1224h0M831 1235h0M697 1151h0M663 1229h0M562 1190h0M680 1168h0M700 1235h0M684 1231h0M737 1179h0M752 1226h0M780 1221h0M775 1165h0M674 1200h0M617 1163h0M744 1210h0M662 1257h0M566 1233h0M722 1158h0M672 1209h0M823 1216h0M562 1154h0M660 1177h0M811 1259h0M807 1232h0M706 1228h0M667 1266h0M668 1201h0M733 1249h0M692 1177h0M566 1188h0M633 1216h0M732 1190h0M662 1198h0M703 1162h0M566 1177h0M651 1247h0M690 1274h0M668 1197h0M751 1192h0M665 1226h0M796 1221h0M733 1222h0M642 1137h0M738 1143h0M819 1171h0M812 1206h0M782 1141h0M724 1286h0M562 1221h0M753 1204h0M724 1179h0M666 1196h0M717 1225h0M784 1185h0M633 1239h0M803 1214h0M703 1184h0M739 1216h0M721 1140h0M639 1214h0M820 1173h0M741 1200h0M694 1150h0M668 1278h0M767 1135h0M727 1267h0M830 1165h0M713 1129h0M711 1246h0M618 1237h0M656 1199h0M718 1262h0M821 1310h0M808 1234h0M735 1222h0M786 1281h0M676 1245h0M749 1200h0M735 1181h0M680 1194h0M669 1171h0M781 1187h0M585 1141h0M718 1196h0M748 1206h0M663 1161h0M571 1171h0M693 1251h0M557 1221h0M744 1222h0M740 1204h0M678 1187h0M598 1253h0M657 1200h0M760 1230h0M799 1230h0M654 1172h0M686 1178h0M790 1203h0M637 1300h0M745 1233h0M671 1181h0M815 1153h0M725 1245h0M701 1178h0M770 1159h0M629 1193h0M680 1196h0M689 1201h0M595 1152h0M804 1264h0M639 1202h0M744 1232h0M557 1220h0M815 1154h0M557 1205h0M573 1206h0M773 1268h0M707 1251h0M834 1256h0M723 1192h0M658 1234h0M816 1247h0M606 1173h0M606 1220h0M630 1221h0M645 1245h0M815 1233h0M808 1164h0M694 1206h0M701 1281h0M629 1149h0M652 1227h0M694 1253h0M747 1214h0M690 1140h0M812 1223h0M681 1203h0M565 1166h0M666 1218h0M800 1227h0M748 1246h0M739 1206h0M728 1224h0M626 1241h0M803 1188h0M810 1178h0M720 1213h0M823 1206h0M698 1172h0M703 1234h0M827 1273h0M755 1237h0M811 1223h0M691 1242h0M793 1164h0M679 1222h0M779 1269h0M612 1143h0M738 1200h0M662 1150h0M703 1251h0M632 1181h0M762 1203h0M646 1247h0M813 1194h0M668 1193h0M728 1246h0M691 1228h0M617 1190h0M697 1168h0M635 1255h0M601 1156h0M602 1249h0M594 1280h0M715 1283h0M717 1204h0M830 1190h0M695 1186h0M648 1177h0M744 1255h0M642 1138h0M583 1179h0M605 1158h0M794 1200h0M665 1155h0M746 1208h0M685 1187h0M671 1220h0M589 1185h0M834 1237h0M704 1222h0M653 1219h0M691 1199h0M597 1204h0M627 1198h0M672 1232h0M747 1219h0M729 1227h0M562 1203h0M830 1243h0M587 1180h0M648 1297h0M778 1161h0M760 1182h0M588 1217h0M637 1223h0M574 1189h0M613 1168h0M628 1191h0M746 1154h0M595 1203h0M701 1160h0M732 1190h0M584 1211h0M610 1241h0M781 1209h0M730 1236h0M748 1168h0M734 1228h0M631 1156h0M735 1204h0" stroke="#ea4132" stroke-width="3.6" stroke-linecap="round" stroke-opacity="0.17" fill="none"/>
<path d="M775 1224h0M739 1206h0M688 1169h0M729 1209h0M834 1325h0M585 1167h0M582 1213h0M668 1134h0M758 1237h0M768 1327h0M708 1268h0M726 1293h0M680 1262h0M622 1223h0M828 1244h0M696 1192h0M597 1178h0M571 1217h0M785 1261h0M609 1210h0M663 1186h0M661 1134h0M677 1141h0M685 1148h0M834 1301h0M796 1321h0M693 1150h0M760 1182h0M591 1195h0M706 1296h0M734 1296h0M708 1176h0M781 1225h0M724 1264h0M677 1248h0M562 1187h0M761 1219h0M613 1168h0M823 1193h0M747 1217h0M791 1302h0M647 1262h0M680 1178h0M557 1252h0M607 1178h0M684 1232h0M700 1260h0M691 1208h0M811 1192h0M565 1255h0M797 1306h0M697 1271h0M621 1285h0M631 1194h0M777 1237h0M762 1236h0M749 1255h0M753 1276h0M589 1193h0M683 1136h0M697 1222h0M560 1194h0M781 1205h0M658 1200h0M736 1181h0M625 1153h0M707 1123h0M785 1240h0M786 1270h0M705 1177h0M707 1177h0M715 1184h0M730 1227h0M693 1198h0M678 1292h0M647 1254h0M785 1282h0M785 1205h0M734 1257h0M618 1185h0M752 1240h0M693 1157h0M806 1261h0M562 1123h0M607 1191h0M768 1233h0M703 1223h0M834 1263h0M800 1292h0M697 1219h0M776 1232h0M751 1262h0M568 1140h0M661 1310h0M829 1280h0M657 1171h0M822 1299h0M752 1171h0M583 1231h0M705 1287h0M762 1306h0M752 1218h0M557 1200h0M780 1243h0M756 1239h0M765 1189h0M646 1165h0M557 1195h0M722 1191h0M749 1216h0M786 1162h0M725 1142h0M760 1219h0M647 1229h0M708 1146h0M788 1222h0M707 1235h0M697 1170h0M769 1239h0M632 1284h0M685 1257h0M700 1197h0M772 1249h0M695 1264h0M729 1185h0M684 1258h0M566 1128h0M638 1303h0M735 1233h0M557 1142h0M803 1300h0M566 1185h0M738 1211h0M723 1271h0M735 1171h0M645 1241h0M731 1225h0M814 1199h0M649 1205h0M834 1234h0M656 1262h0M725 1269h0M574 1140h0M739 1258h0M779 1191h0M648 1205h0M782 1219h0M687 1263h0M769 1207h0M680 1215h0M567 1238h0M732 1251h0M744 1289h0M751 1212h0M762 1157h0M730 1307h0M790 1299h0M832 1280h0M600 1170h0M593 1108h0M577 1152h0M694 1223h0M620 1248h0M717 1257h0M740 1221h0M738 1243h0M735 1268h0M600 1213h0M716 1281h0M736 1219h0M781 1216h0M740 1150h0M757 1220h0M595 1240h0M783 1307h0M631 1244h0M706 1150h0M562 1265h0M670 1216h0M604 1128h0M833 1231h0M749 1288h0M800 1194h0M640 1204h0M682 1219h0M782 1308h0M753 1275h0M683 1156h0M696 1178h0M775 1191h0M784 1273h0M781 1267h0M741 1206h0M724 1201h0M829 1234h0M603 1223h0M690 1233h0M789 1209h0M776 1244h0M791 1219h0M572 1197h0M750 1184h0M761 1250h0M692 1240h0M703 1202h0M662 1165h0M562 1213h0M773 1261h0M775 1270h0M596 1257h0M827 1221h0M688 1211h0M764 1265h0M653 1176h0M773 1202h0M607 1125h0M674 1169h0M763 1173h0M739 1164h0M658 1220h0M791 1193h0M662 1120h0M762 1223h0M696 1299h0M735 1219h0M707 1140h0M828 1210h0M566 1157h0M834 1309h0M812 1226h0M726 1200h0" stroke="#3f3597" stroke-width="3.6" stroke-linecap="round" stroke-opacity="0.17" fill="none"/>
<path d="M706 1243h0M573 1165h0M688 1186h0M830 1260h0M777 1136h0M713 1208h0M675 1205h0M727 1241h0M739 1316h0M755 1247h0M656 1169h0M661 1218h0M688 1218h0M834 1210h0M761 1295h0M809 1308h0M711 1294h0M774 1199h0M720 1232h0M602 1144h0M663 1168h0M804 1153h0M597 1179h0M675 1213h0M636 1257h0M775 1224h0M767 1177h0M707 1168h0M710 1244h0M724 1291h0M562 1276h0M798 1257h0M689 1254h0M748 1216h0M773 1181h0M768 1205h0M748 1224h0M648 1254h0M780 1254h0M700 1219h0M708 1187h0M670 1158h0M696 1170h0M729 1218h0M715 1298h0M775 1256h0M644 1184h0M716 1279h0M761 1285h0M576 1182h0M698 1220h0M834 1226h0M830 1268h0M763 1209h0M683 1188h0M704 1258h0M651 1224h0M740 1287h0M795 1273h0M736 1319h0M745 1200h0M722 1263h0M720 1187h0M705 1283h0M624 1202h0M606 1146h0M711 1267h0M756 1266h0M614 1195h0M753 1212h0M794 1196h0M834 1215h0M588 1215h0M672 1206h0M647 1253h0M760 1275h0M640 1183h0M664 1270h0M629 1234h0M759 1273h0M583 1249h0M629 1197h0M703 1222h0M568 1222h0M771 1165h0M677 1195h0M761 1241h0M777 1152h0M809 1246h0M744 1279h0M693 1226h0M737 1245h0M738 1171h0M665 1293h0M750 1160h0M658 1180h0M695 1214h0M703 1182h0M703 1231h0M658 1225h0M557 1192h0M761 1198h0M685 1317h0M748 1228h0M714 1133h0M768 1163h0M723 1198h0M644 1253h0M791 1227h0M784 1162h0M810 1291h0M562 1202h0M557 1164h0M752 1255h0M801 1176h0M690 1190h0M598 1245h0M674 1287h0M805 1263h0M560 1164h0M810 1259h0M806 1266h0M609 1253h0M792 1275h0M745 1323h0M765 1260h0M749 1217h0M753 1300h0M727 1187h0M829 1228h0M804 1191h0M692 1217h0M749 1262h0M707 1231h0M564 1183h0M632 1130h0M562 1184h0M663 1263h0M728 1184h0M634 1229h0M609 1301h0M670 1247h0M566 1192h0M759 1166h0M661 1207h0M810 1217h0M813 1245h0M777 1237h0M834 1233h0M709 1261h0M763 1205h0M780 1281h0M833 1307h0M722 1267h0M752 1220h0M610 1170h0M698 1250h0M746 1207h0M781 1297h0M730 1221h0M830 1223h0M662 1227h0M678 1240h0M728 1215h0M783 1235h0M807 1240h0M682 1135h0M729 1221h0M714 1246h0M676 1203h0M740 1296h0M791 1305h0M774 1290h0M603 1238h0M738 1192h0M714 1286h0M720 1220h0M557 1101h0M726 1168h0M650 1188h0M796 1260h0M826 1266h0M797 1200h0M814 1198h0M742 1240h0M775 1229h0M760 1151h0M701 1165h0M695 1203h0M715 1195h0M825 1247h0M714 1213h0M688 1170h0M630 1203h0M703 1280h0M718 1202h0M731 1255h0M749 1247h0M743 1211h0M558 1161h0M792 1254h0M557 1255h0M719 1266h0M676 1225h0M632 1189h0M815 1273h0M799 1310h0M658 1234h0M699 1192h0M732 1236h0M747 1258h0M802 1235h0M755 1262h0M794 1247h0M689 1181h0M566 1203h0M566 1303h0M633 1284h0M706 1308h0M746 1301h0M585 1219h0M590 1123h0M735 1241h0M576 1311h0M563 1217h0M564 1230h0M638 1294h0M648 1173h0M738 1303h0M667 1265h0M829 1277h0" stroke="#3f3597" stroke-width="3.6" stroke-linecap="round" stroke-opacity="0.17" fill="none"/>
<path d="M760 1277h0M725 1228h0M724 1167h0M679 1249h0M580 1283h0M666 1219h0M673 1214h0M754 1178h0M692 1310h0M642 1202h0M758 1177h0M752 1283h0M752 1262h0M676 1197h0M637 1217h0M810 1303h0M594 1225h0M742 1271h0M683 1315h0M750 1280h0M591 1191h0M805 1286h0M730 1199h0M737 1211h0M732 1243h0M782 1243h0M834 1248h0M566 1239h0M805 1226h0M800 1198h0M737 1233h0M638 1188h0M645 1186h0M638 1267h0M746 1216h0M607 1215h0M594 1211h0M703 1222h0M603 1160h0M784 1277h0M652 1323h0M810 1199h0M727 1229h0M642 1237h0M688 1238h0M720 1307h0M738 1246h0M624 1183h0M628 1175h0M794 1250h0M735 1162h0M562 1141h0M689 1164h0M780 1220h0M599 1131h0M824 1264h0M703 1201h0M760 1320h0M768 1180h0M767 1138h0M806 1246h0M688 1143h0M653 1208h0M701 1290h0M645 1227h0M810 1235h0M682 1184h0M588 1179h0M710 1221h0M586 1134h0M778 1298h0M722 1254h0M650 1239h0M797 1238h0M687 1226h0M818 1323h0M560 1213h0M779 1280h0M569 1173h0M682 1185h0M754 1228h0M753 1220h0M786 1221h0M767 1140h0M829 1248h0M750 1229h0M697 1179h0M588 1228h0M665 1221h0M713 1244h0M574 1181h0M634 1227h0M746 1226h0M688 1238h0M566 1188h0M646 1179h0M649 1159h0M682 1218h0M657 1176h0M728 1284h0M632 1287h0M716 1305h0M701 1190h0M820 1227h0M746 1205h0M747 1237h0M692 1232h0M745 1180h0M630 1222h0M731 1261h0M585 1196h0M731 1270h0M587 1163h0M760 1217h0M830 1172h0M676 1188h0M663 1153h0M697 1193h0M602 1121h0M751 1179h0M759 1207h0M740 1245h0M788 1245h0M806 1311h0M752 1255h0M662 1157h0M572 1224h0M751 1209h0M668 1250h0M748 1166h0M570 1182h0M669 1259h0M762 1229h0M755 1328h0M671 1210h0M822 1309h0M557 1195h0M632 1181h0M692 1246h0M782 1247h0M733 1242h0M755 1185h0M731 1254h0M589 1147h0M722 1201h0M762 1253h0M790 1229h0M790 1230h0M754 1200h0M626 1280h0M778 1214h0M597 1185h0M593 1156h0M594 1226h0M706 1325h0M562 1201h0M810 1275h0M741 1220h0M711 1294h0M771 1274h0M656 1132h0M721 1192h0M711 1139h0M776 1277h0M664 1202h0M810 1313h0M756 1290h0M710 1216h0M773 1235h0M817 1259h0M827 1247h0M695 1176h0M765 1202h0M721 1201h0M608 1255h0M637 1146h0M730 1170h0M599 1239h0M701 1276h0M822 1246h0M749 1219h0M802 1242h0M757 1249h0M615 1198h0M678 1155h0M628 1141h0M776 1279h0M645 1189h0M651 1197h0M584 1237h0M705 1174h0M774 1308h0M666 1233h0M605 1238h0M562 1201h0M732 1298h0M762 1254h0M771 1235h0M702 1222h0M618 1165h0M791 1254h0M741 1226h0M799 1276h0M722 1190h0M650 1188h0M764 1229h0M821 1285h0M802 1168h0M588 1178h0M569 1249h0M624 1172h0M738 1266h0M800 1215h0M760 1236h0M690 1245h0M777 1284h0M693 1312h0M586 1130h0M577 1197h0M726 1275h0M764 1185h0M560 1214h0M703 1214h0M623 1188h0M580 1155h0M715 1300h0M652 1147h0M577 1183h0M739 1207h0M562 1218h0M692 1202h0" stroke="#3f3597" stroke-width="3.6" stroke-linecap="round" stroke-opacity="0.17" fill="none"/>
<path d="M768 1190h0M753 1253h0M749 1206h0M805 1244h0M744 1159h0M715 1275h0M810 1227h0M754 1225h0M617 1227h0M557 1177h0M566 1135h0M678 1197h0M741 1177h0M757 1195h0M699 1141h0M616 1216h0M803 1276h0M671 1167h0M688 1241h0M659 1221h0M631 1142h0M788 1206h0M614 1235h0M598 1207h0M604 1155h0M741 1218h0M731 1156h0M717 1236h0M796 1247h0M577 1192h0M575 1193h0M664 1163h0M665 1136h0M663 1151h0M704 1266h0M810 1251h0M737 1233h0M662 1200h0M822 1286h0M645 1245h0M728 1256h0M727 1246h0M648 1214h0M693 1141h0M688 1191h0M685 1165h0M645 1225h0M732 1233h0M674 1173h0M696 1217h0M825 1305h0M769 1238h0M615 1201h0M699 1200h0M730 1280h0M774 1290h0M642 1263h0M604 1147h0M632 1269h0M785 1221h0M812 1314h0M667 1196h0M816 1318h0M711 1240h0M725 1187h0M712 1296h0M765 1177h0M701 1285h0M660 1208h0M727 1252h0M686 1239h0M663 1221h0M562 1222h0M735 1287h0M797 1298h0M666 1263h0M794 1209h0M761 1208h0M663 1175h0M647 1247h0M693 1262h0M716 1260h0M669 1271h0M700 1280h0M607 1190h0M812 1221h0M638 1112h0M715 1212h0M767 1252h0M715 1214h0M758 1226h0M767 1246h0M638 1190h0M770 1195h0M646 1196h0M723 1190h0M830 1206h0M674 1251h0M700 1199h0M743 1221h0M767 1322h0M708 1143h0M739 1148h0M742 1221h0M710 1234h0M636 1122h0M655 1210h0M651 1211h0M769 1193h0M748 1248h0M670 1123h0M710 1145h0M766 1321h0M569 1243h0M741 1285h0M634 1122h0M635 1286h0M830 1241h0M789 1224h0M741 1214h0M724 1309h0M603 1202h0M750 1210h0M733 1201h0M679 1211h0M685 1149h0M695 1237h0M610 1156h0M717 1237h0M648 1304h0M613 1251h0M726 1228h0M646 1181h0M712 1288h0M712 1172h0M631 1184h0M758 1188h0M566 1181h0M735 1226h0M822 1201h0M718 1256h0M728 1247h0M614 1116h0M661 1240h0M783 1287h0M668 1250h0M700 1163h0M760 1227h0M711 1242h0M830 1311h0M736 1246h0M595 1180h0M763 1281h0M592 1215h0M733 1202h0M783 1245h0M747 1229h0M659 1217h0M766 1223h0M653 1196h0M709 1273h0M756 1222h0M730 1237h0M646 1263h0M747 1212h0M810 1183h0M640 1198h0M640 1271h0M742 1236h0M624 1236h0M712 1211h0M834 1201h0M593 1234h0M807 1250h0M618 1270h0M790 1224h0M562 1160h0M683 1196h0M619 1158h0M788 1175h0M573 1170h0M744 1310h0M746 1282h0M770 1289h0M698 1279h0M654 1213h0M761 1136h0M745 1268h0M721 1297h0M828 1265h0M703 1271h0M683 1204h0M680 1247h0M617 1215h0M797 1211h0M584 1148h0M628 1286h0M729 1175h0M705 1261h0M711 1153h0M769 1181h0M758 1270h0M615 1276h0M693 1195h0M747 1267h0M707 1210h0M748 1187h0M689 1283h0M725 1184h0M714 1302h0M580 1202h0M729 1206h0M642 1204h0M581 1258h0M713 1308h0M736 1306h0M830 1265h0M740 1215h0M826 1247h0M685 1161h0M736 1250h0M713 1239h0M722 1253h0M774 1273h0M810 1241h0M695 1257h0M693 1129h0M676 1140h0M633 1237h0M638 1240h0M680 1234h0" stroke="#3f3597" stroke-width="3.6" stroke-linecap="round" stroke-opacity="0.17" fill="none"/>
<path d="M698 1242h0M750 1165h0M791 1241h0M779 1218h0M831 1280h0M755 1301h0M714 1133h0M691 1136h0M800 1273h0M807 1278h0M648 1263h0M824 1205h0M658 1180h0M580 1229h0M830 1235h0M789 1213h0M762 1253h0M737 1205h0M777 1186h0M668 1258h0M562 1182h0M713 1302h0M748 1232h0M772 1230h0M574 1171h0M705 1260h0M648 1216h0M705 1225h0M681 1291h0M684 1217h0M569 1169h0M588 1151h0M622 1270h0M725 1248h0M661 1194h0M591 1241h0M673 1148h0M833 1271h0M636 1290h0M700 1275h0M748 1156h0M749 1292h0M664 1204h0M746 1236h0M803 1180h0M598 1175h0M664 1251h0M673 1191h0M724 1195h0M651 1199h0M744 1248h0M595 1228h0M757 1201h0M656 1231h0M678 1244h0M732 1217h0M664 1292h0M730 1201h0M702 1229h0M599 1289h0M637 1268h0M705 1187h0M652 1176h0M609 1288h0M687 1188h0M564 1186h0M702 1189h0M698 1198h0M741 1237h0M799 1160h0M808 1285h0M710 1299h0M691 1173h0M736 1222h0M696 1246h0M798 1235h0M753 1195h0M772 1253h0M822 1256h0M575 1275h0M764 1277h0M809 1254h0M834 1258h0M705 1242h0M753 1217h0M695 1181h0M748 1159h0M599 1251h0M662 1179h0M703 1218h0M734 1229h0M629 1200h0M670 1323h0M681 1212h0M562 1216h0M711 1311h0M719 1154h0M710 1186h0M662 1230h0M699 1250h0M715 1282h0M794 1169h0M655 1225h0M653 1223h0M713 1304h0M685 1205h0M761 1291h0M718 1228h0M751 1218h0M615 1200h0M713 1321h0M620 1152h0M691 1292h0M660 1189h0M696 1203h0M814 1272h0M591 1200h0M724 1261h0M694 1266h0M733 1211h0M787 1278h0M827 1244h0M567 1187h0M700 1186h0M706 1208h0M566 1110h0M601 1223h0M687 1204h0M694 1193h0M638 1180h0M615 1215h0M833 1270h0M593 1122h0M802 1192h0M709 1211h0M782 1295h0M752 1209h0M760 1240h0M665 1186h0M829 1281h0M625 1286h0M767 1300h0M738 1157h0M566 1259h0M834 1276h0M759 1255h0M721 1178h0M696 1257h0M759 1294h0M578 1267h0M724 1233h0M758 1220h0M557 1239h0M830 1275h0M769 1234h0M764 1264h0M662 1188h0M780 1261h0M730 1242h0M573 1232h0M689 1215h0M701 1247h0M757 1146h0M659 1268h0M693 1248h0M691 1273h0M701 1164h0M782 1251h0M653 1287h0M760 1277h0M585 1277h0M641 1203h0M750 1208h0M828 1204h0M742 1313h0M755 1187h0M588 1154h0M672 1238h0M830 1206h0M670 1174h0M776 1184h0M721 1297h0M717 1251h0M600 1227h0M834 1296h0M751 1227h0M761 1221h0M809 1215h0M695 1157h0M636 1272h0M720 1180h0M562 1182h0M617 1224h0M830 1293h0M557 1212h0M764 1314h0M720 1238h0M712 1248h0M751 1245h0M753 1231h0M685 1264h0M671 1164h0M692 1200h0M768 1263h0M730 1262h0M729 1292h0M760 1216h0M725 1302h0M806 1229h0M780 1260h0M745 1253h0M711 1210h0M637 1216h0M685 1169h0M644 1229h0M716 1248h0M640 1142h0M730 1205h0M722 1218h0M833 1250h0M740 1228h0M733 1225h0M671 1216h0M685 1168h0M685 1224h0M719 1235h0M771 1261h0M741 1326h0M822 1201h0M753 1230h0M749 1282h0" stroke="#3f3597" stroke-width="3.6" stroke-linecap="round" stroke-opacity="0.17" fill="none"/>
<path d="M673 1200h0M583 1202h0M633 1286h0M829 1298h0M620 1287h0M678 1191h0M828 1234h0M830 1305h0M619 1116h0M681 1237h0M694 1191h0M566 1229h0M562 1181h0M661 1214h0M557 1169h0M643 1201h0M591 1188h0M725 1293h0M566 1198h0M628 1204h0M559 1180h0M724 1257h0M623 1120h0M827 1289h0M812 1237h0M652 1244h0M715 1167h0M692 1228h0M761 1217h0M762 1210h0M681 1236h0M654 1294h0M562 1246h0M737 1279h0M821 1299h0M644 1279h0M736 1198h0M798 1246h0M623 1224h0M707 1229h0M589 1206h0M664 1197h0M597 1132h0M795 1312h0M773 1286h0M738 1213h0M711 1261h0M740 1229h0M588 1181h0M791 1296h0M761 1250h0M834 1256h0M757 1202h0M724 1213h0M658 1210h0M608 1201h0M735 1317h0M831 1246h0M728 1259h0M710 1199h0M789 1231h0M654 1245h0M684 1217h0M720 1238h0M766 1287h0M763 1242h0M754 1269h0M650 1211h0M744 1233h0M792 1316h0M710 1288h0M760 1176h0M720 1217h0M654 1190h0M709 1175h0M827 1216h0M823 1173h0M817 1261h0M783 1254h0M730 1194h0M626 1173h0M646 1179h0M775 1169h0M610 1253h0M772 1148h0M687 1221h0M672 1195h0M728 1215h0M655 1187h0M723 1221h0M610 1255h0M745 1238h0M709 1232h0M731 1153h0M766 1233h0M830 1315h0M711 1201h0M813 1324h0M804 1219h0M834 1243h0M676 1249h0M642 1205h0M727 1174h0M580 1204h0M653 1219h0M821 1288h0M728 1200h0M701 1238h0M575 1176h0M681 1211h0M757 1250h0M635 1143h0M751 1183h0M687 1307h0M725 1246h0M743 1238h0M797 1146h0M818 1264h0M830 1247h0M810 1194h0M672 1253h0M616 1246h0M562 1169h0M657 1167h0M719 1160h0M687 1221h0M630 1208h0M650 1196h0M715 1220h0M717 1200h0M832 1241h0M739 1248h0M735 1289h0M618 1198h0M582 1265h0M812 1263h0M569 1190h0M830 1275h0M570 1158h0M684 1157h0M699 1151h0M694 1209h0M687 1245h0M812 1284h0M754 1281h0M795 1193h0M723 1167h0M645 1249h0M677 1150h0M809 1300h0M644 1184h0M763 1195h0M809 1300h0M726 1215h0M761 1238h0M604 1181h0M626 1216h0M758 1319h0M585 1195h0M786 1250h0M668 1221h0M692 1297h0M821 1273h0M644 1224h0M775 1241h0M576 1189h0M611 1219h0M716 1227h0M743 1216h0M615 1164h0M591 1177h0M590 1219h0M739 1253h0M668 1191h0M579 1275h0M737 1307h0M726 1300h0M673 1213h0M806 1246h0M834 1247h0M711 1212h0M780 1204h0M712 1193h0M713 1286h0M557 1134h0M771 1252h0M696 1219h0M629 1180h0M595 1187h0M676 1211h0M782 1285h0M715 1260h0M607 1160h0M766 1267h0M803 1266h0M705 1268h0M752 1282h0M797 1241h0M690 1213h0M591 1200h0M740 1186h0M567 1260h0M734 1297h0M644 1233h0M814 1317h0M721 1207h0M661 1272h0M637 1289h0M786 1243h0M799 1212h0M737 1300h0M740 1260h0M647 1244h0M759 1203h0M660 1260h0M584 1236h0M668 1246h0M693 1152h0M732 1162h0M720 1231h0M639 1240h0M823 1209h0M739 1228h0M716 1289h0M668 1262h0M726 1275h0M790 1236h0M702 1203h0M708 1172h0M825 1311h0M770 1230h0" stroke="#3f3597" stroke-width="3.6" stroke-linecap="round" stroke-opacity="0.17" fill="none"/>
<path d="M698 1250h0M628 1168h0M685 1197h0M689 1189h0M717 1300h0M809 1150h0M814 1242h0M629 1130h0M819 1225h0M704 1283h0M781 1311h0M735 1246h0M830 1302h0M747 1251h0M738 1238h0M717 1301h0M790 1263h0M572 1176h0M685 1212h0M669 1183h0M796 1188h0M622 1196h0M717 1175h0M740 1178h0M798 1277h0M796 1224h0M714 1317h0M830 1311h0M787 1317h0M750 1167h0M793 1309h0M783 1228h0M680 1278h0M602 1221h0M679 1212h0M642 1199h0M687 1250h0M742 1215h0M814 1307h0M667 1293h0M665 1135h0M727 1170h0M820 1279h0M562 1216h0M803 1211h0M685 1177h0M767 1188h0M760 1313h0M737 1182h0M692 1253h0M683 1186h0M602 1176h0M730 1216h0M740 1185h0M681 1156h0M809 1273h0M697 1214h0M805 1190h0M827 1229h0M752 1232h0M717 1231h0M591 1170h0M789 1206h0M830 1302h0M725 1321h0M628 1211h0M601 1212h0M670 1214h0M670 1135h0M809 1213h0M623 1234h0M738 1245h0M729 1153h0M787 1287h0M668 1210h0M644 1181h0M738 1174h0M572 1243h0M572 1182h0M661 1124h0M571 1160h0M830 1217h0M714 1307h0M700 1170h0M778 1196h0M776 1236h0M747 1189h0M639 1166h0M647 1319h0M557 1188h0M605 1203h0M749 1267h0M660 1191h0M589 1205h0M768 1307h0M679 1274h0M757 1270h0M747 1255h0M667 1233h0M666 1267h0M619 1208h0M672 1169h0M566 1273h0M657 1252h0M771 1243h0M777 1228h0M776 1262h0M798 1183h0M753 1186h0M739 1221h0M575 1152h0M762 1169h0M718 1266h0M805 1310h0M787 1313h0M788 1261h0M736 1248h0M744 1208h0M797 1311h0M566 1141h0M687 1202h0M716 1236h0M774 1300h0M594 1229h0M707 1299h0M764 1301h0M734 1209h0M628 1242h0M658 1237h0M633 1213h0M742 1234h0M593 1257h0M626 1202h0M790 1219h0M595 1265h0M617 1295h0M662 1248h0M691 1177h0M603 1140h0M714 1251h0M652 1138h0M830 1252h0M756 1135h0M733 1266h0M695 1301h0M779 1147h0M703 1283h0M702 1225h0M817 1313h0M765 1190h0M827 1216h0M750 1288h0M749 1301h0M711 1210h0M727 1197h0M627 1295h0M626 1193h0M689 1287h0M681 1213h0M680 1229h0M764 1202h0M679 1242h0M772 1309h0M760 1252h0M729 1262h0M734 1235h0M728 1254h0M732 1218h0M726 1276h0M572 1247h0M608 1207h0M557 1169h0M695 1265h0M784 1264h0M661 1295h0M641 1142h0M763 1247h0M724 1303h0M748 1250h0M720 1259h0M728 1220h0M769 1291h0M612 1179h0M715 1211h0M717 1236h0M787 1233h0M650 1205h0M691 1277h0M697 1122h0M557 1123h0M711 1213h0M755 1249h0M749 1205h0M619 1220h0M732 1267h0M782 1277h0M574 1165h0M684 1280h0M784 1198h0M618 1166h0M766 1298h0M654 1178h0M792 1256h0M636 1307h0M659 1178h0M607 1186h0M702 1240h0M586 1232h0M797 1274h0M770 1146h0M699 1267h0M668 1193h0M775 1217h0M795 1225h0M696 1150h0M825 1262h0M664 1251h0M655 1277h0M711 1243h0M695 1197h0M807 1280h0M737 1214h0M569 1180h0M779 1225h0M659 1180h0M750 1159h0M771 1297h0M560 1167h0M693 1279h0M710 1227h0M666 1158h0" stroke="#3f3597" stroke-width="3.6" stroke-linecap="round" stroke-opacity="0.17" fill="none"/>
<path d="M751 1277h0M727 1165h0M655 1217h0M796 1254h0M656 1195h0M691 1178h0M708 1284h0M796 1316h0M736 1272h0M793 1252h0M775 1212h0M779 1241h0M570 1269h0M761 1268h0M779 1264h0M687 1199h0M648 1229h0M748 1261h0M610 1216h0M576 1199h0M745 1218h0M699 1278h0M647 1208h0M768 1165h0M701 1243h0M831 1209h0M743 1243h0M753 1256h0M738 1258h0M803 1254h0M834 1275h0M643 1144h0M709 1167h0M715 1279h0M779 1210h0M784 1251h0M695 1215h0M641 1219h0M717 1233h0M690 1156h0M671 1163h0M751 1239h0M726 1196h0M698 1285h0M705 1259h0M657 1239h0M656 1169h0M674 1303h0M764 1185h0M711 1237h0M770 1227h0M675 1206h0M755 1187h0M799 1318h0M695 1222h0M593 1211h0M711 1237h0M831 1193h0M805 1275h0M716 1201h0M640 1185h0M689 1233h0M758 1261h0M648 1251h0M703 1320h0M673 1234h0M701 1165h0M737 1326h0M670 1207h0M761 1280h0M822 1273h0M714 1227h0M630 1139h0M604 1110h0M655 1187h0M604 1190h0M715 1210h0M735 1249h0M669 1250h0M686 1171h0M696 1167h0M689 1224h0M757 1165h0M738 1229h0M777 1180h0M812 1251h0M684 1165h0M756 1183h0M831 1197h0M716 1212h0M809 1252h0M768 1280h0M720 1259h0M647 1129h0M796 1303h0M603 1209h0M710 1191h0M799 1261h0M706 1300h0M777 1209h0M558 1236h0M557 1214h0M834 1189h0M674 1247h0M671 1200h0M777 1213h0M803 1255h0M774 1251h0M692 1215h0M743 1307h0M742 1157h0M706 1276h0M740 1179h0M789 1251h0M735 1230h0M639 1271h0M815 1264h0M833 1237h0M571 1170h0M670 1259h0M581 1113h0M738 1254h0M563 1202h0M765 1250h0M643 1255h0M571 1175h0M680 1158h0M695 1226h0M641 1166h0M720 1291h0M749 1233h0M653 1193h0M629 1171h0M642 1197h0M771 1148h0M803 1199h0M566 1173h0M566 1217h0M833 1303h0M622 1209h0M655 1217h0M759 1179h0M659 1204h0M616 1232h0M668 1187h0M783 1182h0M605 1230h0M593 1280h0M672 1188h0M569 1155h0M654 1143h0M796 1213h0M589 1134h0M601 1177h0M713 1249h0M689 1269h0M689 1175h0M692 1237h0M649 1174h0M723 1268h0M677 1204h0M687 1132h0M633 1286h0M607 1145h0M727 1225h0M570 1170h0M733 1276h0M757 1254h0M831 1254h0M673 1291h0M576 1189h0M812 1148h0M676 1277h0M590 1187h0M678 1269h0M710 1322h0M735 1270h0M641 1138h0M830 1292h0M668 1219h0M821 1261h0M829 1230h0M778 1290h0M830 1242h0M786 1192h0M602 1168h0M615 1182h0M743 1247h0M681 1126h0M584 1192h0M760 1239h0M557 1182h0M756 1282h0M590 1210h0M722 1249h0M652 1210h0M604 1210h0M779 1312h0M723 1166h0M704 1182h0M766 1181h0M774 1232h0M784 1253h0M812 1206h0M718 1263h0M786 1219h0M735 1291h0M809 1211h0M695 1225h0M598 1228h0M689 1320h0M726 1272h0M748 1263h0M783 1173h0M615 1259h0M693 1173h0M782 1269h0M713 1257h0M695 1171h0M742 1175h0M705 1232h0M794 1149h0M570 1152h0M680 1297h0M587 1124h0M770 1256h0M562 1227h0M754 1229h0M706 1274h0M724 1272h0M758 1249h0" stroke="#3f3597" stroke-width="3.6" stroke-linecap="round" stroke-opacity="0.17" fill="none"/>
<path d="M818 1268h0M629 1151h0M749 1256h0M669 1229h0M814 1267h0M654 1210h0M663 1281h0M665 1145h0M811 1266h0M749 1283h0M639 1204h0M587 1217h0M650 1290h0M686 1143h0M683 1241h0M700 1192h0M562 1190h0M736 1218h0M728 1195h0M716 1287h0M735 1244h0M576 1253h0M807 1326h0M737 1180h0M561 1199h0M648 1197h0M785 1228h0M753 1205h0M674 1226h0M691 1221h0M765 1234h0M812 1315h0M721 1211h0M801 1279h0M760 1222h0M575 1170h0M721 1189h0M737 1304h0M796 1251h0M809 1198h0M786 1207h0M568 1214h0M727 1226h0M808 1142h0M673 1258h0M681 1244h0M637 1143h0M755 1269h0M642 1165h0M748 1183h0M669 1327h0M719 1228h0M570 1144h0M731 1300h0M706 1236h0M700 1290h0M806 1256h0M561 1152h0M561 1183h0M666 1202h0M615 1228h0M599 1150h0M700 1294h0M709 1201h0M619 1170h0M771 1288h0M711 1162h0M775 1302h0M702 1184h0M570 1151h0M745 1226h0M814 1293h0M818 1234h0M755 1258h0M812 1272h0M736 1207h0M621 1307h0M772 1228h0M574 1232h0M638 1187h0M802 1203h0M668 1132h0M756 1197h0M572 1157h0M594 1263h0M797 1264h0M624 1137h0M640 1217h0M817 1253h0M600 1253h0M686 1231h0M631 1220h0M685 1185h0M689 1240h0M701 1180h0M732 1242h0M747 1187h0M785 1222h0M825 1228h0M781 1294h0M747 1171h0M643 1256h0M698 1242h0M610 1209h0M685 1235h0M749 1318h0M675 1232h0M726 1163h0M665 1155h0M740 1172h0M684 1273h0M663 1213h0M610 1307h0M559 1243h0M697 1178h0M593 1191h0M808 1267h0M722 1215h0M557 1192h0M713 1183h0M800 1212h0M745 1221h0M795 1312h0M642 1249h0M717 1319h0M738 1291h0M811 1177h0M581 1224h0M702 1213h0M557 1293h0M736 1227h0M799 1253h0M755 1159h0M735 1225h0M586 1161h0M745 1212h0M689 1297h0M788 1140h0M760 1205h0M714 1260h0M684 1212h0M833 1302h0M582 1236h0M729 1234h0M674 1251h0M671 1212h0M733 1223h0M576 1117h0M585 1180h0M741 1294h0M823 1235h0M701 1188h0M605 1206h0M781 1206h0M730 1240h0M629 1220h0M715 1244h0M656 1163h0M635 1194h0M788 1238h0M749 1267h0M765 1270h0M695 1282h0M742 1234h0M713 1316h0M794 1163h0M565 1146h0M646 1246h0M782 1264h0M808 1211h0M649 1211h0M694 1231h0M825 1191h0M652 1182h0M804 1192h0M557 1286h0M775 1199h0M678 1235h0M753 1228h0M783 1249h0M833 1244h0M693 1151h0M565 1124h0M757 1254h0M714 1198h0M714 1242h0M678 1206h0M703 1207h0M787 1226h0M707 1260h0M749 1213h0M705 1241h0M653 1250h0M646 1165h0M709 1181h0M716 1303h0M687 1310h0M664 1200h0M613 1222h0M762 1224h0M745 1262h0M708 1192h0M640 1185h0M790 1222h0M729 1200h0M603 1181h0M756 1176h0M782 1204h0M644 1145h0M632 1225h0M749 1282h0M727 1283h0M634 1140h0M570 1225h0M637 1189h0M834 1293h0M768 1147h0M741 1220h0M698 1159h0M566 1259h0M766 1254h0M576 1230h0M634 1203h0M707 1151h0M664 1184h0M595 1197h0M822 1213h0M591 1208h0M736 1210h0M748 1247h0M728 1243h0" stroke="#3f3597" stroke-width="3.6" stroke-linecap="round" stroke-opacity="0.17" fill="none"/>
<path d="M571 1133h0M825 1236h0M784 1291h0M645 1153h0M789 1182h0M764 1218h0M790 1228h0M793 1239h0M792 1190h0M791 1249h0M743 1229h0M791 1269h0M686 1194h0M650 1223h0M717 1196h0M719 1199h0M671 1146h0M647 1237h0M701 1301h0M721 1273h0M636 1258h0M693 1173h0M770 1320h0M683 1222h0M741 1217h0M793 1275h0M670 1236h0M557 1137h0M691 1287h0M639 1191h0M577 1166h0M794 1305h0M669 1184h0M821 1219h0M834 1164h0M715 1285h0M704 1245h0M757 1262h0M832 1226h0M568 1147h0M720 1241h0M687 1200h0M605 1139h0M763 1302h0M755 1163h0M753 1208h0M655 1188h0M707 1253h0M683 1233h0M810 1253h0M675 1304h0M657 1273h0M778 1186h0M675 1194h0M737 1211h0M683 1221h0M660 1244h0M627 1264h0M685 1279h0M687 1275h0M614 1141h0M669 1174h0M670 1128h0M746 1222h0M729 1225h0M703 1264h0M771 1288h0M734 1218h0M785 1290h0M750 1222h0M685 1236h0M710 1217h0M634 1190h0M753 1319h0M804 1253h0M572 1195h0M758 1294h0M651 1132h0M830 1315h0M736 1152h0M695 1182h0M775 1209h0M685 1201h0M627 1143h0M830 1218h0M694 1212h0M695 1308h0M762 1173h0M742 1251h0M782 1262h0M794 1251h0M635 1186h0M711 1217h0M562 1205h0M675 1290h0M834 1226h0M647 1146h0M800 1229h0M747 1254h0M735 1229h0M768 1283h0M737 1206h0M649 1292h0M627 1120h0M605 1230h0M808 1265h0M604 1205h0M782 1228h0M661 1195h0M662 1182h0M741 1231h0M748 1223h0M822 1274h0M761 1265h0M783 1216h0M820 1278h0M782 1302h0M830 1193h0M679 1172h0M675 1146h0M768 1223h0M664 1147h0M687 1281h0M707 1230h0M828 1189h0M781 1283h0M649 1208h0M791 1215h0M682 1209h0M741 1218h0M754 1161h0M706 1198h0M639 1179h0M757 1252h0M789 1210h0M833 1261h0M834 1248h0M796 1263h0M649 1230h0M579 1167h0M796 1215h0M740 1183h0M790 1237h0M778 1262h0M763 1245h0M774 1285h0M632 1158h0M675 1233h0M647 1203h0M751 1265h0M778 1285h0M700 1204h0M582 1174h0M630 1205h0M589 1217h0M605 1165h0M678 1148h0M564 1210h0M830 1255h0M800 1203h0M810 1274h0M758 1176h0M562 1158h0M704 1191h0M733 1248h0M676 1201h0M701 1215h0M703 1195h0M692 1128h0M822 1195h0M745 1225h0M780 1288h0M654 1186h0M682 1219h0M786 1319h0M752 1251h0M588 1179h0M627 1240h0M578 1225h0M687 1186h0M722 1142h0M621 1143h0M713 1191h0M796 1273h0M560 1228h0M684 1139h0M728 1214h0M689 1232h0M615 1171h0M724 1262h0M659 1216h0M590 1133h0M827 1239h0M742 1216h0M656 1195h0M714 1252h0M766 1251h0M781 1241h0M769 1227h0M688 1230h0M697 1144h0M746 1248h0M783 1236h0M704 1266h0M804 1236h0M715 1188h0M712 1167h0M637 1110h0M760 1277h0M557 1158h0M753 1245h0M710 1234h0M728 1316h0M609 1287h0M795 1283h0M564 1153h0M685 1247h0M824 1213h0M695 1315h0M611 1185h0M750 1266h0M787 1143h0M750 1327h0M674 1165h0M611 1239h0M762 1226h0M698 1159h0M640 1212h0M718 1209h0M783 1176h0M640 1185h0" stroke="#3f3597" stroke-width="3.6" stroke-linecap="round" stroke-opacity="0.17" fill="none"/>
<path d="M557.4 1189.5L582.5 1195.7L607.6 1201.8L632.8 1207.8L657.9 1213.8L683.1 1219.6L708.2 1225.2L733.3 1230.6L758.5 1235.8L783.6 1240.9L808.8 1245.9L833.9 1251" stroke="#3f3597" stroke-width="1.5" fill="none" stroke-dasharray="6.5 4.5"/>
<path d="M557.4 1197.1L582.5 1202.1L607.6 1207.1L632.8 1212.3L657.9 1217.5L683.1 1222.8L708.2 1228.4L733.3 1234.2L758.5 1240.2L783.6 1246.3L808.8 1252.4L833.9 1258.5" stroke="#3f3597" stroke-width="1.5" fill="none" stroke-dasharray="6.5 4.5"/>
<line x1="557.35" y1="1193.29" x2="833.89" y2="1254.74" stroke="#3f3597" stroke-width="2.3" />
<path d="M557.4 1204.3L582.5 1206.5L607.6 1208.8L632.8 1211L657.9 1213L683.1 1215L708.2 1216.7L733.3 1218.2L758.5 1219.5L783.6 1220.7L808.8 1221.9L833.9 1223.1" stroke="#ea4132" stroke-width="1.5" fill="none" stroke-dasharray="6.5 4.5"/>
<path d="M557.4 1211.8L582.5 1212.9L607.6 1214.1L632.8 1215.4L657.9 1216.7L683.1 1218.2L708.2 1219.9L733.3 1221.8L758.5 1223.9L783.6 1226.1L808.8 1228.3L833.9 1230.6" stroke="#ea4132" stroke-width="1.5" fill="none" stroke-dasharray="6.5 4.5"/>
<line x1="557.35" y1="1208.03" x2="833.89" y2="1226.84" stroke="#ea4132" stroke-width="2.3" />
<path d="M529.7 1014.6V1328.1H843.95M529.7 1265.4h4M592.55 1328.1v-4M529.7 1202.7h4M655.4 1328.1v-4M529.7 1140h4M718.25 1328.1v-4M529.7 1077.3h4M781.1 1328.1v-4M529.7 1014.6h4M843.95 1328.1v-4" stroke="#231f20" stroke-width="2" fill="none"/>
<text x="529.7" y="1361.4" font-size="31" fill="#231f20" text-anchor="middle" textLength="17.06" lengthAdjust="spacingAndGlyphs">0</text>
<text x="592.55" y="1361.4" font-size="31" fill="#231f20" text-anchor="middle" textLength="17.06" lengthAdjust="spacingAndGlyphs">5</text>
<text x="655.4" y="1361.4" font-size="31" fill="#231f20" text-anchor="middle" textLength="34.13" lengthAdjust="spacingAndGlyphs">10</text>
<text x="718.25" y="1361.4" font-size="31" fill="#231f20" text-anchor="middle" textLength="34.13" lengthAdjust="spacingAndGlyphs">15</text>
<text x="781.1" y="1361.4" font-size="31" fill="#231f20" text-anchor="middle" textLength="34.13" lengthAdjust="spacingAndGlyphs">20</text>
<text x="843.95" y="1361.4" font-size="31" fill="#231f20" text-anchor="middle" textLength="34.13" lengthAdjust="spacingAndGlyphs">25</text>
<text x="715.9" y="1024" font-size="29" fill="#231f20" text-anchor="middle">In-vivo dMRI</text>
<text x="716.7" y="1057.5" font-size="29" fill="#231f20" text-anchor="middle">(All)</text>
<text x="716.7" y="1396" font-size="31" fill="#231f20" text-anchor="middle" textLength="211.5" lengthAdjust="spacingAndGlyphs">Distance (mm)</text>
<path d="M1127 1203.5h0M1000.3 1152.3h0M1047.8 1193.7h0M997.6 1142.6h0M1208.9 1215.3h0M1155.4 1229.8h0M1093.2 1237.9h0M1198.8 1244.5h0M1173.9 1202.3h0M1006.3 1217.6h0M1077.3 1230.7h0M1200.9 1185.7h0M1156.7 1217.8h0M997.7 1199.7h0M992.9 1178.3h0M1141.1 1175.9h0M1061.7 1179h0M1029.7 1167.6h0M1099.6 1195.9h0M1083.3 1193.6h0M947.7 1184.2h0M1068.7 1189.9h0M1069 1204.3h0M1065.3 1219.1h0M1009.5 1232.8h0M1192.6 1205.6h0M1020.2 1200.7h0M1062.2 1193.5h0M1038.1 1171.2h0M1153.8 1241.7h0M1039.9 1238.3h0M1103.1 1193.3h0M1031.2 1186h0M1023.3 1156.8h0M1134.8 1199.8h0M1005.2 1163.1h0M1144.7 1241.5h0M1101.2 1216.4h0M1111.2 1227.8h0M1044.1 1157.4h0M1002.7 1169.1h0M1159 1211.8h0M1161.9 1205.1h0M1052.7 1251.8h0M1048.9 1174.9h0M1115.6 1223.8h0M1118.4 1204h0M1122.2 1176.6h0M1142 1212h0M965.8 1180.3h0M1034.9 1169.7h0M1023.6 1157h0M1184.3 1235h0M1159.8 1192h0M1173.2 1225.9h0M1037.9 1202.8h0M1007.8 1196.5h0M1102.5 1183.8h0M956.6 1160.8h0M1043.9 1179.1h0M1165.9 1204.4h0M1011 1179.5h0M994.7 1186h0M1023.2 1180.2h0M1149.2 1169.6h0M981.3 1169h0M1076 1172.4h0M1163.8 1223h0M1034.5 1181.8h0M1190.6 1232.5h0M1005.4 1191.7h0M953.9 1167.8h0M1067.4 1169.1h0M1152.5 1206h0M1157.5 1177.9h0M1033.9 1185.6h0M1184 1205.7h0M1114.5 1191.4h0M1146.4 1188.4h0M1103.3 1180.4h0M1146.2 1198.8h0M953.1 1144.5h0M942.9 1163.7h0M1100.2 1180.9h0M1097.2 1186.1h0M992.3 1171.8h0M1119.1 1198.3h0M1182.4 1214.8h0M965.9 1095.5h0M1172.8 1252.4h0M1009.8 1158h0M1149.7 1240.3h0M1113 1237.7h0M1093.1 1177.3h0M965.2 1140.9h0M961.7 1201h0M1135.3 1173.8h0M1113.3 1209.6h0M1040.5 1126h0M1094.7 1209.7h0M1189.8 1204.6h0M1199 1252.4h0M967.6 1194.9h0M1136.9 1211.3h0M1087.2 1163.6h0M1138.2 1183.7h0M1046 1190.8h0M1002.7 1186h0M991.1 1184.8h0M994.2 1167.4h0M1104.8 1236.6h0M965.6 1131.3h0M1046.9 1168.1h0M1109.3 1182.3h0M1102 1175.4h0M1158.7 1208.2h0M1085.4 1160.9h0M1154.6 1219h0M961.7 1191.6h0M971.3 1159.4h0M984.9 1174.6h0M1105.6 1184.2h0M1159 1174.6h0M948.3 1162h0M1082.2 1180.4h0M964.1 1180.9h0M1209 1239.3h0M989.6 1181h0M1195.6 1212.6h0M1156.4 1201h0M1165.1 1227.8h0M1103.7 1187.9h0M978.6 1149.7h0M1136.9 1205.1h0M1116.6 1170.4h0M1191.4 1239.6h0M943.2 1175h0M942 1165.6h0M958.8 1120.2h0M944.6 1149.7h0M1127.8 1197.5h0M958.6 1176.7h0M1019.5 1168.8h0M1034.4 1192.7h0M1074 1205.7h0M1007.3 1195.1h0M1053.4 1185.7h0M1011 1181.5h0M998.3 1177.7h0M996.6 1204.5h0M959.5 1195.1h0M1033.9 1173.6h0M1043.7 1182.3h0M1130 1215.3h0M1031.4 1177.7h0M1056.9 1144.3h0M1115.8 1232.5h0M1174.1 1183.5h0M1079.3 1194.3h0M1117 1188.9h0M1081.5 1227.9h0M1166.5 1234.5h0M1104.9 1177.5h0M1053.3 1186h0M1184 1165.2h0M936.2 1203.5h0M1073.1 1201h0M1123.8 1206.6h0M1200.5 1225.1h0M1022.9 1187.5h0" stroke="#ea4132" stroke-width="3.8" stroke-linecap="round" stroke-opacity="0.36" fill="none"/>
<path d="M1064.7 1114.5h0M1079.6 1152.4h0M1173.9 1206.6h0M1197.9 1203.5h0M1028.7 1148.9h0M1189.3 1181.2h0M996 1087.6h0M957.4 1122.6h0M1172 1199.1h0M1181.2 1194h0M1039.3 1125.1h0M1051.4 1136.2h0M963.5 1159.6h0M977.2 1131h0M963.6 1107h0M1188.9 1192.2h0M1053.1 1146.6h0M1114.6 1153.2h0M1046.2 1144.3h0M997.3 1109.3h0M1037.7 1148.7h0M1115.6 1198.1h0M939.9 1084.6h0M988.4 1136.5h0M1079.6 1150.6h0M991.5 1158.6h0M1113.7 1157.1h0M1151.5 1182.3h0M1013 1112h0M1207.8 1212.6h0M1200.8 1219.8h0M1192.1 1180.3h0M1028.3 1113.5h0M954.5 1118.1h0M1041.1 1151h0M1022.5 1111.8h0M1149 1165.3h0M1178.2 1206.4h0M1185.2 1164.9h0M1204.2 1167.1h0M1103.9 1150.7h0M1095.6 1163.1h0M983.4 1098.3h0M1107.5 1158.5h0M1036.3 1163.1h0M1117.2 1181.6h0M956.5 1123.1h0M986.7 1101.8h0M1056.1 1144.6h0M979.4 1125.4h0M1044.1 1150.1h0M1076 1152.1h0M942.4 1093.9h0M1166.2 1195.2h0M1123.1 1144.3h0M1201 1197.2h0M971.1 1107.6h0M1095 1183.3h0M1201.3 1208.3h0M969.5 1099.5h0M1107.5 1173.2h0M1203.4 1206.3h0M949.8 1110.7h0M1102 1159.4h0M1163.9 1170.3h0M964.3 1134.4h0M1004.7 1121.7h0M1063.2 1165.2h0M966.6 1095.1h0M1040.5 1120h0M1182.9 1201.7h0M1054.9 1133.7h0M960 1100.4h0M1093.7 1155.8h0M1088.3 1170h0M1072.7 1141.1h0M1127.1 1145.8h0M936.2 1104.8h0M1065.3 1133.1h0M1179.4 1200.6h0M1153.8 1188h0M1168.4 1217.5h0M1077.4 1156.8h0M949.6 1100.1h0M964.8 1104.5h0M1151.7 1197.8h0M993.8 1166.5h0M1080.9 1177.7h0M1077 1138.8h0M1141.9 1170.7h0M1171.8 1173.2h0M1139.5 1165.1h0M1124.9 1191.3h0M1085.4 1165.5h0M1089 1136.9h0M1022.5 1142.1h0M1119.6 1159h0M980 1111h0M1055.5 1139.6h0M1120.2 1170.6h0M983.4 1125.8h0M940.6 1126.4h0M1208.5 1216.9h0M1017.7 1103.4h0M1040.4 1145.2h0M1062 1163.4h0M1191.6 1245.4h0M1068.6 1138.4h0M1113 1158.7h0M1144.2 1194.4h0M1076.7 1134.5h0M1126.5 1166.8h0M992.8 1091.6h0M1085.4 1119.5h0M1115.8 1150.7h0M1146.6 1174h0M1047.6 1106.4h0M969.3 1113.9h0M1143.9 1187.9h0M1059.3 1133.2h0M1060.7 1161.6h0M1026.4 1131.8h0M1111.3 1167.5h0M1054.7 1129.5h0M1117.9 1172.4h0M993 1107h0M1067.7 1141.7h0M1033.4 1141h0M1046.9 1114.7h0M1201.4 1178.7h0M994.4 1134.1h0M1164.8 1227.9h0M938.6 1120.3h0M1163.7 1207.3h0M1167.2 1191.3h0M975.5 1093.3h0M936.8 1101.9h0M1175.9 1204.7h0M1033.1 1149.7h0M1194.3 1190.6h0M978.6 1093.8h0M1028.7 1129.6h0M967.5 1116.2h0M1153.3 1178.8h0M1198 1171.8h0M958.7 1112.9h0M1088.4 1118.2h0M1034.6 1133.8h0M1088.8 1123.5h0M1009.6 1150.8h0M1169 1158h0M972.8 1137.2h0M1195 1206h0M1021.7 1131.3h0M1123.6 1160.8h0M1024.1 1120.8h0M1032.9 1116h0M985.5 1111.1h0M1101.8 1136.1h0M1174.3 1212.1h0M1061.1 1130h0M1006.8 1111.5h0M1162 1164.9h0M1107 1161.7h0M1003.5 1086.8h0M973.6 1097.9h0M1037.5 1140h0" stroke="#3f3597" stroke-width="3.8" stroke-linecap="round" stroke-opacity="0.36" fill="none"/>
<path d="M935.7 1093.9L960.5 1103.9L985.4 1113.9L1010.2 1123.8L1035.1 1133.5L1060 1143.1L1084.8 1152.2L1109.7 1160.8L1134.5 1169.2L1159.4 1177.5L1184.2 1185.7L1209.1 1193.9" stroke="#3f3597" stroke-width="1.5" fill="none" stroke-dasharray="6.5 4.5"/>
<path d="M935.7 1105.2L960.5 1113.4L985.4 1121.6L1010.2 1129.9L1035.1 1138.3L1060 1147L1084.8 1156L1109.7 1165.6L1134.5 1175.4L1159.4 1185.3L1184.2 1195.2L1209.1 1205.2" stroke="#3f3597" stroke-width="1.5" fill="none" stroke-dasharray="6.5 4.5"/>
<line x1="935.68" y1="1099.56" x2="1209.08" y2="1199.56" stroke="#3f3597" stroke-width="2.3" />
<path d="M935.7 1156.6L960.5 1162.6L985.4 1168.6L1010.2 1174.5L1035.1 1180.3L1060 1185.8L1084.8 1190.9L1109.7 1195.6L1134.5 1200L1159.4 1204.3L1184.2 1208.5L1209.1 1212.7" stroke="#ea4132" stroke-width="1.5" fill="none" stroke-dasharray="6.5 4.5"/>
<path d="M935.7 1167.9L960.5 1172.1L985.4 1176.3L1010.2 1180.6L1035.1 1185L1060 1189.7L1084.8 1194.8L1109.7 1200.3L1134.5 1206.1L1159.4 1212L1184.2 1218L1209.1 1224" stroke="#ea4132" stroke-width="1.5" fill="none" stroke-dasharray="6.5 4.5"/>
<line x1="935.68" y1="1162.26" x2="1209.08" y2="1218.38" stroke="#ea4132" stroke-width="2.3" />
<path d="M907.4 1014.6V1328.1H1221.65M907.4 1265.4h4M970.25 1328.1v-4M907.4 1202.7h4M1033.1 1328.1v-4M907.4 1140h4M1095.95 1328.1v-4M907.4 1077.3h4M1158.8 1328.1v-4M907.4 1014.6h4M1221.65 1328.1v-4" stroke="#231f20" stroke-width="2" fill="none"/>
<text x="907.4" y="1361.4" font-size="31" fill="#231f20" text-anchor="middle" textLength="17.06" lengthAdjust="spacingAndGlyphs">0</text>
<text x="970.25" y="1361.4" font-size="31" fill="#231f20" text-anchor="middle" textLength="17.06" lengthAdjust="spacingAndGlyphs">5</text>
<text x="1033.1" y="1361.4" font-size="31" fill="#231f20" text-anchor="middle" textLength="34.13" lengthAdjust="spacingAndGlyphs">10</text>
<text x="1095.95" y="1361.4" font-size="31" fill="#231f20" text-anchor="middle" textLength="34.13" lengthAdjust="spacingAndGlyphs">15</text>
<text x="1158.8" y="1361.4" font-size="31" fill="#231f20" text-anchor="middle" textLength="34.13" lengthAdjust="spacingAndGlyphs">20</text>
<text x="1221.65" y="1361.4" font-size="31" fill="#231f20" text-anchor="middle" textLength="34.13" lengthAdjust="spacingAndGlyphs">25</text>
<text x="1099" y="1024" font-size="29" fill="#231f20" text-anchor="middle">Ex-vivo dMRI</text>
<text x="1099.9" y="1396" font-size="31" fill="#231f20" text-anchor="middle" textLength="211.5" lengthAdjust="spacingAndGlyphs">Distance (mm)</text>
<path d="M1412 1213.4h0M1337.8 1176.6h0M1531.9 1156.6h0M1326.5 1175h0M1450.3 1157.7h0M1380.8 1178.2h0M1332.7 1196.6h0M1447.1 1149.5h0M1423.1 1165.3h0M1559.2 1173h0M1442.9 1124.6h0M1308.4 1140.9h0M1328.6 1149.8h0M1478.4 1201.9h0M1389.7 1155.3h0M1506.2 1135.5h0M1433.6 1183.2h0M1351.9 1199h0M1394.4 1162h0M1558.8 1182.5h0M1489.3 1172.8h0M1377.6 1169.8h0M1350.5 1181.8h0M1444.3 1206.6h0M1376.2 1169h0M1496.6 1168.7h0M1485.3 1162.6h0M1502 1157.9h0M1521.6 1175h0M1380.1 1170.8h0M1433.3 1172h0M1380.4 1145.3h0M1544.7 1223.2h0M1442.6 1167.2h0M1315.3 1227.3h0M1399.6 1154.1h0M1568.6 1156.9h0M1446.1 1164.6h0M1357.5 1203.2h0M1384.1 1200.3h0M1562 1152.2h0M1339.7 1174.2h0M1581 1211.7h0M1397.8 1167.9h0M1330.9 1154.1h0M1438.7 1162.3h0M1572.7 1116.5h0M1331.5 1155.7h0M1487 1174.8h0M1490.4 1145.8h0M1431.3 1172.2h0M1411.1 1206.9h0M1544.6 1117.8h0M1581 1148.4h0M1445.1 1177.9h0M1506.3 1187.9h0M1552.4 1139.6h0M1575.7 1157.2h0M1523 1162.1h0M1367.5 1167.8h0M1428.6 1197.5h0M1375.5 1162.1h0M1353.1 1179.6h0M1513 1143.4h0M1319.4 1139.8h0M1570.8 1168h0M1579.3 1167.8h0M1424 1195.1h0M1558.7 1134.6h0M1405.5 1179.4h0M1491.6 1195h0M1494.2 1173.3h0M1556 1166.9h0M1490.4 1141.1h0M1563.6 1138.1h0M1370.1 1148.6h0M1429.1 1218.7h0M1462.3 1168.7h0M1378.5 1156.4h0M1460.9 1169.1h0M1309 1174.1h0M1575.8 1124.3h0M1487.3 1167h0M1504.9 1184.7h0M1502.8 1170.3h0M1311.1 1170.7h0M1323.1 1213.3h0M1472.9 1143.4h0M1368.4 1189.2h0M1489.9 1147h0M1333.6 1215.6h0M1460.3 1153.2h0M1313.9 1147.6h0M1424.1 1119.5h0M1572.1 1134.4h0M1472.9 1133.5h0M1457.6 1202.7h0M1493.8 1163.9h0M1399.6 1182.6h0M1343.2 1162.6h0M1410.5 1158.1h0M1419 1171.2h0M1527.7 1160.8h0M1457.9 1156.3h0M1523.5 1142.6h0M1577.9 1129.3h0M1580.9 1136.7h0M1482.6 1163.2h0M1489.4 1162.3h0M1531.5 1181.6h0M1580.6 1150.1h0M1307.4 1163.2h0M1420.9 1164.3h0M1362.4 1184.2h0M1309.3 1197.5h0M1580.2 1161.4h0M1525.4 1139.8h0M1424.5 1181.5h0M1555.7 1144.9h0M1341.7 1200.2h0M1552.6 1149.1h0M1376.9 1184.1h0M1447.7 1167.9h0M1346 1160.5h0M1413.4 1178.7h0M1433.1 1179.4h0M1417.2 1202h0M1318.5 1166.5h0M1505.7 1185.3h0M1522 1198.6h0M1335.4 1171.2h0M1542.5 1164.4h0M1464.1 1157.2h0M1544.1 1173.5h0M1558.4 1137.7h0M1502.1 1153.4h0M1399.6 1211.7h0M1463.1 1175.3h0M1332.1 1208.5h0M1534 1160.9h0M1428.8 1174.8h0M1493 1107.6h0M1456.3 1189.3h0M1549.3 1160.3h0M1347.4 1158.9h0M1564.6 1167.2h0M1327 1170.5h0M1432.1 1177.2h0M1407.8 1169.5h0M1441 1154.9h0M1414.7 1194.1h0M1521.1 1173.4h0M1564 1112h0M1432.8 1122.1h0M1510.9 1158.7h0M1525.1 1157.8h0M1377.2 1161.3h0M1459.9 1142.6h0M1354.5 1156.5h0M1458.2 1186.2h0M1500.3 1144.7h0M1480.1 1166.5h0M1503.1 1163.7h0M1401.3 1189.3h0M1548.3 1191.7h0M1351.7 1195.9h0M1576.2 1177h0M1384.1 1204.9h0M1439.5 1169.8h0M1412.8 1149.6h0M1481.6 1172h0M1579.2 1177.6h0M1494.1 1174.3h0M1343.9 1159.5h0M1401.5 1151.3h0M1463 1175.2h0M1389.1 1160.9h0M1415.4 1143.3h0M1313.2 1168.5h0M1475.6 1156.6h0M1464.9 1156.4h0M1520.7 1188.2h0M1513.6 1152.3h0M1561 1118.7h0M1573.3 1142.4h0M1434.9 1169.7h0M1366.8 1130.7h0M1553.7 1127h0M1468.7 1125.1h0M1400.5 1163.5h0" stroke="#3f3597" stroke-width="3.8" stroke-linecap="round" stroke-opacity="0.36" fill="none"/>
<path d="M1304.8 1168.8L1329.7 1169.2L1354.7 1169.6L1379.7 1169.8L1404.7 1169.9L1429.7 1169.6L1454.6 1168.9L1479.6 1167.6L1504.6 1166L1529.6 1164.2L1554.6 1162.3L1579.5 1160.4" stroke="#ea4132" stroke-width="1.5" fill="none" stroke-dasharray="6.5 4.5"/>
<path d="M1304.8 1184.5L1329.7 1182.6L1354.7 1180.7L1379.7 1178.9L1404.7 1177.3L1429.7 1176L1454.6 1175.3L1479.6 1175L1504.6 1175L1529.6 1175.3L1554.6 1175.6L1579.5 1176.1" stroke="#ea4132" stroke-width="1.5" fill="none" stroke-dasharray="6.5 4.5"/>
<line x1="1304.75" y1="1176.68" x2="1579.53" y2="1168.21" stroke="#ea4132" stroke-width="2.3" />
<path d="M1277.1 1014.6V1328.1H1591.35M1277.1 1265.4h4M1339.95 1328.1v-4M1277.1 1202.7h4M1402.8 1328.1v-4M1277.1 1140h4M1465.65 1328.1v-4M1277.1 1077.3h4M1528.5 1328.1v-4M1277.1 1014.6h4M1591.35 1328.1v-4" stroke="#231f20" stroke-width="2" fill="none"/>
<text x="1277.1" y="1361.4" font-size="31" fill="#231f20" text-anchor="middle" textLength="17.06" lengthAdjust="spacingAndGlyphs">0</text>
<text x="1339.95" y="1361.4" font-size="31" fill="#231f20" text-anchor="middle" textLength="17.06" lengthAdjust="spacingAndGlyphs">5</text>
<text x="1402.8" y="1361.4" font-size="31" fill="#231f20" text-anchor="middle" textLength="34.13" lengthAdjust="spacingAndGlyphs">10</text>
<text x="1465.65" y="1361.4" font-size="31" fill="#231f20" text-anchor="middle" textLength="34.13" lengthAdjust="spacingAndGlyphs">15</text>
<text x="1528.5" y="1361.4" font-size="31" fill="#231f20" text-anchor="middle" textLength="34.13" lengthAdjust="spacingAndGlyphs">20</text>
<text x="1591.35" y="1361.4" font-size="31" fill="#231f20" text-anchor="middle" textLength="34.13" lengthAdjust="spacingAndGlyphs">25</text>
<text x="1451.5" y="1024" font-size="29" fill="#231f20" text-anchor="middle">Tracing</text>
<text x="1451.8" y="1396" font-size="31" fill="#231f20" text-anchor="middle" textLength="211.5" lengthAdjust="spacingAndGlyphs">Distance (mm)</text>
<circle cx="1609" cy="1009.1" r="9.2" fill="#3f3597" />
<circle cx="1609" cy="1054.8" r="9.2" fill="#ea4132" />
<text x="1631.5" y="1019.8" font-size="29.5" fill="#231f20" textLength="61" lengthAdjust="spacingAndGlyphs">Raw</text>
<text x="1631.2" y="1065.1" font-size="29.5" fill="#231f20" textLength="66.5" lengthAdjust="spacingAndGlyphs">EDR</text>
<text x="1630.5" y="1103.2" font-size="29.5" fill="#231f20" textLength="77" lengthAdjust="spacingAndGlyphs"><tspan font-style="italic">λ</tspan>=0.3</text>
<text transform="translate(52.3,1180.7) rotate(-90)" x="0" y="0" font-size="31.5" fill="#231f20" text-anchor="middle" textLength="174" lengthAdjust="spacingAndGlyphs">FC similarity</text>
<text transform="translate(92,1181.4) rotate(-90)" x="0" y="0" font-size="31.5" fill="#231f20" text-anchor="middle" textLength="245" lengthAdjust="spacingAndGlyphs">Correlation value</text>
<text x="17" y="1485.8" font-size="50" fill="#000">E</text>
<text x="254" y="1474.4" font-size="27" fill="#1a1a1a" font-weight="bold" textLength="433" lengthAdjust="spacingAndGlyphs">Simulated-Empirical Correlation</text>
<text x="466.7" y="1512.2" font-size="27" fill="#1a1a1a" text-anchor="middle" font-weight="bold" textLength="153.5" lengthAdjust="spacingAndGlyphs">EDR <tspan font-style="italic">λ</tspan>=0.3</text>
<line x1="253.9" y1="1922.7" x2="687.5" y2="1488.8" stroke="#ff0000" stroke-width="2" />
<circle cx="285.9" cy="1758.6" r="8" fill="#000" fill-opacity="0.3"/>
<circle cx="323.1" cy="1735.6" r="8" fill="#000" fill-opacity="0.3"/>
<circle cx="294" cy="1779.9" r="8" fill="#000" fill-opacity="0.3"/>
<circle cx="300.1" cy="1783.4" r="8" fill="#000" fill-opacity="0.3"/>
<circle cx="311.8" cy="1785.2" r="8" fill="#000" fill-opacity="0.3"/>
<circle cx="311.4" cy="1795.8" r="8" fill="#000" fill-opacity="0.3"/>
<circle cx="328.4" cy="1775.6" r="8" fill="#000" fill-opacity="0.3"/>
<circle cx="338.3" cy="1782.7" r="8" fill="#000" fill-opacity="0.3"/>
<circle cx="380.5" cy="1725" r="8" fill="#000" fill-opacity="0.3"/>
<circle cx="372.7" cy="1767.5" r="8" fill="#000" fill-opacity="0.3"/>
<circle cx="388.6" cy="1754.4" r="8" fill="#000" fill-opacity="0.3"/>
<circle cx="401" cy="1753.3" r="8" fill="#000" fill-opacity="0.3"/>
<circle cx="379.7" cy="1803.2" r="8" fill="#000" fill-opacity="0.3"/>
<circle cx="431.8" cy="1727.8" r="8" fill="#000" fill-opacity="0.3"/>
<circle cx="423.3" cy="1774.9" r="8" fill="#000" fill-opacity="0.3"/>
<circle cx="435.7" cy="1766.8" r="8" fill="#000" fill-opacity="0.3"/>
<circle cx="432.9" cy="1779.9" r="8" fill="#000" fill-opacity="0.3"/>
<circle cx="503" cy="1725.3" r="8" fill="#000" fill-opacity="0.3"/>
<circle cx="494.1" cy="1744.4" r="8" fill="#000" fill-opacity="0.3"/>
<circle cx="292" cy="1778" r="8" fill="#000" fill-opacity="0.3"/>
<circle cx="435.7" cy="1766.8" r="8" fill="#000" fill-opacity="0.3"/>
<circle cx="313.5" cy="1761.4" r="16.6" fill="#231f20" />
<path d="M479.7 1694.5L468.95 1713.12L447.45 1713.12L436.7 1694.5L447.45 1675.88L468.95 1675.88Z" fill="#000" fill-opacity="0.82"/>
<path d="M444 1673.5L449.28 1689.74L466.35 1689.74L452.54 1699.77L457.81 1716.01L444 1705.98L430.19 1716.01L435.46 1699.77L421.65 1689.74L438.72 1689.74Z" fill="#000" fill-opacity="0.82"/>
<path d="M253.9 1487.6V1922.7H689.4M253.9 1879.4h5M297.5 1922.7v-5M253.9 1836.1h5M341.1 1922.7v-5M253.9 1792.8h5M384.7 1922.7v-5M253.9 1749.5h5M428.3 1922.7v-5M253.9 1706.2h5M471.9 1922.7v-5M253.9 1662.9h5M515.5 1922.7v-5M253.9 1619.6h5M559.1 1922.7v-5M253.9 1576.3h5M602.7 1922.7v-5M253.9 1533h5M646.3 1922.7v-5M689.9 1922.7v-5" stroke="#111" stroke-width="2" fill="none"/>
<text x="243.6" y="1931.2" font-size="36.5" fill="#000" text-anchor="end" textLength="20.9" lengthAdjust="spacingAndGlyphs">0</text>
<text x="243.6" y="1850" font-size="36.5" fill="#000" text-anchor="end" textLength="52.26" lengthAdjust="spacingAndGlyphs">0.2</text>
<text x="243.6" y="1763.2" font-size="36.5" fill="#000" text-anchor="end" textLength="52.26" lengthAdjust="spacingAndGlyphs">0.4</text>
<text x="243.6" y="1678.8" font-size="36.5" fill="#000" text-anchor="end" textLength="52.26" lengthAdjust="spacingAndGlyphs">0.6</text>
<text x="243.6" y="1592.8" font-size="36.5" fill="#000" text-anchor="end" textLength="52.26" lengthAdjust="spacingAndGlyphs">0.8</text>
<text x="241.4" y="1512" font-size="36.5" fill="#000" text-anchor="end" textLength="20.9" lengthAdjust="spacingAndGlyphs">1</text>
<text x="262.2" y="1958.9" font-size="36.5" fill="#000" text-anchor="middle" textLength="20.9" lengthAdjust="spacingAndGlyphs">0</text>
<text x="346.2" y="1958.9" font-size="36.5" fill="#000" text-anchor="middle" textLength="52.26" lengthAdjust="spacingAndGlyphs">0.2</text>
<text x="431.7" y="1958.9" font-size="36.5" fill="#000" text-anchor="middle" textLength="52.26" lengthAdjust="spacingAndGlyphs">0.4</text>
<text x="517.8" y="1958.9" font-size="36.5" fill="#000" text-anchor="middle" textLength="52.26" lengthAdjust="spacingAndGlyphs">0.6</text>
<text x="602.8" y="1958.9" font-size="36.5" fill="#000" text-anchor="middle" textLength="52.26" lengthAdjust="spacingAndGlyphs">0.8</text>
<text x="682" y="1958.9" font-size="36.5" fill="#000" text-anchor="middle" textLength="20.9" lengthAdjust="spacingAndGlyphs">1</text>
<text transform="translate(169.5,1694.8) rotate(-90)" x="0" y="0" font-size="33" fill="#80303a" text-anchor="middle" textLength="357" lengthAdjust="spacingAndGlyphs">Fitting value R (MBMv4)</text>
<text x="481.5" y="2003" font-size="32.5" fill="#153f87" text-anchor="middle" textLength="364.5" lengthAdjust="spacingAndGlyphs">Fitting value R (Paxinos)</text>
<text x="872.2" y="1487.7" font-size="52" fill="#56575a">F</text>
<text x="1078" y="1462.4" font-size="24" fill="#000" text-anchor="middle" font-weight="bold" textLength="149" lengthAdjust="spacingAndGlyphs">In-vivo dMRI</text>
<text x="1297.5" y="1462.4" font-size="24" fill="#000" text-anchor="middle" font-weight="bold" textLength="157.5" lengthAdjust="spacingAndGlyphs">Ex-vivo dMRI</text>
<text x="1515" y="1462.4" font-size="24" fill="#000" text-anchor="middle" font-weight="bold" textLength="175" lengthAdjust="spacingAndGlyphs">Neural Tracing</text>
<text x="1078.2" y="1491.6" font-size="24" fill="#000" text-anchor="middle" font-weight="bold" textLength="118" lengthAdjust="spacingAndGlyphs">(example)</text>
<path d="M1060 1603h0M1044 1604h0M1046 1614h0M1092 1591h0M1052 1605h0M1039 1620h0M1052 1614h0M1050 1611h0M1064 1628h0M1060 1607h0M1058 1612h0M1067 1601h0M1051 1600h0M1059 1588h0M1042 1599h0M1047 1613h0M1062 1607h0M1047 1615h0M1042 1615h0M1052 1613h0M1054 1624h0M1084 1585h0M1050 1614h0M1063 1596h0M1064 1604h0M1065 1611h0M1060 1607h0M1053 1620h0M1052 1617h0M1050 1618h0M1058 1600h0M1055 1603h0M1046 1610h0M1059 1612h0M1051 1610h0M1049 1620h0M1040 1612h0" stroke="#000" stroke-width="7.8" stroke-linecap="round" stroke-opacity="0.33" fill="none"/>
<path d="M1082 1613h0M1052 1613h0M1056 1620h0M1046 1606h0M1046 1617h0M1063 1611h0M1054 1602h0M1049 1609h0M1049 1609h0M1051 1622h0M1072 1592h0M1054 1618h0M1031 1609h0M1047 1604h0M1044 1606h0M1050 1608h0M1046 1606h0M1053 1620h0M1054 1608h0M1057 1614h0M1048 1603h0M1049 1609h0M1044 1611h0M1039 1619h0M1055 1601h0M1049 1621h0M1050 1609h0M1081 1605h0M1047 1613h0M1038 1611h0M1055 1610h0M1040 1612h0M1068 1603h0M1052 1606h0M1047 1588h0M1052 1603h0M1047 1615h0" stroke="#000" stroke-width="7.8" stroke-linecap="round" stroke-opacity="0.33" fill="none"/>
<path d="M1047 1603h0M1045 1615h0M1058 1608h0M1066 1616h0M1057 1620h0M1045 1602h0M1057 1611h0M1052 1617h0M1050 1624h0M1043 1610h0M1050 1611h0M1052 1609h0M1053 1616h0M1048 1611h0M1040 1617h0M1059 1606h0M1054 1611h0M1057 1615h0M1058 1610h0M1057 1618h0M1056 1605h0M1046 1618h0M1055 1614h0M1058 1586h0M1066 1607h0M1062 1610h0M1057 1608h0M1043 1602h0M1044 1617h0M1047 1619h0M1050 1614h0M1044 1607h0M1039 1609h0M1049 1611h0M1054 1602h0M1052 1612h0M1051 1623h0" stroke="#000" stroke-width="7.8" stroke-linecap="round" stroke-opacity="0.33" fill="none"/>
<path d="M1047 1611h0M1041 1604h0M1042 1613h0M1059 1605h0M1047 1624h0M1073 1606h0M1051 1606h0M1054 1611h0M1078 1607h0M1050 1611h0M1100 1611h0M1050 1602h0M1050 1614h0M1047 1617h0M1062 1606h0M1066 1611h0M1049 1607h0M1041 1615h0M1049 1622h0M1044 1620h0M1041 1612h0M1046 1608h0M1075 1597h0M1052 1626h0M1061 1613h0M1054 1621h0M1058 1604h0M1057 1621h0M1079 1608h0M1059 1610h0M1052 1607h0M1043 1620h0M1051 1600h0M1054 1615h0M1070 1604h0M1058 1603h0M1051 1595h0" stroke="#000" stroke-width="7.8" stroke-linecap="round" stroke-opacity="0.33" fill="none"/>
<path d="M1051 1608h0M1042 1604h0M1043 1602h0M1050 1602h0M1043 1607h0M1057 1606h0M1048 1617h0M1060 1607h0M1044 1604h0M1048 1608h0M1066 1587h0M1045 1606h0M1056 1598h0M1068 1627h0M1061 1609h0M1054 1602h0M1056 1610h0M1038 1612h0M1015 1612h0M1049 1614h0M1038 1609h0M1056 1622h0M1054 1609h0M1052 1616h0M1047 1604h0M1052 1611h0M1049 1624h0M1058 1593h0M1047 1615h0M1052 1614h0M1036 1624h0M1052 1606h0M1057 1606h0M1061 1609h0M1048 1621h0M1049 1615h0M1040 1616h0" stroke="#000" stroke-width="7.8" stroke-linecap="round" stroke-opacity="0.33" fill="none"/>
<path d="M1051 1601h0M1063 1621h0M1051 1610h0M1051 1610h0M1056 1611h0M1066 1611h0M1053 1607h0M1077 1602h0M1051 1617h0M1051 1621h0M1059 1609h0M1064 1594h0M1051 1603h0M1050 1609h0M1055 1607h0M1056 1620h0M1051 1610h0M1032 1605h0M1049 1614h0M1049 1605h0M1065 1606h0M1055 1613h0M1055 1605h0M1063 1613h0M1052 1614h0M1054 1605h0M1052 1604h0M1053 1615h0M1066 1596h0M1052 1609h0M1039 1601h0M1042 1617h0M1049 1615h0M1042 1609h0M1050 1610h0M1046 1609h0M1053 1607h0" stroke="#000" stroke-width="7.8" stroke-linecap="round" stroke-opacity="0.33" fill="none"/>
<path d="M1051 1621h0M1053 1607h0M1061 1610h0M1055 1617h0M1058 1615h0M1054 1608h0M1064 1607h0M1041 1597h0M1046 1598h0M1047 1613h0M1033 1610h0M1038 1611h0M1044 1607h0M1049 1619h0M1043 1613h0M1035 1601h0M1058 1615h0M1056 1618h0M1058 1616h0M1064 1602h0M1057 1619h0M1040 1599h0M1052 1604h0M1046 1616h0M1052 1602h0M1066 1611h0M1047 1617h0M1048 1613h0M1046 1608h0M1062 1614h0M1054 1616h0M1065 1603h0M1068 1609h0M1066 1606h0M1055 1603h0M1057 1604h0M1064 1615h0" stroke="#000" stroke-width="7.8" stroke-linecap="round" stroke-opacity="0.33" fill="none"/>
<path d="M1047 1607h0M1053 1594h0M1047 1605h0M1060 1607h0M1060 1609h0M1052 1604h0M1041 1607h0M1058 1608h0M1041 1609h0M1055 1611h0M1050 1622h0M1061 1612h0M1057 1592h0M1053 1617h0M1060 1603h0M1060 1604h0M1045 1616h0M1052 1613h0M1059 1602h0M1039 1624h0M1037 1617h0M1048 1602h0M1057 1606h0M1038 1616h0M1049 1628h0M1041 1593h0M1066 1610h0M1048 1619h0M1059 1601h0M1086 1620h0M1055 1608h0M1058 1609h0M1046 1612h0M1048 1615h0M1058 1608h0M1055 1617h0M1067 1615h0" stroke="#000" stroke-width="7.8" stroke-linecap="round" stroke-opacity="0.33" fill="none"/>
<path d="M1052 1589h0M1042 1605h0M1046 1608h0M1071 1601h0M1042 1611h0M1053 1621h0M1069 1607h0M1043 1599h0M1050 1616h0M1036 1614h0M1048 1578h0M1041 1621h0M1052 1603h0M1043 1613h0M1051 1607h0M1055 1613h0M1037 1602h0M1053 1607h0M1052 1613h0M1060 1604h0M1064 1606h0M1055 1617h0M1060 1608h0M1039 1620h0M1045 1603h0M1046 1613h0M1032 1609h0M1046 1616h0M1033 1613h0M1063 1614h0M1048 1624h0M1051 1618h0M1051 1601h0M1061 1603h0M1056 1617h0M1050 1604h0M1055 1614h0" stroke="#000" stroke-width="7.8" stroke-linecap="round" stroke-opacity="0.33" fill="none"/>
<path d="M1046 1609h0M1060 1608h0M1052 1615h0M1047 1602h0M1060 1612h0M1113 1583h0M1057 1623h0M1059 1610h0M1060 1617h0M1055 1600h0M1056 1619h0M1040 1606h0M1042 1610h0M1057 1616h0M1059 1608h0M1042 1616h0M1041 1618h0M1046 1604h0M1044 1622h0M1052 1616h0M1049 1598h0M1041 1603h0M1042 1601h0M1047 1623h0M1046 1613h0M1059 1610h0M1050 1603h0M1043 1618h0M1059 1603h0M1044 1607h0M1057 1624h0M1045 1623h0M1033 1610h0M1052 1604h0M1052 1618h0M1055 1599h0M1048 1613h0" stroke="#000" stroke-width="7.8" stroke-linecap="round" stroke-opacity="0.33" fill="none"/>
<path d="M1065 1604h0M1053 1618h0M1062 1605h0M1052 1604h0M1068 1597h0M1059 1612h0M1054 1617h0M1056 1615h0M1040 1614h0M1051 1604h0M1055 1612h0M1061 1595h0M1074 1587h0M1055 1619h0M1053 1608h0M1051 1608h0M1045 1611h0M1043 1613h0M1057 1610h0M1045 1626h0M1048 1595h0M1057 1605h0M1055 1618h0M1051 1610h0M1052 1606h0M1071 1591h0M1056 1611h0M1031 1626h0M1049 1613h0M1055 1620h0M1051 1605h0M1057 1615h0M1054 1618h0M1045 1614h0M1059 1605h0M1047 1617h0M1043 1605h0" stroke="#000" stroke-width="7.8" stroke-linecap="round" stroke-opacity="0.33" fill="none"/>
<path d="M1054 1600h0M1048 1618h0M1044 1610h0M1061 1618h0M1044 1599h0M1040 1609h0M1057 1606h0M1056 1604h0M1053 1623h0M1066 1617h0M1055 1615h0M1053 1602h0M1069 1610h0M1043 1618h0M1061 1606h0M1056 1610h0M1042 1614h0M1048 1601h0M1051 1607h0M1040 1607h0M1047 1593h0M1062 1594h0M1047 1609h0M1035 1608h0M1094 1598h0M1057 1607h0M1044 1618h0M1051 1618h0M1056 1621h0M1056 1615h0M1050 1602h0M1049 1617h0M1062 1608h0M1045 1631h0M1049 1607h0M1047 1611h0M1046 1611h0" stroke="#000" stroke-width="7.8" stroke-linecap="round" stroke-opacity="0.33" fill="none"/>
<path d="M1044 1615h0M1065 1630h0M1053 1600h0M1063 1609h0M1048 1616h0M1045 1608h0M1059 1599h0M1056 1605h0M1061 1603h0M1054 1617h0M1062 1613h0M1056 1620h0M1045 1612h0M1042 1619h0M1055 1604h0M1044 1610h0M1049 1596h0M1050 1616h0M1058 1613h0M1047 1612h0M1044 1613h0M1059 1618h0M1064 1607h0M1057 1607h0M1042 1593h0M1056 1604h0M1080 1628h0M1047 1614h0M1058 1615h0M1056 1624h0M1055 1596h0M1046 1610h0M1051 1607h0M1060 1596h0M1046 1600h0M1038 1600h0M1050 1600h0" stroke="#000" stroke-width="7.8" stroke-linecap="round" stroke-opacity="0.33" fill="none"/>
<path d="M1055 1611h0M1040 1619h0M1048 1610h0M1052 1599h0M1047 1612h0M1052 1617h0M1050 1607h0M1074 1604h0M1057 1600h0M1048 1617h0M1061 1626h0M1061 1600h0M1049 1602h0M1052 1607h0M1049 1605h0M1052 1611h0M1041 1613h0M1034 1608h0M1054 1617h0M1050 1618h0M1055 1608h0M1043 1625h0M1044 1617h0M1047 1602h0M1055 1614h0M1038 1617h0M1040 1624h0M1052 1589h0M1047 1612h0M1051 1604h0M1043 1612h0M1062 1606h0M1042 1605h0M1053 1604h0M1055 1614h0M1048 1609h0" stroke="#000" stroke-width="7.8" stroke-linecap="round" stroke-opacity="0.33" fill="none"/>
<line x1="982.7" y1="1617.11" x2="1168.55" y2="1602.86" stroke="#000" stroke-width="2" />
<path d="M982.7 1505.85V1691.7H1168.55M982.7 1679.31h3.2M995.09 1691.7v-3.2M982.7 1666.92h3.2M1007.48 1691.7v-3.2M982.7 1654.53h3.2M1019.87 1691.7v-3.2M982.7 1642.14h3.2M1032.26 1691.7v-3.2M982.7 1629.75h3.2M1044.65 1691.7v-3.2M982.7 1617.36h3.2M1057.04 1691.7v-3.2M982.7 1604.97h3.2M1069.43 1691.7v-3.2M982.7 1592.58h3.2M1081.82 1691.7v-3.2M982.7 1580.19h3.2M1094.21 1691.7v-3.2M982.7 1567.8h3.2M1106.6 1691.7v-3.2M982.7 1555.41h3.2M1118.99 1691.7v-3.2M982.7 1543.02h3.2M1131.38 1691.7v-3.2M982.7 1530.63h3.2M1143.77 1691.7v-3.2M982.7 1518.24h3.2M1156.16 1691.7v-3.2M982.7 1505.85h3.2M1168.55 1691.7v-3.2" stroke="#262626" stroke-width="1.6" fill="none"/>
<text x="1002.5" y="1528" font-size="23.5" fill="#000" font-style="italic" textLength="181.5" lengthAdjust="spacingAndGlyphs">Fitting R = 0.137</text>
<text x="974.15" y="1516.15" font-size="24" fill="#000" text-anchor="end" textLength="14.41" lengthAdjust="spacingAndGlyphs">1</text>
<text x="976.9" y="1579.9" font-size="24" fill="#000" text-anchor="end" textLength="36.03" lengthAdjust="spacingAndGlyphs">0.5</text>
<text x="976.9" y="1641.85" font-size="24" fill="#000" text-anchor="end" textLength="14.41" lengthAdjust="spacingAndGlyphs">0</text>
<text x="976.9" y="1703.1" font-size="24" fill="#000" text-anchor="end" textLength="44.66" lengthAdjust="spacingAndGlyphs">-0.5</text>
<path d="M1073 1874h0M1050 1877h0M1052 1868h0M1047 1864h0M1087 1850h0M1061 1877h0M1065 1883h0M1055 1877h0M1069 1876h0M1063 1872h0M1059 1868h0M1046 1876h0M1052 1888h0M1066 1869h0M1056 1864h0M1057 1875h0M1049 1865h0M1056 1875h0M1082 1867h0M1058 1871h0M1060 1873h0M1053 1870h0M1054 1874h0M1062 1844h0M1053 1883h0M1034 1884h0M1044 1876h0M1043 1874h0M1063 1871h0M1101 1866h0M1090 1870h0M1060 1861h0M1071 1867h0M1076 1873h0M1062 1869h0M1054 1871h0M1061 1854h0" stroke="#000" stroke-width="7.8" stroke-linecap="round" stroke-opacity="0.33" fill="none"/>
<path d="M1048 1867h0M1067 1872h0M1048 1869h0M1056 1888h0M1095 1857h0M1052 1876h0M1084 1864h0M1041 1888h0M1049 1871h0M1078 1854h0M1053 1875h0M1054 1867h0M1063 1873h0M1042 1878h0M1119 1851h0M1060 1871h0M1055 1870h0M1055 1882h0M1056 1878h0M1060 1882h0M1040 1873h0M1087 1856h0M1057 1867h0M1047 1877h0M1063 1864h0M1073 1860h0M1042 1874h0M1059 1869h0M1050 1886h0M1056 1874h0M1057 1879h0M1048 1872h0M1034 1906h0M1043 1876h0M1054 1878h0M1046 1881h0M1066 1860h0" stroke="#000" stroke-width="7.8" stroke-linecap="round" stroke-opacity="0.33" fill="none"/>
<path d="M1091 1859h0M1062 1874h0M1057 1872h0M1057 1867h0M1057 1873h0M1081 1856h0M1054 1870h0M1050 1873h0M1063 1867h0M1045 1865h0M1043 1876h0M1063 1856h0M1060 1880h0M1061 1877h0M1036 1875h0M1044 1877h0M1061 1874h0M1085 1863h0M1036 1879h0M1048 1883h0M1060 1874h0M1068 1874h0M1045 1875h0M1060 1886h0M1055 1874h0M1052 1878h0M1051 1871h0M1077 1858h0M1051 1873h0M1061 1880h0M1059 1878h0M1077 1854h0M1064 1874h0M1053 1879h0M1072 1862h0M1054 1876h0M1062 1874h0" stroke="#000" stroke-width="7.8" stroke-linecap="round" stroke-opacity="0.33" fill="none"/>
<path d="M1059 1880h0M1091 1845h0M1051 1877h0M1052 1877h0M1059 1863h0M1064 1875h0M1060 1874h0M1070 1869h0M1059 1871h0M1063 1876h0M1027 1886h0M1059 1876h0M1056 1865h0M1068 1870h0M1033 1876h0M1040 1878h0M1040 1881h0M1075 1871h0M1042 1878h0M1059 1870h0M1084 1857h0M1043 1883h0M1083 1847h0M1068 1873h0M1087 1869h0M1063 1871h0M1079 1865h0M1060 1867h0M1053 1872h0M1046 1879h0M1061 1883h0M1040 1879h0M1051 1881h0M1057 1868h0M1052 1879h0M1071 1870h0M1045 1882h0" stroke="#000" stroke-width="7.8" stroke-linecap="round" stroke-opacity="0.33" fill="none"/>
<path d="M1057 1890h0M1045 1879h0M1051 1864h0M1050 1884h0M1068 1881h0M1103 1849h0M1049 1880h0M1050 1875h0M1051 1876h0M1076 1871h0M1044 1876h0M1078 1862h0M1055 1871h0M1054 1880h0M1044 1877h0M1048 1877h0M1052 1869h0M1079 1875h0M1053 1876h0M1052 1878h0M1052 1881h0M1047 1878h0M1041 1879h0M1053 1868h0M1061 1881h0M1048 1882h0M1044 1887h0M1063 1863h0M1059 1875h0M1060 1869h0M1100 1856h0M1061 1870h0M1057 1870h0M1063 1881h0M1070 1860h0M1059 1871h0M1047 1885h0" stroke="#000" stroke-width="7.8" stroke-linecap="round" stroke-opacity="0.33" fill="none"/>
<path d="M1061 1869h0M1046 1878h0M1076 1863h0M1054 1887h0M1080 1859h0M1034 1880h0M1037 1877h0M1034 1886h0M1064 1876h0M1058 1874h0M1058 1873h0M1078 1871h0M1068 1879h0M1054 1870h0M1073 1869h0M1061 1886h0M1076 1854h0M1055 1886h0M1051 1875h0M1053 1873h0M1049 1875h0M1096 1862h0M1097 1858h0M1077 1853h0M1086 1864h0M1066 1870h0M1059 1866h0M1057 1874h0M1063 1871h0M1066 1873h0M1050 1893h0M1066 1876h0M1037 1861h0M1055 1872h0M1059 1874h0M1043 1881h0M1067 1873h0" stroke="#000" stroke-width="7.8" stroke-linecap="round" stroke-opacity="0.33" fill="none"/>
<path d="M1079 1856h0M1042 1867h0M1042 1885h0M1050 1877h0M1062 1866h0M1052 1862h0M1060 1869h0M1057 1881h0M1047 1875h0M1059 1877h0M1052 1879h0M1050 1878h0M1098 1851h0M1097 1844h0M1052 1880h0M1050 1885h0M1042 1884h0M1052 1870h0M1069 1870h0M1064 1878h0M1065 1877h0M1057 1869h0M1051 1880h0M1056 1881h0M1071 1867h0M1067 1868h0M1053 1879h0M1045 1859h0M1046 1880h0M1053 1880h0M1060 1870h0M1063 1878h0M1075 1867h0M1058 1889h0M1049 1877h0M1060 1876h0M1035 1871h0" stroke="#000" stroke-width="7.8" stroke-linecap="round" stroke-opacity="0.33" fill="none"/>
<path d="M1062 1876h0M1054 1886h0M1050 1876h0M1069 1870h0M1110 1847h0M1044 1873h0M1048 1885h0M1065 1877h0M1060 1857h0M1053 1882h0M1087 1868h0M1052 1873h0M1046 1886h0M1050 1879h0M1050 1875h0M1058 1883h0M1076 1877h0M1053 1878h0M1058 1876h0M1062 1862h0M1057 1877h0M1038 1888h0M1061 1871h0M1068 1884h0M1062 1872h0M1056 1879h0M1040 1869h0M1046 1870h0M1057 1876h0M1048 1879h0M1053 1867h0M1064 1873h0M1058 1880h0M1062 1883h0M1065 1866h0M1059 1863h0M1056 1875h0" stroke="#000" stroke-width="7.8" stroke-linecap="round" stroke-opacity="0.33" fill="none"/>
<path d="M1047 1871h0M1057 1875h0M1055 1870h0M1078 1873h0M1063 1879h0M1054 1875h0M1054 1867h0M1056 1870h0M1045 1873h0M1047 1884h0M1056 1868h0M1060 1875h0M1058 1870h0M1065 1860h0M1061 1868h0M1086 1857h0M1057 1877h0M1072 1866h0M1053 1866h0M1055 1873h0M1045 1880h0M1073 1861h0M1053 1865h0M1053 1872h0M1049 1874h0M1062 1877h0M1062 1881h0M1057 1879h0M1052 1869h0M1065 1873h0M1066 1871h0M1048 1886h0M1032 1888h0M1044 1886h0M1065 1847h0M1045 1876h0M1047 1864h0" stroke="#000" stroke-width="7.8" stroke-linecap="round" stroke-opacity="0.33" fill="none"/>
<path d="M1064 1855h0M1057 1869h0M1047 1872h0M1037 1878h0M1053 1878h0M1062 1876h0M1065 1879h0M1068 1874h0M1058 1874h0M1056 1876h0M1063 1869h0M1064 1862h0M1060 1881h0M1059 1868h0M1053 1881h0M1087 1851h0M1041 1881h0M1055 1878h0M1050 1890h0M1048 1871h0M1054 1874h0M1064 1877h0M1069 1864h0M1059 1874h0M1045 1890h0M1078 1864h0M1056 1881h0M1050 1873h0M1086 1866h0M1052 1875h0M1057 1874h0M1064 1872h0M1057 1878h0M1077 1856h0M1050 1883h0M1064 1879h0M1065 1875h0" stroke="#000" stroke-width="7.8" stroke-linecap="round" stroke-opacity="0.33" fill="none"/>
<path d="M1065 1856h0M1055 1871h0M1045 1878h0M1049 1878h0M1073 1833h0M1054 1882h0M1051 1875h0M1078 1870h0M1076 1863h0M1098 1864h0M1066 1875h0M1047 1893h0M1054 1868h0M1065 1869h0M1098 1851h0M1058 1877h0M1069 1867h0M1065 1862h0M1058 1880h0M1065 1877h0M1059 1873h0M1055 1872h0M1050 1874h0M1051 1880h0M1081 1863h0M1088 1843h0M1041 1876h0M1060 1879h0M1045 1887h0M1036 1879h0M1038 1874h0M1051 1880h0M1048 1868h0M1073 1861h0M1073 1868h0M1047 1875h0M1066 1865h0" stroke="#000" stroke-width="7.8" stroke-linecap="round" stroke-opacity="0.33" fill="none"/>
<path d="M1055 1884h0M1087 1856h0M1039 1883h0M1044 1871h0M1052 1889h0M1048 1896h0M1044 1885h0M1056 1873h0M1054 1870h0M1053 1885h0M1060 1872h0M1036 1885h0M1066 1877h0M1058 1878h0M1051 1871h0M1052 1878h0M1051 1884h0M1039 1880h0M1062 1866h0M1076 1865h0M1053 1868h0M1050 1880h0M1044 1882h0M1048 1875h0M1101 1864h0M1054 1874h0M1068 1875h0M1056 1867h0M1037 1880h0M1059 1873h0M1090 1869h0M1050 1878h0M1048 1885h0M1061 1866h0M1057 1867h0M1050 1886h0M1055 1876h0" stroke="#000" stroke-width="7.8" stroke-linecap="round" stroke-opacity="0.33" fill="none"/>
<path d="M1046 1888h0M1044 1883h0M1037 1879h0M1044 1873h0M1071 1854h0M1054 1876h0M1095 1877h0M1070 1861h0M1051 1877h0M1060 1881h0M1065 1877h0M1069 1869h0M1041 1876h0M1046 1879h0M1061 1876h0M1037 1878h0M1045 1870h0M1051 1877h0M1063 1876h0M1041 1877h0M1056 1879h0M1066 1879h0M1064 1863h0M1050 1881h0M1085 1860h0M1053 1879h0M1051 1872h0M1064 1874h0M1053 1873h0M1071 1864h0M1042 1874h0M1034 1885h0M1059 1872h0M1084 1856h0M1081 1871h0M1027 1888h0M1035 1887h0" stroke="#000" stroke-width="7.8" stroke-linecap="round" stroke-opacity="0.33" fill="none"/>
<path d="M1066 1881h0M1063 1870h0M1066 1862h0M1052 1864h0M1100 1852h0M1053 1877h0M1054 1886h0M1052 1866h0M1054 1875h0M1052 1877h0M1048 1876h0M1075 1866h0M1063 1872h0M1042 1876h0M1043 1882h0M1083 1861h0M1036 1874h0M1041 1870h0M1050 1880h0M1044 1881h0M1045 1880h0M1063 1878h0M1052 1872h0M1055 1872h0M1054 1871h0M1055 1884h0M1051 1877h0M1065 1872h0M1062 1878h0M1041 1891h0M1051 1878h0M1029 1881h0M1020 1869h0M1060 1875h0M1044 1873h0M1066 1877h0M1056 1872h0" stroke="#000" stroke-width="7.8" stroke-linecap="round" stroke-opacity="0.33" fill="none"/>
<line x1="982.7" y1="1889.4" x2="1168.55" y2="1849.13" stroke="#000" stroke-width="2" />
<path d="M982.7 1759.55V1945.4H1168.55M982.7 1933.01h3.2M995.09 1945.4v-3.2M982.7 1920.62h3.2M1007.48 1945.4v-3.2M982.7 1908.23h3.2M1019.87 1945.4v-3.2M982.7 1895.84h3.2M1032.26 1945.4v-3.2M982.7 1883.45h3.2M1044.65 1945.4v-3.2M982.7 1871.06h3.2M1057.04 1945.4v-3.2M982.7 1858.67h3.2M1069.43 1945.4v-3.2M982.7 1846.28h3.2M1081.82 1945.4v-3.2M982.7 1833.89h3.2M1094.21 1945.4v-3.2M982.7 1821.5h3.2M1106.6 1945.4v-3.2M982.7 1809.11h3.2M1118.99 1945.4v-3.2M982.7 1796.72h3.2M1131.38 1945.4v-3.2M982.7 1784.33h3.2M1143.77 1945.4v-3.2M982.7 1771.94h3.2M1156.16 1945.4v-3.2M982.7 1759.55h3.2M1168.55 1945.4v-3.2" stroke="#262626" stroke-width="1.6" fill="none"/>
<text x="999.5" y="1779.2" font-size="23.5" fill="#000" font-style="italic" textLength="181.5" lengthAdjust="spacingAndGlyphs">Fitting R = 0.372</text>
<text x="974.15" y="1769.85" font-size="24" fill="#000" text-anchor="end" textLength="14.41" lengthAdjust="spacingAndGlyphs">1</text>
<text x="976.9" y="1833.6" font-size="24" fill="#000" text-anchor="end" textLength="36.03" lengthAdjust="spacingAndGlyphs">0.5</text>
<text x="976.9" y="1895.55" font-size="24" fill="#000" text-anchor="end" textLength="14.41" lengthAdjust="spacingAndGlyphs">0</text>
<text x="976.9" y="1956.8" font-size="24" fill="#000" text-anchor="end" textLength="44.66" lengthAdjust="spacingAndGlyphs">-0.5</text>
<text x="982.7" y="1976" font-size="24" fill="#000" text-anchor="middle" textLength="44.66" lengthAdjust="spacingAndGlyphs">-0.5</text>
<text x="1044.65" y="1976" font-size="24" fill="#000" text-anchor="middle" textLength="14.41" lengthAdjust="spacingAndGlyphs">0</text>
<text x="1106.6" y="1976" font-size="24" fill="#000" text-anchor="middle" textLength="36.03" lengthAdjust="spacingAndGlyphs">0.5</text>
<text x="1166.65" y="1976" font-size="24" fill="#000" text-anchor="middle" textLength="14.41" lengthAdjust="spacingAndGlyphs">1</text>
<path d="M1260 1610h0M1266 1624h0M1271 1625h0M1259 1601h0M1275 1605h0M1255 1640h0M1271 1602h0M1253 1613h0M1314 1592h0M1278 1598h0M1297 1605h0M1276 1586h0M1249 1621h0M1280 1593h0M1291 1606h0M1268 1617h0M1308 1582h0M1293 1615h0M1258 1616h0M1264 1622h0M1272 1599h0M1274 1616h0M1264 1607h0M1269 1605h0M1271 1606h0M1291 1580h0M1281 1615h0M1275 1614h0M1294 1593h0M1277 1602h0M1256 1604h0M1267 1593h0M1266 1613h0M1257 1603h0M1277 1610h0M1272 1624h0M1256 1618h0M1329 1596h0M1264 1610h0M1274 1604h0M1278 1606h0M1260 1604h0" stroke="#000" stroke-width="7.8" stroke-linecap="round" stroke-opacity="0.33" fill="none"/>
<path d="M1273 1593h0M1275 1618h0M1275 1586h0M1273 1601h0M1269 1595h0M1274 1612h0M1280 1587h0M1272 1621h0M1273 1622h0M1282 1606h0M1259 1609h0M1290 1594h0M1277 1616h0M1269 1610h0M1288 1609h0M1261 1630h0M1261 1617h0M1262 1629h0M1283 1593h0M1297 1604h0M1267 1612h0M1280 1609h0M1277 1600h0M1266 1614h0M1272 1617h0M1295 1577h0M1267 1608h0M1265 1614h0M1273 1604h0M1313 1593h0M1267 1589h0M1262 1600h0M1271 1621h0M1264 1604h0M1257 1620h0M1287 1585h0M1305 1592h0M1234 1596h0M1253 1612h0M1269 1625h0M1272 1608h0M1313 1573h0" stroke="#000" stroke-width="7.8" stroke-linecap="round" stroke-opacity="0.33" fill="none"/>
<path d="M1262 1618h0M1268 1634h0M1304 1584h0M1281 1591h0M1266 1599h0M1267 1606h0M1275 1597h0M1264 1629h0M1266 1601h0M1267 1619h0M1265 1610h0M1257 1609h0M1256 1604h0M1266 1607h0M1298 1566h0M1261 1622h0M1263 1608h0M1261 1605h0M1293 1590h0M1270 1605h0M1297 1589h0M1263 1624h0M1258 1615h0M1284 1613h0M1269 1587h0M1267 1635h0M1274 1592h0M1258 1623h0M1293 1605h0M1270 1616h0M1259 1602h0M1256 1627h0M1265 1600h0M1251 1619h0M1270 1595h0M1270 1599h0M1289 1584h0M1263 1601h0M1253 1640h0M1278 1601h0M1269 1606h0M1271 1618h0" stroke="#000" stroke-width="7.8" stroke-linecap="round" stroke-opacity="0.33" fill="none"/>
<path d="M1264 1616h0M1271 1588h0M1263 1604h0M1268 1618h0M1268 1617h0M1272 1622h0M1268 1609h0M1297 1572h0M1271 1610h0M1253 1610h0M1310 1578h0M1263 1605h0M1298 1574h0M1270 1615h0M1270 1611h0M1291 1568h0M1263 1605h0M1264 1604h0M1254 1619h0M1284 1599h0M1261 1599h0M1309 1581h0M1270 1620h0M1277 1596h0M1317 1588h0M1282 1589h0M1281 1618h0M1297 1595h0M1302 1568h0M1281 1578h0M1264 1609h0M1275 1600h0M1271 1602h0M1264 1604h0M1259 1605h0M1238 1624h0M1257 1612h0M1269 1605h0M1251 1619h0M1256 1622h0M1267 1614h0" stroke="#000" stroke-width="7.8" stroke-linecap="round" stroke-opacity="0.33" fill="none"/>
<path d="M1293 1580h0M1275 1615h0M1296 1580h0M1273 1604h0M1261 1615h0M1264 1628h0M1258 1615h0M1275 1603h0M1271 1595h0M1261 1636h0M1274 1614h0M1270 1609h0M1270 1586h0M1268 1600h0M1279 1600h0M1303 1575h0M1261 1639h0M1264 1618h0M1257 1590h0M1253 1628h0M1265 1615h0M1258 1612h0M1260 1631h0M1261 1611h0M1259 1617h0M1271 1589h0M1262 1622h0M1267 1616h0M1270 1598h0M1304 1589h0M1248 1640h0M1314 1562h0M1266 1590h0M1279 1623h0M1293 1591h0M1276 1624h0M1262 1603h0M1260 1601h0M1263 1599h0M1259 1586h0M1278 1598h0" stroke="#000" stroke-width="7.8" stroke-linecap="round" stroke-opacity="0.33" fill="none"/>
<path d="M1291 1577h0M1275 1624h0M1323 1600h0M1272 1599h0M1259 1593h0M1261 1624h0M1270 1610h0M1264 1626h0M1244 1590h0M1303 1576h0M1291 1579h0M1305 1575h0M1275 1587h0M1275 1596h0M1257 1631h0M1279 1620h0M1265 1608h0M1271 1600h0M1273 1611h0M1271 1622h0M1263 1609h0M1265 1600h0M1267 1604h0M1260 1645h0M1269 1633h0M1263 1612h0M1278 1585h0M1249 1620h0M1273 1599h0M1264 1620h0M1259 1599h0M1257 1617h0M1266 1609h0M1305 1569h0M1265 1622h0M1253 1604h0M1257 1600h0M1265 1616h0M1267 1625h0M1274 1626h0M1271 1601h0" stroke="#000" stroke-width="7.8" stroke-linecap="round" stroke-opacity="0.33" fill="none"/>
<path d="M1285 1604h0M1272 1599h0M1266 1612h0M1259 1605h0M1312 1576h0M1302 1592h0M1266 1601h0M1248 1610h0M1266 1604h0M1268 1618h0M1259 1597h0M1263 1601h0M1261 1607h0M1283 1566h0M1299 1601h0M1266 1608h0M1296 1566h0M1279 1608h0M1255 1594h0M1271 1613h0M1255 1605h0M1286 1592h0M1267 1621h0M1267 1621h0M1275 1611h0M1318 1610h0M1255 1628h0M1276 1589h0M1281 1596h0M1268 1606h0M1268 1601h0M1256 1634h0M1288 1612h0M1312 1582h0M1269 1586h0M1269 1626h0M1265 1605h0M1300 1584h0M1264 1621h0M1270 1597h0M1266 1621h0" stroke="#000" stroke-width="7.8" stroke-linecap="round" stroke-opacity="0.33" fill="none"/>
<path d="M1263 1607h0M1267 1588h0M1266 1600h0M1273 1619h0M1281 1612h0M1271 1596h0M1273 1596h0M1284 1598h0M1267 1612h0M1276 1581h0M1260 1617h0M1253 1630h0M1274 1627h0M1274 1588h0M1274 1621h0M1254 1639h0M1270 1612h0M1265 1634h0M1286 1596h0M1269 1612h0M1264 1607h0M1272 1601h0M1259 1617h0M1274 1603h0M1262 1643h0M1269 1614h0M1289 1585h0M1266 1614h0M1278 1600h0M1271 1600h0M1287 1588h0M1257 1626h0M1277 1598h0M1265 1606h0M1289 1594h0M1262 1626h0M1276 1593h0M1269 1595h0M1312 1570h0M1281 1605h0M1295 1597h0" stroke="#000" stroke-width="7.8" stroke-linecap="round" stroke-opacity="0.33" fill="none"/>
<path d="M1267 1641h0M1268 1605h0M1255 1600h0M1271 1607h0M1297 1598h0M1295 1613h0M1268 1601h0M1269 1593h0M1271 1590h0M1268 1611h0M1259 1595h0M1257 1636h0M1295 1573h0M1307 1591h0M1304 1605h0M1264 1600h0M1262 1632h0M1267 1600h0M1277 1582h0M1316 1574h0M1265 1610h0M1284 1581h0M1287 1602h0M1255 1598h0M1264 1619h0M1258 1616h0M1265 1600h0M1273 1634h0M1260 1613h0M1273 1603h0M1266 1611h0M1276 1604h0M1275 1599h0M1267 1587h0M1257 1625h0M1271 1602h0M1254 1611h0M1308 1611h0M1261 1605h0M1265 1598h0M1280 1594h0" stroke="#000" stroke-width="7.8" stroke-linecap="round" stroke-opacity="0.33" fill="none"/>
<path d="M1281 1598h0M1290 1593h0M1278 1595h0M1271 1599h0M1270 1604h0M1278 1600h0M1268 1616h0M1275 1601h0M1275 1603h0M1297 1617h0M1271 1594h0M1289 1615h0M1267 1601h0M1274 1613h0M1299 1593h0M1262 1604h0M1271 1599h0M1284 1595h0M1302 1575h0M1245 1636h0M1259 1616h0M1313 1571h0M1266 1596h0M1271 1601h0M1285 1595h0M1280 1610h0M1261 1615h0M1283 1576h0M1309 1574h0M1262 1616h0M1274 1600h0M1273 1596h0M1326 1570h0M1280 1602h0M1265 1600h0M1266 1600h0M1292 1588h0M1269 1601h0M1274 1615h0M1254 1598h0M1267 1611h0" stroke="#000" stroke-width="7.8" stroke-linecap="round" stroke-opacity="0.33" fill="none"/>
<path d="M1263 1618h0M1304 1587h0M1297 1602h0M1268 1612h0M1256 1597h0M1317 1591h0M1255 1611h0M1264 1617h0M1307 1596h0M1283 1591h0M1277 1591h0M1316 1574h0M1256 1617h0M1302 1563h0M1279 1594h0M1279 1599h0M1268 1600h0M1292 1598h0M1262 1599h0M1254 1637h0M1260 1614h0M1280 1594h0M1261 1619h0M1279 1597h0M1271 1609h0M1270 1606h0M1276 1599h0M1279 1594h0M1309 1586h0M1269 1621h0M1279 1601h0M1303 1585h0M1255 1631h0M1273 1604h0M1268 1583h0M1271 1591h0M1264 1624h0M1290 1615h0M1263 1612h0M1293 1603h0M1275 1616h0" stroke="#000" stroke-width="7.8" stroke-linecap="round" stroke-opacity="0.33" fill="none"/>
<path d="M1269 1596h0M1271 1588h0M1265 1592h0M1261 1618h0M1257 1600h0M1273 1612h0M1265 1618h0M1247 1619h0M1262 1602h0M1295 1602h0M1260 1622h0M1275 1605h0M1300 1591h0M1270 1596h0M1275 1595h0M1262 1619h0M1249 1610h0M1265 1573h0M1292 1611h0M1279 1603h0M1273 1576h0M1305 1588h0M1260 1584h0M1257 1613h0M1250 1627h0M1309 1596h0M1265 1615h0M1263 1621h0M1268 1614h0M1298 1597h0M1252 1617h0M1272 1618h0M1266 1643h0M1271 1600h0M1277 1597h0M1257 1618h0M1268 1624h0M1266 1600h0M1276 1594h0M1254 1587h0M1276 1593h0" stroke="#000" stroke-width="7.8" stroke-linecap="round" stroke-opacity="0.33" fill="none"/>
<path d="M1278 1595h0M1281 1593h0M1256 1599h0M1279 1611h0M1268 1605h0M1277 1610h0M1281 1571h0M1263 1601h0M1259 1598h0M1261 1609h0M1303 1588h0M1294 1588h0M1272 1589h0M1268 1608h0M1265 1609h0M1269 1595h0M1286 1617h0M1295 1575h0M1276 1593h0M1259 1614h0M1280 1605h0M1261 1610h0M1263 1599h0M1270 1613h0M1263 1632h0M1260 1614h0M1272 1598h0M1261 1613h0M1262 1622h0M1280 1603h0M1274 1595h0M1277 1599h0M1247 1626h0M1285 1594h0M1302 1573h0M1253 1602h0M1259 1608h0M1275 1594h0M1282 1590h0M1282 1605h0M1291 1589h0" stroke="#000" stroke-width="7.8" stroke-linecap="round" stroke-opacity="0.33" fill="none"/>
<path d="M1279 1601h0M1304 1580h0M1278 1615h0M1278 1599h0M1303 1596h0M1300 1596h0M1231 1631h0M1272 1601h0M1344 1543h0M1264 1622h0M1289 1586h0M1267 1622h0M1271 1616h0M1262 1601h0M1263 1606h0M1288 1583h0M1313 1600h0M1308 1607h0M1258 1606h0M1336 1574h0M1297 1574h0M1273 1620h0M1262 1606h0M1263 1597h0M1271 1627h0M1266 1602h0M1278 1602h0M1256 1609h0M1269 1588h0M1259 1631h0M1295 1589h0M1270 1609h0M1290 1575h0M1309 1570h0M1273 1609h0M1271 1604h0M1270 1616h0M1261 1616h0M1270 1605h0M1260 1602h0M1265 1612h0" stroke="#000" stroke-width="7.8" stroke-linecap="round" stroke-opacity="0.33" fill="none"/>
<line x1="1199.3" y1="1636.32" x2="1385.15" y2="1559.37" stroke="#000" stroke-width="2" />
<path d="M1199.3 1505.85V1691.7H1385.15M1199.3 1679.31h3.2M1211.69 1691.7v-3.2M1199.3 1666.92h3.2M1224.08 1691.7v-3.2M1199.3 1654.53h3.2M1236.47 1691.7v-3.2M1199.3 1642.14h3.2M1248.86 1691.7v-3.2M1199.3 1629.75h3.2M1261.25 1691.7v-3.2M1199.3 1617.36h3.2M1273.64 1691.7v-3.2M1199.3 1604.97h3.2M1286.03 1691.7v-3.2M1199.3 1592.58h3.2M1298.42 1691.7v-3.2M1199.3 1580.19h3.2M1310.81 1691.7v-3.2M1199.3 1567.8h3.2M1323.2 1691.7v-3.2M1199.3 1555.41h3.2M1335.59 1691.7v-3.2M1199.3 1543.02h3.2M1347.98 1691.7v-3.2M1199.3 1530.63h3.2M1360.37 1691.7v-3.2M1199.3 1518.24h3.2M1372.76 1691.7v-3.2M1199.3 1505.85h3.2M1385.15 1691.7v-3.2" stroke="#262626" stroke-width="1.6" fill="none"/>
<text x="1218" y="1526.6" font-size="23.5" fill="#000" font-style="italic" textLength="181.5" lengthAdjust="spacingAndGlyphs">Fitting R = 0.438</text>
<path d="M1300 1844h0M1269 1867h0M1283 1839h0M1281 1856h0M1284 1855h0M1278 1852h0M1272 1855h0M1253 1864h0M1254 1868h0M1280 1866h0M1233 1836h0M1251 1867h0M1312 1836h0M1287 1853h0M1253 1863h0M1315 1837h0M1268 1872h0M1261 1870h0M1280 1867h0M1260 1856h0M1274 1851h0M1295 1859h0M1293 1854h0M1247 1874h0M1293 1860h0M1272 1861h0M1284 1851h0M1282 1857h0M1272 1861h0M1270 1865h0M1274 1876h0M1278 1867h0M1270 1865h0M1283 1857h0M1345 1840h0M1297 1842h0M1277 1855h0M1278 1869h0M1279 1845h0" stroke="#000" stroke-width="7.8" stroke-linecap="round" stroke-opacity="0.33" fill="none"/>
<path d="M1246 1875h0M1281 1853h0M1259 1861h0M1320 1849h0M1269 1869h0M1267 1867h0M1269 1877h0M1295 1852h0M1284 1876h0M1296 1855h0M1282 1872h0M1285 1845h0M1255 1882h0M1262 1868h0M1252 1873h0M1248 1861h0M1257 1884h0M1263 1861h0M1275 1869h0M1290 1865h0M1292 1851h0M1272 1864h0M1257 1876h0M1284 1848h0M1304 1840h0M1297 1845h0M1296 1848h0M1284 1863h0M1271 1863h0M1265 1876h0M1248 1879h0M1271 1861h0M1270 1856h0M1284 1851h0M1319 1844h0M1307 1855h0M1285 1864h0M1293 1849h0M1286 1854h0" stroke="#000" stroke-width="7.8" stroke-linecap="round" stroke-opacity="0.33" fill="none"/>
<path d="M1279 1864h0M1297 1855h0M1289 1869h0M1295 1838h0M1282 1875h0M1272 1858h0M1262 1863h0M1275 1852h0M1255 1870h0M1274 1862h0M1265 1879h0M1287 1868h0M1264 1861h0M1278 1855h0M1280 1858h0M1308 1843h0M1251 1866h0M1269 1867h0M1262 1848h0M1294 1861h0M1276 1858h0M1296 1846h0M1272 1861h0M1273 1854h0M1289 1851h0M1271 1871h0M1302 1860h0M1293 1856h0M1279 1838h0M1257 1860h0M1285 1863h0M1270 1856h0M1269 1861h0M1278 1848h0M1291 1844h0M1254 1863h0M1302 1857h0M1272 1864h0M1257 1875h0" stroke="#000" stroke-width="7.8" stroke-linecap="round" stroke-opacity="0.33" fill="none"/>
<path d="M1283 1857h0M1272 1873h0M1248 1865h0M1262 1866h0M1281 1870h0M1265 1868h0M1287 1851h0M1284 1857h0M1315 1846h0M1261 1879h0M1289 1861h0M1278 1863h0M1274 1877h0M1261 1874h0M1255 1868h0M1266 1855h0M1274 1851h0M1288 1851h0M1240 1855h0M1287 1865h0M1295 1856h0M1263 1875h0M1276 1864h0M1269 1859h0M1280 1886h0M1269 1870h0M1287 1860h0M1277 1842h0M1285 1846h0M1284 1860h0M1249 1872h0M1279 1862h0M1285 1856h0M1279 1849h0M1276 1870h0M1266 1893h0M1280 1882h0M1306 1848h0M1294 1855h0" stroke="#000" stroke-width="7.8" stroke-linecap="round" stroke-opacity="0.33" fill="none"/>
<path d="M1275 1866h0M1266 1858h0M1271 1848h0M1264 1875h0M1265 1865h0M1235 1878h0M1273 1852h0M1278 1861h0M1255 1870h0M1261 1875h0M1263 1856h0M1274 1873h0M1297 1854h0M1296 1861h0M1341 1828h0M1278 1869h0M1274 1869h0M1258 1868h0M1279 1871h0M1266 1861h0M1273 1859h0M1270 1861h0M1280 1854h0M1260 1859h0M1274 1853h0M1276 1843h0M1299 1856h0M1285 1847h0M1265 1875h0M1254 1875h0M1313 1872h0M1260 1865h0M1263 1876h0M1297 1855h0M1283 1872h0M1269 1866h0M1281 1870h0M1279 1865h0M1311 1847h0" stroke="#000" stroke-width="7.8" stroke-linecap="round" stroke-opacity="0.33" fill="none"/>
<path d="M1278 1867h0M1279 1856h0M1272 1873h0M1262 1860h0M1283 1857h0M1274 1852h0M1270 1855h0M1257 1880h0M1290 1853h0M1242 1873h0M1254 1871h0M1291 1858h0M1276 1858h0M1283 1849h0M1271 1860h0M1275 1872h0M1264 1869h0M1270 1871h0M1263 1867h0M1319 1836h0M1266 1877h0M1266 1878h0M1283 1865h0M1260 1868h0M1275 1868h0M1274 1865h0M1263 1871h0M1280 1856h0M1259 1871h0M1300 1846h0M1287 1843h0M1262 1868h0M1270 1870h0M1270 1862h0M1264 1869h0M1252 1880h0M1274 1870h0M1249 1873h0M1243 1880h0" stroke="#000" stroke-width="7.8" stroke-linecap="round" stroke-opacity="0.33" fill="none"/>
<path d="M1253 1860h0M1270 1862h0M1309 1856h0M1263 1873h0M1253 1863h0M1276 1876h0M1297 1849h0M1295 1860h0M1270 1877h0M1285 1859h0M1267 1854h0M1281 1854h0M1293 1848h0M1271 1866h0M1281 1859h0M1284 1857h0M1275 1853h0M1280 1874h0M1302 1857h0M1238 1860h0M1288 1855h0M1296 1860h0M1279 1864h0M1289 1865h0M1278 1859h0M1259 1873h0M1270 1864h0M1266 1879h0M1260 1865h0M1275 1871h0M1279 1857h0M1293 1856h0M1278 1873h0M1261 1886h0M1276 1864h0M1293 1843h0M1272 1856h0M1273 1854h0M1314 1840h0" stroke="#000" stroke-width="7.8" stroke-linecap="round" stroke-opacity="0.33" fill="none"/>
<path d="M1269 1862h0M1328 1842h0M1264 1870h0M1275 1865h0M1278 1850h0M1274 1881h0M1258 1864h0M1281 1863h0M1259 1859h0M1292 1867h0M1287 1860h0M1256 1875h0M1254 1874h0M1264 1858h0M1266 1867h0M1268 1882h0M1284 1865h0M1256 1866h0M1273 1850h0M1270 1869h0M1286 1858h0M1289 1871h0M1275 1867h0M1266 1871h0M1269 1867h0M1266 1860h0M1258 1865h0M1248 1879h0M1282 1861h0M1270 1876h0M1271 1874h0M1277 1857h0M1289 1853h0M1269 1858h0M1271 1875h0M1298 1868h0M1252 1863h0M1301 1832h0M1295 1857h0" stroke="#000" stroke-width="7.8" stroke-linecap="round" stroke-opacity="0.33" fill="none"/>
<path d="M1295 1841h0M1261 1874h0M1313 1847h0M1283 1870h0M1266 1860h0M1273 1861h0M1270 1870h0M1276 1855h0M1254 1872h0M1263 1851h0M1289 1861h0M1282 1868h0M1289 1861h0M1300 1855h0M1264 1874h0M1281 1856h0M1273 1863h0M1286 1850h0M1287 1864h0M1264 1884h0M1273 1881h0M1269 1869h0M1273 1873h0M1269 1863h0M1272 1858h0M1307 1843h0M1261 1854h0M1256 1866h0M1276 1867h0M1295 1849h0M1272 1867h0M1263 1858h0M1303 1865h0M1275 1867h0M1276 1853h0M1243 1868h0M1251 1867h0M1266 1867h0M1273 1870h0" stroke="#000" stroke-width="7.8" stroke-linecap="round" stroke-opacity="0.33" fill="none"/>
<path d="M1263 1860h0M1283 1852h0M1267 1864h0M1303 1859h0M1277 1841h0M1288 1840h0M1270 1864h0M1289 1856h0M1323 1829h0M1266 1864h0M1295 1853h0M1266 1873h0M1285 1868h0M1330 1849h0M1304 1851h0M1265 1881h0M1256 1878h0M1279 1862h0M1285 1857h0M1267 1867h0M1281 1874h0M1281 1868h0M1267 1872h0M1281 1864h0M1318 1852h0M1264 1870h0M1301 1851h0M1261 1880h0M1288 1850h0M1273 1861h0M1296 1855h0M1283 1862h0M1270 1869h0M1259 1867h0M1300 1842h0M1285 1871h0M1277 1867h0M1261 1874h0M1296 1859h0" stroke="#000" stroke-width="7.8" stroke-linecap="round" stroke-opacity="0.33" fill="none"/>
<path d="M1297 1844h0M1299 1840h0M1288 1845h0M1270 1871h0M1307 1855h0M1296 1841h0M1311 1853h0M1268 1867h0M1295 1861h0M1250 1878h0M1267 1886h0M1254 1867h0M1256 1869h0M1313 1837h0M1268 1860h0M1303 1835h0M1266 1866h0M1240 1889h0M1282 1863h0M1274 1868h0M1277 1874h0M1278 1877h0M1280 1852h0M1276 1860h0M1273 1854h0M1306 1852h0M1252 1874h0M1253 1863h0M1262 1851h0M1270 1870h0M1257 1870h0M1272 1866h0M1284 1876h0M1277 1867h0M1288 1862h0M1266 1876h0M1273 1861h0M1267 1873h0M1270 1875h0" stroke="#000" stroke-width="7.8" stroke-linecap="round" stroke-opacity="0.33" fill="none"/>
<path d="M1263 1877h0M1260 1861h0M1264 1864h0M1291 1863h0M1262 1883h0M1302 1848h0M1243 1879h0M1281 1840h0M1257 1867h0M1267 1867h0M1275 1869h0M1278 1861h0M1245 1876h0M1267 1861h0M1253 1882h0M1285 1845h0M1289 1848h0M1271 1870h0M1263 1872h0M1288 1866h0M1267 1869h0M1301 1856h0M1280 1868h0M1274 1863h0M1258 1863h0M1263 1864h0M1280 1869h0M1276 1863h0M1261 1881h0M1266 1876h0M1295 1853h0M1291 1864h0M1293 1856h0M1272 1868h0M1292 1859h0M1270 1868h0M1289 1850h0M1260 1873h0M1307 1853h0" stroke="#000" stroke-width="7.8" stroke-linecap="round" stroke-opacity="0.33" fill="none"/>
<path d="M1271 1854h0M1286 1865h0M1274 1859h0M1254 1865h0M1272 1867h0M1283 1873h0M1290 1846h0M1285 1855h0M1273 1857h0M1263 1872h0M1273 1870h0M1271 1867h0M1241 1870h0M1265 1878h0M1260 1861h0M1265 1855h0M1293 1855h0M1268 1876h0M1269 1865h0M1318 1846h0M1306 1849h0M1272 1865h0M1263 1874h0M1295 1853h0M1291 1856h0M1272 1864h0M1303 1850h0M1271 1848h0M1272 1857h0M1270 1862h0M1283 1861h0M1260 1860h0M1287 1842h0M1292 1865h0M1285 1862h0M1295 1848h0M1250 1845h0M1269 1878h0M1247 1867h0" stroke="#000" stroke-width="7.8" stroke-linecap="round" stroke-opacity="0.33" fill="none"/>
<path d="M1293 1851h0M1298 1851h0M1273 1861h0M1293 1861h0M1292 1857h0M1264 1869h0M1248 1864h0M1290 1855h0M1271 1874h0M1295 1847h0M1260 1864h0M1254 1870h0M1259 1870h0M1283 1872h0M1283 1863h0M1288 1862h0M1257 1880h0M1260 1876h0M1266 1863h0M1254 1875h0M1264 1874h0M1293 1846h0M1272 1879h0M1263 1856h0M1255 1880h0M1299 1836h0M1267 1857h0M1259 1853h0M1283 1880h0M1269 1886h0M1256 1879h0M1300 1854h0M1268 1863h0M1292 1854h0M1284 1855h0M1275 1850h0M1279 1852h0M1260 1855h0" stroke="#000" stroke-width="7.8" stroke-linecap="round" stroke-opacity="0.33" fill="none"/>
<line x1="1199.3" y1="1881.22" x2="1385.15" y2="1822.37" stroke="#000" stroke-width="2" />
<path d="M1199.3 1759.55V1945.4H1385.15M1199.3 1933.01h3.2M1211.69 1945.4v-3.2M1199.3 1920.62h3.2M1224.08 1945.4v-3.2M1199.3 1908.23h3.2M1236.47 1945.4v-3.2M1199.3 1895.84h3.2M1248.86 1945.4v-3.2M1199.3 1883.45h3.2M1261.25 1945.4v-3.2M1199.3 1871.06h3.2M1273.64 1945.4v-3.2M1199.3 1858.67h3.2M1286.03 1945.4v-3.2M1199.3 1846.28h3.2M1298.42 1945.4v-3.2M1199.3 1833.89h3.2M1310.81 1945.4v-3.2M1199.3 1821.5h3.2M1323.2 1945.4v-3.2M1199.3 1809.11h3.2M1335.59 1945.4v-3.2M1199.3 1796.72h3.2M1347.98 1945.4v-3.2M1199.3 1784.33h3.2M1360.37 1945.4v-3.2M1199.3 1771.94h3.2M1372.76 1945.4v-3.2M1199.3 1759.55h3.2M1385.15 1945.4v-3.2" stroke="#262626" stroke-width="1.6" fill="none"/>
<text x="1220.5" y="1779.3" font-size="23.5" fill="#000" font-style="italic" textLength="180.5" lengthAdjust="spacingAndGlyphs">Fitting R = 0.521</text>
<text x="1199.3" y="1976" font-size="24" fill="#000" text-anchor="middle" textLength="44.66" lengthAdjust="spacingAndGlyphs">-0.5</text>
<text x="1261.25" y="1976" font-size="24" fill="#000" text-anchor="middle" textLength="14.41" lengthAdjust="spacingAndGlyphs">0</text>
<text x="1323.2" y="1976" font-size="24" fill="#000" text-anchor="middle" textLength="36.03" lengthAdjust="spacingAndGlyphs">0.5</text>
<text x="1383.25" y="1976" font-size="24" fill="#000" text-anchor="middle" textLength="14.41" lengthAdjust="spacingAndGlyphs">1</text>
<path d="M1500 1623h0M1470 1627h0M1478 1627h0M1494 1621h0M1478 1632h0M1504 1622h0M1471 1630h0M1448 1621h0M1500 1599h0M1476 1627h0M1479 1628h0M1487 1626h0M1485 1623h0M1477 1624h0M1467 1627h0M1463 1626h0M1515 1610h0M1484 1629h0M1494 1617h0M1482 1623h0M1457 1623h0M1496 1621h0M1483 1615h0M1473 1621h0M1513 1617h0M1527 1582h0M1473 1624h0M1518 1627h0M1511 1606h0M1492 1618h0M1467 1625h0M1478 1619h0M1470 1627h0M1470 1629h0M1473 1625h0M1495 1623h0M1486 1622h0M1473 1625h0M1460 1629h0M1474 1618h0M1512 1612h0M1469 1624h0M1471 1618h0" stroke="#000" stroke-width="7.8" stroke-linecap="round" stroke-opacity="0.33" fill="none"/>
<path d="M1492 1632h0M1520 1619h0M1506 1613h0M1471 1631h0M1498 1616h0M1475 1631h0M1465 1621h0M1457 1621h0M1508 1588h0M1496 1627h0M1523 1619h0M1484 1629h0M1510 1618h0M1514 1601h0M1490 1613h0M1475 1617h0M1487 1633h0M1486 1633h0M1484 1624h0M1488 1621h0M1507 1622h0M1481 1618h0M1478 1625h0M1470 1628h0M1473 1622h0M1470 1629h0M1510 1596h0M1511 1622h0M1494 1613h0M1477 1634h0M1492 1623h0M1484 1622h0M1499 1626h0M1485 1630h0M1512 1627h0M1507 1600h0M1476 1618h0M1483 1584h0M1462 1627h0M1521 1609h0M1492 1624h0M1473 1619h0M1480 1624h0" stroke="#000" stroke-width="7.8" stroke-linecap="round" stroke-opacity="0.33" fill="none"/>
<path d="M1458 1622h0M1518 1622h0M1444 1610h0M1506 1626h0M1523 1609h0M1505 1626h0M1538 1619h0M1476 1624h0M1506 1623h0M1500 1625h0M1492 1616h0M1512 1622h0M1460 1629h0M1535 1587h0M1455 1625h0M1457 1620h0M1472 1629h0M1479 1630h0M1485 1629h0M1505 1620h0M1470 1631h0M1530 1598h0M1433 1605h0M1483 1626h0M1470 1630h0M1447 1615h0M1480 1620h0M1484 1622h0M1492 1621h0M1513 1592h0M1492 1633h0M1517 1624h0M1517 1629h0M1496 1586h0M1493 1624h0M1474 1626h0M1502 1628h0M1459 1623h0M1489 1610h0M1485 1620h0M1511 1600h0M1482 1627h0" stroke="#000" stroke-width="7.8" stroke-linecap="round" stroke-opacity="0.33" fill="none"/>
<path d="M1545 1583h0M1503 1619h0M1471 1609h0M1466 1611h0M1439 1611h0M1498 1625h0M1515 1599h0M1479 1620h0M1483 1621h0M1490 1621h0M1496 1621h0M1475 1630h0M1452 1626h0M1475 1613h0M1468 1629h0M1443 1621h0M1511 1622h0M1439 1627h0M1483 1629h0M1467 1623h0M1490 1628h0M1472 1629h0M1523 1589h0M1483 1621h0M1510 1622h0M1479 1617h0M1501 1627h0M1479 1633h0M1487 1621h0M1490 1619h0M1510 1603h0M1467 1622h0M1460 1614h0M1502 1618h0M1488 1603h0M1468 1622h0M1503 1631h0M1430 1605h0M1486 1624h0M1509 1615h0M1496 1625h0M1480 1617h0" stroke="#000" stroke-width="7.8" stroke-linecap="round" stroke-opacity="0.33" fill="none"/>
<path d="M1508 1592h0M1493 1624h0M1475 1620h0M1518 1587h0M1515 1607h0M1500 1632h0M1518 1625h0M1493 1617h0M1466 1621h0M1494 1631h0M1461 1618h0M1510 1625h0M1465 1623h0M1494 1619h0M1456 1623h0M1495 1615h0M1517 1597h0M1500 1612h0M1526 1607h0M1506 1625h0M1469 1625h0M1525 1596h0M1530 1623h0M1489 1621h0M1451 1628h0M1507 1627h0M1455 1625h0M1487 1614h0M1478 1625h0M1459 1623h0M1487 1621h0M1483 1629h0M1466 1628h0M1487 1633h0M1472 1631h0M1521 1594h0M1474 1626h0M1489 1622h0M1526 1614h0M1485 1625h0M1473 1620h0M1499 1621h0" stroke="#000" stroke-width="7.8" stroke-linecap="round" stroke-opacity="0.33" fill="none"/>
<path d="M1511 1606h0M1465 1627h0M1486 1621h0M1501 1612h0M1474 1622h0M1486 1626h0M1485 1622h0M1468 1636h0M1499 1620h0M1481 1630h0M1468 1629h0M1474 1622h0M1477 1627h0M1529 1596h0M1507 1620h0M1522 1606h0M1468 1620h0M1481 1622h0M1492 1614h0M1494 1620h0M1474 1627h0M1485 1617h0M1490 1620h0M1469 1627h0M1489 1627h0M1490 1618h0M1492 1627h0M1524 1625h0M1489 1627h0M1499 1628h0M1460 1622h0M1470 1623h0M1495 1622h0M1460 1624h0M1441 1623h0M1478 1630h0M1481 1622h0M1493 1623h0M1472 1627h0M1474 1621h0M1494 1632h0M1511 1608h0" stroke="#000" stroke-width="7.8" stroke-linecap="round" stroke-opacity="0.33" fill="none"/>
<path d="M1453 1623h0M1469 1619h0M1468 1619h0M1455 1621h0M1488 1616h0M1434 1615h0M1531 1568h0M1476 1621h0M1475 1625h0M1487 1628h0M1463 1615h0M1507 1616h0M1530 1618h0M1449 1615h0M1495 1622h0M1497 1621h0M1476 1618h0M1530 1606h0M1460 1626h0M1492 1622h0M1499 1628h0M1448 1619h0M1466 1627h0M1461 1630h0M1488 1624h0M1486 1629h0M1457 1623h0M1519 1601h0M1476 1626h0M1484 1620h0M1496 1593h0M1509 1619h0M1460 1608h0M1525 1598h0M1458 1628h0M1500 1623h0M1490 1622h0M1487 1622h0M1514 1603h0M1459 1628h0M1490 1612h0M1485 1621h0" stroke="#000" stroke-width="7.8" stroke-linecap="round" stroke-opacity="0.33" fill="none"/>
<path d="M1487 1623h0M1488 1624h0M1449 1627h0M1486 1603h0M1457 1623h0M1477 1625h0M1526 1612h0M1468 1619h0M1486 1614h0M1502 1625h0M1466 1621h0M1490 1616h0M1495 1617h0M1495 1624h0M1485 1622h0M1483 1623h0M1508 1596h0M1510 1607h0M1434 1622h0M1489 1632h0M1473 1630h0M1470 1625h0M1495 1623h0M1487 1621h0M1475 1629h0M1496 1607h0M1492 1614h0M1537 1572h0M1497 1624h0M1492 1629h0M1494 1629h0M1513 1596h0M1503 1623h0M1505 1612h0M1501 1615h0M1450 1619h0M1445 1625h0M1507 1606h0M1459 1618h0M1463 1617h0M1454 1618h0M1470 1630h0" stroke="#000" stroke-width="7.8" stroke-linecap="round" stroke-opacity="0.33" fill="none"/>
<path d="M1465 1627h0M1464 1624h0M1471 1620h0M1508 1624h0M1482 1626h0M1480 1624h0M1496 1623h0M1489 1616h0M1476 1615h0M1486 1627h0M1502 1622h0M1496 1618h0M1452 1633h0M1503 1620h0M1492 1622h0M1479 1618h0M1498 1623h0M1490 1622h0M1495 1628h0M1489 1633h0M1458 1623h0M1491 1630h0M1497 1624h0M1495 1619h0M1482 1617h0M1469 1617h0M1475 1622h0M1476 1622h0M1480 1632h0M1475 1622h0M1458 1620h0M1505 1620h0M1467 1621h0M1452 1611h0M1467 1622h0M1486 1624h0M1499 1620h0M1456 1623h0M1510 1600h0M1536 1595h0M1479 1625h0M1482 1627h0" stroke="#000" stroke-width="7.8" stroke-linecap="round" stroke-opacity="0.33" fill="none"/>
<path d="M1470 1622h0M1462 1622h0M1511 1619h0M1451 1628h0M1464 1617h0M1494 1618h0M1466 1627h0M1481 1629h0M1485 1615h0M1446 1611h0M1503 1617h0M1489 1622h0M1491 1628h0M1504 1615h0M1479 1615h0M1485 1622h0M1513 1624h0M1454 1626h0M1483 1627h0M1452 1615h0M1518 1598h0M1505 1591h0M1497 1620h0M1458 1606h0M1498 1623h0M1494 1601h0M1449 1622h0M1458 1618h0M1470 1619h0M1507 1606h0M1482 1622h0M1466 1618h0M1419 1605h0M1501 1624h0M1454 1624h0M1473 1627h0M1490 1618h0M1499 1616h0M1436 1612h0M1477 1628h0M1473 1626h0M1476 1620h0" stroke="#000" stroke-width="7.8" stroke-linecap="round" stroke-opacity="0.33" fill="none"/>
<path d="M1512 1623h0M1444 1611h0M1493 1624h0M1477 1619h0M1477 1620h0M1500 1626h0M1468 1625h0M1472 1631h0M1464 1618h0M1492 1617h0M1502 1621h0M1486 1624h0M1478 1622h0M1474 1632h0M1504 1619h0M1458 1625h0M1476 1614h0M1483 1623h0M1479 1619h0M1491 1627h0M1479 1617h0M1462 1626h0M1497 1609h0M1478 1625h0M1442 1604h0M1495 1622h0M1470 1617h0M1494 1615h0M1493 1619h0M1487 1625h0M1507 1605h0M1485 1632h0M1473 1629h0M1478 1626h0M1464 1624h0M1527 1578h0M1480 1628h0M1495 1609h0M1491 1627h0M1463 1625h0M1501 1625h0M1465 1618h0" stroke="#000" stroke-width="7.8" stroke-linecap="round" stroke-opacity="0.33" fill="none"/>
<path d="M1478 1618h0M1513 1626h0M1485 1623h0M1471 1621h0M1453 1623h0M1478 1621h0M1494 1617h0M1462 1625h0M1494 1616h0M1514 1583h0M1471 1620h0M1481 1633h0M1494 1627h0M1482 1628h0M1486 1623h0M1504 1620h0M1498 1622h0M1521 1615h0M1465 1623h0M1482 1619h0M1471 1623h0M1473 1632h0M1467 1618h0M1498 1621h0M1476 1626h0M1450 1604h0M1446 1610h0M1486 1612h0M1492 1625h0M1474 1621h0M1478 1609h0M1480 1626h0M1515 1634h0M1499 1618h0M1475 1628h0M1484 1617h0M1488 1619h0M1465 1621h0M1494 1629h0M1483 1626h0M1494 1629h0M1520 1609h0" stroke="#000" stroke-width="7.8" stroke-linecap="round" stroke-opacity="0.33" fill="none"/>
<path d="M1465 1629h0M1504 1620h0M1452 1625h0M1460 1624h0M1517 1618h0M1496 1593h0M1514 1597h0M1522 1624h0M1471 1624h0M1486 1609h0M1512 1606h0M1511 1626h0M1454 1615h0M1491 1627h0M1515 1604h0M1495 1622h0M1489 1620h0M1462 1612h0M1459 1628h0M1501 1621h0M1512 1622h0M1489 1617h0M1471 1634h0M1511 1619h0M1470 1630h0M1497 1625h0M1515 1625h0M1465 1618h0M1464 1635h0M1508 1608h0M1486 1623h0M1504 1599h0M1494 1630h0M1531 1599h0M1448 1628h0M1485 1620h0M1471 1626h0M1459 1621h0M1489 1627h0M1516 1621h0M1501 1624h0M1467 1617h0" stroke="#000" stroke-width="7.8" stroke-linecap="round" stroke-opacity="0.33" fill="none"/>
<path d="M1502 1612h0M1468 1625h0M1504 1625h0M1508 1623h0M1493 1614h0M1493 1620h0M1502 1622h0M1481 1623h0M1503 1618h0M1512 1624h0M1475 1617h0M1538 1593h0M1479 1620h0M1442 1637h0M1459 1628h0M1480 1622h0M1486 1626h0M1477 1625h0M1480 1625h0M1488 1625h0M1448 1636h0M1530 1617h0M1476 1627h0M1471 1613h0M1463 1615h0M1503 1624h0M1504 1621h0M1446 1626h0M1448 1625h0M1544 1600h0M1493 1621h0M1492 1625h0M1542 1578h0M1525 1592h0M1482 1627h0M1501 1614h0M1510 1604h0M1478 1625h0M1521 1601h0M1474 1609h0M1487 1622h0M1456 1628h0" stroke="#000" stroke-width="7.8" stroke-linecap="round" stroke-opacity="0.33" fill="none"/>
<line x1="1415.3" y1="1631.48" x2="1601.15" y2="1593.94" stroke="#000" stroke-width="2" />
<path d="M1415.3 1505.85V1691.7H1601.15M1415.3 1679.31h3.2M1427.69 1691.7v-3.2M1415.3 1666.92h3.2M1440.08 1691.7v-3.2M1415.3 1654.53h3.2M1452.47 1691.7v-3.2M1415.3 1642.14h3.2M1464.86 1691.7v-3.2M1415.3 1629.75h3.2M1477.25 1691.7v-3.2M1415.3 1617.36h3.2M1489.64 1691.7v-3.2M1415.3 1604.97h3.2M1502.03 1691.7v-3.2M1415.3 1592.58h3.2M1514.42 1691.7v-3.2M1415.3 1580.19h3.2M1526.81 1691.7v-3.2M1415.3 1567.8h3.2M1539.2 1691.7v-3.2M1415.3 1555.41h3.2M1551.59 1691.7v-3.2M1415.3 1543.02h3.2M1563.98 1691.7v-3.2M1415.3 1530.63h3.2M1576.37 1691.7v-3.2M1415.3 1518.24h3.2M1588.76 1691.7v-3.2M1415.3 1505.85h3.2M1601.15 1691.7v-3.2" stroke="#262626" stroke-width="1.6" fill="none"/>
<text x="1441" y="1526.6" font-size="23.5" fill="#000" font-style="italic" textLength="181.5" lengthAdjust="spacingAndGlyphs">Fitting R = 0.472</text>
<path d="M1480 1884h0M1485 1894h0M1485 1885h0M1479 1881h0M1502 1879h0M1471 1887h0M1494 1878h0M1462 1885h0M1473 1886h0M1466 1881h0M1465 1883h0M1482 1885h0M1478 1884h0M1470 1886h0M1488 1882h0M1477 1886h0M1471 1884h0M1478 1883h0M1487 1881h0M1506 1881h0M1479 1882h0M1472 1886h0M1476 1888h0M1527 1871h0M1469 1895h0M1536 1873h0M1466 1888h0M1475 1874h0M1483 1889h0M1470 1884h0M1482 1881h0M1484 1885h0M1487 1886h0M1482 1872h0M1493 1886h0M1489 1877h0M1466 1883h0M1475 1878h0M1472 1880h0M1469 1888h0M1476 1893h0M1464 1885h0M1477 1882h0M1512 1868h0M1473 1882h0M1476 1886h0M1473 1880h0" stroke="#000" stroke-width="7.8" stroke-linecap="round" stroke-opacity="0.33" fill="none"/>
<path d="M1481 1888h0M1479 1887h0M1474 1884h0M1497 1882h0M1463 1889h0M1458 1887h0M1515 1864h0M1472 1886h0M1484 1890h0M1564 1860h0M1475 1890h0M1476 1889h0M1463 1889h0M1477 1881h0M1482 1877h0M1483 1877h0M1472 1883h0M1492 1879h0M1472 1877h0M1480 1881h0M1483 1888h0M1475 1881h0M1471 1891h0M1485 1882h0M1477 1874h0M1473 1883h0M1486 1884h0M1494 1880h0M1492 1881h0M1511 1864h0M1471 1891h0M1479 1880h0M1465 1884h0M1470 1890h0M1481 1887h0M1492 1880h0M1468 1887h0M1498 1883h0M1471 1885h0M1488 1869h0M1482 1880h0M1503 1873h0M1477 1885h0M1477 1885h0M1468 1881h0M1497 1881h0M1482 1873h0" stroke="#000" stroke-width="7.8" stroke-linecap="round" stroke-opacity="0.33" fill="none"/>
<path d="M1506 1871h0M1484 1882h0M1475 1881h0M1485 1887h0M1515 1875h0M1467 1897h0M1476 1889h0M1476 1879h0M1477 1889h0M1479 1890h0M1466 1895h0M1475 1889h0M1490 1877h0M1501 1870h0M1485 1874h0M1471 1882h0M1459 1879h0M1472 1879h0M1493 1872h0M1499 1885h0M1484 1886h0M1485 1883h0M1490 1887h0M1476 1882h0M1470 1885h0M1489 1892h0M1455 1881h0M1462 1892h0M1477 1884h0M1471 1884h0M1475 1893h0M1486 1878h0M1475 1889h0M1479 1876h0M1469 1882h0M1471 1881h0M1484 1880h0M1472 1882h0M1474 1881h0M1479 1882h0M1468 1878h0M1473 1878h0M1493 1889h0M1479 1887h0M1472 1877h0M1489 1885h0M1464 1888h0" stroke="#000" stroke-width="7.8" stroke-linecap="round" stroke-opacity="0.33" fill="none"/>
<path d="M1476 1889h0M1473 1879h0M1480 1888h0M1482 1880h0M1478 1887h0M1478 1878h0M1479 1872h0M1473 1882h0M1476 1887h0M1484 1879h0M1488 1886h0M1469 1876h0M1497 1872h0M1482 1886h0M1481 1885h0M1476 1887h0M1477 1891h0M1493 1878h0M1468 1889h0M1503 1867h0M1478 1883h0M1473 1886h0M1476 1883h0M1482 1871h0M1475 1880h0M1489 1880h0M1475 1879h0M1474 1883h0M1462 1882h0M1486 1883h0M1475 1883h0M1485 1883h0M1475 1884h0M1469 1886h0M1477 1882h0M1470 1871h0M1476 1880h0M1457 1887h0M1507 1874h0M1481 1882h0M1474 1881h0M1481 1885h0M1488 1871h0M1471 1879h0M1527 1880h0M1478 1877h0" stroke="#000" stroke-width="7.8" stroke-linecap="round" stroke-opacity="0.33" fill="none"/>
<path d="M1470 1886h0M1469 1882h0M1485 1879h0M1501 1874h0M1475 1882h0M1475 1886h0M1495 1886h0M1491 1883h0M1482 1881h0M1469 1884h0M1485 1880h0M1469 1878h0M1487 1883h0M1474 1880h0M1486 1873h0M1472 1892h0M1512 1873h0M1475 1879h0M1477 1886h0M1471 1883h0M1477 1884h0M1481 1887h0M1472 1883h0M1476 1881h0M1480 1891h0M1511 1875h0M1468 1884h0M1471 1887h0M1504 1880h0M1482 1882h0M1483 1880h0M1469 1882h0M1474 1880h0M1478 1882h0M1505 1881h0M1496 1871h0M1493 1890h0M1461 1890h0M1480 1883h0M1533 1864h0M1474 1886h0M1489 1881h0M1475 1878h0M1484 1885h0M1504 1869h0M1474 1871h0" stroke="#000" stroke-width="7.8" stroke-linecap="round" stroke-opacity="0.33" fill="none"/>
<path d="M1468 1885h0M1490 1880h0M1476 1882h0M1476 1877h0M1478 1885h0M1518 1875h0M1481 1875h0M1513 1869h0M1482 1882h0M1476 1885h0M1478 1889h0M1476 1878h0M1478 1882h0M1478 1884h0M1492 1883h0M1505 1877h0M1472 1885h0M1534 1874h0M1479 1881h0M1469 1882h0M1478 1880h0M1470 1882h0M1494 1878h0M1463 1886h0M1487 1883h0M1490 1885h0M1511 1868h0M1484 1886h0M1480 1886h0M1476 1885h0M1478 1877h0M1476 1876h0M1474 1880h0M1481 1876h0M1487 1882h0M1476 1886h0M1491 1882h0M1483 1891h0M1478 1886h0M1474 1883h0M1510 1872h0M1482 1883h0M1476 1892h0M1488 1884h0M1495 1885h0M1473 1878h0" stroke="#000" stroke-width="7.8" stroke-linecap="round" stroke-opacity="0.33" fill="none"/>
<path d="M1497 1885h0M1440 1875h0M1474 1881h0M1461 1882h0M1488 1878h0M1471 1885h0M1475 1883h0M1493 1886h0M1480 1884h0M1496 1875h0M1466 1886h0M1479 1890h0M1488 1885h0M1474 1880h0M1488 1882h0M1480 1889h0M1476 1876h0M1482 1889h0M1468 1879h0M1521 1869h0M1483 1887h0M1477 1889h0M1473 1878h0M1478 1876h0M1481 1884h0M1471 1884h0M1495 1885h0M1471 1880h0M1474 1884h0M1475 1889h0M1474 1878h0M1501 1871h0M1495 1876h0M1479 1882h0M1478 1885h0M1479 1882h0M1491 1878h0M1469 1899h0M1479 1888h0M1467 1892h0M1481 1882h0M1480 1880h0M1517 1866h0M1466 1879h0M1484 1886h0M1463 1874h0" stroke="#000" stroke-width="7.8" stroke-linecap="round" stroke-opacity="0.33" fill="none"/>
<path d="M1462 1881h0M1480 1882h0M1470 1883h0M1474 1878h0M1484 1883h0M1464 1885h0M1493 1875h0M1485 1886h0M1482 1878h0M1484 1879h0M1490 1881h0M1470 1888h0M1473 1888h0M1484 1886h0M1475 1877h0M1462 1895h0M1473 1883h0M1463 1888h0M1471 1884h0M1486 1887h0M1491 1879h0M1489 1877h0M1486 1881h0M1472 1882h0M1471 1885h0M1481 1887h0M1477 1884h0M1481 1884h0M1457 1875h0M1545 1862h0M1495 1878h0M1479 1877h0M1462 1888h0M1479 1883h0M1479 1884h0M1462 1884h0M1474 1888h0M1480 1880h0M1473 1893h0M1503 1874h0M1470 1884h0M1512 1870h0M1476 1883h0M1476 1889h0M1481 1882h0M1476 1874h0" stroke="#000" stroke-width="7.8" stroke-linecap="round" stroke-opacity="0.33" fill="none"/>
<path d="M1451 1887h0M1468 1888h0M1478 1892h0M1481 1881h0M1478 1878h0M1470 1882h0M1492 1891h0M1486 1873h0M1481 1890h0M1465 1895h0M1485 1888h0M1518 1880h0M1478 1882h0M1499 1869h0M1486 1885h0M1484 1882h0M1464 1887h0M1484 1889h0M1485 1887h0M1485 1889h0M1468 1880h0M1475 1881h0M1468 1880h0M1482 1892h0M1467 1883h0M1497 1877h0M1477 1886h0M1473 1877h0M1483 1878h0M1505 1878h0M1485 1879h0M1471 1884h0M1477 1876h0M1484 1886h0M1471 1899h0M1480 1888h0M1488 1873h0M1492 1876h0M1473 1877h0M1469 1884h0M1461 1888h0M1484 1883h0M1506 1871h0M1497 1875h0M1477 1883h0M1476 1883h0" stroke="#000" stroke-width="7.8" stroke-linecap="round" stroke-opacity="0.33" fill="none"/>
<path d="M1480 1877h0M1478 1881h0M1480 1882h0M1474 1887h0M1473 1882h0M1477 1884h0M1485 1878h0M1479 1882h0M1489 1876h0M1485 1879h0M1492 1885h0M1470 1890h0M1476 1881h0M1505 1874h0M1480 1886h0M1495 1862h0M1487 1883h0M1495 1872h0M1480 1875h0M1487 1888h0M1507 1883h0M1483 1878h0M1482 1880h0M1478 1876h0M1493 1868h0M1509 1865h0M1468 1884h0M1488 1886h0M1483 1888h0M1511 1871h0M1473 1882h0M1475 1875h0M1475 1885h0M1480 1881h0M1481 1880h0M1480 1889h0M1481 1878h0M1480 1875h0M1470 1891h0M1475 1884h0M1485 1884h0M1489 1877h0M1477 1893h0M1482 1882h0M1498 1876h0M1467 1883h0" stroke="#000" stroke-width="7.8" stroke-linecap="round" stroke-opacity="0.33" fill="none"/>
<path d="M1473 1886h0M1481 1883h0M1467 1884h0M1465 1889h0M1481 1884h0M1483 1877h0M1482 1881h0M1475 1884h0M1475 1884h0M1471 1886h0M1485 1883h0M1477 1889h0M1480 1879h0M1517 1870h0M1473 1881h0M1465 1888h0M1495 1877h0M1470 1877h0M1476 1882h0M1470 1874h0M1473 1887h0M1478 1884h0M1479 1882h0M1485 1883h0M1495 1879h0M1478 1887h0M1476 1892h0M1477 1879h0M1485 1880h0M1479 1876h0M1482 1889h0M1479 1883h0M1487 1886h0M1483 1872h0M1481 1885h0M1470 1881h0M1480 1883h0M1488 1877h0M1467 1880h0M1467 1885h0M1508 1864h0M1470 1891h0M1465 1886h0M1486 1882h0M1474 1887h0M1485 1886h0" stroke="#000" stroke-width="7.8" stroke-linecap="round" stroke-opacity="0.33" fill="none"/>
<path d="M1490 1877h0M1478 1891h0M1487 1879h0M1470 1884h0M1465 1881h0M1487 1885h0M1485 1873h0M1489 1890h0M1473 1887h0M1476 1869h0M1480 1886h0M1491 1881h0M1500 1866h0M1495 1888h0M1474 1881h0M1490 1876h0M1478 1888h0M1479 1886h0M1488 1879h0M1483 1874h0M1467 1889h0M1510 1878h0M1474 1882h0M1487 1882h0M1478 1881h0M1488 1890h0M1465 1892h0M1472 1885h0M1464 1884h0M1484 1889h0M1483 1877h0M1472 1887h0M1481 1880h0M1473 1883h0M1478 1872h0M1488 1878h0M1490 1883h0M1492 1878h0M1471 1886h0M1481 1889h0M1478 1884h0M1469 1887h0M1479 1879h0M1477 1882h0M1478 1890h0M1462 1884h0" stroke="#000" stroke-width="7.8" stroke-linecap="round" stroke-opacity="0.33" fill="none"/>
<path d="M1479 1901h0M1479 1889h0M1476 1888h0M1470 1882h0M1484 1881h0M1479 1898h0M1485 1881h0M1476 1883h0M1509 1881h0M1487 1881h0M1456 1896h0M1494 1879h0M1481 1880h0M1480 1880h0M1479 1887h0M1478 1882h0M1513 1872h0M1481 1887h0M1494 1877h0M1478 1879h0M1480 1878h0M1469 1888h0M1507 1880h0M1477 1882h0M1483 1880h0M1461 1876h0M1470 1885h0M1478 1881h0M1474 1884h0M1468 1880h0M1512 1876h0M1517 1872h0M1468 1877h0M1471 1887h0M1485 1887h0M1480 1888h0M1485 1882h0M1467 1886h0M1473 1883h0M1480 1883h0M1475 1886h0M1478 1878h0M1466 1887h0M1488 1878h0M1475 1886h0M1485 1882h0" stroke="#000" stroke-width="7.8" stroke-linecap="round" stroke-opacity="0.33" fill="none"/>
<path d="M1481 1892h0M1512 1875h0M1471 1888h0M1476 1882h0M1466 1884h0M1475 1888h0M1481 1879h0M1471 1883h0M1474 1888h0M1468 1889h0M1472 1875h0M1474 1885h0M1468 1888h0M1469 1888h0M1473 1877h0M1493 1876h0M1485 1883h0M1519 1872h0M1467 1888h0M1473 1886h0M1473 1896h0M1487 1882h0M1468 1885h0M1473 1884h0M1472 1890h0M1469 1885h0M1483 1880h0M1467 1883h0M1486 1879h0M1466 1893h0M1482 1878h0M1477 1886h0M1489 1884h0M1473 1872h0M1479 1886h0M1476 1876h0M1484 1879h0M1489 1886h0M1499 1878h0M1482 1879h0M1499 1877h0M1481 1889h0M1501 1867h0M1480 1885h0M1479 1877h0M1487 1880h0" stroke="#000" stroke-width="7.8" stroke-linecap="round" stroke-opacity="0.33" fill="none"/>
<line x1="1415.3" y1="1900.8" x2="1601.15" y2="1855.08" stroke="#000" stroke-width="2" />
<path d="M1415.3 1759.55V1945.4H1601.15M1415.3 1933.01h3.2M1427.69 1945.4v-3.2M1415.3 1920.62h3.2M1440.08 1945.4v-3.2M1415.3 1908.23h3.2M1452.47 1945.4v-3.2M1415.3 1895.84h3.2M1464.86 1945.4v-3.2M1415.3 1883.45h3.2M1477.25 1945.4v-3.2M1415.3 1871.06h3.2M1489.64 1945.4v-3.2M1415.3 1858.67h3.2M1502.03 1945.4v-3.2M1415.3 1846.28h3.2M1514.42 1945.4v-3.2M1415.3 1833.89h3.2M1526.81 1945.4v-3.2M1415.3 1821.5h3.2M1539.2 1945.4v-3.2M1415.3 1809.11h3.2M1551.59 1945.4v-3.2M1415.3 1796.72h3.2M1563.98 1945.4v-3.2M1415.3 1784.33h3.2M1576.37 1945.4v-3.2M1415.3 1771.94h3.2M1588.76 1945.4v-3.2M1415.3 1759.55h3.2M1601.15 1945.4v-3.2" stroke="#262626" stroke-width="1.6" fill="none"/>
<text x="1431.6" y="1779.3" font-size="23.5" fill="#000" font-style="italic" textLength="181.3" lengthAdjust="spacingAndGlyphs">Fitting R = 0.525</text>
<text x="1415.3" y="1976" font-size="24" fill="#000" text-anchor="middle" textLength="44.66" lengthAdjust="spacingAndGlyphs">-0.5</text>
<text x="1477.25" y="1976" font-size="24" fill="#000" text-anchor="middle" textLength="14.41" lengthAdjust="spacingAndGlyphs">0</text>
<text x="1539.2" y="1976" font-size="24" fill="#000" text-anchor="middle" textLength="36.03" lengthAdjust="spacingAndGlyphs">0.5</text>
<text x="1599.25" y="1976" font-size="24" fill="#000" text-anchor="middle" textLength="14.41" lengthAdjust="spacingAndGlyphs">1</text>
<text x="1079.5" y="2008.2" font-size="23.5" fill="#000" text-anchor="middle" textLength="150" lengthAdjust="spacingAndGlyphs">Simulated FC</text>
<text x="1300" y="2008.2" font-size="23.5" fill="#000" text-anchor="middle" textLength="150" lengthAdjust="spacingAndGlyphs">Simulated FC</text>
<text x="1516.5" y="2008.2" font-size="23.5" fill="#000" text-anchor="middle" textLength="150" lengthAdjust="spacingAndGlyphs">Simulated FC</text>
<text transform="translate(919,1715) rotate(-90)" x="0" y="0" font-size="24" fill="#000" text-anchor="middle" textLength="141.5" lengthAdjust="spacingAndGlyphs">Empirical FC</text>
<text transform="translate(1653,1609.8) rotate(90)" x="0" y="0" font-size="44" fill="#153f87" text-anchor="middle" textLength="150" lengthAdjust="spacingAndGlyphs">Paxinos</text>
<text transform="translate(1653,1852.9) rotate(90)" x="0" y="0" font-size="44" fill="#80303a" text-anchor="middle" textLength="145.3" lengthAdjust="spacingAndGlyphs">MBMv4</text>
</svg></body></html>
